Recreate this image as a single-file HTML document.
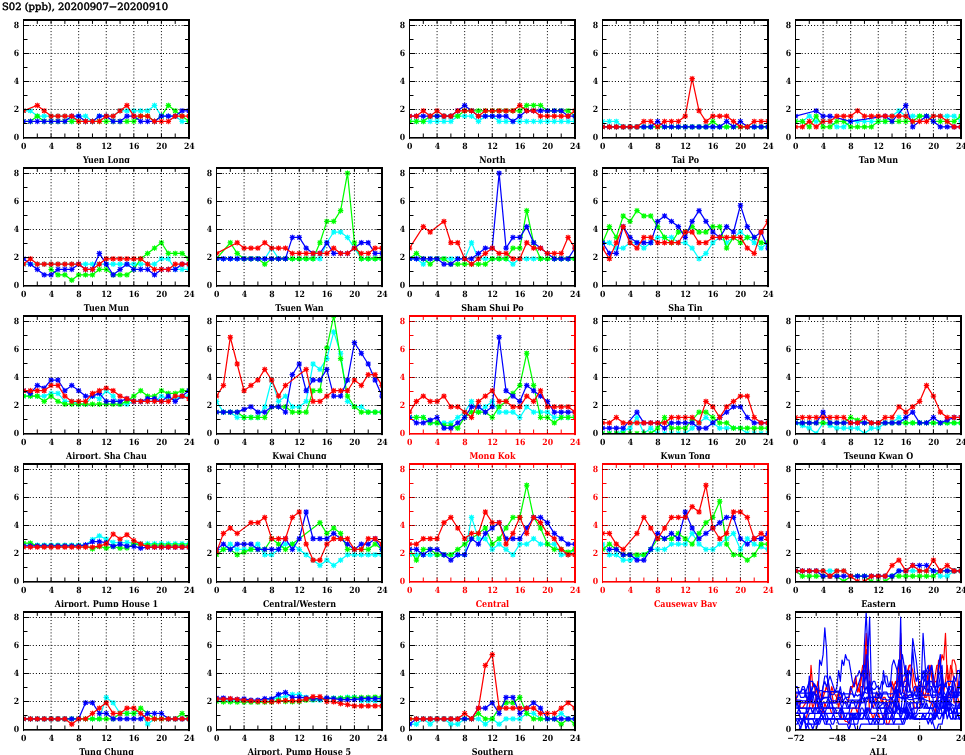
<!DOCTYPE html><html><head><meta charset="utf-8"><title>SO2 (ppb) 20200907-20200910</title><style>html,body{margin:0;padding:0;background:#fff;}svg{display:block;will-change:transform;}text{font-family:"DejaVu Serif Condensed","DejaVu Serif","Liberation Serif",serif;font-weight:bold;font-stretch:condensed;text-rendering:geometricPrecision;}</style></head><body>
<svg width="965" height="755" viewBox="0 0 965 755">
<defs>
<clipPath id="lc0"><rect x="0" y="140" width="965" height="23"/></clipPath>
<clipPath id="lc1"><rect x="0" y="288" width="965" height="23"/></clipPath>
<clipPath id="lc2"><rect x="0" y="436" width="965" height="23"/></clipPath>
<clipPath id="lc3"><rect x="0" y="584" width="965" height="23"/></clipPath>
<clipPath id="lc4"><rect x="0" y="732" width="965" height="23"/></clipPath>
</defs>
<text x="2" y="10.3" font-size="10" style="font-weight:normal" stroke="#000" stroke-width="0.45" textLength="166" lengthAdjust="spacingAndGlyphs">S02 (ppb), 20200907&#8722;20200910</text>
<g><clipPath id="pc00"><rect x="23.5" y="19.9" width="165.5" height="117.6"/></clipPath><g clip-path="url(#pc00)"><polyline points="23.5,110.76 30.4,110.76 37.29,116.11 44.19,116.11 51.08,116.11 57.98,116.11 64.88,116.11 71.77,121.46 78.67,116.11 85.56,116.11 92.46,121.46 99.35,116.11 106.25,116.11 113.15,116.11 120.04,110.76 126.94,110.76 133.83,110.76 140.73,110.76 147.62,110.76 154.52,105.41 161.42,116.11 168.31,116.11 175.21,116.11 182.1,121.46 189,121.46" fill="none" stroke="#00ffff" stroke-width="1.25" stroke-linejoin="round"/><path d="M21.2 110.76h4.6M23.5 108.46v4.6M21.75 109.01l3.5 3.5M21.75 112.51l3.5-3.5M28.1 110.76h4.6M30.4 108.46v4.6M28.65 109.01l3.5 3.5M28.65 112.51l3.5-3.5M34.99 116.11h4.6M37.29 113.81v4.6M35.54 114.36l3.5 3.5M35.54 117.86l3.5-3.5M41.89 116.11h4.6M44.19 113.81v4.6M42.44 114.36l3.5 3.5M42.44 117.86l3.5-3.5M48.78 116.11h4.6M51.08 113.81v4.6M49.33 114.36l3.5 3.5M49.33 117.86l3.5-3.5M55.68 116.11h4.6M57.98 113.81v4.6M56.23 114.36l3.5 3.5M56.23 117.86l3.5-3.5M62.58 116.11h4.6M64.88 113.81v4.6M63.12 114.36l3.5 3.5M63.12 117.86l3.5-3.5M69.47 121.46h4.6M71.77 119.16v4.6M70.02 119.71l3.5 3.5M70.02 123.21l3.5-3.5M76.37 116.11h4.6M78.67 113.81v4.6M76.92 114.36l3.5 3.5M76.92 117.86l3.5-3.5M83.26 116.11h4.6M85.56 113.81v4.6M83.81 114.36l3.5 3.5M83.81 117.86l3.5-3.5M90.16 121.46h4.6M92.46 119.16v4.6M90.71 119.71l3.5 3.5M90.71 123.21l3.5-3.5M97.05 116.11h4.6M99.35 113.81v4.6M97.6 114.36l3.5 3.5M97.6 117.86l3.5-3.5M103.95 116.11h4.6M106.25 113.81v4.6M104.5 114.36l3.5 3.5M104.5 117.86l3.5-3.5M110.85 116.11h4.6M113.15 113.81v4.6M111.4 114.36l3.5 3.5M111.4 117.86l3.5-3.5M117.74 110.76h4.6M120.04 108.46v4.6M118.29 109.01l3.5 3.5M118.29 112.51l3.5-3.5M124.64 110.76h4.6M126.94 108.46v4.6M125.19 109.01l3.5 3.5M125.19 112.51l3.5-3.5M131.53 110.76h4.6M133.83 108.46v4.6M132.08 109.01l3.5 3.5M132.08 112.51l3.5-3.5M138.43 110.76h4.6M140.73 108.46v4.6M138.98 109.01l3.5 3.5M138.98 112.51l3.5-3.5M145.32 110.76h4.6M147.62 108.46v4.6M145.88 109.01l3.5 3.5M145.88 112.51l3.5-3.5M152.22 105.41h4.6M154.52 103.11v4.6M152.77 103.66l3.5 3.5M152.77 107.16l3.5-3.5M159.12 116.11h4.6M161.42 113.81v4.6M159.67 114.36l3.5 3.5M159.67 117.86l3.5-3.5M166.01 116.11h4.6M168.31 113.81v4.6M166.56 114.36l3.5 3.5M166.56 117.86l3.5-3.5M172.91 116.11h4.6M175.21 113.81v4.6M173.46 114.36l3.5 3.5M173.46 117.86l3.5-3.5M179.8 121.46h4.6M182.1 119.16v4.6M180.35 119.71l3.5 3.5M180.35 123.21l3.5-3.5M186.7 121.46h4.6M189 119.16v4.6M187.25 119.71l3.5 3.5M187.25 123.21l3.5-3.5" stroke="#00ffff" stroke-width="1.15" stroke-linecap="round" fill="none"/><polyline points="23.5,121.46 30.4,121.46 37.29,116.11 44.19,121.46 51.08,121.46 57.98,121.46 64.88,121.46 71.77,121.46 78.67,121.46 85.56,121.46 92.46,121.46 99.35,121.46 106.25,121.46 113.15,121.46 120.04,121.46 126.94,121.46 133.83,121.46 140.73,116.11 147.62,116.11 154.52,121.46 161.42,116.11 168.31,105.41 175.21,110.76 182.1,116.11 189,121.46" fill="none" stroke="#00ff00" stroke-width="1.25" stroke-linejoin="round"/><path d="M21.2 121.46h4.6M23.5 119.16v4.6M21.75 119.71l3.5 3.5M21.75 123.21l3.5-3.5M28.1 121.46h4.6M30.4 119.16v4.6M28.65 119.71l3.5 3.5M28.65 123.21l3.5-3.5M34.99 116.11h4.6M37.29 113.81v4.6M35.54 114.36l3.5 3.5M35.54 117.86l3.5-3.5M41.89 121.46h4.6M44.19 119.16v4.6M42.44 119.71l3.5 3.5M42.44 123.21l3.5-3.5M48.78 121.46h4.6M51.08 119.16v4.6M49.33 119.71l3.5 3.5M49.33 123.21l3.5-3.5M55.68 121.46h4.6M57.98 119.16v4.6M56.23 119.71l3.5 3.5M56.23 123.21l3.5-3.5M62.58 121.46h4.6M64.88 119.16v4.6M63.12 119.71l3.5 3.5M63.12 123.21l3.5-3.5M69.47 121.46h4.6M71.77 119.16v4.6M70.02 119.71l3.5 3.5M70.02 123.21l3.5-3.5M76.37 121.46h4.6M78.67 119.16v4.6M76.92 119.71l3.5 3.5M76.92 123.21l3.5-3.5M83.26 121.46h4.6M85.56 119.16v4.6M83.81 119.71l3.5 3.5M83.81 123.21l3.5-3.5M90.16 121.46h4.6M92.46 119.16v4.6M90.71 119.71l3.5 3.5M90.71 123.21l3.5-3.5M97.05 121.46h4.6M99.35 119.16v4.6M97.6 119.71l3.5 3.5M97.6 123.21l3.5-3.5M103.95 121.46h4.6M106.25 119.16v4.6M104.5 119.71l3.5 3.5M104.5 123.21l3.5-3.5M110.85 121.46h4.6M113.15 119.16v4.6M111.4 119.71l3.5 3.5M111.4 123.21l3.5-3.5M117.74 121.46h4.6M120.04 119.16v4.6M118.29 119.71l3.5 3.5M118.29 123.21l3.5-3.5M124.64 121.46h4.6M126.94 119.16v4.6M125.19 119.71l3.5 3.5M125.19 123.21l3.5-3.5M131.53 121.46h4.6M133.83 119.16v4.6M132.08 119.71l3.5 3.5M132.08 123.21l3.5-3.5M138.43 116.11h4.6M140.73 113.81v4.6M138.98 114.36l3.5 3.5M138.98 117.86l3.5-3.5M145.32 116.11h4.6M147.62 113.81v4.6M145.88 114.36l3.5 3.5M145.88 117.86l3.5-3.5M152.22 121.46h4.6M154.52 119.16v4.6M152.77 119.71l3.5 3.5M152.77 123.21l3.5-3.5M159.12 116.11h4.6M161.42 113.81v4.6M159.67 114.36l3.5 3.5M159.67 117.86l3.5-3.5M166.01 105.41h4.6M168.31 103.11v4.6M166.56 103.66l3.5 3.5M166.56 107.16l3.5-3.5M172.91 110.76h4.6M175.21 108.46v4.6M173.46 109.01l3.5 3.5M173.46 112.51l3.5-3.5M179.8 116.11h4.6M182.1 113.81v4.6M180.35 114.36l3.5 3.5M180.35 117.86l3.5-3.5M186.7 121.46h4.6M189 119.16v4.6M187.25 119.71l3.5 3.5M187.25 123.21l3.5-3.5" stroke="#00ff00" stroke-width="1.15" stroke-linecap="round" fill="none"/><polyline points="23.5,121.46 30.4,121.46 37.29,121.46 44.19,121.46 51.08,121.46 57.98,121.46 64.88,121.46 71.77,116.11 78.67,116.11 85.56,121.46 92.46,121.46 99.35,116.11 106.25,116.11 113.15,121.46 120.04,121.46 126.94,116.11 133.83,116.11 140.73,121.46 147.62,121.46 154.52,121.46 161.42,116.11 168.31,116.11 175.21,116.11 182.1,110.76 189,110.76" fill="none" stroke="#0000ff" stroke-width="1.25" stroke-linejoin="round"/><path d="M21.2 121.46h4.6M23.5 119.16v4.6M21.75 119.71l3.5 3.5M21.75 123.21l3.5-3.5M28.1 121.46h4.6M30.4 119.16v4.6M28.65 119.71l3.5 3.5M28.65 123.21l3.5-3.5M34.99 121.46h4.6M37.29 119.16v4.6M35.54 119.71l3.5 3.5M35.54 123.21l3.5-3.5M41.89 121.46h4.6M44.19 119.16v4.6M42.44 119.71l3.5 3.5M42.44 123.21l3.5-3.5M48.78 121.46h4.6M51.08 119.16v4.6M49.33 119.71l3.5 3.5M49.33 123.21l3.5-3.5M55.68 121.46h4.6M57.98 119.16v4.6M56.23 119.71l3.5 3.5M56.23 123.21l3.5-3.5M62.58 121.46h4.6M64.88 119.16v4.6M63.12 119.71l3.5 3.5M63.12 123.21l3.5-3.5M69.47 116.11h4.6M71.77 113.81v4.6M70.02 114.36l3.5 3.5M70.02 117.86l3.5-3.5M76.37 116.11h4.6M78.67 113.81v4.6M76.92 114.36l3.5 3.5M76.92 117.86l3.5-3.5M83.26 121.46h4.6M85.56 119.16v4.6M83.81 119.71l3.5 3.5M83.81 123.21l3.5-3.5M90.16 121.46h4.6M92.46 119.16v4.6M90.71 119.71l3.5 3.5M90.71 123.21l3.5-3.5M97.05 116.11h4.6M99.35 113.81v4.6M97.6 114.36l3.5 3.5M97.6 117.86l3.5-3.5M103.95 116.11h4.6M106.25 113.81v4.6M104.5 114.36l3.5 3.5M104.5 117.86l3.5-3.5M110.85 121.46h4.6M113.15 119.16v4.6M111.4 119.71l3.5 3.5M111.4 123.21l3.5-3.5M117.74 121.46h4.6M120.04 119.16v4.6M118.29 119.71l3.5 3.5M118.29 123.21l3.5-3.5M124.64 116.11h4.6M126.94 113.81v4.6M125.19 114.36l3.5 3.5M125.19 117.86l3.5-3.5M131.53 116.11h4.6M133.83 113.81v4.6M132.08 114.36l3.5 3.5M132.08 117.86l3.5-3.5M138.43 121.46h4.6M140.73 119.16v4.6M138.98 119.71l3.5 3.5M138.98 123.21l3.5-3.5M145.32 121.46h4.6M147.62 119.16v4.6M145.88 119.71l3.5 3.5M145.88 123.21l3.5-3.5M152.22 121.46h4.6M154.52 119.16v4.6M152.77 119.71l3.5 3.5M152.77 123.21l3.5-3.5M159.12 116.11h4.6M161.42 113.81v4.6M159.67 114.36l3.5 3.5M159.67 117.86l3.5-3.5M166.01 116.11h4.6M168.31 113.81v4.6M166.56 114.36l3.5 3.5M166.56 117.86l3.5-3.5M172.91 116.11h4.6M175.21 113.81v4.6M173.46 114.36l3.5 3.5M173.46 117.86l3.5-3.5M179.8 110.76h4.6M182.1 108.46v4.6M180.35 109.01l3.5 3.5M180.35 112.51l3.5-3.5M186.7 110.76h4.6M189 108.46v4.6M187.25 109.01l3.5 3.5M187.25 112.51l3.5-3.5" stroke="#0000ff" stroke-width="1.15" stroke-linecap="round" fill="none"/><polyline points="23.5,110.76 37.29,105.41 44.19,110.76 51.08,116.11 57.98,116.11 64.88,116.11 71.77,116.11 78.67,121.46 85.56,121.46 92.46,121.46 99.35,121.46 106.25,116.11 113.15,116.11 120.04,110.76 126.94,105.41 133.83,116.11 140.73,116.11 147.62,116.11 154.52,121.46 161.42,121.46 168.31,121.46 175.21,116.11 182.1,116.11 189,116.11" fill="none" stroke="#ff0000" stroke-width="1.25" stroke-linejoin="round"/><path d="M21.2 110.76h4.6M23.5 108.46v4.6M21.75 109.01l3.5 3.5M21.75 112.51l3.5-3.5M34.99 105.41h4.6M37.29 103.11v4.6M35.54 103.66l3.5 3.5M35.54 107.16l3.5-3.5M41.89 110.76h4.6M44.19 108.46v4.6M42.44 109.01l3.5 3.5M42.44 112.51l3.5-3.5M48.78 116.11h4.6M51.08 113.81v4.6M49.33 114.36l3.5 3.5M49.33 117.86l3.5-3.5M55.68 116.11h4.6M57.98 113.81v4.6M56.23 114.36l3.5 3.5M56.23 117.86l3.5-3.5M62.58 116.11h4.6M64.88 113.81v4.6M63.12 114.36l3.5 3.5M63.12 117.86l3.5-3.5M69.47 116.11h4.6M71.77 113.81v4.6M70.02 114.36l3.5 3.5M70.02 117.86l3.5-3.5M76.37 121.46h4.6M78.67 119.16v4.6M76.92 119.71l3.5 3.5M76.92 123.21l3.5-3.5M83.26 121.46h4.6M85.56 119.16v4.6M83.81 119.71l3.5 3.5M83.81 123.21l3.5-3.5M90.16 121.46h4.6M92.46 119.16v4.6M90.71 119.71l3.5 3.5M90.71 123.21l3.5-3.5M97.05 121.46h4.6M99.35 119.16v4.6M97.6 119.71l3.5 3.5M97.6 123.21l3.5-3.5M103.95 116.11h4.6M106.25 113.81v4.6M104.5 114.36l3.5 3.5M104.5 117.86l3.5-3.5M110.85 116.11h4.6M113.15 113.81v4.6M111.4 114.36l3.5 3.5M111.4 117.86l3.5-3.5M117.74 110.76h4.6M120.04 108.46v4.6M118.29 109.01l3.5 3.5M118.29 112.51l3.5-3.5M124.64 105.41h4.6M126.94 103.11v4.6M125.19 103.66l3.5 3.5M125.19 107.16l3.5-3.5M131.53 116.11h4.6M133.83 113.81v4.6M132.08 114.36l3.5 3.5M132.08 117.86l3.5-3.5M138.43 116.11h4.6M140.73 113.81v4.6M138.98 114.36l3.5 3.5M138.98 117.86l3.5-3.5M145.32 116.11h4.6M147.62 113.81v4.6M145.88 114.36l3.5 3.5M145.88 117.86l3.5-3.5M152.22 121.46h4.6M154.52 119.16v4.6M152.77 119.71l3.5 3.5M152.77 123.21l3.5-3.5M159.12 121.46h4.6M161.42 119.16v4.6M159.67 119.71l3.5 3.5M159.67 123.21l3.5-3.5M166.01 121.46h4.6M168.31 119.16v4.6M166.56 119.71l3.5 3.5M166.56 123.21l3.5-3.5M172.91 116.11h4.6M175.21 113.81v4.6M173.46 114.36l3.5 3.5M173.46 117.86l3.5-3.5M179.8 116.11h4.6M182.1 113.81v4.6M180.35 114.36l3.5 3.5M180.35 117.86l3.5-3.5M186.7 116.11h4.6M189 113.81v4.6M187.25 114.36l3.5 3.5M187.25 117.86l3.5-3.5" stroke="#ff0000" stroke-width="1.15" stroke-linecap="round" fill="none"/></g><path d="M23.5 137.5v-4M23.5 19.9v4M37.29 137.5v-4M37.29 19.9v4M51.08 137.5v-4M51.08 19.9v4M64.88 137.5v-4M64.88 19.9v4M78.67 137.5v-4M78.67 19.9v4M92.46 137.5v-4M92.46 19.9v4M106.25 137.5v-4M106.25 19.9v4M120.04 137.5v-4M120.04 19.9v4M133.83 137.5v-4M133.83 19.9v4M147.62 137.5v-4M147.62 19.9v4M161.42 137.5v-4M161.42 19.9v4M175.21 137.5v-4M175.21 19.9v4M189 137.5v-4M189 19.9v4M23.5 137.5h5.5M189 137.5h-5.5M23.5 123.5h4M189 123.5h-4M23.5 109.5h5.5M189 109.5h-5.5M23.5 95.5h4M189 95.5h-4M23.5 81.5h5.5M189 81.5h-5.5M23.5 67.5h4M189 67.5h-4M23.5 53.5h5.5M189 53.5h-5.5M23.5 39.5h4M189 39.5h-4M23.5 25.5h5.5M189 25.5h-5.5" stroke="#000" stroke-width="1" fill="none"/><rect x="23" y="19" width="1" height="120.1" fill="#000"/><rect x="188" y="19" width="2" height="120.1" fill="#000"/><rect x="23" y="19" width="167" height="2" fill="#000"/><rect x="23" y="137" width="167" height="1.6" fill="#000"/><line x1="23.5" y1="109.5" x2="189" y2="109.5" stroke="#000" stroke-width="1" stroke-dasharray="1 2.1"/><line x1="23.5" y1="81.5" x2="189" y2="81.5" stroke="#000" stroke-width="1" stroke-dasharray="1 2.1"/><line x1="23.5" y1="53.5" x2="189" y2="53.5" stroke="#000" stroke-width="1" stroke-dasharray="1 2.1"/><line x1="23.5" y1="25.5" x2="189" y2="25.5" stroke="#000" stroke-width="1" stroke-dasharray="1 2.1"/><line x1="51.08" y1="137.5" x2="51.08" y2="19.9" stroke="#000" stroke-width="1" stroke-dasharray="1 2.1"/><line x1="78.67" y1="137.5" x2="78.67" y2="19.9" stroke="#000" stroke-width="1" stroke-dasharray="1 2.1"/><line x1="106.25" y1="137.5" x2="106.25" y2="19.9" stroke="#000" stroke-width="1" stroke-dasharray="1 2.1"/><line x1="133.83" y1="137.5" x2="133.83" y2="19.9" stroke="#000" stroke-width="1" stroke-dasharray="1 2.1"/><line x1="161.42" y1="137.5" x2="161.42" y2="19.9" stroke="#000" stroke-width="1" stroke-dasharray="1 2.1"/><text x="19.2" y="139.9" font-size="8.6" text-anchor="end" fill="#000">0</text><text x="19.2" y="111.9" font-size="8.6" text-anchor="end" fill="#000">2</text><text x="19.2" y="83.9" font-size="8.6" text-anchor="end" fill="#000">4</text><text x="19.2" y="55.9" font-size="8.6" text-anchor="end" fill="#000">6</text><text x="19.2" y="27.9" font-size="8.6" text-anchor="end" fill="#000">8</text><text x="23.8" y="149" font-size="8.6" text-anchor="middle" fill="#000">0</text><text x="51.38" y="149" font-size="8.6" text-anchor="middle" fill="#000">4</text><text x="78.97" y="149" font-size="8.6" text-anchor="middle" fill="#000">8</text><text x="106.55" y="149" font-size="8.6" text-anchor="middle" fill="#000">12</text><text x="134.13" y="149" font-size="8.6" text-anchor="middle" fill="#000">16</text><text x="161.72" y="149" font-size="8.6" text-anchor="middle" fill="#000">20</text><text x="189.3" y="149" font-size="8.6" text-anchor="middle" fill="#000">24</text><text x="106.45" y="162.6" font-size="9.2" text-anchor="middle" textLength="46.86" lengthAdjust="spacingAndGlyphs" fill="#000" clip-path="url(#lc0)">Yuen Long</text></g>
<g><clipPath id="pc02"><rect x="409.5" y="19.9" width="165.5" height="117.6"/></clipPath><g clip-path="url(#pc02)"><polyline points="409.5,121.46 416.4,121.46 423.29,121.46 430.19,121.46 437.08,121.46 443.98,121.46 450.88,121.46 457.77,116.11 464.67,116.11 471.56,116.11 478.46,121.46 485.35,116.11 492.25,116.11 499.15,121.46 506.04,121.46 512.94,121.46 519.83,121.46 526.73,121.46 533.62,121.46 540.52,121.46 547.42,121.46 554.31,121.46 561.21,121.46 568.1,121.46 575,121.46" fill="none" stroke="#00ffff" stroke-width="1.25" stroke-linejoin="round"/><path d="M407.2 121.46h4.6M409.5 119.16v4.6M407.75 119.71l3.5 3.5M407.75 123.21l3.5-3.5M414.1 121.46h4.6M416.4 119.16v4.6M414.65 119.71l3.5 3.5M414.65 123.21l3.5-3.5M420.99 121.46h4.6M423.29 119.16v4.6M421.54 119.71l3.5 3.5M421.54 123.21l3.5-3.5M427.89 121.46h4.6M430.19 119.16v4.6M428.44 119.71l3.5 3.5M428.44 123.21l3.5-3.5M434.78 121.46h4.6M437.08 119.16v4.6M435.33 119.71l3.5 3.5M435.33 123.21l3.5-3.5M441.68 121.46h4.6M443.98 119.16v4.6M442.23 119.71l3.5 3.5M442.23 123.21l3.5-3.5M448.57 121.46h4.6M450.88 119.16v4.6M449.12 119.71l3.5 3.5M449.12 123.21l3.5-3.5M455.47 116.11h4.6M457.77 113.81v4.6M456.02 114.36l3.5 3.5M456.02 117.86l3.5-3.5M462.37 116.11h4.6M464.67 113.81v4.6M462.92 114.36l3.5 3.5M462.92 117.86l3.5-3.5M469.26 116.11h4.6M471.56 113.81v4.6M469.81 114.36l3.5 3.5M469.81 117.86l3.5-3.5M476.16 121.46h4.6M478.46 119.16v4.6M476.71 119.71l3.5 3.5M476.71 123.21l3.5-3.5M483.05 116.11h4.6M485.35 113.81v4.6M483.6 114.36l3.5 3.5M483.6 117.86l3.5-3.5M489.95 116.11h4.6M492.25 113.81v4.6M490.5 114.36l3.5 3.5M490.5 117.86l3.5-3.5M496.85 121.46h4.6M499.15 119.16v4.6M497.4 119.71l3.5 3.5M497.4 123.21l3.5-3.5M503.74 121.46h4.6M506.04 119.16v4.6M504.29 119.71l3.5 3.5M504.29 123.21l3.5-3.5M510.64 121.46h4.6M512.94 119.16v4.6M511.19 119.71l3.5 3.5M511.19 123.21l3.5-3.5M517.53 121.46h4.6M519.83 119.16v4.6M518.08 119.71l3.5 3.5M518.08 123.21l3.5-3.5M524.43 121.46h4.6M526.73 119.16v4.6M524.98 119.71l3.5 3.5M524.98 123.21l3.5-3.5M531.33 121.46h4.6M533.62 119.16v4.6M531.88 119.71l3.5 3.5M531.88 123.21l3.5-3.5M538.22 121.46h4.6M540.52 119.16v4.6M538.77 119.71l3.5 3.5M538.77 123.21l3.5-3.5M545.12 121.46h4.6M547.42 119.16v4.6M545.67 119.71l3.5 3.5M545.67 123.21l3.5-3.5M552.01 121.46h4.6M554.31 119.16v4.6M552.56 119.71l3.5 3.5M552.56 123.21l3.5-3.5M558.91 121.46h4.6M561.21 119.16v4.6M559.46 119.71l3.5 3.5M559.46 123.21l3.5-3.5M565.8 121.46h4.6M568.1 119.16v4.6M566.35 119.71l3.5 3.5M566.35 123.21l3.5-3.5M572.7 121.46h4.6M575 119.16v4.6M573.25 119.71l3.5 3.5M573.25 123.21l3.5-3.5" stroke="#00ffff" stroke-width="1.15" stroke-linecap="round" fill="none"/><polyline points="409.5,121.46 416.4,121.46 423.29,121.46 430.19,116.11 437.08,116.11 443.98,116.11 450.88,116.11 457.77,116.11 464.67,110.76 471.56,110.76 478.46,110.76 485.35,110.76 492.25,110.76 499.15,110.76 506.04,110.76 512.94,110.76 519.83,110.76 526.73,105.41 533.62,105.41 540.52,105.41 547.42,110.76 554.31,110.76 561.21,110.76 568.1,110.76 575,116.11" fill="none" stroke="#00ff00" stroke-width="1.25" stroke-linejoin="round"/><path d="M407.2 121.46h4.6M409.5 119.16v4.6M407.75 119.71l3.5 3.5M407.75 123.21l3.5-3.5M414.1 121.46h4.6M416.4 119.16v4.6M414.65 119.71l3.5 3.5M414.65 123.21l3.5-3.5M420.99 121.46h4.6M423.29 119.16v4.6M421.54 119.71l3.5 3.5M421.54 123.21l3.5-3.5M427.89 116.11h4.6M430.19 113.81v4.6M428.44 114.36l3.5 3.5M428.44 117.86l3.5-3.5M434.78 116.11h4.6M437.08 113.81v4.6M435.33 114.36l3.5 3.5M435.33 117.86l3.5-3.5M441.68 116.11h4.6M443.98 113.81v4.6M442.23 114.36l3.5 3.5M442.23 117.86l3.5-3.5M448.57 116.11h4.6M450.88 113.81v4.6M449.12 114.36l3.5 3.5M449.12 117.86l3.5-3.5M455.47 116.11h4.6M457.77 113.81v4.6M456.02 114.36l3.5 3.5M456.02 117.86l3.5-3.5M462.37 110.76h4.6M464.67 108.46v4.6M462.92 109.01l3.5 3.5M462.92 112.51l3.5-3.5M469.26 110.76h4.6M471.56 108.46v4.6M469.81 109.01l3.5 3.5M469.81 112.51l3.5-3.5M476.16 110.76h4.6M478.46 108.46v4.6M476.71 109.01l3.5 3.5M476.71 112.51l3.5-3.5M483.05 110.76h4.6M485.35 108.46v4.6M483.6 109.01l3.5 3.5M483.6 112.51l3.5-3.5M489.95 110.76h4.6M492.25 108.46v4.6M490.5 109.01l3.5 3.5M490.5 112.51l3.5-3.5M496.85 110.76h4.6M499.15 108.46v4.6M497.4 109.01l3.5 3.5M497.4 112.51l3.5-3.5M503.74 110.76h4.6M506.04 108.46v4.6M504.29 109.01l3.5 3.5M504.29 112.51l3.5-3.5M510.64 110.76h4.6M512.94 108.46v4.6M511.19 109.01l3.5 3.5M511.19 112.51l3.5-3.5M517.53 110.76h4.6M519.83 108.46v4.6M518.08 109.01l3.5 3.5M518.08 112.51l3.5-3.5M524.43 105.41h4.6M526.73 103.11v4.6M524.98 103.66l3.5 3.5M524.98 107.16l3.5-3.5M531.33 105.41h4.6M533.62 103.11v4.6M531.88 103.66l3.5 3.5M531.88 107.16l3.5-3.5M538.22 105.41h4.6M540.52 103.11v4.6M538.77 103.66l3.5 3.5M538.77 107.16l3.5-3.5M545.12 110.76h4.6M547.42 108.46v4.6M545.67 109.01l3.5 3.5M545.67 112.51l3.5-3.5M552.01 110.76h4.6M554.31 108.46v4.6M552.56 109.01l3.5 3.5M552.56 112.51l3.5-3.5M558.91 110.76h4.6M561.21 108.46v4.6M559.46 109.01l3.5 3.5M559.46 112.51l3.5-3.5M565.8 110.76h4.6M568.1 108.46v4.6M566.35 109.01l3.5 3.5M566.35 112.51l3.5-3.5M572.7 116.11h4.6M575 113.81v4.6M573.25 114.36l3.5 3.5M573.25 117.86l3.5-3.5" stroke="#00ff00" stroke-width="1.15" stroke-linecap="round" fill="none"/><polyline points="409.5,116.11 416.4,116.11 423.29,116.11 430.19,116.11 437.08,116.11 443.98,116.11 450.88,116.11 457.77,110.76 464.67,105.41 471.56,110.76 478.46,116.11 485.35,116.11 492.25,116.11 499.15,116.11 506.04,116.11 512.94,121.46 519.83,116.11 526.73,110.76 533.62,110.76 540.52,110.76 547.42,110.76 554.31,110.76 561.21,110.76 568.1,116.11 575,116.11" fill="none" stroke="#0000ff" stroke-width="1.25" stroke-linejoin="round"/><path d="M407.2 116.11h4.6M409.5 113.81v4.6M407.75 114.36l3.5 3.5M407.75 117.86l3.5-3.5M414.1 116.11h4.6M416.4 113.81v4.6M414.65 114.36l3.5 3.5M414.65 117.86l3.5-3.5M420.99 116.11h4.6M423.29 113.81v4.6M421.54 114.36l3.5 3.5M421.54 117.86l3.5-3.5M427.89 116.11h4.6M430.19 113.81v4.6M428.44 114.36l3.5 3.5M428.44 117.86l3.5-3.5M434.78 116.11h4.6M437.08 113.81v4.6M435.33 114.36l3.5 3.5M435.33 117.86l3.5-3.5M441.68 116.11h4.6M443.98 113.81v4.6M442.23 114.36l3.5 3.5M442.23 117.86l3.5-3.5M448.57 116.11h4.6M450.88 113.81v4.6M449.12 114.36l3.5 3.5M449.12 117.86l3.5-3.5M455.47 110.76h4.6M457.77 108.46v4.6M456.02 109.01l3.5 3.5M456.02 112.51l3.5-3.5M462.37 105.41h4.6M464.67 103.11v4.6M462.92 103.66l3.5 3.5M462.92 107.16l3.5-3.5M469.26 110.76h4.6M471.56 108.46v4.6M469.81 109.01l3.5 3.5M469.81 112.51l3.5-3.5M476.16 116.11h4.6M478.46 113.81v4.6M476.71 114.36l3.5 3.5M476.71 117.86l3.5-3.5M483.05 116.11h4.6M485.35 113.81v4.6M483.6 114.36l3.5 3.5M483.6 117.86l3.5-3.5M489.95 116.11h4.6M492.25 113.81v4.6M490.5 114.36l3.5 3.5M490.5 117.86l3.5-3.5M496.85 116.11h4.6M499.15 113.81v4.6M497.4 114.36l3.5 3.5M497.4 117.86l3.5-3.5M503.74 116.11h4.6M506.04 113.81v4.6M504.29 114.36l3.5 3.5M504.29 117.86l3.5-3.5M510.64 121.46h4.6M512.94 119.16v4.6M511.19 119.71l3.5 3.5M511.19 123.21l3.5-3.5M517.53 116.11h4.6M519.83 113.81v4.6M518.08 114.36l3.5 3.5M518.08 117.86l3.5-3.5M524.43 110.76h4.6M526.73 108.46v4.6M524.98 109.01l3.5 3.5M524.98 112.51l3.5-3.5M531.33 110.76h4.6M533.62 108.46v4.6M531.88 109.01l3.5 3.5M531.88 112.51l3.5-3.5M538.22 110.76h4.6M540.52 108.46v4.6M538.77 109.01l3.5 3.5M538.77 112.51l3.5-3.5M545.12 110.76h4.6M547.42 108.46v4.6M545.67 109.01l3.5 3.5M545.67 112.51l3.5-3.5M552.01 110.76h4.6M554.31 108.46v4.6M552.56 109.01l3.5 3.5M552.56 112.51l3.5-3.5M558.91 110.76h4.6M561.21 108.46v4.6M559.46 109.01l3.5 3.5M559.46 112.51l3.5-3.5M565.8 116.11h4.6M568.1 113.81v4.6M566.35 114.36l3.5 3.5M566.35 117.86l3.5-3.5M572.7 116.11h4.6M575 113.81v4.6M573.25 114.36l3.5 3.5M573.25 117.86l3.5-3.5" stroke="#0000ff" stroke-width="1.15" stroke-linecap="round" fill="none"/><polyline points="409.5,116.11 416.4,116.11 423.29,110.76 430.19,116.11 437.08,110.76 443.98,116.11 450.88,116.11 457.77,110.76 464.67,110.76 471.56,110.76 478.46,116.11 485.35,110.76 492.25,110.76 499.15,110.76 506.04,110.76 512.94,110.76 519.83,105.41 526.73,110.76 533.62,110.76 540.52,116.11 547.42,116.11 554.31,116.11 561.21,116.11 568.1,116.11 575,110.76" fill="none" stroke="#ff0000" stroke-width="1.25" stroke-linejoin="round"/><path d="M407.2 116.11h4.6M409.5 113.81v4.6M407.75 114.36l3.5 3.5M407.75 117.86l3.5-3.5M414.1 116.11h4.6M416.4 113.81v4.6M414.65 114.36l3.5 3.5M414.65 117.86l3.5-3.5M420.99 110.76h4.6M423.29 108.46v4.6M421.54 109.01l3.5 3.5M421.54 112.51l3.5-3.5M427.89 116.11h4.6M430.19 113.81v4.6M428.44 114.36l3.5 3.5M428.44 117.86l3.5-3.5M434.78 110.76h4.6M437.08 108.46v4.6M435.33 109.01l3.5 3.5M435.33 112.51l3.5-3.5M441.68 116.11h4.6M443.98 113.81v4.6M442.23 114.36l3.5 3.5M442.23 117.86l3.5-3.5M448.57 116.11h4.6M450.88 113.81v4.6M449.12 114.36l3.5 3.5M449.12 117.86l3.5-3.5M455.47 110.76h4.6M457.77 108.46v4.6M456.02 109.01l3.5 3.5M456.02 112.51l3.5-3.5M462.37 110.76h4.6M464.67 108.46v4.6M462.92 109.01l3.5 3.5M462.92 112.51l3.5-3.5M469.26 110.76h4.6M471.56 108.46v4.6M469.81 109.01l3.5 3.5M469.81 112.51l3.5-3.5M476.16 116.11h4.6M478.46 113.81v4.6M476.71 114.36l3.5 3.5M476.71 117.86l3.5-3.5M483.05 110.76h4.6M485.35 108.46v4.6M483.6 109.01l3.5 3.5M483.6 112.51l3.5-3.5M489.95 110.76h4.6M492.25 108.46v4.6M490.5 109.01l3.5 3.5M490.5 112.51l3.5-3.5M496.85 110.76h4.6M499.15 108.46v4.6M497.4 109.01l3.5 3.5M497.4 112.51l3.5-3.5M503.74 110.76h4.6M506.04 108.46v4.6M504.29 109.01l3.5 3.5M504.29 112.51l3.5-3.5M510.64 110.76h4.6M512.94 108.46v4.6M511.19 109.01l3.5 3.5M511.19 112.51l3.5-3.5M517.53 105.41h4.6M519.83 103.11v4.6M518.08 103.66l3.5 3.5M518.08 107.16l3.5-3.5M524.43 110.76h4.6M526.73 108.46v4.6M524.98 109.01l3.5 3.5M524.98 112.51l3.5-3.5M531.33 110.76h4.6M533.62 108.46v4.6M531.88 109.01l3.5 3.5M531.88 112.51l3.5-3.5M538.22 116.11h4.6M540.52 113.81v4.6M538.77 114.36l3.5 3.5M538.77 117.86l3.5-3.5M545.12 116.11h4.6M547.42 113.81v4.6M545.67 114.36l3.5 3.5M545.67 117.86l3.5-3.5M552.01 116.11h4.6M554.31 113.81v4.6M552.56 114.36l3.5 3.5M552.56 117.86l3.5-3.5M558.91 116.11h4.6M561.21 113.81v4.6M559.46 114.36l3.5 3.5M559.46 117.86l3.5-3.5M565.8 116.11h4.6M568.1 113.81v4.6M566.35 114.36l3.5 3.5M566.35 117.86l3.5-3.5M572.7 110.76h4.6M575 108.46v4.6M573.25 109.01l3.5 3.5M573.25 112.51l3.5-3.5" stroke="#ff0000" stroke-width="1.15" stroke-linecap="round" fill="none"/></g><path d="M409.5 137.5v-4M409.5 19.9v4M423.29 137.5v-4M423.29 19.9v4M437.08 137.5v-4M437.08 19.9v4M450.88 137.5v-4M450.88 19.9v4M464.67 137.5v-4M464.67 19.9v4M478.46 137.5v-4M478.46 19.9v4M492.25 137.5v-4M492.25 19.9v4M506.04 137.5v-4M506.04 19.9v4M519.83 137.5v-4M519.83 19.9v4M533.62 137.5v-4M533.62 19.9v4M547.42 137.5v-4M547.42 19.9v4M561.21 137.5v-4M561.21 19.9v4M575 137.5v-4M575 19.9v4M409.5 137.5h5.5M575 137.5h-5.5M409.5 123.5h4M575 123.5h-4M409.5 109.5h5.5M575 109.5h-5.5M409.5 95.5h4M575 95.5h-4M409.5 81.5h5.5M575 81.5h-5.5M409.5 67.5h4M575 67.5h-4M409.5 53.5h5.5M575 53.5h-5.5M409.5 39.5h4M575 39.5h-4M409.5 25.5h5.5M575 25.5h-5.5" stroke="#000" stroke-width="1" fill="none"/><rect x="409" y="19" width="1" height="120.1" fill="#000"/><rect x="574" y="19" width="2" height="120.1" fill="#000"/><rect x="409" y="19" width="167" height="2" fill="#000"/><rect x="409" y="137" width="167" height="1.6" fill="#000"/><line x1="409.5" y1="109.5" x2="575" y2="109.5" stroke="#000" stroke-width="1" stroke-dasharray="1 2.1"/><line x1="409.5" y1="81.5" x2="575" y2="81.5" stroke="#000" stroke-width="1" stroke-dasharray="1 2.1"/><line x1="409.5" y1="53.5" x2="575" y2="53.5" stroke="#000" stroke-width="1" stroke-dasharray="1 2.1"/><line x1="409.5" y1="25.5" x2="575" y2="25.5" stroke="#000" stroke-width="1" stroke-dasharray="1 2.1"/><line x1="437.08" y1="137.5" x2="437.08" y2="19.9" stroke="#000" stroke-width="1" stroke-dasharray="1 2.1"/><line x1="464.67" y1="137.5" x2="464.67" y2="19.9" stroke="#000" stroke-width="1" stroke-dasharray="1 2.1"/><line x1="492.25" y1="137.5" x2="492.25" y2="19.9" stroke="#000" stroke-width="1" stroke-dasharray="1 2.1"/><line x1="519.83" y1="137.5" x2="519.83" y2="19.9" stroke="#000" stroke-width="1" stroke-dasharray="1 2.1"/><line x1="547.42" y1="137.5" x2="547.42" y2="19.9" stroke="#000" stroke-width="1" stroke-dasharray="1 2.1"/><text x="405.2" y="139.9" font-size="8.6" text-anchor="end" fill="#000">0</text><text x="405.2" y="111.9" font-size="8.6" text-anchor="end" fill="#000">2</text><text x="405.2" y="83.9" font-size="8.6" text-anchor="end" fill="#000">4</text><text x="405.2" y="55.9" font-size="8.6" text-anchor="end" fill="#000">6</text><text x="405.2" y="27.9" font-size="8.6" text-anchor="end" fill="#000">8</text><text x="409.8" y="149" font-size="8.6" text-anchor="middle" fill="#000">0</text><text x="437.38" y="149" font-size="8.6" text-anchor="middle" fill="#000">4</text><text x="464.97" y="149" font-size="8.6" text-anchor="middle" fill="#000">8</text><text x="492.55" y="149" font-size="8.6" text-anchor="middle" fill="#000">12</text><text x="520.13" y="149" font-size="8.6" text-anchor="middle" fill="#000">16</text><text x="547.72" y="149" font-size="8.6" text-anchor="middle" fill="#000">20</text><text x="575.3" y="149" font-size="8.6" text-anchor="middle" fill="#000">24</text><text x="492.45" y="162.6" font-size="9.2" text-anchor="middle" textLength="26.4" lengthAdjust="spacingAndGlyphs" fill="#000" clip-path="url(#lc0)">North</text></g>
<g><clipPath id="pc03"><rect x="602.5" y="19.9" width="165.5" height="117.6"/></clipPath><g clip-path="url(#pc03)"><polyline points="602.5,121.46 609.4,121.46 616.29,121.46 623.19,126.8 630.08,126.8 636.98,126.8 643.88,126.8 650.77,126.8 657.67,126.8 664.56,126.8 671.46,126.8 678.35,126.8 685.25,126.8 692.15,126.8 699.04,126.8 705.94,126.8 712.83,126.8 719.73,126.8 726.62,126.8 733.52,126.8 740.42,126.8 747.31,126.8 754.21,126.8 761.1,126.8 768,126.8" fill="none" stroke="#00ffff" stroke-width="1.25" stroke-linejoin="round"/><path d="M600.2 121.46h4.6M602.5 119.16v4.6M600.75 119.71l3.5 3.5M600.75 123.21l3.5-3.5M607.1 121.46h4.6M609.4 119.16v4.6M607.65 119.71l3.5 3.5M607.65 123.21l3.5-3.5M613.99 121.46h4.6M616.29 119.16v4.6M614.54 119.71l3.5 3.5M614.54 123.21l3.5-3.5M620.89 126.8h4.6M623.19 124.5v4.6M621.44 125.05l3.5 3.5M621.44 128.55l3.5-3.5M627.78 126.8h4.6M630.08 124.5v4.6M628.33 125.05l3.5 3.5M628.33 128.55l3.5-3.5M634.68 126.8h4.6M636.98 124.5v4.6M635.23 125.05l3.5 3.5M635.23 128.55l3.5-3.5M641.58 126.8h4.6M643.88 124.5v4.6M642.12 125.05l3.5 3.5M642.12 128.55l3.5-3.5M648.47 126.8h4.6M650.77 124.5v4.6M649.02 125.05l3.5 3.5M649.02 128.55l3.5-3.5M655.37 126.8h4.6M657.67 124.5v4.6M655.92 125.05l3.5 3.5M655.92 128.55l3.5-3.5M662.26 126.8h4.6M664.56 124.5v4.6M662.81 125.05l3.5 3.5M662.81 128.55l3.5-3.5M669.16 126.8h4.6M671.46 124.5v4.6M669.71 125.05l3.5 3.5M669.71 128.55l3.5-3.5M676.05 126.8h4.6M678.35 124.5v4.6M676.6 125.05l3.5 3.5M676.6 128.55l3.5-3.5M682.95 126.8h4.6M685.25 124.5v4.6M683.5 125.05l3.5 3.5M683.5 128.55l3.5-3.5M689.85 126.8h4.6M692.15 124.5v4.6M690.4 125.05l3.5 3.5M690.4 128.55l3.5-3.5M696.74 126.8h4.6M699.04 124.5v4.6M697.29 125.05l3.5 3.5M697.29 128.55l3.5-3.5M703.64 126.8h4.6M705.94 124.5v4.6M704.19 125.05l3.5 3.5M704.19 128.55l3.5-3.5M710.53 126.8h4.6M712.83 124.5v4.6M711.08 125.05l3.5 3.5M711.08 128.55l3.5-3.5M717.43 126.8h4.6M719.73 124.5v4.6M717.98 125.05l3.5 3.5M717.98 128.55l3.5-3.5M724.33 126.8h4.6M726.62 124.5v4.6M724.88 125.05l3.5 3.5M724.88 128.55l3.5-3.5M731.22 126.8h4.6M733.52 124.5v4.6M731.77 125.05l3.5 3.5M731.77 128.55l3.5-3.5M738.12 126.8h4.6M740.42 124.5v4.6M738.67 125.05l3.5 3.5M738.67 128.55l3.5-3.5M745.01 126.8h4.6M747.31 124.5v4.6M745.56 125.05l3.5 3.5M745.56 128.55l3.5-3.5M751.91 126.8h4.6M754.21 124.5v4.6M752.46 125.05l3.5 3.5M752.46 128.55l3.5-3.5M758.8 126.8h4.6M761.1 124.5v4.6M759.35 125.05l3.5 3.5M759.35 128.55l3.5-3.5M765.7 126.8h4.6M768 124.5v4.6M766.25 125.05l3.5 3.5M766.25 128.55l3.5-3.5" stroke="#00ffff" stroke-width="1.15" stroke-linecap="round" fill="none"/><polyline points="602.5,126.8 609.4,126.8 616.29,126.8 623.19,126.8 630.08,126.8 636.98,126.8 643.88,126.8 650.77,126.8 657.67,126.8 664.56,126.8 671.46,126.8 678.35,126.8 685.25,126.8 692.15,126.8 699.04,126.8 705.94,126.8 712.83,121.46 719.73,126.8 726.62,126.8 733.52,126.8 740.42,126.8 747.31,126.8 754.21,126.8 761.1,126.8 768,126.8" fill="none" stroke="#00ff00" stroke-width="1.25" stroke-linejoin="round"/><path d="M600.2 126.8h4.6M602.5 124.5v4.6M600.75 125.05l3.5 3.5M600.75 128.55l3.5-3.5M607.1 126.8h4.6M609.4 124.5v4.6M607.65 125.05l3.5 3.5M607.65 128.55l3.5-3.5M613.99 126.8h4.6M616.29 124.5v4.6M614.54 125.05l3.5 3.5M614.54 128.55l3.5-3.5M620.89 126.8h4.6M623.19 124.5v4.6M621.44 125.05l3.5 3.5M621.44 128.55l3.5-3.5M627.78 126.8h4.6M630.08 124.5v4.6M628.33 125.05l3.5 3.5M628.33 128.55l3.5-3.5M634.68 126.8h4.6M636.98 124.5v4.6M635.23 125.05l3.5 3.5M635.23 128.55l3.5-3.5M641.58 126.8h4.6M643.88 124.5v4.6M642.12 125.05l3.5 3.5M642.12 128.55l3.5-3.5M648.47 126.8h4.6M650.77 124.5v4.6M649.02 125.05l3.5 3.5M649.02 128.55l3.5-3.5M655.37 126.8h4.6M657.67 124.5v4.6M655.92 125.05l3.5 3.5M655.92 128.55l3.5-3.5M662.26 126.8h4.6M664.56 124.5v4.6M662.81 125.05l3.5 3.5M662.81 128.55l3.5-3.5M669.16 126.8h4.6M671.46 124.5v4.6M669.71 125.05l3.5 3.5M669.71 128.55l3.5-3.5M676.05 126.8h4.6M678.35 124.5v4.6M676.6 125.05l3.5 3.5M676.6 128.55l3.5-3.5M682.95 126.8h4.6M685.25 124.5v4.6M683.5 125.05l3.5 3.5M683.5 128.55l3.5-3.5M689.85 126.8h4.6M692.15 124.5v4.6M690.4 125.05l3.5 3.5M690.4 128.55l3.5-3.5M696.74 126.8h4.6M699.04 124.5v4.6M697.29 125.05l3.5 3.5M697.29 128.55l3.5-3.5M703.64 126.8h4.6M705.94 124.5v4.6M704.19 125.05l3.5 3.5M704.19 128.55l3.5-3.5M710.53 121.46h4.6M712.83 119.16v4.6M711.08 119.71l3.5 3.5M711.08 123.21l3.5-3.5M717.43 126.8h4.6M719.73 124.5v4.6M717.98 125.05l3.5 3.5M717.98 128.55l3.5-3.5M724.33 126.8h4.6M726.62 124.5v4.6M724.88 125.05l3.5 3.5M724.88 128.55l3.5-3.5M731.22 126.8h4.6M733.52 124.5v4.6M731.77 125.05l3.5 3.5M731.77 128.55l3.5-3.5M738.12 126.8h4.6M740.42 124.5v4.6M738.67 125.05l3.5 3.5M738.67 128.55l3.5-3.5M745.01 126.8h4.6M747.31 124.5v4.6M745.56 125.05l3.5 3.5M745.56 128.55l3.5-3.5M751.91 126.8h4.6M754.21 124.5v4.6M752.46 125.05l3.5 3.5M752.46 128.55l3.5-3.5M758.8 126.8h4.6M761.1 124.5v4.6M759.35 125.05l3.5 3.5M759.35 128.55l3.5-3.5M765.7 126.8h4.6M768 124.5v4.6M766.25 125.05l3.5 3.5M766.25 128.55l3.5-3.5" stroke="#00ff00" stroke-width="1.15" stroke-linecap="round" fill="none"/><polyline points="602.5,126.8 609.4,126.8 616.29,126.8 623.19,126.8 630.08,126.8 636.98,126.8 643.88,126.8 650.77,126.8 657.67,121.46 664.56,126.8 671.46,126.8 678.35,126.8 685.25,126.8 692.15,126.8 699.04,126.8 705.94,126.8 712.83,126.8 719.73,126.8 726.62,121.46 733.52,126.8 740.42,121.46 747.31,126.8 754.21,126.8 761.1,126.8 768,126.8" fill="none" stroke="#0000ff" stroke-width="1.25" stroke-linejoin="round"/><path d="M600.2 126.8h4.6M602.5 124.5v4.6M600.75 125.05l3.5 3.5M600.75 128.55l3.5-3.5M607.1 126.8h4.6M609.4 124.5v4.6M607.65 125.05l3.5 3.5M607.65 128.55l3.5-3.5M613.99 126.8h4.6M616.29 124.5v4.6M614.54 125.05l3.5 3.5M614.54 128.55l3.5-3.5M620.89 126.8h4.6M623.19 124.5v4.6M621.44 125.05l3.5 3.5M621.44 128.55l3.5-3.5M627.78 126.8h4.6M630.08 124.5v4.6M628.33 125.05l3.5 3.5M628.33 128.55l3.5-3.5M634.68 126.8h4.6M636.98 124.5v4.6M635.23 125.05l3.5 3.5M635.23 128.55l3.5-3.5M641.58 126.8h4.6M643.88 124.5v4.6M642.12 125.05l3.5 3.5M642.12 128.55l3.5-3.5M648.47 126.8h4.6M650.77 124.5v4.6M649.02 125.05l3.5 3.5M649.02 128.55l3.5-3.5M655.37 121.46h4.6M657.67 119.16v4.6M655.92 119.71l3.5 3.5M655.92 123.21l3.5-3.5M662.26 126.8h4.6M664.56 124.5v4.6M662.81 125.05l3.5 3.5M662.81 128.55l3.5-3.5M669.16 126.8h4.6M671.46 124.5v4.6M669.71 125.05l3.5 3.5M669.71 128.55l3.5-3.5M676.05 126.8h4.6M678.35 124.5v4.6M676.6 125.05l3.5 3.5M676.6 128.55l3.5-3.5M682.95 126.8h4.6M685.25 124.5v4.6M683.5 125.05l3.5 3.5M683.5 128.55l3.5-3.5M689.85 126.8h4.6M692.15 124.5v4.6M690.4 125.05l3.5 3.5M690.4 128.55l3.5-3.5M696.74 126.8h4.6M699.04 124.5v4.6M697.29 125.05l3.5 3.5M697.29 128.55l3.5-3.5M703.64 126.8h4.6M705.94 124.5v4.6M704.19 125.05l3.5 3.5M704.19 128.55l3.5-3.5M710.53 126.8h4.6M712.83 124.5v4.6M711.08 125.05l3.5 3.5M711.08 128.55l3.5-3.5M717.43 126.8h4.6M719.73 124.5v4.6M717.98 125.05l3.5 3.5M717.98 128.55l3.5-3.5M724.33 121.46h4.6M726.62 119.16v4.6M724.88 119.71l3.5 3.5M724.88 123.21l3.5-3.5M731.22 126.8h4.6M733.52 124.5v4.6M731.77 125.05l3.5 3.5M731.77 128.55l3.5-3.5M738.12 121.46h4.6M740.42 119.16v4.6M738.67 119.71l3.5 3.5M738.67 123.21l3.5-3.5M745.01 126.8h4.6M747.31 124.5v4.6M745.56 125.05l3.5 3.5M745.56 128.55l3.5-3.5M751.91 126.8h4.6M754.21 124.5v4.6M752.46 125.05l3.5 3.5M752.46 128.55l3.5-3.5M758.8 126.8h4.6M761.1 124.5v4.6M759.35 125.05l3.5 3.5M759.35 128.55l3.5-3.5M765.7 126.8h4.6M768 124.5v4.6M766.25 125.05l3.5 3.5M766.25 128.55l3.5-3.5" stroke="#0000ff" stroke-width="1.15" stroke-linecap="round" fill="none"/><polyline points="602.5,126.8 609.4,126.8 616.29,126.8 623.19,126.8 630.08,126.8 636.98,126.8 643.88,121.46 650.77,121.46 657.67,126.8 664.56,121.46 671.46,121.46 678.35,121.46 685.25,116.11 692.15,78.67 699.04,110.76 705.94,121.46 712.83,116.11 719.73,116.11 726.62,116.11 733.52,121.46 740.42,126.8 747.31,126.8 754.21,121.46 761.1,121.46 768,121.46" fill="none" stroke="#ff0000" stroke-width="1.25" stroke-linejoin="round"/><path d="M600.2 126.8h4.6M602.5 124.5v4.6M600.75 125.05l3.5 3.5M600.75 128.55l3.5-3.5M607.1 126.8h4.6M609.4 124.5v4.6M607.65 125.05l3.5 3.5M607.65 128.55l3.5-3.5M613.99 126.8h4.6M616.29 124.5v4.6M614.54 125.05l3.5 3.5M614.54 128.55l3.5-3.5M620.89 126.8h4.6M623.19 124.5v4.6M621.44 125.05l3.5 3.5M621.44 128.55l3.5-3.5M627.78 126.8h4.6M630.08 124.5v4.6M628.33 125.05l3.5 3.5M628.33 128.55l3.5-3.5M634.68 126.8h4.6M636.98 124.5v4.6M635.23 125.05l3.5 3.5M635.23 128.55l3.5-3.5M641.58 121.46h4.6M643.88 119.16v4.6M642.12 119.71l3.5 3.5M642.12 123.21l3.5-3.5M648.47 121.46h4.6M650.77 119.16v4.6M649.02 119.71l3.5 3.5M649.02 123.21l3.5-3.5M655.37 126.8h4.6M657.67 124.5v4.6M655.92 125.05l3.5 3.5M655.92 128.55l3.5-3.5M662.26 121.46h4.6M664.56 119.16v4.6M662.81 119.71l3.5 3.5M662.81 123.21l3.5-3.5M669.16 121.46h4.6M671.46 119.16v4.6M669.71 119.71l3.5 3.5M669.71 123.21l3.5-3.5M676.05 121.46h4.6M678.35 119.16v4.6M676.6 119.71l3.5 3.5M676.6 123.21l3.5-3.5M682.95 116.11h4.6M685.25 113.81v4.6M683.5 114.36l3.5 3.5M683.5 117.86l3.5-3.5M689.85 78.67h4.6M692.15 76.37v4.6M690.4 76.92l3.5 3.5M690.4 80.42l3.5-3.5M696.74 110.76h4.6M699.04 108.46v4.6M697.29 109.01l3.5 3.5M697.29 112.51l3.5-3.5M703.64 121.46h4.6M705.94 119.16v4.6M704.19 119.71l3.5 3.5M704.19 123.21l3.5-3.5M710.53 116.11h4.6M712.83 113.81v4.6M711.08 114.36l3.5 3.5M711.08 117.86l3.5-3.5M717.43 116.11h4.6M719.73 113.81v4.6M717.98 114.36l3.5 3.5M717.98 117.86l3.5-3.5M724.33 116.11h4.6M726.62 113.81v4.6M724.88 114.36l3.5 3.5M724.88 117.86l3.5-3.5M731.22 121.46h4.6M733.52 119.16v4.6M731.77 119.71l3.5 3.5M731.77 123.21l3.5-3.5M738.12 126.8h4.6M740.42 124.5v4.6M738.67 125.05l3.5 3.5M738.67 128.55l3.5-3.5M745.01 126.8h4.6M747.31 124.5v4.6M745.56 125.05l3.5 3.5M745.56 128.55l3.5-3.5M751.91 121.46h4.6M754.21 119.16v4.6M752.46 119.71l3.5 3.5M752.46 123.21l3.5-3.5M758.8 121.46h4.6M761.1 119.16v4.6M759.35 119.71l3.5 3.5M759.35 123.21l3.5-3.5M765.7 121.46h4.6M768 119.16v4.6M766.25 119.71l3.5 3.5M766.25 123.21l3.5-3.5" stroke="#ff0000" stroke-width="1.15" stroke-linecap="round" fill="none"/></g><path d="M602.5 137.5v-4M602.5 19.9v4M616.29 137.5v-4M616.29 19.9v4M630.08 137.5v-4M630.08 19.9v4M643.88 137.5v-4M643.88 19.9v4M657.67 137.5v-4M657.67 19.9v4M671.46 137.5v-4M671.46 19.9v4M685.25 137.5v-4M685.25 19.9v4M699.04 137.5v-4M699.04 19.9v4M712.83 137.5v-4M712.83 19.9v4M726.62 137.5v-4M726.62 19.9v4M740.42 137.5v-4M740.42 19.9v4M754.21 137.5v-4M754.21 19.9v4M768 137.5v-4M768 19.9v4M602.5 137.5h5.5M768 137.5h-5.5M602.5 123.5h4M768 123.5h-4M602.5 109.5h5.5M768 109.5h-5.5M602.5 95.5h4M768 95.5h-4M602.5 81.5h5.5M768 81.5h-5.5M602.5 67.5h4M768 67.5h-4M602.5 53.5h5.5M768 53.5h-5.5M602.5 39.5h4M768 39.5h-4M602.5 25.5h5.5M768 25.5h-5.5" stroke="#000" stroke-width="1" fill="none"/><rect x="602" y="19" width="1" height="120.1" fill="#000"/><rect x="767" y="19" width="2" height="120.1" fill="#000"/><rect x="602" y="19" width="167" height="2" fill="#000"/><rect x="602" y="137" width="167" height="1.6" fill="#000"/><line x1="602.5" y1="109.5" x2="768" y2="109.5" stroke="#000" stroke-width="1" stroke-dasharray="1 2.1"/><line x1="602.5" y1="81.5" x2="768" y2="81.5" stroke="#000" stroke-width="1" stroke-dasharray="1 2.1"/><line x1="602.5" y1="53.5" x2="768" y2="53.5" stroke="#000" stroke-width="1" stroke-dasharray="1 2.1"/><line x1="602.5" y1="25.5" x2="768" y2="25.5" stroke="#000" stroke-width="1" stroke-dasharray="1 2.1"/><line x1="630.08" y1="137.5" x2="630.08" y2="19.9" stroke="#000" stroke-width="1" stroke-dasharray="1 2.1"/><line x1="657.67" y1="137.5" x2="657.67" y2="19.9" stroke="#000" stroke-width="1" stroke-dasharray="1 2.1"/><line x1="685.25" y1="137.5" x2="685.25" y2="19.9" stroke="#000" stroke-width="1" stroke-dasharray="1 2.1"/><line x1="712.83" y1="137.5" x2="712.83" y2="19.9" stroke="#000" stroke-width="1" stroke-dasharray="1 2.1"/><line x1="740.42" y1="137.5" x2="740.42" y2="19.9" stroke="#000" stroke-width="1" stroke-dasharray="1 2.1"/><text x="598.2" y="139.9" font-size="8.6" text-anchor="end" fill="#000">0</text><text x="598.2" y="111.9" font-size="8.6" text-anchor="end" fill="#000">2</text><text x="598.2" y="83.9" font-size="8.6" text-anchor="end" fill="#000">4</text><text x="598.2" y="55.9" font-size="8.6" text-anchor="end" fill="#000">6</text><text x="598.2" y="27.9" font-size="8.6" text-anchor="end" fill="#000">8</text><text x="602.8" y="149" font-size="8.6" text-anchor="middle" fill="#000">0</text><text x="630.38" y="149" font-size="8.6" text-anchor="middle" fill="#000">4</text><text x="657.97" y="149" font-size="8.6" text-anchor="middle" fill="#000">8</text><text x="685.55" y="149" font-size="8.6" text-anchor="middle" fill="#000">12</text><text x="713.13" y="149" font-size="8.6" text-anchor="middle" fill="#000">16</text><text x="740.72" y="149" font-size="8.6" text-anchor="middle" fill="#000">20</text><text x="768.3" y="149" font-size="8.6" text-anchor="middle" fill="#000">24</text><text x="685.45" y="162.6" font-size="9.2" text-anchor="middle" textLength="27.25" lengthAdjust="spacingAndGlyphs" fill="#000" clip-path="url(#lc0)">Tai Po</text></g>
<g><clipPath id="pc04"><rect x="795.5" y="19.9" width="165.5" height="117.6"/></clipPath><g clip-path="url(#pc04)"><polyline points="795.5,121.46 802.4,121.46 809.29,116.11 816.19,121.46 823.08,121.46 829.98,121.46 836.88,126.8 843.77,126.8 850.67,121.46 857.56,121.46 864.46,121.46 871.35,121.46 878.25,121.46 885.15,121.46 892.04,116.11 898.94,110.76 905.83,116.11 912.73,116.11 919.62,116.11 926.52,116.11 933.42,116.11 940.31,116.11 947.21,116.11 954.1,116.11 961,121.46" fill="none" stroke="#00ffff" stroke-width="1.25" stroke-linejoin="round"/><path d="M793.2 121.46h4.6M795.5 119.16v4.6M793.75 119.71l3.5 3.5M793.75 123.21l3.5-3.5M800.1 121.46h4.6M802.4 119.16v4.6M800.65 119.71l3.5 3.5M800.65 123.21l3.5-3.5M806.99 116.11h4.6M809.29 113.81v4.6M807.54 114.36l3.5 3.5M807.54 117.86l3.5-3.5M813.89 121.46h4.6M816.19 119.16v4.6M814.44 119.71l3.5 3.5M814.44 123.21l3.5-3.5M820.78 121.46h4.6M823.08 119.16v4.6M821.33 119.71l3.5 3.5M821.33 123.21l3.5-3.5M827.68 121.46h4.6M829.98 119.16v4.6M828.23 119.71l3.5 3.5M828.23 123.21l3.5-3.5M834.58 126.8h4.6M836.88 124.5v4.6M835.12 125.05l3.5 3.5M835.12 128.55l3.5-3.5M841.47 126.8h4.6M843.77 124.5v4.6M842.02 125.05l3.5 3.5M842.02 128.55l3.5-3.5M848.37 121.46h4.6M850.67 119.16v4.6M848.92 119.71l3.5 3.5M848.92 123.21l3.5-3.5M855.26 121.46h4.6M857.56 119.16v4.6M855.81 119.71l3.5 3.5M855.81 123.21l3.5-3.5M862.16 121.46h4.6M864.46 119.16v4.6M862.71 119.71l3.5 3.5M862.71 123.21l3.5-3.5M869.05 121.46h4.6M871.35 119.16v4.6M869.6 119.71l3.5 3.5M869.6 123.21l3.5-3.5M875.95 121.46h4.6M878.25 119.16v4.6M876.5 119.71l3.5 3.5M876.5 123.21l3.5-3.5M882.85 121.46h4.6M885.15 119.16v4.6M883.4 119.71l3.5 3.5M883.4 123.21l3.5-3.5M889.74 116.11h4.6M892.04 113.81v4.6M890.29 114.36l3.5 3.5M890.29 117.86l3.5-3.5M896.64 110.76h4.6M898.94 108.46v4.6M897.19 109.01l3.5 3.5M897.19 112.51l3.5-3.5M903.53 116.11h4.6M905.83 113.81v4.6M904.08 114.36l3.5 3.5M904.08 117.86l3.5-3.5M910.43 116.11h4.6M912.73 113.81v4.6M910.98 114.36l3.5 3.5M910.98 117.86l3.5-3.5M917.33 116.11h4.6M919.62 113.81v4.6M917.88 114.36l3.5 3.5M917.88 117.86l3.5-3.5M924.22 116.11h4.6M926.52 113.81v4.6M924.77 114.36l3.5 3.5M924.77 117.86l3.5-3.5M931.12 116.11h4.6M933.42 113.81v4.6M931.67 114.36l3.5 3.5M931.67 117.86l3.5-3.5M938.01 116.11h4.6M940.31 113.81v4.6M938.56 114.36l3.5 3.5M938.56 117.86l3.5-3.5M944.91 116.11h4.6M947.21 113.81v4.6M945.46 114.36l3.5 3.5M945.46 117.86l3.5-3.5M951.8 116.11h4.6M954.1 113.81v4.6M952.35 114.36l3.5 3.5M952.35 117.86l3.5-3.5M958.7 121.46h4.6M961 119.16v4.6M959.25 119.71l3.5 3.5M959.25 123.21l3.5-3.5" stroke="#00ffff" stroke-width="1.15" stroke-linecap="round" fill="none"/><polyline points="795.5,121.46 802.4,121.46 809.29,126.8 816.19,116.11 823.08,126.8 829.98,126.8 836.88,121.46 843.77,121.46 850.67,126.8 857.56,126.8 864.46,126.8 871.35,126.8 878.25,121.46 885.15,121.46 892.04,121.46 898.94,121.46 905.83,121.46 912.73,121.46 919.62,116.11 926.52,116.11 933.42,121.46 940.31,121.46 947.21,121.46 954.1,121.46 961,116.11" fill="none" stroke="#00ff00" stroke-width="1.25" stroke-linejoin="round"/><path d="M793.2 121.46h4.6M795.5 119.16v4.6M793.75 119.71l3.5 3.5M793.75 123.21l3.5-3.5M800.1 121.46h4.6M802.4 119.16v4.6M800.65 119.71l3.5 3.5M800.65 123.21l3.5-3.5M806.99 126.8h4.6M809.29 124.5v4.6M807.54 125.05l3.5 3.5M807.54 128.55l3.5-3.5M813.89 116.11h4.6M816.19 113.81v4.6M814.44 114.36l3.5 3.5M814.44 117.86l3.5-3.5M820.78 126.8h4.6M823.08 124.5v4.6M821.33 125.05l3.5 3.5M821.33 128.55l3.5-3.5M827.68 126.8h4.6M829.98 124.5v4.6M828.23 125.05l3.5 3.5M828.23 128.55l3.5-3.5M834.58 121.46h4.6M836.88 119.16v4.6M835.12 119.71l3.5 3.5M835.12 123.21l3.5-3.5M841.47 121.46h4.6M843.77 119.16v4.6M842.02 119.71l3.5 3.5M842.02 123.21l3.5-3.5M848.37 126.8h4.6M850.67 124.5v4.6M848.92 125.05l3.5 3.5M848.92 128.55l3.5-3.5M855.26 126.8h4.6M857.56 124.5v4.6M855.81 125.05l3.5 3.5M855.81 128.55l3.5-3.5M862.16 126.8h4.6M864.46 124.5v4.6M862.71 125.05l3.5 3.5M862.71 128.55l3.5-3.5M869.05 126.8h4.6M871.35 124.5v4.6M869.6 125.05l3.5 3.5M869.6 128.55l3.5-3.5M875.95 121.46h4.6M878.25 119.16v4.6M876.5 119.71l3.5 3.5M876.5 123.21l3.5-3.5M882.85 121.46h4.6M885.15 119.16v4.6M883.4 119.71l3.5 3.5M883.4 123.21l3.5-3.5M889.74 121.46h4.6M892.04 119.16v4.6M890.29 119.71l3.5 3.5M890.29 123.21l3.5-3.5M896.64 121.46h4.6M898.94 119.16v4.6M897.19 119.71l3.5 3.5M897.19 123.21l3.5-3.5M903.53 121.46h4.6M905.83 119.16v4.6M904.08 119.71l3.5 3.5M904.08 123.21l3.5-3.5M910.43 121.46h4.6M912.73 119.16v4.6M910.98 119.71l3.5 3.5M910.98 123.21l3.5-3.5M917.33 116.11h4.6M919.62 113.81v4.6M917.88 114.36l3.5 3.5M917.88 117.86l3.5-3.5M924.22 116.11h4.6M926.52 113.81v4.6M924.77 114.36l3.5 3.5M924.77 117.86l3.5-3.5M931.12 121.46h4.6M933.42 119.16v4.6M931.67 119.71l3.5 3.5M931.67 123.21l3.5-3.5M938.01 121.46h4.6M940.31 119.16v4.6M938.56 119.71l3.5 3.5M938.56 123.21l3.5-3.5M944.91 121.46h4.6M947.21 119.16v4.6M945.46 119.71l3.5 3.5M945.46 123.21l3.5-3.5M951.8 121.46h4.6M954.1 119.16v4.6M952.35 119.71l3.5 3.5M952.35 123.21l3.5-3.5M958.7 116.11h4.6M961 113.81v4.6M959.25 114.36l3.5 3.5M959.25 117.86l3.5-3.5" stroke="#00ff00" stroke-width="1.15" stroke-linecap="round" fill="none"/><polyline points="795.5,116.11 816.19,110.76 823.08,116.11 829.98,116.11 850.67,121.46 885.15,116.11 892.04,121.46 905.83,105.41 912.73,126.8 926.52,116.11 933.42,121.46 940.31,126.8 947.21,126.8 954.1,126.8 961,126.8" fill="none" stroke="#0000ff" stroke-width="1.25" stroke-linejoin="round"/><path d="M793.2 116.11h4.6M795.5 113.81v4.6M793.75 114.36l3.5 3.5M793.75 117.86l3.5-3.5M813.89 110.76h4.6M816.19 108.46v4.6M814.44 109.01l3.5 3.5M814.44 112.51l3.5-3.5M820.78 116.11h4.6M823.08 113.81v4.6M821.33 114.36l3.5 3.5M821.33 117.86l3.5-3.5M827.68 116.11h4.6M829.98 113.81v4.6M828.23 114.36l3.5 3.5M828.23 117.86l3.5-3.5M848.37 121.46h4.6M850.67 119.16v4.6M848.92 119.71l3.5 3.5M848.92 123.21l3.5-3.5M882.85 116.11h4.6M885.15 113.81v4.6M883.4 114.36l3.5 3.5M883.4 117.86l3.5-3.5M889.74 121.46h4.6M892.04 119.16v4.6M890.29 119.71l3.5 3.5M890.29 123.21l3.5-3.5M903.53 105.41h4.6M905.83 103.11v4.6M904.08 103.66l3.5 3.5M904.08 107.16l3.5-3.5M910.43 126.8h4.6M912.73 124.5v4.6M910.98 125.05l3.5 3.5M910.98 128.55l3.5-3.5M924.22 116.11h4.6M926.52 113.81v4.6M924.77 114.36l3.5 3.5M924.77 117.86l3.5-3.5M931.12 121.46h4.6M933.42 119.16v4.6M931.67 119.71l3.5 3.5M931.67 123.21l3.5-3.5M938.01 126.8h4.6M940.31 124.5v4.6M938.56 125.05l3.5 3.5M938.56 128.55l3.5-3.5M944.91 126.8h4.6M947.21 124.5v4.6M945.46 125.05l3.5 3.5M945.46 128.55l3.5-3.5M951.8 126.8h4.6M954.1 124.5v4.6M952.35 125.05l3.5 3.5M952.35 128.55l3.5-3.5M958.7 126.8h4.6M961 124.5v4.6M959.25 125.05l3.5 3.5M959.25 128.55l3.5-3.5" stroke="#0000ff" stroke-width="1.15" stroke-linecap="round" fill="none"/><polyline points="795.5,126.8 802.4,126.8 809.29,121.46 816.19,126.8 823.08,121.46 829.98,121.46 836.88,116.11 843.77,116.11 850.67,116.11 857.56,110.76 864.46,116.11 871.35,116.11 878.25,116.11 885.15,116.11 892.04,116.11 898.94,116.11 905.83,116.11 912.73,121.46 919.62,121.46 926.52,121.46 933.42,116.11 940.31,116.11 947.21,121.46 954.1,126.8 961,126.8" fill="none" stroke="#ff0000" stroke-width="1.25" stroke-linejoin="round"/><path d="M793.2 126.8h4.6M795.5 124.5v4.6M793.75 125.05l3.5 3.5M793.75 128.55l3.5-3.5M800.1 126.8h4.6M802.4 124.5v4.6M800.65 125.05l3.5 3.5M800.65 128.55l3.5-3.5M806.99 121.46h4.6M809.29 119.16v4.6M807.54 119.71l3.5 3.5M807.54 123.21l3.5-3.5M813.89 126.8h4.6M816.19 124.5v4.6M814.44 125.05l3.5 3.5M814.44 128.55l3.5-3.5M820.78 121.46h4.6M823.08 119.16v4.6M821.33 119.71l3.5 3.5M821.33 123.21l3.5-3.5M827.68 121.46h4.6M829.98 119.16v4.6M828.23 119.71l3.5 3.5M828.23 123.21l3.5-3.5M834.58 116.11h4.6M836.88 113.81v4.6M835.12 114.36l3.5 3.5M835.12 117.86l3.5-3.5M841.47 116.11h4.6M843.77 113.81v4.6M842.02 114.36l3.5 3.5M842.02 117.86l3.5-3.5M848.37 116.11h4.6M850.67 113.81v4.6M848.92 114.36l3.5 3.5M848.92 117.86l3.5-3.5M855.26 110.76h4.6M857.56 108.46v4.6M855.81 109.01l3.5 3.5M855.81 112.51l3.5-3.5M862.16 116.11h4.6M864.46 113.81v4.6M862.71 114.36l3.5 3.5M862.71 117.86l3.5-3.5M869.05 116.11h4.6M871.35 113.81v4.6M869.6 114.36l3.5 3.5M869.6 117.86l3.5-3.5M875.95 116.11h4.6M878.25 113.81v4.6M876.5 114.36l3.5 3.5M876.5 117.86l3.5-3.5M882.85 116.11h4.6M885.15 113.81v4.6M883.4 114.36l3.5 3.5M883.4 117.86l3.5-3.5M889.74 116.11h4.6M892.04 113.81v4.6M890.29 114.36l3.5 3.5M890.29 117.86l3.5-3.5M896.64 116.11h4.6M898.94 113.81v4.6M897.19 114.36l3.5 3.5M897.19 117.86l3.5-3.5M903.53 116.11h4.6M905.83 113.81v4.6M904.08 114.36l3.5 3.5M904.08 117.86l3.5-3.5M910.43 121.46h4.6M912.73 119.16v4.6M910.98 119.71l3.5 3.5M910.98 123.21l3.5-3.5M917.33 121.46h4.6M919.62 119.16v4.6M917.88 119.71l3.5 3.5M917.88 123.21l3.5-3.5M924.22 121.46h4.6M926.52 119.16v4.6M924.77 119.71l3.5 3.5M924.77 123.21l3.5-3.5M931.12 116.11h4.6M933.42 113.81v4.6M931.67 114.36l3.5 3.5M931.67 117.86l3.5-3.5M938.01 116.11h4.6M940.31 113.81v4.6M938.56 114.36l3.5 3.5M938.56 117.86l3.5-3.5M944.91 121.46h4.6M947.21 119.16v4.6M945.46 119.71l3.5 3.5M945.46 123.21l3.5-3.5M951.8 126.8h4.6M954.1 124.5v4.6M952.35 125.05l3.5 3.5M952.35 128.55l3.5-3.5M958.7 126.8h4.6M961 124.5v4.6M959.25 125.05l3.5 3.5M959.25 128.55l3.5-3.5" stroke="#ff0000" stroke-width="1.15" stroke-linecap="round" fill="none"/></g><path d="M795.5 137.5v-4M795.5 19.9v4M809.29 137.5v-4M809.29 19.9v4M823.08 137.5v-4M823.08 19.9v4M836.88 137.5v-4M836.88 19.9v4M850.67 137.5v-4M850.67 19.9v4M864.46 137.5v-4M864.46 19.9v4M878.25 137.5v-4M878.25 19.9v4M892.04 137.5v-4M892.04 19.9v4M905.83 137.5v-4M905.83 19.9v4M919.62 137.5v-4M919.62 19.9v4M933.42 137.5v-4M933.42 19.9v4M947.21 137.5v-4M947.21 19.9v4M961 137.5v-4M961 19.9v4M795.5 137.5h5.5M961 137.5h-5.5M795.5 123.5h4M961 123.5h-4M795.5 109.5h5.5M961 109.5h-5.5M795.5 95.5h4M961 95.5h-4M795.5 81.5h5.5M961 81.5h-5.5M795.5 67.5h4M961 67.5h-4M795.5 53.5h5.5M961 53.5h-5.5M795.5 39.5h4M961 39.5h-4M795.5 25.5h5.5M961 25.5h-5.5" stroke="#000" stroke-width="1" fill="none"/><rect x="795" y="19" width="1" height="120.1" fill="#000"/><rect x="960" y="19" width="2" height="120.1" fill="#000"/><rect x="795" y="19" width="167" height="2" fill="#000"/><rect x="795" y="137" width="167" height="1.6" fill="#000"/><line x1="795.5" y1="109.5" x2="961" y2="109.5" stroke="#000" stroke-width="1" stroke-dasharray="1 2.1"/><line x1="795.5" y1="81.5" x2="961" y2="81.5" stroke="#000" stroke-width="1" stroke-dasharray="1 2.1"/><line x1="795.5" y1="53.5" x2="961" y2="53.5" stroke="#000" stroke-width="1" stroke-dasharray="1 2.1"/><line x1="795.5" y1="25.5" x2="961" y2="25.5" stroke="#000" stroke-width="1" stroke-dasharray="1 2.1"/><line x1="823.08" y1="137.5" x2="823.08" y2="19.9" stroke="#000" stroke-width="1" stroke-dasharray="1 2.1"/><line x1="850.67" y1="137.5" x2="850.67" y2="19.9" stroke="#000" stroke-width="1" stroke-dasharray="1 2.1"/><line x1="878.25" y1="137.5" x2="878.25" y2="19.9" stroke="#000" stroke-width="1" stroke-dasharray="1 2.1"/><line x1="905.83" y1="137.5" x2="905.83" y2="19.9" stroke="#000" stroke-width="1" stroke-dasharray="1 2.1"/><line x1="933.42" y1="137.5" x2="933.42" y2="19.9" stroke="#000" stroke-width="1" stroke-dasharray="1 2.1"/><text x="791.2" y="139.9" font-size="8.6" text-anchor="end" fill="#000">0</text><text x="791.2" y="111.9" font-size="8.6" text-anchor="end" fill="#000">2</text><text x="791.2" y="83.9" font-size="8.6" text-anchor="end" fill="#000">4</text><text x="791.2" y="55.9" font-size="8.6" text-anchor="end" fill="#000">6</text><text x="791.2" y="27.9" font-size="8.6" text-anchor="end" fill="#000">8</text><text x="795.8" y="149" font-size="8.6" text-anchor="middle" fill="#000">0</text><text x="823.38" y="149" font-size="8.6" text-anchor="middle" fill="#000">4</text><text x="850.97" y="149" font-size="8.6" text-anchor="middle" fill="#000">8</text><text x="878.55" y="149" font-size="8.6" text-anchor="middle" fill="#000">12</text><text x="906.13" y="149" font-size="8.6" text-anchor="middle" fill="#000">16</text><text x="933.72" y="149" font-size="8.6" text-anchor="middle" fill="#000">20</text><text x="961.3" y="149" font-size="8.6" text-anchor="middle" fill="#000">24</text><text x="878.45" y="162.6" font-size="9.2" text-anchor="middle" textLength="39.19" lengthAdjust="spacingAndGlyphs" fill="#000" clip-path="url(#lc0)">Tap Mun</text></g>
<g><clipPath id="pc10"><rect x="23.5" y="167.9" width="165.5" height="117.6"/></clipPath><g clip-path="url(#pc10)"><polyline points="23.5,264.11 30.4,264.11 37.29,264.11 44.19,264.11 51.08,264.11 57.98,264.11 64.88,264.11 71.77,264.11 78.67,264.11 85.56,264.11 92.46,264.11 99.35,264.11 106.25,264.11 113.15,264.11 120.04,264.11 126.94,264.11 133.83,264.11 140.73,264.11 147.62,264.11 154.52,264.11 161.42,258.76 168.31,258.76 175.21,269.46 182.1,269.46 189,269.46" fill="none" stroke="#00ffff" stroke-width="1.25" stroke-linejoin="round"/><path d="M21.2 264.11h4.6M23.5 261.81v4.6M21.75 262.36l3.5 3.5M21.75 265.86l3.5-3.5M28.1 264.11h4.6M30.4 261.81v4.6M28.65 262.36l3.5 3.5M28.65 265.86l3.5-3.5M34.99 264.11h4.6M37.29 261.81v4.6M35.54 262.36l3.5 3.5M35.54 265.86l3.5-3.5M41.89 264.11h4.6M44.19 261.81v4.6M42.44 262.36l3.5 3.5M42.44 265.86l3.5-3.5M48.78 264.11h4.6M51.08 261.81v4.6M49.33 262.36l3.5 3.5M49.33 265.86l3.5-3.5M55.68 264.11h4.6M57.98 261.81v4.6M56.23 262.36l3.5 3.5M56.23 265.86l3.5-3.5M62.58 264.11h4.6M64.88 261.81v4.6M63.12 262.36l3.5 3.5M63.12 265.86l3.5-3.5M69.47 264.11h4.6M71.77 261.81v4.6M70.02 262.36l3.5 3.5M70.02 265.86l3.5-3.5M76.37 264.11h4.6M78.67 261.81v4.6M76.92 262.36l3.5 3.5M76.92 265.86l3.5-3.5M83.26 264.11h4.6M85.56 261.81v4.6M83.81 262.36l3.5 3.5M83.81 265.86l3.5-3.5M90.16 264.11h4.6M92.46 261.81v4.6M90.71 262.36l3.5 3.5M90.71 265.86l3.5-3.5M97.05 264.11h4.6M99.35 261.81v4.6M97.6 262.36l3.5 3.5M97.6 265.86l3.5-3.5M103.95 264.11h4.6M106.25 261.81v4.6M104.5 262.36l3.5 3.5M104.5 265.86l3.5-3.5M110.85 264.11h4.6M113.15 261.81v4.6M111.4 262.36l3.5 3.5M111.4 265.86l3.5-3.5M117.74 264.11h4.6M120.04 261.81v4.6M118.29 262.36l3.5 3.5M118.29 265.86l3.5-3.5M124.64 264.11h4.6M126.94 261.81v4.6M125.19 262.36l3.5 3.5M125.19 265.86l3.5-3.5M131.53 264.11h4.6M133.83 261.81v4.6M132.08 262.36l3.5 3.5M132.08 265.86l3.5-3.5M138.43 264.11h4.6M140.73 261.81v4.6M138.98 262.36l3.5 3.5M138.98 265.86l3.5-3.5M145.32 264.11h4.6M147.62 261.81v4.6M145.88 262.36l3.5 3.5M145.88 265.86l3.5-3.5M152.22 264.11h4.6M154.52 261.81v4.6M152.77 262.36l3.5 3.5M152.77 265.86l3.5-3.5M159.12 258.76h4.6M161.42 256.46v4.6M159.67 257.01l3.5 3.5M159.67 260.51l3.5-3.5M166.01 258.76h4.6M168.31 256.46v4.6M166.56 257.01l3.5 3.5M166.56 260.51l3.5-3.5M172.91 269.46h4.6M175.21 267.16v4.6M173.46 267.71l3.5 3.5M173.46 271.21l3.5-3.5M179.8 269.46h4.6M182.1 267.16v4.6M180.35 267.71l3.5 3.5M180.35 271.21l3.5-3.5M186.7 269.46h4.6M189 267.16v4.6M187.25 267.71l3.5 3.5M187.25 271.21l3.5-3.5" stroke="#00ffff" stroke-width="1.15" stroke-linecap="round" fill="none"/><polyline points="51.08,269.46 57.98,274.8 64.88,274.8 71.77,280.15 78.67,274.8 85.56,274.8 92.46,274.8 99.35,269.46 106.25,269.46 113.15,274.8 120.04,274.8 126.94,274.8 133.83,269.46 140.73,258.76 147.62,253.41 154.52,248.06 161.42,242.72 168.31,253.41 175.21,253.41 182.1,253.41 189,258.76" fill="none" stroke="#00ff00" stroke-width="1.25" stroke-linejoin="round"/><path d="M48.78 269.46h4.6M51.08 267.16v4.6M49.33 267.71l3.5 3.5M49.33 271.21l3.5-3.5M55.68 274.8h4.6M57.98 272.5v4.6M56.23 273.05l3.5 3.5M56.23 276.55l3.5-3.5M62.58 274.8h4.6M64.88 272.5v4.6M63.12 273.05l3.5 3.5M63.12 276.55l3.5-3.5M69.47 280.15h4.6M71.77 277.85v4.6M70.02 278.4l3.5 3.5M70.02 281.9l3.5-3.5M76.37 274.8h4.6M78.67 272.5v4.6M76.92 273.05l3.5 3.5M76.92 276.55l3.5-3.5M83.26 274.8h4.6M85.56 272.5v4.6M83.81 273.05l3.5 3.5M83.81 276.55l3.5-3.5M90.16 274.8h4.6M92.46 272.5v4.6M90.71 273.05l3.5 3.5M90.71 276.55l3.5-3.5M97.05 269.46h4.6M99.35 267.16v4.6M97.6 267.71l3.5 3.5M97.6 271.21l3.5-3.5M103.95 269.46h4.6M106.25 267.16v4.6M104.5 267.71l3.5 3.5M104.5 271.21l3.5-3.5M110.85 274.8h4.6M113.15 272.5v4.6M111.4 273.05l3.5 3.5M111.4 276.55l3.5-3.5M117.74 274.8h4.6M120.04 272.5v4.6M118.29 273.05l3.5 3.5M118.29 276.55l3.5-3.5M124.64 274.8h4.6M126.94 272.5v4.6M125.19 273.05l3.5 3.5M125.19 276.55l3.5-3.5M131.53 269.46h4.6M133.83 267.16v4.6M132.08 267.71l3.5 3.5M132.08 271.21l3.5-3.5M138.43 258.76h4.6M140.73 256.46v4.6M138.98 257.01l3.5 3.5M138.98 260.51l3.5-3.5M145.32 253.41h4.6M147.62 251.11v4.6M145.88 251.66l3.5 3.5M145.88 255.16l3.5-3.5M152.22 248.06h4.6M154.52 245.76v4.6M152.77 246.31l3.5 3.5M152.77 249.81l3.5-3.5M159.12 242.72h4.6M161.42 240.42v4.6M159.67 240.97l3.5 3.5M159.67 244.47l3.5-3.5M166.01 253.41h4.6M168.31 251.11v4.6M166.56 251.66l3.5 3.5M166.56 255.16l3.5-3.5M172.91 253.41h4.6M175.21 251.11v4.6M173.46 251.66l3.5 3.5M173.46 255.16l3.5-3.5M179.8 253.41h4.6M182.1 251.11v4.6M180.35 251.66l3.5 3.5M180.35 255.16l3.5-3.5M186.7 258.76h4.6M189 256.46v4.6M187.25 257.01l3.5 3.5M187.25 260.51l3.5-3.5" stroke="#00ff00" stroke-width="1.15" stroke-linecap="round" fill="none"/><polyline points="23.5,258.76 30.4,264.11 37.29,269.46 44.19,274.8 51.08,274.8 57.98,269.46 64.88,269.46 71.77,269.46 78.67,264.11 85.56,269.46 92.46,269.46 99.35,253.41 106.25,264.11 113.15,274.8 120.04,269.46 126.94,264.11 133.83,269.46 140.73,269.46 147.62,269.46 154.52,274.8 161.42,269.46 168.31,269.46 175.21,269.46 182.1,264.11 189,264.11" fill="none" stroke="#0000ff" stroke-width="1.25" stroke-linejoin="round"/><path d="M21.2 258.76h4.6M23.5 256.46v4.6M21.75 257.01l3.5 3.5M21.75 260.51l3.5-3.5M28.1 264.11h4.6M30.4 261.81v4.6M28.65 262.36l3.5 3.5M28.65 265.86l3.5-3.5M34.99 269.46h4.6M37.29 267.16v4.6M35.54 267.71l3.5 3.5M35.54 271.21l3.5-3.5M41.89 274.8h4.6M44.19 272.5v4.6M42.44 273.05l3.5 3.5M42.44 276.55l3.5-3.5M48.78 274.8h4.6M51.08 272.5v4.6M49.33 273.05l3.5 3.5M49.33 276.55l3.5-3.5M55.68 269.46h4.6M57.98 267.16v4.6M56.23 267.71l3.5 3.5M56.23 271.21l3.5-3.5M62.58 269.46h4.6M64.88 267.16v4.6M63.12 267.71l3.5 3.5M63.12 271.21l3.5-3.5M69.47 269.46h4.6M71.77 267.16v4.6M70.02 267.71l3.5 3.5M70.02 271.21l3.5-3.5M76.37 264.11h4.6M78.67 261.81v4.6M76.92 262.36l3.5 3.5M76.92 265.86l3.5-3.5M83.26 269.46h4.6M85.56 267.16v4.6M83.81 267.71l3.5 3.5M83.81 271.21l3.5-3.5M90.16 269.46h4.6M92.46 267.16v4.6M90.71 267.71l3.5 3.5M90.71 271.21l3.5-3.5M97.05 253.41h4.6M99.35 251.11v4.6M97.6 251.66l3.5 3.5M97.6 255.16l3.5-3.5M103.95 264.11h4.6M106.25 261.81v4.6M104.5 262.36l3.5 3.5M104.5 265.86l3.5-3.5M110.85 274.8h4.6M113.15 272.5v4.6M111.4 273.05l3.5 3.5M111.4 276.55l3.5-3.5M117.74 269.46h4.6M120.04 267.16v4.6M118.29 267.71l3.5 3.5M118.29 271.21l3.5-3.5M124.64 264.11h4.6M126.94 261.81v4.6M125.19 262.36l3.5 3.5M125.19 265.86l3.5-3.5M131.53 269.46h4.6M133.83 267.16v4.6M132.08 267.71l3.5 3.5M132.08 271.21l3.5-3.5M138.43 269.46h4.6M140.73 267.16v4.6M138.98 267.71l3.5 3.5M138.98 271.21l3.5-3.5M145.32 269.46h4.6M147.62 267.16v4.6M145.88 267.71l3.5 3.5M145.88 271.21l3.5-3.5M152.22 274.8h4.6M154.52 272.5v4.6M152.77 273.05l3.5 3.5M152.77 276.55l3.5-3.5M159.12 269.46h4.6M161.42 267.16v4.6M159.67 267.71l3.5 3.5M159.67 271.21l3.5-3.5M166.01 269.46h4.6M168.31 267.16v4.6M166.56 267.71l3.5 3.5M166.56 271.21l3.5-3.5M172.91 269.46h4.6M175.21 267.16v4.6M173.46 267.71l3.5 3.5M173.46 271.21l3.5-3.5M179.8 264.11h4.6M182.1 261.81v4.6M180.35 262.36l3.5 3.5M180.35 265.86l3.5-3.5M186.7 264.11h4.6M189 261.81v4.6M187.25 262.36l3.5 3.5M187.25 265.86l3.5-3.5" stroke="#0000ff" stroke-width="1.15" stroke-linecap="round" fill="none"/><polyline points="23.5,264.11 30.4,258.76 37.29,264.11 44.19,264.11 51.08,264.11 57.98,264.11 64.88,264.11 71.77,264.11 78.67,264.11 85.56,269.46 92.46,269.46 99.35,264.11 106.25,258.76 113.15,258.76 120.04,258.76 126.94,258.76 133.83,258.76 140.73,258.76 147.62,264.11 154.52,269.46 161.42,269.46 168.31,269.46 175.21,264.11 182.1,264.11 189,264.11" fill="none" stroke="#ff0000" stroke-width="1.25" stroke-linejoin="round"/><path d="M21.2 264.11h4.6M23.5 261.81v4.6M21.75 262.36l3.5 3.5M21.75 265.86l3.5-3.5M28.1 258.76h4.6M30.4 256.46v4.6M28.65 257.01l3.5 3.5M28.65 260.51l3.5-3.5M34.99 264.11h4.6M37.29 261.81v4.6M35.54 262.36l3.5 3.5M35.54 265.86l3.5-3.5M41.89 264.11h4.6M44.19 261.81v4.6M42.44 262.36l3.5 3.5M42.44 265.86l3.5-3.5M48.78 264.11h4.6M51.08 261.81v4.6M49.33 262.36l3.5 3.5M49.33 265.86l3.5-3.5M55.68 264.11h4.6M57.98 261.81v4.6M56.23 262.36l3.5 3.5M56.23 265.86l3.5-3.5M62.58 264.11h4.6M64.88 261.81v4.6M63.12 262.36l3.5 3.5M63.12 265.86l3.5-3.5M69.47 264.11h4.6M71.77 261.81v4.6M70.02 262.36l3.5 3.5M70.02 265.86l3.5-3.5M76.37 264.11h4.6M78.67 261.81v4.6M76.92 262.36l3.5 3.5M76.92 265.86l3.5-3.5M83.26 269.46h4.6M85.56 267.16v4.6M83.81 267.71l3.5 3.5M83.81 271.21l3.5-3.5M90.16 269.46h4.6M92.46 267.16v4.6M90.71 267.71l3.5 3.5M90.71 271.21l3.5-3.5M97.05 264.11h4.6M99.35 261.81v4.6M97.6 262.36l3.5 3.5M97.6 265.86l3.5-3.5M103.95 258.76h4.6M106.25 256.46v4.6M104.5 257.01l3.5 3.5M104.5 260.51l3.5-3.5M110.85 258.76h4.6M113.15 256.46v4.6M111.4 257.01l3.5 3.5M111.4 260.51l3.5-3.5M117.74 258.76h4.6M120.04 256.46v4.6M118.29 257.01l3.5 3.5M118.29 260.51l3.5-3.5M124.64 258.76h4.6M126.94 256.46v4.6M125.19 257.01l3.5 3.5M125.19 260.51l3.5-3.5M131.53 258.76h4.6M133.83 256.46v4.6M132.08 257.01l3.5 3.5M132.08 260.51l3.5-3.5M138.43 258.76h4.6M140.73 256.46v4.6M138.98 257.01l3.5 3.5M138.98 260.51l3.5-3.5M145.32 264.11h4.6M147.62 261.81v4.6M145.88 262.36l3.5 3.5M145.88 265.86l3.5-3.5M152.22 269.46h4.6M154.52 267.16v4.6M152.77 267.71l3.5 3.5M152.77 271.21l3.5-3.5M159.12 269.46h4.6M161.42 267.16v4.6M159.67 267.71l3.5 3.5M159.67 271.21l3.5-3.5M166.01 269.46h4.6M168.31 267.16v4.6M166.56 267.71l3.5 3.5M166.56 271.21l3.5-3.5M172.91 264.11h4.6M175.21 261.81v4.6M173.46 262.36l3.5 3.5M173.46 265.86l3.5-3.5M179.8 264.11h4.6M182.1 261.81v4.6M180.35 262.36l3.5 3.5M180.35 265.86l3.5-3.5M186.7 264.11h4.6M189 261.81v4.6M187.25 262.36l3.5 3.5M187.25 265.86l3.5-3.5" stroke="#ff0000" stroke-width="1.15" stroke-linecap="round" fill="none"/></g><path d="M23.5 285.5v-4M23.5 167.9v4M37.29 285.5v-4M37.29 167.9v4M51.08 285.5v-4M51.08 167.9v4M64.88 285.5v-4M64.88 167.9v4M78.67 285.5v-4M78.67 167.9v4M92.46 285.5v-4M92.46 167.9v4M106.25 285.5v-4M106.25 167.9v4M120.04 285.5v-4M120.04 167.9v4M133.83 285.5v-4M133.83 167.9v4M147.62 285.5v-4M147.62 167.9v4M161.42 285.5v-4M161.42 167.9v4M175.21 285.5v-4M175.21 167.9v4M189 285.5v-4M189 167.9v4M23.5 285.5h5.5M189 285.5h-5.5M23.5 271.5h4M189 271.5h-4M23.5 257.5h5.5M189 257.5h-5.5M23.5 243.5h4M189 243.5h-4M23.5 229.5h5.5M189 229.5h-5.5M23.5 215.5h4M189 215.5h-4M23.5 201.5h5.5M189 201.5h-5.5M23.5 187.5h4M189 187.5h-4M23.5 173.5h5.5M189 173.5h-5.5" stroke="#000" stroke-width="1" fill="none"/><rect x="23" y="167" width="1" height="120.1" fill="#000"/><rect x="188" y="167" width="2" height="120.1" fill="#000"/><rect x="23" y="167" width="167" height="2" fill="#000"/><rect x="23" y="285" width="167" height="1.6" fill="#000"/><line x1="23.5" y1="257.5" x2="189" y2="257.5" stroke="#000" stroke-width="1" stroke-dasharray="1 2.1"/><line x1="23.5" y1="229.5" x2="189" y2="229.5" stroke="#000" stroke-width="1" stroke-dasharray="1 2.1"/><line x1="23.5" y1="201.5" x2="189" y2="201.5" stroke="#000" stroke-width="1" stroke-dasharray="1 2.1"/><line x1="23.5" y1="173.5" x2="189" y2="173.5" stroke="#000" stroke-width="1" stroke-dasharray="1 2.1"/><line x1="51.08" y1="285.5" x2="51.08" y2="167.9" stroke="#000" stroke-width="1" stroke-dasharray="1 2.1"/><line x1="78.67" y1="285.5" x2="78.67" y2="167.9" stroke="#000" stroke-width="1" stroke-dasharray="1 2.1"/><line x1="106.25" y1="285.5" x2="106.25" y2="167.9" stroke="#000" stroke-width="1" stroke-dasharray="1 2.1"/><line x1="133.83" y1="285.5" x2="133.83" y2="167.9" stroke="#000" stroke-width="1" stroke-dasharray="1 2.1"/><line x1="161.42" y1="285.5" x2="161.42" y2="167.9" stroke="#000" stroke-width="1" stroke-dasharray="1 2.1"/><text x="19.2" y="287.9" font-size="8.6" text-anchor="end" fill="#000">0</text><text x="19.2" y="259.9" font-size="8.6" text-anchor="end" fill="#000">2</text><text x="19.2" y="231.9" font-size="8.6" text-anchor="end" fill="#000">4</text><text x="19.2" y="203.9" font-size="8.6" text-anchor="end" fill="#000">6</text><text x="19.2" y="175.9" font-size="8.6" text-anchor="end" fill="#000">8</text><text x="23.8" y="297" font-size="8.6" text-anchor="middle" fill="#000">0</text><text x="51.38" y="297" font-size="8.6" text-anchor="middle" fill="#000">4</text><text x="78.97" y="297" font-size="8.6" text-anchor="middle" fill="#000">8</text><text x="106.55" y="297" font-size="8.6" text-anchor="middle" fill="#000">12</text><text x="134.13" y="297" font-size="8.6" text-anchor="middle" fill="#000">16</text><text x="161.72" y="297" font-size="8.6" text-anchor="middle" fill="#000">20</text><text x="189.3" y="297" font-size="8.6" text-anchor="middle" fill="#000">24</text><text x="106.45" y="310.6" font-size="9.2" text-anchor="middle" textLength="45.18" lengthAdjust="spacingAndGlyphs" fill="#000" clip-path="url(#lc1)">Tuen Mun</text></g>
<g><clipPath id="pc11"><rect x="216.5" y="167.9" width="165.5" height="117.6"/></clipPath><g clip-path="url(#pc11)"><polyline points="216.5,258.76 223.4,258.76 230.29,258.76 237.19,258.76 244.08,258.76 250.98,258.76 257.88,258.76 264.77,258.76 271.67,248.06 278.56,258.76 285.46,258.76 292.35,258.76 299.25,258.76 306.15,258.76 313.04,258.76 319.94,258.76 326.83,242.72 333.73,232.02 340.62,232.02 347.52,237.37 354.42,248.06 361.31,258.76 368.21,258.76 375.1,258.76 382,258.76" fill="none" stroke="#00ffff" stroke-width="1.25" stroke-linejoin="round"/><path d="M214.2 258.76h4.6M216.5 256.46v4.6M214.75 257.01l3.5 3.5M214.75 260.51l3.5-3.5M221.1 258.76h4.6M223.4 256.46v4.6M221.65 257.01l3.5 3.5M221.65 260.51l3.5-3.5M227.99 258.76h4.6M230.29 256.46v4.6M228.54 257.01l3.5 3.5M228.54 260.51l3.5-3.5M234.89 258.76h4.6M237.19 256.46v4.6M235.44 257.01l3.5 3.5M235.44 260.51l3.5-3.5M241.78 258.76h4.6M244.08 256.46v4.6M242.33 257.01l3.5 3.5M242.33 260.51l3.5-3.5M248.68 258.76h4.6M250.98 256.46v4.6M249.23 257.01l3.5 3.5M249.23 260.51l3.5-3.5M255.57 258.76h4.6M257.88 256.46v4.6M256.12 257.01l3.5 3.5M256.12 260.51l3.5-3.5M262.47 258.76h4.6M264.77 256.46v4.6M263.02 257.01l3.5 3.5M263.02 260.51l3.5-3.5M269.37 248.06h4.6M271.67 245.76v4.6M269.92 246.31l3.5 3.5M269.92 249.81l3.5-3.5M276.26 258.76h4.6M278.56 256.46v4.6M276.81 257.01l3.5 3.5M276.81 260.51l3.5-3.5M283.16 258.76h4.6M285.46 256.46v4.6M283.71 257.01l3.5 3.5M283.71 260.51l3.5-3.5M290.05 258.76h4.6M292.35 256.46v4.6M290.6 257.01l3.5 3.5M290.6 260.51l3.5-3.5M296.95 258.76h4.6M299.25 256.46v4.6M297.5 257.01l3.5 3.5M297.5 260.51l3.5-3.5M303.85 258.76h4.6M306.15 256.46v4.6M304.4 257.01l3.5 3.5M304.4 260.51l3.5-3.5M310.74 258.76h4.6M313.04 256.46v4.6M311.29 257.01l3.5 3.5M311.29 260.51l3.5-3.5M317.64 258.76h4.6M319.94 256.46v4.6M318.19 257.01l3.5 3.5M318.19 260.51l3.5-3.5M324.53 242.72h4.6M326.83 240.42v4.6M325.08 240.97l3.5 3.5M325.08 244.47l3.5-3.5M331.43 232.02h4.6M333.73 229.72v4.6M331.98 230.27l3.5 3.5M331.98 233.77l3.5-3.5M338.32 232.02h4.6M340.62 229.72v4.6M338.88 230.27l3.5 3.5M338.88 233.77l3.5-3.5M345.22 237.37h4.6M347.52 235.07v4.6M345.77 235.62l3.5 3.5M345.77 239.12l3.5-3.5M352.12 248.06h4.6M354.42 245.76v4.6M352.67 246.31l3.5 3.5M352.67 249.81l3.5-3.5M359.01 258.76h4.6M361.31 256.46v4.6M359.56 257.01l3.5 3.5M359.56 260.51l3.5-3.5M365.91 258.76h4.6M368.21 256.46v4.6M366.46 257.01l3.5 3.5M366.46 260.51l3.5-3.5M372.8 258.76h4.6M375.1 256.46v4.6M373.35 257.01l3.5 3.5M373.35 260.51l3.5-3.5M379.7 258.76h4.6M382 256.46v4.6M380.25 257.01l3.5 3.5M380.25 260.51l3.5-3.5" stroke="#00ffff" stroke-width="1.15" stroke-linecap="round" fill="none"/><polyline points="216.5,258.76 230.29,242.72 237.19,253.41 244.08,258.76 250.98,258.76 257.88,258.76 264.77,264.11 271.67,258.76 278.56,258.76 285.46,258.76 292.35,258.76 299.25,258.76 306.15,258.76 313.04,258.76 319.94,242.72 326.83,221.32 333.73,221.32 340.62,210.63 347.52,173.19 354.42,242.72 361.31,258.76 368.21,258.76 375.1,258.76 382,258.76" fill="none" stroke="#00ff00" stroke-width="1.25" stroke-linejoin="round"/><path d="M214.2 258.76h4.6M216.5 256.46v4.6M214.75 257.01l3.5 3.5M214.75 260.51l3.5-3.5M227.99 242.72h4.6M230.29 240.42v4.6M228.54 240.97l3.5 3.5M228.54 244.47l3.5-3.5M234.89 253.41h4.6M237.19 251.11v4.6M235.44 251.66l3.5 3.5M235.44 255.16l3.5-3.5M241.78 258.76h4.6M244.08 256.46v4.6M242.33 257.01l3.5 3.5M242.33 260.51l3.5-3.5M248.68 258.76h4.6M250.98 256.46v4.6M249.23 257.01l3.5 3.5M249.23 260.51l3.5-3.5M255.57 258.76h4.6M257.88 256.46v4.6M256.12 257.01l3.5 3.5M256.12 260.51l3.5-3.5M262.47 264.11h4.6M264.77 261.81v4.6M263.02 262.36l3.5 3.5M263.02 265.86l3.5-3.5M269.37 258.76h4.6M271.67 256.46v4.6M269.92 257.01l3.5 3.5M269.92 260.51l3.5-3.5M276.26 258.76h4.6M278.56 256.46v4.6M276.81 257.01l3.5 3.5M276.81 260.51l3.5-3.5M283.16 258.76h4.6M285.46 256.46v4.6M283.71 257.01l3.5 3.5M283.71 260.51l3.5-3.5M290.05 258.76h4.6M292.35 256.46v4.6M290.6 257.01l3.5 3.5M290.6 260.51l3.5-3.5M296.95 258.76h4.6M299.25 256.46v4.6M297.5 257.01l3.5 3.5M297.5 260.51l3.5-3.5M303.85 258.76h4.6M306.15 256.46v4.6M304.4 257.01l3.5 3.5M304.4 260.51l3.5-3.5M310.74 258.76h4.6M313.04 256.46v4.6M311.29 257.01l3.5 3.5M311.29 260.51l3.5-3.5M317.64 242.72h4.6M319.94 240.42v4.6M318.19 240.97l3.5 3.5M318.19 244.47l3.5-3.5M324.53 221.32h4.6M326.83 219.02v4.6M325.08 219.57l3.5 3.5M325.08 223.07l3.5-3.5M331.43 221.32h4.6M333.73 219.02v4.6M331.98 219.57l3.5 3.5M331.98 223.07l3.5-3.5M338.32 210.63h4.6M340.62 208.33v4.6M338.88 208.88l3.5 3.5M338.88 212.38l3.5-3.5M345.22 173.19h4.6M347.52 170.89v4.6M345.77 171.44l3.5 3.5M345.77 174.94l3.5-3.5M352.12 242.72h4.6M354.42 240.42v4.6M352.67 240.97l3.5 3.5M352.67 244.47l3.5-3.5M359.01 258.76h4.6M361.31 256.46v4.6M359.56 257.01l3.5 3.5M359.56 260.51l3.5-3.5M365.91 258.76h4.6M368.21 256.46v4.6M366.46 257.01l3.5 3.5M366.46 260.51l3.5-3.5M372.8 258.76h4.6M375.1 256.46v4.6M373.35 257.01l3.5 3.5M373.35 260.51l3.5-3.5M379.7 258.76h4.6M382 256.46v4.6M380.25 257.01l3.5 3.5M380.25 260.51l3.5-3.5" stroke="#00ff00" stroke-width="1.15" stroke-linecap="round" fill="none"/><polyline points="216.5,258.76 223.4,258.76 230.29,258.76 237.19,258.76 244.08,258.76 250.98,258.76 257.88,258.76 264.77,258.76 271.67,258.76 278.56,258.76 285.46,258.76 292.35,237.37 299.25,237.37 306.15,248.06 313.04,253.41 319.94,253.41 326.83,242.72 333.73,253.41 340.62,253.41 347.52,253.41 354.42,248.06 361.31,242.72 368.21,242.72 375.1,253.41 382,253.41" fill="none" stroke="#0000ff" stroke-width="1.25" stroke-linejoin="round"/><path d="M214.2 258.76h4.6M216.5 256.46v4.6M214.75 257.01l3.5 3.5M214.75 260.51l3.5-3.5M221.1 258.76h4.6M223.4 256.46v4.6M221.65 257.01l3.5 3.5M221.65 260.51l3.5-3.5M227.99 258.76h4.6M230.29 256.46v4.6M228.54 257.01l3.5 3.5M228.54 260.51l3.5-3.5M234.89 258.76h4.6M237.19 256.46v4.6M235.44 257.01l3.5 3.5M235.44 260.51l3.5-3.5M241.78 258.76h4.6M244.08 256.46v4.6M242.33 257.01l3.5 3.5M242.33 260.51l3.5-3.5M248.68 258.76h4.6M250.98 256.46v4.6M249.23 257.01l3.5 3.5M249.23 260.51l3.5-3.5M255.57 258.76h4.6M257.88 256.46v4.6M256.12 257.01l3.5 3.5M256.12 260.51l3.5-3.5M262.47 258.76h4.6M264.77 256.46v4.6M263.02 257.01l3.5 3.5M263.02 260.51l3.5-3.5M269.37 258.76h4.6M271.67 256.46v4.6M269.92 257.01l3.5 3.5M269.92 260.51l3.5-3.5M276.26 258.76h4.6M278.56 256.46v4.6M276.81 257.01l3.5 3.5M276.81 260.51l3.5-3.5M283.16 258.76h4.6M285.46 256.46v4.6M283.71 257.01l3.5 3.5M283.71 260.51l3.5-3.5M290.05 237.37h4.6M292.35 235.07v4.6M290.6 235.62l3.5 3.5M290.6 239.12l3.5-3.5M296.95 237.37h4.6M299.25 235.07v4.6M297.5 235.62l3.5 3.5M297.5 239.12l3.5-3.5M303.85 248.06h4.6M306.15 245.76v4.6M304.4 246.31l3.5 3.5M304.4 249.81l3.5-3.5M310.74 253.41h4.6M313.04 251.11v4.6M311.29 251.66l3.5 3.5M311.29 255.16l3.5-3.5M317.64 253.41h4.6M319.94 251.11v4.6M318.19 251.66l3.5 3.5M318.19 255.16l3.5-3.5M324.53 242.72h4.6M326.83 240.42v4.6M325.08 240.97l3.5 3.5M325.08 244.47l3.5-3.5M331.43 253.41h4.6M333.73 251.11v4.6M331.98 251.66l3.5 3.5M331.98 255.16l3.5-3.5M338.32 253.41h4.6M340.62 251.11v4.6M338.88 251.66l3.5 3.5M338.88 255.16l3.5-3.5M345.22 253.41h4.6M347.52 251.11v4.6M345.77 251.66l3.5 3.5M345.77 255.16l3.5-3.5M352.12 248.06h4.6M354.42 245.76v4.6M352.67 246.31l3.5 3.5M352.67 249.81l3.5-3.5M359.01 242.72h4.6M361.31 240.42v4.6M359.56 240.97l3.5 3.5M359.56 244.47l3.5-3.5M365.91 242.72h4.6M368.21 240.42v4.6M366.46 240.97l3.5 3.5M366.46 244.47l3.5-3.5M372.8 253.41h4.6M375.1 251.11v4.6M373.35 251.66l3.5 3.5M373.35 255.16l3.5-3.5M379.7 253.41h4.6M382 251.11v4.6M380.25 251.66l3.5 3.5M380.25 255.16l3.5-3.5" stroke="#0000ff" stroke-width="1.15" stroke-linecap="round" fill="none"/><polyline points="216.5,253.41 237.19,242.72 244.08,248.06 250.98,248.06 257.88,248.06 264.77,242.72 271.67,248.06 278.56,248.06 285.46,248.06 292.35,253.41 299.25,253.41 306.15,253.41 313.04,253.41 319.94,253.41 326.83,253.41 333.73,248.06 340.62,253.41 347.52,253.41 354.42,248.06 361.31,253.41 368.21,253.41 375.1,248.06 382,248.06" fill="none" stroke="#ff0000" stroke-width="1.25" stroke-linejoin="round"/><path d="M214.2 253.41h4.6M216.5 251.11v4.6M214.75 251.66l3.5 3.5M214.75 255.16l3.5-3.5M234.89 242.72h4.6M237.19 240.42v4.6M235.44 240.97l3.5 3.5M235.44 244.47l3.5-3.5M241.78 248.06h4.6M244.08 245.76v4.6M242.33 246.31l3.5 3.5M242.33 249.81l3.5-3.5M248.68 248.06h4.6M250.98 245.76v4.6M249.23 246.31l3.5 3.5M249.23 249.81l3.5-3.5M255.57 248.06h4.6M257.88 245.76v4.6M256.12 246.31l3.5 3.5M256.12 249.81l3.5-3.5M262.47 242.72h4.6M264.77 240.42v4.6M263.02 240.97l3.5 3.5M263.02 244.47l3.5-3.5M269.37 248.06h4.6M271.67 245.76v4.6M269.92 246.31l3.5 3.5M269.92 249.81l3.5-3.5M276.26 248.06h4.6M278.56 245.76v4.6M276.81 246.31l3.5 3.5M276.81 249.81l3.5-3.5M283.16 248.06h4.6M285.46 245.76v4.6M283.71 246.31l3.5 3.5M283.71 249.81l3.5-3.5M290.05 253.41h4.6M292.35 251.11v4.6M290.6 251.66l3.5 3.5M290.6 255.16l3.5-3.5M296.95 253.41h4.6M299.25 251.11v4.6M297.5 251.66l3.5 3.5M297.5 255.16l3.5-3.5M303.85 253.41h4.6M306.15 251.11v4.6M304.4 251.66l3.5 3.5M304.4 255.16l3.5-3.5M310.74 253.41h4.6M313.04 251.11v4.6M311.29 251.66l3.5 3.5M311.29 255.16l3.5-3.5M317.64 253.41h4.6M319.94 251.11v4.6M318.19 251.66l3.5 3.5M318.19 255.16l3.5-3.5M324.53 253.41h4.6M326.83 251.11v4.6M325.08 251.66l3.5 3.5M325.08 255.16l3.5-3.5M331.43 248.06h4.6M333.73 245.76v4.6M331.98 246.31l3.5 3.5M331.98 249.81l3.5-3.5M338.32 253.41h4.6M340.62 251.11v4.6M338.88 251.66l3.5 3.5M338.88 255.16l3.5-3.5M345.22 253.41h4.6M347.52 251.11v4.6M345.77 251.66l3.5 3.5M345.77 255.16l3.5-3.5M352.12 248.06h4.6M354.42 245.76v4.6M352.67 246.31l3.5 3.5M352.67 249.81l3.5-3.5M359.01 253.41h4.6M361.31 251.11v4.6M359.56 251.66l3.5 3.5M359.56 255.16l3.5-3.5M365.91 253.41h4.6M368.21 251.11v4.6M366.46 251.66l3.5 3.5M366.46 255.16l3.5-3.5M372.8 248.06h4.6M375.1 245.76v4.6M373.35 246.31l3.5 3.5M373.35 249.81l3.5-3.5M379.7 248.06h4.6M382 245.76v4.6M380.25 246.31l3.5 3.5M380.25 249.81l3.5-3.5" stroke="#ff0000" stroke-width="1.15" stroke-linecap="round" fill="none"/></g><path d="M216.5 285.5v-4M216.5 167.9v4M230.29 285.5v-4M230.29 167.9v4M244.08 285.5v-4M244.08 167.9v4M257.88 285.5v-4M257.88 167.9v4M271.67 285.5v-4M271.67 167.9v4M285.46 285.5v-4M285.46 167.9v4M299.25 285.5v-4M299.25 167.9v4M313.04 285.5v-4M313.04 167.9v4M326.83 285.5v-4M326.83 167.9v4M340.62 285.5v-4M340.62 167.9v4M354.42 285.5v-4M354.42 167.9v4M368.21 285.5v-4M368.21 167.9v4M382 285.5v-4M382 167.9v4M216.5 285.5h5.5M382 285.5h-5.5M216.5 271.5h4M382 271.5h-4M216.5 257.5h5.5M382 257.5h-5.5M216.5 243.5h4M382 243.5h-4M216.5 229.5h5.5M382 229.5h-5.5M216.5 215.5h4M382 215.5h-4M216.5 201.5h5.5M382 201.5h-5.5M216.5 187.5h4M382 187.5h-4M216.5 173.5h5.5M382 173.5h-5.5" stroke="#000" stroke-width="1" fill="none"/><rect x="216" y="167" width="1" height="120.1" fill="#000"/><rect x="381" y="167" width="2" height="120.1" fill="#000"/><rect x="216" y="167" width="167" height="2" fill="#000"/><rect x="216" y="285" width="167" height="1.6" fill="#000"/><line x1="216.5" y1="257.5" x2="382" y2="257.5" stroke="#000" stroke-width="1" stroke-dasharray="1 2.1"/><line x1="216.5" y1="229.5" x2="382" y2="229.5" stroke="#000" stroke-width="1" stroke-dasharray="1 2.1"/><line x1="216.5" y1="201.5" x2="382" y2="201.5" stroke="#000" stroke-width="1" stroke-dasharray="1 2.1"/><line x1="216.5" y1="173.5" x2="382" y2="173.5" stroke="#000" stroke-width="1" stroke-dasharray="1 2.1"/><line x1="244.08" y1="285.5" x2="244.08" y2="167.9" stroke="#000" stroke-width="1" stroke-dasharray="1 2.1"/><line x1="271.67" y1="285.5" x2="271.67" y2="167.9" stroke="#000" stroke-width="1" stroke-dasharray="1 2.1"/><line x1="299.25" y1="285.5" x2="299.25" y2="167.9" stroke="#000" stroke-width="1" stroke-dasharray="1 2.1"/><line x1="326.83" y1="285.5" x2="326.83" y2="167.9" stroke="#000" stroke-width="1" stroke-dasharray="1 2.1"/><line x1="354.42" y1="285.5" x2="354.42" y2="167.9" stroke="#000" stroke-width="1" stroke-dasharray="1 2.1"/><text x="212.2" y="287.9" font-size="8.6" text-anchor="end" fill="#000">0</text><text x="212.2" y="259.9" font-size="8.6" text-anchor="end" fill="#000">2</text><text x="212.2" y="231.9" font-size="8.6" text-anchor="end" fill="#000">4</text><text x="212.2" y="203.9" font-size="8.6" text-anchor="end" fill="#000">6</text><text x="212.2" y="175.9" font-size="8.6" text-anchor="end" fill="#000">8</text><text x="216.8" y="297" font-size="8.6" text-anchor="middle" fill="#000">0</text><text x="244.38" y="297" font-size="8.6" text-anchor="middle" fill="#000">4</text><text x="271.97" y="297" font-size="8.6" text-anchor="middle" fill="#000">8</text><text x="299.55" y="297" font-size="8.6" text-anchor="middle" fill="#000">12</text><text x="327.13" y="297" font-size="8.6" text-anchor="middle" fill="#000">16</text><text x="354.72" y="297" font-size="8.6" text-anchor="middle" fill="#000">20</text><text x="382.3" y="297" font-size="8.6" text-anchor="middle" fill="#000">24</text><text x="299.45" y="310.6" font-size="9.2" text-anchor="middle" textLength="48.41" lengthAdjust="spacingAndGlyphs" fill="#000" clip-path="url(#lc1)">Tsuen Wan</text></g>
<g><clipPath id="pc12"><rect x="409.5" y="167.9" width="165.5" height="117.6"/></clipPath><g clip-path="url(#pc12)"><polyline points="409.5,258.76 416.4,258.76 423.29,264.11 430.19,258.76 437.08,258.76 443.98,258.76 450.88,258.76 457.77,258.76 464.67,258.76 471.56,242.72 478.46,258.76 485.35,258.76 492.25,258.76 499.15,258.76 506.04,258.76 512.94,264.11 519.83,258.76 526.73,258.76 533.62,258.76 540.52,258.76 547.42,258.76 554.31,258.76 561.21,258.76 568.1,258.76 575,258.76" fill="none" stroke="#00ffff" stroke-width="1.25" stroke-linejoin="round"/><path d="M407.2 258.76h4.6M409.5 256.46v4.6M407.75 257.01l3.5 3.5M407.75 260.51l3.5-3.5M414.1 258.76h4.6M416.4 256.46v4.6M414.65 257.01l3.5 3.5M414.65 260.51l3.5-3.5M420.99 264.11h4.6M423.29 261.81v4.6M421.54 262.36l3.5 3.5M421.54 265.86l3.5-3.5M427.89 258.76h4.6M430.19 256.46v4.6M428.44 257.01l3.5 3.5M428.44 260.51l3.5-3.5M434.78 258.76h4.6M437.08 256.46v4.6M435.33 257.01l3.5 3.5M435.33 260.51l3.5-3.5M441.68 258.76h4.6M443.98 256.46v4.6M442.23 257.01l3.5 3.5M442.23 260.51l3.5-3.5M448.57 258.76h4.6M450.88 256.46v4.6M449.12 257.01l3.5 3.5M449.12 260.51l3.5-3.5M455.47 258.76h4.6M457.77 256.46v4.6M456.02 257.01l3.5 3.5M456.02 260.51l3.5-3.5M462.37 258.76h4.6M464.67 256.46v4.6M462.92 257.01l3.5 3.5M462.92 260.51l3.5-3.5M469.26 242.72h4.6M471.56 240.42v4.6M469.81 240.97l3.5 3.5M469.81 244.47l3.5-3.5M476.16 258.76h4.6M478.46 256.46v4.6M476.71 257.01l3.5 3.5M476.71 260.51l3.5-3.5M483.05 258.76h4.6M485.35 256.46v4.6M483.6 257.01l3.5 3.5M483.6 260.51l3.5-3.5M489.95 258.76h4.6M492.25 256.46v4.6M490.5 257.01l3.5 3.5M490.5 260.51l3.5-3.5M496.85 258.76h4.6M499.15 256.46v4.6M497.4 257.01l3.5 3.5M497.4 260.51l3.5-3.5M503.74 258.76h4.6M506.04 256.46v4.6M504.29 257.01l3.5 3.5M504.29 260.51l3.5-3.5M510.64 264.11h4.6M512.94 261.81v4.6M511.19 262.36l3.5 3.5M511.19 265.86l3.5-3.5M517.53 258.76h4.6M519.83 256.46v4.6M518.08 257.01l3.5 3.5M518.08 260.51l3.5-3.5M524.43 258.76h4.6M526.73 256.46v4.6M524.98 257.01l3.5 3.5M524.98 260.51l3.5-3.5M531.33 258.76h4.6M533.62 256.46v4.6M531.88 257.01l3.5 3.5M531.88 260.51l3.5-3.5M538.22 258.76h4.6M540.52 256.46v4.6M538.77 257.01l3.5 3.5M538.77 260.51l3.5-3.5M545.12 258.76h4.6M547.42 256.46v4.6M545.67 257.01l3.5 3.5M545.67 260.51l3.5-3.5M552.01 258.76h4.6M554.31 256.46v4.6M552.56 257.01l3.5 3.5M552.56 260.51l3.5-3.5M558.91 258.76h4.6M561.21 256.46v4.6M559.46 257.01l3.5 3.5M559.46 260.51l3.5-3.5M565.8 258.76h4.6M568.1 256.46v4.6M566.35 257.01l3.5 3.5M566.35 260.51l3.5-3.5M572.7 258.76h4.6M575 256.46v4.6M573.25 257.01l3.5 3.5M573.25 260.51l3.5-3.5" stroke="#00ffff" stroke-width="1.15" stroke-linecap="round" fill="none"/><polyline points="409.5,258.76 416.4,253.41 423.29,258.76 430.19,264.11 437.08,258.76 443.98,258.76 450.88,264.11 457.77,264.11 464.67,264.11 471.56,264.11 478.46,264.11 485.35,264.11 492.25,258.76 499.15,258.76 506.04,258.76 512.94,248.06 519.83,248.06 526.73,210.63 533.62,242.72 540.52,258.76 547.42,258.76 554.31,258.76 561.21,258.76 568.1,258.76 575,258.76" fill="none" stroke="#00ff00" stroke-width="1.25" stroke-linejoin="round"/><path d="M407.2 258.76h4.6M409.5 256.46v4.6M407.75 257.01l3.5 3.5M407.75 260.51l3.5-3.5M414.1 253.41h4.6M416.4 251.11v4.6M414.65 251.66l3.5 3.5M414.65 255.16l3.5-3.5M420.99 258.76h4.6M423.29 256.46v4.6M421.54 257.01l3.5 3.5M421.54 260.51l3.5-3.5M427.89 264.11h4.6M430.19 261.81v4.6M428.44 262.36l3.5 3.5M428.44 265.86l3.5-3.5M434.78 258.76h4.6M437.08 256.46v4.6M435.33 257.01l3.5 3.5M435.33 260.51l3.5-3.5M441.68 258.76h4.6M443.98 256.46v4.6M442.23 257.01l3.5 3.5M442.23 260.51l3.5-3.5M448.57 264.11h4.6M450.88 261.81v4.6M449.12 262.36l3.5 3.5M449.12 265.86l3.5-3.5M455.47 264.11h4.6M457.77 261.81v4.6M456.02 262.36l3.5 3.5M456.02 265.86l3.5-3.5M462.37 264.11h4.6M464.67 261.81v4.6M462.92 262.36l3.5 3.5M462.92 265.86l3.5-3.5M469.26 264.11h4.6M471.56 261.81v4.6M469.81 262.36l3.5 3.5M469.81 265.86l3.5-3.5M476.16 264.11h4.6M478.46 261.81v4.6M476.71 262.36l3.5 3.5M476.71 265.86l3.5-3.5M483.05 264.11h4.6M485.35 261.81v4.6M483.6 262.36l3.5 3.5M483.6 265.86l3.5-3.5M489.95 258.76h4.6M492.25 256.46v4.6M490.5 257.01l3.5 3.5M490.5 260.51l3.5-3.5M496.85 258.76h4.6M499.15 256.46v4.6M497.4 257.01l3.5 3.5M497.4 260.51l3.5-3.5M503.74 258.76h4.6M506.04 256.46v4.6M504.29 257.01l3.5 3.5M504.29 260.51l3.5-3.5M510.64 248.06h4.6M512.94 245.76v4.6M511.19 246.31l3.5 3.5M511.19 249.81l3.5-3.5M517.53 248.06h4.6M519.83 245.76v4.6M518.08 246.31l3.5 3.5M518.08 249.81l3.5-3.5M524.43 210.63h4.6M526.73 208.33v4.6M524.98 208.88l3.5 3.5M524.98 212.38l3.5-3.5M531.33 242.72h4.6M533.62 240.42v4.6M531.88 240.97l3.5 3.5M531.88 244.47l3.5-3.5M538.22 258.76h4.6M540.52 256.46v4.6M538.77 257.01l3.5 3.5M538.77 260.51l3.5-3.5M545.12 258.76h4.6M547.42 256.46v4.6M545.67 257.01l3.5 3.5M545.67 260.51l3.5-3.5M552.01 258.76h4.6M554.31 256.46v4.6M552.56 257.01l3.5 3.5M552.56 260.51l3.5-3.5M558.91 258.76h4.6M561.21 256.46v4.6M559.46 257.01l3.5 3.5M559.46 260.51l3.5-3.5M565.8 258.76h4.6M568.1 256.46v4.6M566.35 257.01l3.5 3.5M566.35 260.51l3.5-3.5M572.7 258.76h4.6M575 256.46v4.6M573.25 257.01l3.5 3.5M573.25 260.51l3.5-3.5" stroke="#00ff00" stroke-width="1.15" stroke-linecap="round" fill="none"/><polyline points="409.5,258.76 416.4,258.76 423.29,258.76 430.19,258.76 437.08,258.76 443.98,264.11 450.88,264.11 457.77,258.76 464.67,258.76 471.56,258.76 478.46,253.41 485.35,248.06 492.25,248.06 499.15,173.19 506.04,248.06 512.94,237.37 519.83,237.37 526.73,226.67 533.62,242.72 540.52,248.06 547.42,253.41 554.31,258.76 561.21,258.76 568.1,258.76 575,248.06" fill="none" stroke="#0000ff" stroke-width="1.25" stroke-linejoin="round"/><path d="M407.2 258.76h4.6M409.5 256.46v4.6M407.75 257.01l3.5 3.5M407.75 260.51l3.5-3.5M414.1 258.76h4.6M416.4 256.46v4.6M414.65 257.01l3.5 3.5M414.65 260.51l3.5-3.5M420.99 258.76h4.6M423.29 256.46v4.6M421.54 257.01l3.5 3.5M421.54 260.51l3.5-3.5M427.89 258.76h4.6M430.19 256.46v4.6M428.44 257.01l3.5 3.5M428.44 260.51l3.5-3.5M434.78 258.76h4.6M437.08 256.46v4.6M435.33 257.01l3.5 3.5M435.33 260.51l3.5-3.5M441.68 264.11h4.6M443.98 261.81v4.6M442.23 262.36l3.5 3.5M442.23 265.86l3.5-3.5M448.57 264.11h4.6M450.88 261.81v4.6M449.12 262.36l3.5 3.5M449.12 265.86l3.5-3.5M455.47 258.76h4.6M457.77 256.46v4.6M456.02 257.01l3.5 3.5M456.02 260.51l3.5-3.5M462.37 258.76h4.6M464.67 256.46v4.6M462.92 257.01l3.5 3.5M462.92 260.51l3.5-3.5M469.26 258.76h4.6M471.56 256.46v4.6M469.81 257.01l3.5 3.5M469.81 260.51l3.5-3.5M476.16 253.41h4.6M478.46 251.11v4.6M476.71 251.66l3.5 3.5M476.71 255.16l3.5-3.5M483.05 248.06h4.6M485.35 245.76v4.6M483.6 246.31l3.5 3.5M483.6 249.81l3.5-3.5M489.95 248.06h4.6M492.25 245.76v4.6M490.5 246.31l3.5 3.5M490.5 249.81l3.5-3.5M496.85 173.19h4.6M499.15 170.89v4.6M497.4 171.44l3.5 3.5M497.4 174.94l3.5-3.5M503.74 248.06h4.6M506.04 245.76v4.6M504.29 246.31l3.5 3.5M504.29 249.81l3.5-3.5M510.64 237.37h4.6M512.94 235.07v4.6M511.19 235.62l3.5 3.5M511.19 239.12l3.5-3.5M517.53 237.37h4.6M519.83 235.07v4.6M518.08 235.62l3.5 3.5M518.08 239.12l3.5-3.5M524.43 226.67h4.6M526.73 224.37v4.6M524.98 224.92l3.5 3.5M524.98 228.42l3.5-3.5M531.33 242.72h4.6M533.62 240.42v4.6M531.88 240.97l3.5 3.5M531.88 244.47l3.5-3.5M538.22 248.06h4.6M540.52 245.76v4.6M538.77 246.31l3.5 3.5M538.77 249.81l3.5-3.5M545.12 253.41h4.6M547.42 251.11v4.6M545.67 251.66l3.5 3.5M545.67 255.16l3.5-3.5M552.01 258.76h4.6M554.31 256.46v4.6M552.56 257.01l3.5 3.5M552.56 260.51l3.5-3.5M558.91 258.76h4.6M561.21 256.46v4.6M559.46 257.01l3.5 3.5M559.46 260.51l3.5-3.5M565.8 258.76h4.6M568.1 256.46v4.6M566.35 257.01l3.5 3.5M566.35 260.51l3.5-3.5M572.7 248.06h4.6M575 245.76v4.6M573.25 246.31l3.5 3.5M573.25 249.81l3.5-3.5" stroke="#0000ff" stroke-width="1.15" stroke-linecap="round" fill="none"/><polyline points="409.5,248.06 423.29,226.67 430.19,232.02 443.98,221.32 450.88,242.72 457.77,242.72 464.67,258.76 471.56,264.11 478.46,258.76 485.35,253.41 492.25,248.06 499.15,253.41 506.04,253.41 512.94,258.76 519.83,258.76 526.73,242.72 533.62,248.06 540.52,248.06 547.42,253.41 554.31,253.41 561.21,253.41 568.1,237.37 575,248.06" fill="none" stroke="#ff0000" stroke-width="1.25" stroke-linejoin="round"/><path d="M407.2 248.06h4.6M409.5 245.76v4.6M407.75 246.31l3.5 3.5M407.75 249.81l3.5-3.5M420.99 226.67h4.6M423.29 224.37v4.6M421.54 224.92l3.5 3.5M421.54 228.42l3.5-3.5M427.89 232.02h4.6M430.19 229.72v4.6M428.44 230.27l3.5 3.5M428.44 233.77l3.5-3.5M441.68 221.32h4.6M443.98 219.02v4.6M442.23 219.57l3.5 3.5M442.23 223.07l3.5-3.5M448.57 242.72h4.6M450.88 240.42v4.6M449.12 240.97l3.5 3.5M449.12 244.47l3.5-3.5M455.47 242.72h4.6M457.77 240.42v4.6M456.02 240.97l3.5 3.5M456.02 244.47l3.5-3.5M462.37 258.76h4.6M464.67 256.46v4.6M462.92 257.01l3.5 3.5M462.92 260.51l3.5-3.5M469.26 264.11h4.6M471.56 261.81v4.6M469.81 262.36l3.5 3.5M469.81 265.86l3.5-3.5M476.16 258.76h4.6M478.46 256.46v4.6M476.71 257.01l3.5 3.5M476.71 260.51l3.5-3.5M483.05 253.41h4.6M485.35 251.11v4.6M483.6 251.66l3.5 3.5M483.6 255.16l3.5-3.5M489.95 248.06h4.6M492.25 245.76v4.6M490.5 246.31l3.5 3.5M490.5 249.81l3.5-3.5M496.85 253.41h4.6M499.15 251.11v4.6M497.4 251.66l3.5 3.5M497.4 255.16l3.5-3.5M503.74 253.41h4.6M506.04 251.11v4.6M504.29 251.66l3.5 3.5M504.29 255.16l3.5-3.5M510.64 258.76h4.6M512.94 256.46v4.6M511.19 257.01l3.5 3.5M511.19 260.51l3.5-3.5M517.53 258.76h4.6M519.83 256.46v4.6M518.08 257.01l3.5 3.5M518.08 260.51l3.5-3.5M524.43 242.72h4.6M526.73 240.42v4.6M524.98 240.97l3.5 3.5M524.98 244.47l3.5-3.5M531.33 248.06h4.6M533.62 245.76v4.6M531.88 246.31l3.5 3.5M531.88 249.81l3.5-3.5M538.22 248.06h4.6M540.52 245.76v4.6M538.77 246.31l3.5 3.5M538.77 249.81l3.5-3.5M545.12 253.41h4.6M547.42 251.11v4.6M545.67 251.66l3.5 3.5M545.67 255.16l3.5-3.5M552.01 253.41h4.6M554.31 251.11v4.6M552.56 251.66l3.5 3.5M552.56 255.16l3.5-3.5M558.91 253.41h4.6M561.21 251.11v4.6M559.46 251.66l3.5 3.5M559.46 255.16l3.5-3.5M565.8 237.37h4.6M568.1 235.07v4.6M566.35 235.62l3.5 3.5M566.35 239.12l3.5-3.5M572.7 248.06h4.6M575 245.76v4.6M573.25 246.31l3.5 3.5M573.25 249.81l3.5-3.5" stroke="#ff0000" stroke-width="1.15" stroke-linecap="round" fill="none"/></g><path d="M409.5 285.5v-4M409.5 167.9v4M423.29 285.5v-4M423.29 167.9v4M437.08 285.5v-4M437.08 167.9v4M450.88 285.5v-4M450.88 167.9v4M464.67 285.5v-4M464.67 167.9v4M478.46 285.5v-4M478.46 167.9v4M492.25 285.5v-4M492.25 167.9v4M506.04 285.5v-4M506.04 167.9v4M519.83 285.5v-4M519.83 167.9v4M533.62 285.5v-4M533.62 167.9v4M547.42 285.5v-4M547.42 167.9v4M561.21 285.5v-4M561.21 167.9v4M575 285.5v-4M575 167.9v4M409.5 285.5h5.5M575 285.5h-5.5M409.5 271.5h4M575 271.5h-4M409.5 257.5h5.5M575 257.5h-5.5M409.5 243.5h4M575 243.5h-4M409.5 229.5h5.5M575 229.5h-5.5M409.5 215.5h4M575 215.5h-4M409.5 201.5h5.5M575 201.5h-5.5M409.5 187.5h4M575 187.5h-4M409.5 173.5h5.5M575 173.5h-5.5" stroke="#000" stroke-width="1" fill="none"/><rect x="409" y="167" width="1" height="120.1" fill="#000"/><rect x="574" y="167" width="2" height="120.1" fill="#000"/><rect x="409" y="167" width="167" height="2" fill="#000"/><rect x="409" y="285" width="167" height="1.6" fill="#000"/><line x1="409.5" y1="257.5" x2="575" y2="257.5" stroke="#000" stroke-width="1" stroke-dasharray="1 2.1"/><line x1="409.5" y1="229.5" x2="575" y2="229.5" stroke="#000" stroke-width="1" stroke-dasharray="1 2.1"/><line x1="409.5" y1="201.5" x2="575" y2="201.5" stroke="#000" stroke-width="1" stroke-dasharray="1 2.1"/><line x1="409.5" y1="173.5" x2="575" y2="173.5" stroke="#000" stroke-width="1" stroke-dasharray="1 2.1"/><line x1="437.08" y1="285.5" x2="437.08" y2="167.9" stroke="#000" stroke-width="1" stroke-dasharray="1 2.1"/><line x1="464.67" y1="285.5" x2="464.67" y2="167.9" stroke="#000" stroke-width="1" stroke-dasharray="1 2.1"/><line x1="492.25" y1="285.5" x2="492.25" y2="167.9" stroke="#000" stroke-width="1" stroke-dasharray="1 2.1"/><line x1="519.83" y1="285.5" x2="519.83" y2="167.9" stroke="#000" stroke-width="1" stroke-dasharray="1 2.1"/><line x1="547.42" y1="285.5" x2="547.42" y2="167.9" stroke="#000" stroke-width="1" stroke-dasharray="1 2.1"/><text x="405.2" y="287.9" font-size="8.6" text-anchor="end" fill="#000">0</text><text x="405.2" y="259.9" font-size="8.6" text-anchor="end" fill="#000">2</text><text x="405.2" y="231.9" font-size="8.6" text-anchor="end" fill="#000">4</text><text x="405.2" y="203.9" font-size="8.6" text-anchor="end" fill="#000">6</text><text x="405.2" y="175.9" font-size="8.6" text-anchor="end" fill="#000">8</text><text x="409.8" y="297" font-size="8.6" text-anchor="middle" fill="#000">0</text><text x="437.38" y="297" font-size="8.6" text-anchor="middle" fill="#000">4</text><text x="464.97" y="297" font-size="8.6" text-anchor="middle" fill="#000">8</text><text x="492.55" y="297" font-size="8.6" text-anchor="middle" fill="#000">12</text><text x="520.13" y="297" font-size="8.6" text-anchor="middle" fill="#000">16</text><text x="547.72" y="297" font-size="8.6" text-anchor="middle" fill="#000">20</text><text x="575.3" y="297" font-size="8.6" text-anchor="middle" fill="#000">24</text><text x="492.45" y="310.6" font-size="9.2" text-anchor="middle" textLength="62.44" lengthAdjust="spacingAndGlyphs" fill="#000" clip-path="url(#lc1)">Sham Shui Po</text></g>
<g><clipPath id="pc13"><rect x="602.5" y="167.9" width="165.5" height="117.6"/></clipPath><g clip-path="url(#pc13)"><polyline points="602.5,242.72 609.4,242.72 616.29,248.06 623.19,248.06 630.08,242.72 636.98,242.72 643.88,248.06 650.77,242.72 657.67,237.37 664.56,237.37 671.46,237.37 678.35,242.72 685.25,242.72 692.15,248.06 699.04,258.76 705.94,253.41 712.83,242.72 719.73,237.37 726.62,242.72 733.52,237.37 740.42,232.02 747.31,237.37 754.21,242.72 761.1,248.06 768,242.72" fill="none" stroke="#00ffff" stroke-width="1.25" stroke-linejoin="round"/><path d="M600.2 242.72h4.6M602.5 240.42v4.6M600.75 240.97l3.5 3.5M600.75 244.47l3.5-3.5M607.1 242.72h4.6M609.4 240.42v4.6M607.65 240.97l3.5 3.5M607.65 244.47l3.5-3.5M613.99 248.06h4.6M616.29 245.76v4.6M614.54 246.31l3.5 3.5M614.54 249.81l3.5-3.5M620.89 248.06h4.6M623.19 245.76v4.6M621.44 246.31l3.5 3.5M621.44 249.81l3.5-3.5M627.78 242.72h4.6M630.08 240.42v4.6M628.33 240.97l3.5 3.5M628.33 244.47l3.5-3.5M634.68 242.72h4.6M636.98 240.42v4.6M635.23 240.97l3.5 3.5M635.23 244.47l3.5-3.5M641.58 248.06h4.6M643.88 245.76v4.6M642.12 246.31l3.5 3.5M642.12 249.81l3.5-3.5M648.47 242.72h4.6M650.77 240.42v4.6M649.02 240.97l3.5 3.5M649.02 244.47l3.5-3.5M655.37 237.37h4.6M657.67 235.07v4.6M655.92 235.62l3.5 3.5M655.92 239.12l3.5-3.5M662.26 237.37h4.6M664.56 235.07v4.6M662.81 235.62l3.5 3.5M662.81 239.12l3.5-3.5M669.16 237.37h4.6M671.46 235.07v4.6M669.71 235.62l3.5 3.5M669.71 239.12l3.5-3.5M676.05 242.72h4.6M678.35 240.42v4.6M676.6 240.97l3.5 3.5M676.6 244.47l3.5-3.5M682.95 242.72h4.6M685.25 240.42v4.6M683.5 240.97l3.5 3.5M683.5 244.47l3.5-3.5M689.85 248.06h4.6M692.15 245.76v4.6M690.4 246.31l3.5 3.5M690.4 249.81l3.5-3.5M696.74 258.76h4.6M699.04 256.46v4.6M697.29 257.01l3.5 3.5M697.29 260.51l3.5-3.5M703.64 253.41h4.6M705.94 251.11v4.6M704.19 251.66l3.5 3.5M704.19 255.16l3.5-3.5M710.53 242.72h4.6M712.83 240.42v4.6M711.08 240.97l3.5 3.5M711.08 244.47l3.5-3.5M717.43 237.37h4.6M719.73 235.07v4.6M717.98 235.62l3.5 3.5M717.98 239.12l3.5-3.5M724.33 242.72h4.6M726.62 240.42v4.6M724.88 240.97l3.5 3.5M724.88 244.47l3.5-3.5M731.22 237.37h4.6M733.52 235.07v4.6M731.77 235.62l3.5 3.5M731.77 239.12l3.5-3.5M738.12 232.02h4.6M740.42 229.72v4.6M738.67 230.27l3.5 3.5M738.67 233.77l3.5-3.5M745.01 237.37h4.6M747.31 235.07v4.6M745.56 235.62l3.5 3.5M745.56 239.12l3.5-3.5M751.91 242.72h4.6M754.21 240.42v4.6M752.46 240.97l3.5 3.5M752.46 244.47l3.5-3.5M758.8 248.06h4.6M761.1 245.76v4.6M759.35 246.31l3.5 3.5M759.35 249.81l3.5-3.5M765.7 242.72h4.6M768 240.42v4.6M766.25 240.97l3.5 3.5M766.25 244.47l3.5-3.5" stroke="#00ffff" stroke-width="1.15" stroke-linecap="round" fill="none"/><polyline points="602.5,242.72 609.4,226.67 616.29,237.37 623.19,215.98 630.08,221.32 636.98,210.63 643.88,215.98 650.77,215.98 657.67,226.67 664.56,237.37 671.46,242.72 678.35,232.02 685.25,232.02 692.15,226.67 699.04,232.02 705.94,232.02 712.83,226.67 719.73,226.67 726.62,248.06 733.52,237.37 740.42,242.72 747.31,237.37 754.21,237.37 761.1,242.72 768,242.72" fill="none" stroke="#00ff00" stroke-width="1.25" stroke-linejoin="round"/><path d="M600.2 242.72h4.6M602.5 240.42v4.6M600.75 240.97l3.5 3.5M600.75 244.47l3.5-3.5M607.1 226.67h4.6M609.4 224.37v4.6M607.65 224.92l3.5 3.5M607.65 228.42l3.5-3.5M613.99 237.37h4.6M616.29 235.07v4.6M614.54 235.62l3.5 3.5M614.54 239.12l3.5-3.5M620.89 215.98h4.6M623.19 213.68v4.6M621.44 214.23l3.5 3.5M621.44 217.73l3.5-3.5M627.78 221.32h4.6M630.08 219.02v4.6M628.33 219.57l3.5 3.5M628.33 223.07l3.5-3.5M634.68 210.63h4.6M636.98 208.33v4.6M635.23 208.88l3.5 3.5M635.23 212.38l3.5-3.5M641.58 215.98h4.6M643.88 213.68v4.6M642.12 214.23l3.5 3.5M642.12 217.73l3.5-3.5M648.47 215.98h4.6M650.77 213.68v4.6M649.02 214.23l3.5 3.5M649.02 217.73l3.5-3.5M655.37 226.67h4.6M657.67 224.37v4.6M655.92 224.92l3.5 3.5M655.92 228.42l3.5-3.5M662.26 237.37h4.6M664.56 235.07v4.6M662.81 235.62l3.5 3.5M662.81 239.12l3.5-3.5M669.16 242.72h4.6M671.46 240.42v4.6M669.71 240.97l3.5 3.5M669.71 244.47l3.5-3.5M676.05 232.02h4.6M678.35 229.72v4.6M676.6 230.27l3.5 3.5M676.6 233.77l3.5-3.5M682.95 232.02h4.6M685.25 229.72v4.6M683.5 230.27l3.5 3.5M683.5 233.77l3.5-3.5M689.85 226.67h4.6M692.15 224.37v4.6M690.4 224.92l3.5 3.5M690.4 228.42l3.5-3.5M696.74 232.02h4.6M699.04 229.72v4.6M697.29 230.27l3.5 3.5M697.29 233.77l3.5-3.5M703.64 232.02h4.6M705.94 229.72v4.6M704.19 230.27l3.5 3.5M704.19 233.77l3.5-3.5M710.53 226.67h4.6M712.83 224.37v4.6M711.08 224.92l3.5 3.5M711.08 228.42l3.5-3.5M717.43 226.67h4.6M719.73 224.37v4.6M717.98 224.92l3.5 3.5M717.98 228.42l3.5-3.5M724.33 248.06h4.6M726.62 245.76v4.6M724.88 246.31l3.5 3.5M724.88 249.81l3.5-3.5M731.22 237.37h4.6M733.52 235.07v4.6M731.77 235.62l3.5 3.5M731.77 239.12l3.5-3.5M738.12 242.72h4.6M740.42 240.42v4.6M738.67 240.97l3.5 3.5M738.67 244.47l3.5-3.5M745.01 237.37h4.6M747.31 235.07v4.6M745.56 235.62l3.5 3.5M745.56 239.12l3.5-3.5M751.91 237.37h4.6M754.21 235.07v4.6M752.46 235.62l3.5 3.5M752.46 239.12l3.5-3.5M758.8 242.72h4.6M761.1 240.42v4.6M759.35 240.97l3.5 3.5M759.35 244.47l3.5-3.5M765.7 242.72h4.6M768 240.42v4.6M766.25 240.97l3.5 3.5M766.25 244.47l3.5-3.5" stroke="#00ff00" stroke-width="1.15" stroke-linecap="round" fill="none"/><polyline points="602.5,242.72 609.4,253.41 616.29,253.41 623.19,226.67 630.08,237.37 636.98,242.72 643.88,242.72 650.77,242.72 657.67,221.32 664.56,215.98 671.46,221.32 678.35,226.67 685.25,237.37 692.15,221.32 699.04,210.63 705.94,221.32 712.83,232.02 719.73,237.37 726.62,226.67 733.52,232.02 740.42,205.28 747.31,226.67 754.21,237.37 761.1,232.02 768,248.06" fill="none" stroke="#0000ff" stroke-width="1.25" stroke-linejoin="round"/><path d="M600.2 242.72h4.6M602.5 240.42v4.6M600.75 240.97l3.5 3.5M600.75 244.47l3.5-3.5M607.1 253.41h4.6M609.4 251.11v4.6M607.65 251.66l3.5 3.5M607.65 255.16l3.5-3.5M613.99 253.41h4.6M616.29 251.11v4.6M614.54 251.66l3.5 3.5M614.54 255.16l3.5-3.5M620.89 226.67h4.6M623.19 224.37v4.6M621.44 224.92l3.5 3.5M621.44 228.42l3.5-3.5M627.78 237.37h4.6M630.08 235.07v4.6M628.33 235.62l3.5 3.5M628.33 239.12l3.5-3.5M634.68 242.72h4.6M636.98 240.42v4.6M635.23 240.97l3.5 3.5M635.23 244.47l3.5-3.5M641.58 242.72h4.6M643.88 240.42v4.6M642.12 240.97l3.5 3.5M642.12 244.47l3.5-3.5M648.47 242.72h4.6M650.77 240.42v4.6M649.02 240.97l3.5 3.5M649.02 244.47l3.5-3.5M655.37 221.32h4.6M657.67 219.02v4.6M655.92 219.57l3.5 3.5M655.92 223.07l3.5-3.5M662.26 215.98h4.6M664.56 213.68v4.6M662.81 214.23l3.5 3.5M662.81 217.73l3.5-3.5M669.16 221.32h4.6M671.46 219.02v4.6M669.71 219.57l3.5 3.5M669.71 223.07l3.5-3.5M676.05 226.67h4.6M678.35 224.37v4.6M676.6 224.92l3.5 3.5M676.6 228.42l3.5-3.5M682.95 237.37h4.6M685.25 235.07v4.6M683.5 235.62l3.5 3.5M683.5 239.12l3.5-3.5M689.85 221.32h4.6M692.15 219.02v4.6M690.4 219.57l3.5 3.5M690.4 223.07l3.5-3.5M696.74 210.63h4.6M699.04 208.33v4.6M697.29 208.88l3.5 3.5M697.29 212.38l3.5-3.5M703.64 221.32h4.6M705.94 219.02v4.6M704.19 219.57l3.5 3.5M704.19 223.07l3.5-3.5M710.53 232.02h4.6M712.83 229.72v4.6M711.08 230.27l3.5 3.5M711.08 233.77l3.5-3.5M717.43 237.37h4.6M719.73 235.07v4.6M717.98 235.62l3.5 3.5M717.98 239.12l3.5-3.5M724.33 226.67h4.6M726.62 224.37v4.6M724.88 224.92l3.5 3.5M724.88 228.42l3.5-3.5M731.22 232.02h4.6M733.52 229.72v4.6M731.77 230.27l3.5 3.5M731.77 233.77l3.5-3.5M738.12 205.28h4.6M740.42 202.98v4.6M738.67 203.53l3.5 3.5M738.67 207.03l3.5-3.5M745.01 226.67h4.6M747.31 224.37v4.6M745.56 224.92l3.5 3.5M745.56 228.42l3.5-3.5M751.91 237.37h4.6M754.21 235.07v4.6M752.46 235.62l3.5 3.5M752.46 239.12l3.5-3.5M758.8 232.02h4.6M761.1 229.72v4.6M759.35 230.27l3.5 3.5M759.35 233.77l3.5-3.5M765.7 248.06h4.6M768 245.76v4.6M766.25 246.31l3.5 3.5M766.25 249.81l3.5-3.5" stroke="#0000ff" stroke-width="1.15" stroke-linecap="round" fill="none"/><polyline points="602.5,248.06 609.4,258.76 616.29,242.72 623.19,226.67 630.08,242.72 636.98,248.06 643.88,237.37 650.77,237.37 657.67,242.72 664.56,242.72 671.46,242.72 678.35,242.72 685.25,232.02 692.15,232.02 699.04,242.72 705.94,242.72 712.83,237.37 719.73,237.37 726.62,237.37 733.52,237.37 740.42,237.37 747.31,248.06 754.21,253.41 761.1,232.02 768,221.32" fill="none" stroke="#ff0000" stroke-width="1.25" stroke-linejoin="round"/><path d="M600.2 248.06h4.6M602.5 245.76v4.6M600.75 246.31l3.5 3.5M600.75 249.81l3.5-3.5M607.1 258.76h4.6M609.4 256.46v4.6M607.65 257.01l3.5 3.5M607.65 260.51l3.5-3.5M613.99 242.72h4.6M616.29 240.42v4.6M614.54 240.97l3.5 3.5M614.54 244.47l3.5-3.5M620.89 226.67h4.6M623.19 224.37v4.6M621.44 224.92l3.5 3.5M621.44 228.42l3.5-3.5M627.78 242.72h4.6M630.08 240.42v4.6M628.33 240.97l3.5 3.5M628.33 244.47l3.5-3.5M634.68 248.06h4.6M636.98 245.76v4.6M635.23 246.31l3.5 3.5M635.23 249.81l3.5-3.5M641.58 237.37h4.6M643.88 235.07v4.6M642.12 235.62l3.5 3.5M642.12 239.12l3.5-3.5M648.47 237.37h4.6M650.77 235.07v4.6M649.02 235.62l3.5 3.5M649.02 239.12l3.5-3.5M655.37 242.72h4.6M657.67 240.42v4.6M655.92 240.97l3.5 3.5M655.92 244.47l3.5-3.5M662.26 242.72h4.6M664.56 240.42v4.6M662.81 240.97l3.5 3.5M662.81 244.47l3.5-3.5M669.16 242.72h4.6M671.46 240.42v4.6M669.71 240.97l3.5 3.5M669.71 244.47l3.5-3.5M676.05 242.72h4.6M678.35 240.42v4.6M676.6 240.97l3.5 3.5M676.6 244.47l3.5-3.5M682.95 232.02h4.6M685.25 229.72v4.6M683.5 230.27l3.5 3.5M683.5 233.77l3.5-3.5M689.85 232.02h4.6M692.15 229.72v4.6M690.4 230.27l3.5 3.5M690.4 233.77l3.5-3.5M696.74 242.72h4.6M699.04 240.42v4.6M697.29 240.97l3.5 3.5M697.29 244.47l3.5-3.5M703.64 242.72h4.6M705.94 240.42v4.6M704.19 240.97l3.5 3.5M704.19 244.47l3.5-3.5M710.53 237.37h4.6M712.83 235.07v4.6M711.08 235.62l3.5 3.5M711.08 239.12l3.5-3.5M717.43 237.37h4.6M719.73 235.07v4.6M717.98 235.62l3.5 3.5M717.98 239.12l3.5-3.5M724.33 237.37h4.6M726.62 235.07v4.6M724.88 235.62l3.5 3.5M724.88 239.12l3.5-3.5M731.22 237.37h4.6M733.52 235.07v4.6M731.77 235.62l3.5 3.5M731.77 239.12l3.5-3.5M738.12 237.37h4.6M740.42 235.07v4.6M738.67 235.62l3.5 3.5M738.67 239.12l3.5-3.5M745.01 248.06h4.6M747.31 245.76v4.6M745.56 246.31l3.5 3.5M745.56 249.81l3.5-3.5M751.91 253.41h4.6M754.21 251.11v4.6M752.46 251.66l3.5 3.5M752.46 255.16l3.5-3.5M758.8 232.02h4.6M761.1 229.72v4.6M759.35 230.27l3.5 3.5M759.35 233.77l3.5-3.5M765.7 221.32h4.6M768 219.02v4.6M766.25 219.57l3.5 3.5M766.25 223.07l3.5-3.5" stroke="#ff0000" stroke-width="1.15" stroke-linecap="round" fill="none"/></g><path d="M602.5 285.5v-4M602.5 167.9v4M616.29 285.5v-4M616.29 167.9v4M630.08 285.5v-4M630.08 167.9v4M643.88 285.5v-4M643.88 167.9v4M657.67 285.5v-4M657.67 167.9v4M671.46 285.5v-4M671.46 167.9v4M685.25 285.5v-4M685.25 167.9v4M699.04 285.5v-4M699.04 167.9v4M712.83 285.5v-4M712.83 167.9v4M726.62 285.5v-4M726.62 167.9v4M740.42 285.5v-4M740.42 167.9v4M754.21 285.5v-4M754.21 167.9v4M768 285.5v-4M768 167.9v4M602.5 285.5h5.5M768 285.5h-5.5M602.5 271.5h4M768 271.5h-4M602.5 257.5h5.5M768 257.5h-5.5M602.5 243.5h4M768 243.5h-4M602.5 229.5h5.5M768 229.5h-5.5M602.5 215.5h4M768 215.5h-4M602.5 201.5h5.5M768 201.5h-5.5M602.5 187.5h4M768 187.5h-4M602.5 173.5h5.5M768 173.5h-5.5" stroke="#000" stroke-width="1" fill="none"/><rect x="602" y="167" width="1" height="120.1" fill="#000"/><rect x="767" y="167" width="2" height="120.1" fill="#000"/><rect x="602" y="167" width="167" height="2" fill="#000"/><rect x="602" y="285" width="167" height="1.6" fill="#000"/><line x1="602.5" y1="257.5" x2="768" y2="257.5" stroke="#000" stroke-width="1" stroke-dasharray="1 2.1"/><line x1="602.5" y1="229.5" x2="768" y2="229.5" stroke="#000" stroke-width="1" stroke-dasharray="1 2.1"/><line x1="602.5" y1="201.5" x2="768" y2="201.5" stroke="#000" stroke-width="1" stroke-dasharray="1 2.1"/><line x1="602.5" y1="173.5" x2="768" y2="173.5" stroke="#000" stroke-width="1" stroke-dasharray="1 2.1"/><line x1="630.08" y1="285.5" x2="630.08" y2="167.9" stroke="#000" stroke-width="1" stroke-dasharray="1 2.1"/><line x1="657.67" y1="285.5" x2="657.67" y2="167.9" stroke="#000" stroke-width="1" stroke-dasharray="1 2.1"/><line x1="685.25" y1="285.5" x2="685.25" y2="167.9" stroke="#000" stroke-width="1" stroke-dasharray="1 2.1"/><line x1="712.83" y1="285.5" x2="712.83" y2="167.9" stroke="#000" stroke-width="1" stroke-dasharray="1 2.1"/><line x1="740.42" y1="285.5" x2="740.42" y2="167.9" stroke="#000" stroke-width="1" stroke-dasharray="1 2.1"/><text x="598.2" y="287.9" font-size="8.6" text-anchor="end" fill="#000">0</text><text x="598.2" y="259.9" font-size="8.6" text-anchor="end" fill="#000">2</text><text x="598.2" y="231.9" font-size="8.6" text-anchor="end" fill="#000">4</text><text x="598.2" y="203.9" font-size="8.6" text-anchor="end" fill="#000">6</text><text x="598.2" y="175.9" font-size="8.6" text-anchor="end" fill="#000">8</text><text x="602.8" y="297" font-size="8.6" text-anchor="middle" fill="#000">0</text><text x="630.38" y="297" font-size="8.6" text-anchor="middle" fill="#000">4</text><text x="657.97" y="297" font-size="8.6" text-anchor="middle" fill="#000">8</text><text x="685.55" y="297" font-size="8.6" text-anchor="middle" fill="#000">12</text><text x="713.13" y="297" font-size="8.6" text-anchor="middle" fill="#000">16</text><text x="740.72" y="297" font-size="8.6" text-anchor="middle" fill="#000">20</text><text x="768.3" y="297" font-size="8.6" text-anchor="middle" fill="#000">24</text><text x="685.45" y="310.6" font-size="9.2" text-anchor="middle" textLength="34.4" lengthAdjust="spacingAndGlyphs" fill="#000" clip-path="url(#lc1)">Sha Tin</text></g>
<g><clipPath id="pc20"><rect x="23.5" y="315.9" width="165.5" height="117.6"/></clipPath><g clip-path="url(#pc20)"><polyline points="23.5,396.06 30.4,396.06 37.29,396.06 44.19,396.06 51.08,393.39 57.98,393.39 64.88,401.41 71.77,401.41 78.67,404.09 85.56,404.09 92.46,396.06 99.35,398.74 106.25,390.72 113.15,396.06 120.04,404.09 126.94,404.09 133.83,401.41 140.73,401.41 147.62,401.41 154.52,401.41 161.42,396.06 168.31,398.74 175.21,398.74 182.1,396.06 189,396.06" fill="none" stroke="#00ffff" stroke-width="1.25" stroke-linejoin="round"/><path d="M21.2 396.06h4.6M23.5 393.76v4.6M21.75 394.31l3.5 3.5M21.75 397.81l3.5-3.5M28.1 396.06h4.6M30.4 393.76v4.6M28.65 394.31l3.5 3.5M28.65 397.81l3.5-3.5M34.99 396.06h4.6M37.29 393.76v4.6M35.54 394.31l3.5 3.5M35.54 397.81l3.5-3.5M41.89 396.06h4.6M44.19 393.76v4.6M42.44 394.31l3.5 3.5M42.44 397.81l3.5-3.5M48.78 393.39h4.6M51.08 391.09v4.6M49.33 391.64l3.5 3.5M49.33 395.14l3.5-3.5M55.68 393.39h4.6M57.98 391.09v4.6M56.23 391.64l3.5 3.5M56.23 395.14l3.5-3.5M62.58 401.41h4.6M64.88 399.11v4.6M63.12 399.66l3.5 3.5M63.12 403.16l3.5-3.5M69.47 401.41h4.6M71.77 399.11v4.6M70.02 399.66l3.5 3.5M70.02 403.16l3.5-3.5M76.37 404.09h4.6M78.67 401.79v4.6M76.92 402.34l3.5 3.5M76.92 405.84l3.5-3.5M83.26 404.09h4.6M85.56 401.79v4.6M83.81 402.34l3.5 3.5M83.81 405.84l3.5-3.5M90.16 396.06h4.6M92.46 393.76v4.6M90.71 394.31l3.5 3.5M90.71 397.81l3.5-3.5M97.05 398.74h4.6M99.35 396.44v4.6M97.6 396.99l3.5 3.5M97.6 400.49l3.5-3.5M103.95 390.72h4.6M106.25 388.42v4.6M104.5 388.97l3.5 3.5M104.5 392.47l3.5-3.5M110.85 396.06h4.6M113.15 393.76v4.6M111.4 394.31l3.5 3.5M111.4 397.81l3.5-3.5M117.74 404.09h4.6M120.04 401.79v4.6M118.29 402.34l3.5 3.5M118.29 405.84l3.5-3.5M124.64 404.09h4.6M126.94 401.79v4.6M125.19 402.34l3.5 3.5M125.19 405.84l3.5-3.5M131.53 401.41h4.6M133.83 399.11v4.6M132.08 399.66l3.5 3.5M132.08 403.16l3.5-3.5M138.43 401.41h4.6M140.73 399.11v4.6M138.98 399.66l3.5 3.5M138.98 403.16l3.5-3.5M145.32 401.41h4.6M147.62 399.11v4.6M145.88 399.66l3.5 3.5M145.88 403.16l3.5-3.5M152.22 401.41h4.6M154.52 399.11v4.6M152.77 399.66l3.5 3.5M152.77 403.16l3.5-3.5M159.12 396.06h4.6M161.42 393.76v4.6M159.67 394.31l3.5 3.5M159.67 397.81l3.5-3.5M166.01 398.74h4.6M168.31 396.44v4.6M166.56 396.99l3.5 3.5M166.56 400.49l3.5-3.5M172.91 398.74h4.6M175.21 396.44v4.6M173.46 396.99l3.5 3.5M173.46 400.49l3.5-3.5M179.8 396.06h4.6M182.1 393.76v4.6M180.35 394.31l3.5 3.5M180.35 397.81l3.5-3.5M186.7 396.06h4.6M189 393.76v4.6M187.25 394.31l3.5 3.5M187.25 397.81l3.5-3.5" stroke="#00ffff" stroke-width="1.15" stroke-linecap="round" fill="none"/><polyline points="23.5,396.06 30.4,396.06 37.29,396.06 44.19,401.41 51.08,396.06 57.98,401.41 64.88,404.09 71.77,404.09 78.67,404.09 85.56,404.09 92.46,404.09 99.35,404.09 106.25,404.09 113.15,404.09 120.04,404.09 126.94,401.41 133.83,396.06 140.73,390.72 147.62,396.06 154.52,396.06 161.42,390.72 168.31,393.39 175.21,393.39 182.1,390.72 189,390.72" fill="none" stroke="#00ff00" stroke-width="1.25" stroke-linejoin="round"/><path d="M21.2 396.06h4.6M23.5 393.76v4.6M21.75 394.31l3.5 3.5M21.75 397.81l3.5-3.5M28.1 396.06h4.6M30.4 393.76v4.6M28.65 394.31l3.5 3.5M28.65 397.81l3.5-3.5M34.99 396.06h4.6M37.29 393.76v4.6M35.54 394.31l3.5 3.5M35.54 397.81l3.5-3.5M41.89 401.41h4.6M44.19 399.11v4.6M42.44 399.66l3.5 3.5M42.44 403.16l3.5-3.5M48.78 396.06h4.6M51.08 393.76v4.6M49.33 394.31l3.5 3.5M49.33 397.81l3.5-3.5M55.68 401.41h4.6M57.98 399.11v4.6M56.23 399.66l3.5 3.5M56.23 403.16l3.5-3.5M62.58 404.09h4.6M64.88 401.79v4.6M63.12 402.34l3.5 3.5M63.12 405.84l3.5-3.5M69.47 404.09h4.6M71.77 401.79v4.6M70.02 402.34l3.5 3.5M70.02 405.84l3.5-3.5M76.37 404.09h4.6M78.67 401.79v4.6M76.92 402.34l3.5 3.5M76.92 405.84l3.5-3.5M83.26 404.09h4.6M85.56 401.79v4.6M83.81 402.34l3.5 3.5M83.81 405.84l3.5-3.5M90.16 404.09h4.6M92.46 401.79v4.6M90.71 402.34l3.5 3.5M90.71 405.84l3.5-3.5M97.05 404.09h4.6M99.35 401.79v4.6M97.6 402.34l3.5 3.5M97.6 405.84l3.5-3.5M103.95 404.09h4.6M106.25 401.79v4.6M104.5 402.34l3.5 3.5M104.5 405.84l3.5-3.5M110.85 404.09h4.6M113.15 401.79v4.6M111.4 402.34l3.5 3.5M111.4 405.84l3.5-3.5M117.74 404.09h4.6M120.04 401.79v4.6M118.29 402.34l3.5 3.5M118.29 405.84l3.5-3.5M124.64 401.41h4.6M126.94 399.11v4.6M125.19 399.66l3.5 3.5M125.19 403.16l3.5-3.5M131.53 396.06h4.6M133.83 393.76v4.6M132.08 394.31l3.5 3.5M132.08 397.81l3.5-3.5M138.43 390.72h4.6M140.73 388.42v4.6M138.98 388.97l3.5 3.5M138.98 392.47l3.5-3.5M145.32 396.06h4.6M147.62 393.76v4.6M145.88 394.31l3.5 3.5M145.88 397.81l3.5-3.5M152.22 396.06h4.6M154.52 393.76v4.6M152.77 394.31l3.5 3.5M152.77 397.81l3.5-3.5M159.12 390.72h4.6M161.42 388.42v4.6M159.67 388.97l3.5 3.5M159.67 392.47l3.5-3.5M166.01 393.39h4.6M168.31 391.09v4.6M166.56 391.64l3.5 3.5M166.56 395.14l3.5-3.5M172.91 393.39h4.6M175.21 391.09v4.6M173.46 391.64l3.5 3.5M173.46 395.14l3.5-3.5M179.8 390.72h4.6M182.1 388.42v4.6M180.35 388.97l3.5 3.5M180.35 392.47l3.5-3.5M186.7 390.72h4.6M189 388.42v4.6M187.25 388.97l3.5 3.5M187.25 392.47l3.5-3.5" stroke="#00ff00" stroke-width="1.15" stroke-linecap="round" fill="none"/><polyline points="23.5,390.72 30.4,393.39 37.29,385.37 44.19,388.04 51.08,380.02 57.98,380.02 64.88,390.72 71.77,385.37 78.67,390.72 85.56,396.06 92.46,396.06 99.35,393.39 106.25,401.41 113.15,401.41 120.04,401.41 126.94,398.74 133.83,401.41 140.73,401.41 147.62,398.74 154.52,398.74 161.42,401.41 168.31,396.06 175.21,401.41 182.1,396.06 189,390.72" fill="none" stroke="#0000ff" stroke-width="1.25" stroke-linejoin="round"/><path d="M21.2 390.72h4.6M23.5 388.42v4.6M21.75 388.97l3.5 3.5M21.75 392.47l3.5-3.5M28.1 393.39h4.6M30.4 391.09v4.6M28.65 391.64l3.5 3.5M28.65 395.14l3.5-3.5M34.99 385.37h4.6M37.29 383.07v4.6M35.54 383.62l3.5 3.5M35.54 387.12l3.5-3.5M41.89 388.04h4.6M44.19 385.74v4.6M42.44 386.29l3.5 3.5M42.44 389.79l3.5-3.5M48.78 380.02h4.6M51.08 377.72v4.6M49.33 378.27l3.5 3.5M49.33 381.77l3.5-3.5M55.68 380.02h4.6M57.98 377.72v4.6M56.23 378.27l3.5 3.5M56.23 381.77l3.5-3.5M62.58 390.72h4.6M64.88 388.42v4.6M63.12 388.97l3.5 3.5M63.12 392.47l3.5-3.5M69.47 385.37h4.6M71.77 383.07v4.6M70.02 383.62l3.5 3.5M70.02 387.12l3.5-3.5M76.37 390.72h4.6M78.67 388.42v4.6M76.92 388.97l3.5 3.5M76.92 392.47l3.5-3.5M83.26 396.06h4.6M85.56 393.76v4.6M83.81 394.31l3.5 3.5M83.81 397.81l3.5-3.5M90.16 396.06h4.6M92.46 393.76v4.6M90.71 394.31l3.5 3.5M90.71 397.81l3.5-3.5M97.05 393.39h4.6M99.35 391.09v4.6M97.6 391.64l3.5 3.5M97.6 395.14l3.5-3.5M103.95 401.41h4.6M106.25 399.11v4.6M104.5 399.66l3.5 3.5M104.5 403.16l3.5-3.5M110.85 401.41h4.6M113.15 399.11v4.6M111.4 399.66l3.5 3.5M111.4 403.16l3.5-3.5M117.74 401.41h4.6M120.04 399.11v4.6M118.29 399.66l3.5 3.5M118.29 403.16l3.5-3.5M124.64 398.74h4.6M126.94 396.44v4.6M125.19 396.99l3.5 3.5M125.19 400.49l3.5-3.5M131.53 401.41h4.6M133.83 399.11v4.6M132.08 399.66l3.5 3.5M132.08 403.16l3.5-3.5M138.43 401.41h4.6M140.73 399.11v4.6M138.98 399.66l3.5 3.5M138.98 403.16l3.5-3.5M145.32 398.74h4.6M147.62 396.44v4.6M145.88 396.99l3.5 3.5M145.88 400.49l3.5-3.5M152.22 398.74h4.6M154.52 396.44v4.6M152.77 396.99l3.5 3.5M152.77 400.49l3.5-3.5M159.12 401.41h4.6M161.42 399.11v4.6M159.67 399.66l3.5 3.5M159.67 403.16l3.5-3.5M166.01 396.06h4.6M168.31 393.76v4.6M166.56 394.31l3.5 3.5M166.56 397.81l3.5-3.5M172.91 401.41h4.6M175.21 399.11v4.6M173.46 399.66l3.5 3.5M173.46 403.16l3.5-3.5M179.8 396.06h4.6M182.1 393.76v4.6M180.35 394.31l3.5 3.5M180.35 397.81l3.5-3.5M186.7 390.72h4.6M189 388.42v4.6M187.25 388.97l3.5 3.5M187.25 392.47l3.5-3.5" stroke="#0000ff" stroke-width="1.15" stroke-linecap="round" fill="none"/><polyline points="23.5,390.72 30.4,390.72 37.29,390.72 44.19,390.72 51.08,385.37 57.98,385.37 64.88,396.06 71.77,401.41 78.67,401.41 85.56,401.41 92.46,393.39 99.35,390.72 106.25,388.04 113.15,390.72 120.04,396.06 126.94,398.74 133.83,401.41 140.73,401.41 147.62,401.41 154.52,401.41 161.42,401.41 168.31,401.41 175.21,396.06 182.1,396.06 189,398.74" fill="none" stroke="#ff0000" stroke-width="1.25" stroke-linejoin="round"/><path d="M21.2 390.72h4.6M23.5 388.42v4.6M21.75 388.97l3.5 3.5M21.75 392.47l3.5-3.5M28.1 390.72h4.6M30.4 388.42v4.6M28.65 388.97l3.5 3.5M28.65 392.47l3.5-3.5M34.99 390.72h4.6M37.29 388.42v4.6M35.54 388.97l3.5 3.5M35.54 392.47l3.5-3.5M41.89 390.72h4.6M44.19 388.42v4.6M42.44 388.97l3.5 3.5M42.44 392.47l3.5-3.5M48.78 385.37h4.6M51.08 383.07v4.6M49.33 383.62l3.5 3.5M49.33 387.12l3.5-3.5M55.68 385.37h4.6M57.98 383.07v4.6M56.23 383.62l3.5 3.5M56.23 387.12l3.5-3.5M62.58 396.06h4.6M64.88 393.76v4.6M63.12 394.31l3.5 3.5M63.12 397.81l3.5-3.5M69.47 401.41h4.6M71.77 399.11v4.6M70.02 399.66l3.5 3.5M70.02 403.16l3.5-3.5M76.37 401.41h4.6M78.67 399.11v4.6M76.92 399.66l3.5 3.5M76.92 403.16l3.5-3.5M83.26 401.41h4.6M85.56 399.11v4.6M83.81 399.66l3.5 3.5M83.81 403.16l3.5-3.5M90.16 393.39h4.6M92.46 391.09v4.6M90.71 391.64l3.5 3.5M90.71 395.14l3.5-3.5M97.05 390.72h4.6M99.35 388.42v4.6M97.6 388.97l3.5 3.5M97.6 392.47l3.5-3.5M103.95 388.04h4.6M106.25 385.74v4.6M104.5 386.29l3.5 3.5M104.5 389.79l3.5-3.5M110.85 390.72h4.6M113.15 388.42v4.6M111.4 388.97l3.5 3.5M111.4 392.47l3.5-3.5M117.74 396.06h4.6M120.04 393.76v4.6M118.29 394.31l3.5 3.5M118.29 397.81l3.5-3.5M124.64 398.74h4.6M126.94 396.44v4.6M125.19 396.99l3.5 3.5M125.19 400.49l3.5-3.5M131.53 401.41h4.6M133.83 399.11v4.6M132.08 399.66l3.5 3.5M132.08 403.16l3.5-3.5M138.43 401.41h4.6M140.73 399.11v4.6M138.98 399.66l3.5 3.5M138.98 403.16l3.5-3.5M145.32 401.41h4.6M147.62 399.11v4.6M145.88 399.66l3.5 3.5M145.88 403.16l3.5-3.5M152.22 401.41h4.6M154.52 399.11v4.6M152.77 399.66l3.5 3.5M152.77 403.16l3.5-3.5M159.12 401.41h4.6M161.42 399.11v4.6M159.67 399.66l3.5 3.5M159.67 403.16l3.5-3.5M166.01 401.41h4.6M168.31 399.11v4.6M166.56 399.66l3.5 3.5M166.56 403.16l3.5-3.5M172.91 396.06h4.6M175.21 393.76v4.6M173.46 394.31l3.5 3.5M173.46 397.81l3.5-3.5M179.8 396.06h4.6M182.1 393.76v4.6M180.35 394.31l3.5 3.5M180.35 397.81l3.5-3.5M186.7 398.74h4.6M189 396.44v4.6M187.25 396.99l3.5 3.5M187.25 400.49l3.5-3.5" stroke="#ff0000" stroke-width="1.15" stroke-linecap="round" fill="none"/></g><path d="M23.5 433.5v-4M23.5 315.9v4M37.29 433.5v-4M37.29 315.9v4M51.08 433.5v-4M51.08 315.9v4M64.88 433.5v-4M64.88 315.9v4M78.67 433.5v-4M78.67 315.9v4M92.46 433.5v-4M92.46 315.9v4M106.25 433.5v-4M106.25 315.9v4M120.04 433.5v-4M120.04 315.9v4M133.83 433.5v-4M133.83 315.9v4M147.62 433.5v-4M147.62 315.9v4M161.42 433.5v-4M161.42 315.9v4M175.21 433.5v-4M175.21 315.9v4M189 433.5v-4M189 315.9v4M23.5 433.5h5.5M189 433.5h-5.5M23.5 419.5h4M189 419.5h-4M23.5 405.5h5.5M189 405.5h-5.5M23.5 391.5h4M189 391.5h-4M23.5 377.5h5.5M189 377.5h-5.5M23.5 363.5h4M189 363.5h-4M23.5 349.5h5.5M189 349.5h-5.5M23.5 335.5h4M189 335.5h-4M23.5 321.5h5.5M189 321.5h-5.5" stroke="#000" stroke-width="1" fill="none"/><rect x="23" y="315" width="1" height="120.1" fill="#000"/><rect x="188" y="315" width="2" height="120.1" fill="#000"/><rect x="23" y="315" width="167" height="2" fill="#000"/><rect x="23" y="433" width="167" height="1.6" fill="#000"/><line x1="23.5" y1="405.5" x2="189" y2="405.5" stroke="#000" stroke-width="1" stroke-dasharray="1 2.1"/><line x1="23.5" y1="377.5" x2="189" y2="377.5" stroke="#000" stroke-width="1" stroke-dasharray="1 2.1"/><line x1="23.5" y1="349.5" x2="189" y2="349.5" stroke="#000" stroke-width="1" stroke-dasharray="1 2.1"/><line x1="23.5" y1="321.5" x2="189" y2="321.5" stroke="#000" stroke-width="1" stroke-dasharray="1 2.1"/><line x1="51.08" y1="433.5" x2="51.08" y2="315.9" stroke="#000" stroke-width="1" stroke-dasharray="1 2.1"/><line x1="78.67" y1="433.5" x2="78.67" y2="315.9" stroke="#000" stroke-width="1" stroke-dasharray="1 2.1"/><line x1="106.25" y1="433.5" x2="106.25" y2="315.9" stroke="#000" stroke-width="1" stroke-dasharray="1 2.1"/><line x1="133.83" y1="433.5" x2="133.83" y2="315.9" stroke="#000" stroke-width="1" stroke-dasharray="1 2.1"/><line x1="161.42" y1="433.5" x2="161.42" y2="315.9" stroke="#000" stroke-width="1" stroke-dasharray="1 2.1"/><text x="19.2" y="435.9" font-size="8.6" text-anchor="end" fill="#000">0</text><text x="19.2" y="407.9" font-size="8.6" text-anchor="end" fill="#000">2</text><text x="19.2" y="379.9" font-size="8.6" text-anchor="end" fill="#000">4</text><text x="19.2" y="351.9" font-size="8.6" text-anchor="end" fill="#000">6</text><text x="19.2" y="323.9" font-size="8.6" text-anchor="end" fill="#000">8</text><text x="23.8" y="445" font-size="8.6" text-anchor="middle" fill="#000">0</text><text x="51.38" y="445" font-size="8.6" text-anchor="middle" fill="#000">4</text><text x="78.97" y="445" font-size="8.6" text-anchor="middle" fill="#000">8</text><text x="106.55" y="445" font-size="8.6" text-anchor="middle" fill="#000">12</text><text x="134.13" y="445" font-size="8.6" text-anchor="middle" fill="#000">16</text><text x="161.72" y="445" font-size="8.6" text-anchor="middle" fill="#000">20</text><text x="189.3" y="445" font-size="8.6" text-anchor="middle" fill="#000">24</text><text x="106.45" y="458.6" font-size="9.2" text-anchor="middle" textLength="80.7" lengthAdjust="spacingAndGlyphs" fill="#000" clip-path="url(#lc2)">Airport, Sha Chau</text></g>
<g><clipPath id="pc21"><rect x="216.5" y="315.9" width="165.5" height="117.6"/></clipPath><g clip-path="url(#pc21)"><polyline points="216.5,401.41 223.4,412.11 230.29,412.11 237.19,417.46 244.08,417.46 250.98,417.46 257.88,417.46 264.77,406.76 271.67,380.02 278.56,401.41 285.46,396.06 292.35,406.76 299.25,406.76 306.15,401.41 313.04,363.98 319.94,369.32 326.83,358.63 333.73,331.89 340.62,353.28 347.52,401.41 354.42,406.76 361.31,406.76 368.21,412.11 375.1,412.11 382,412.11" fill="none" stroke="#00ffff" stroke-width="1.25" stroke-linejoin="round"/><path d="M214.2 401.41h4.6M216.5 399.11v4.6M214.75 399.66l3.5 3.5M214.75 403.16l3.5-3.5M221.1 412.11h4.6M223.4 409.81v4.6M221.65 410.36l3.5 3.5M221.65 413.86l3.5-3.5M227.99 412.11h4.6M230.29 409.81v4.6M228.54 410.36l3.5 3.5M228.54 413.86l3.5-3.5M234.89 417.46h4.6M237.19 415.16v4.6M235.44 415.71l3.5 3.5M235.44 419.21l3.5-3.5M241.78 417.46h4.6M244.08 415.16v4.6M242.33 415.71l3.5 3.5M242.33 419.21l3.5-3.5M248.68 417.46h4.6M250.98 415.16v4.6M249.23 415.71l3.5 3.5M249.23 419.21l3.5-3.5M255.57 417.46h4.6M257.88 415.16v4.6M256.12 415.71l3.5 3.5M256.12 419.21l3.5-3.5M262.47 406.76h4.6M264.77 404.46v4.6M263.02 405.01l3.5 3.5M263.02 408.51l3.5-3.5M269.37 380.02h4.6M271.67 377.72v4.6M269.92 378.27l3.5 3.5M269.92 381.77l3.5-3.5M276.26 401.41h4.6M278.56 399.11v4.6M276.81 399.66l3.5 3.5M276.81 403.16l3.5-3.5M283.16 396.06h4.6M285.46 393.76v4.6M283.71 394.31l3.5 3.5M283.71 397.81l3.5-3.5M290.05 406.76h4.6M292.35 404.46v4.6M290.6 405.01l3.5 3.5M290.6 408.51l3.5-3.5M296.95 406.76h4.6M299.25 404.46v4.6M297.5 405.01l3.5 3.5M297.5 408.51l3.5-3.5M303.85 401.41h4.6M306.15 399.11v4.6M304.4 399.66l3.5 3.5M304.4 403.16l3.5-3.5M310.74 363.98h4.6M313.04 361.68v4.6M311.29 362.23l3.5 3.5M311.29 365.73l3.5-3.5M317.64 369.32h4.6M319.94 367.02v4.6M318.19 367.57l3.5 3.5M318.19 371.07l3.5-3.5M324.53 358.63h4.6M326.83 356.33v4.6M325.08 356.88l3.5 3.5M325.08 360.38l3.5-3.5M331.43 331.89h4.6M333.73 329.59v4.6M331.98 330.14l3.5 3.5M331.98 333.64l3.5-3.5M338.32 353.28h4.6M340.62 350.98v4.6M338.88 351.53l3.5 3.5M338.88 355.03l3.5-3.5M345.22 401.41h4.6M347.52 399.11v4.6M345.77 399.66l3.5 3.5M345.77 403.16l3.5-3.5M352.12 406.76h4.6M354.42 404.46v4.6M352.67 405.01l3.5 3.5M352.67 408.51l3.5-3.5M359.01 406.76h4.6M361.31 404.46v4.6M359.56 405.01l3.5 3.5M359.56 408.51l3.5-3.5M365.91 412.11h4.6M368.21 409.81v4.6M366.46 410.36l3.5 3.5M366.46 413.86l3.5-3.5M372.8 412.11h4.6M375.1 409.81v4.6M373.35 410.36l3.5 3.5M373.35 413.86l3.5-3.5M379.7 412.11h4.6M382 409.81v4.6M380.25 410.36l3.5 3.5M380.25 413.86l3.5-3.5" stroke="#00ffff" stroke-width="1.15" stroke-linecap="round" fill="none"/><polyline points="216.5,412.11 223.4,412.11 230.29,412.11 237.19,412.11 244.08,417.46 250.98,417.46 257.88,417.46 264.77,417.46 271.67,406.76 278.56,406.76 285.46,406.76 292.35,412.11 299.25,412.11 306.15,412.11 313.04,390.72 319.94,390.72 326.83,347.93 333.73,315.84 340.62,358.63 347.52,396.06 354.42,406.76 361.31,412.11 368.21,412.11 375.1,412.11 382,412.11" fill="none" stroke="#00ff00" stroke-width="1.25" stroke-linejoin="round"/><path d="M214.2 412.11h4.6M216.5 409.81v4.6M214.75 410.36l3.5 3.5M214.75 413.86l3.5-3.5M221.1 412.11h4.6M223.4 409.81v4.6M221.65 410.36l3.5 3.5M221.65 413.86l3.5-3.5M227.99 412.11h4.6M230.29 409.81v4.6M228.54 410.36l3.5 3.5M228.54 413.86l3.5-3.5M234.89 412.11h4.6M237.19 409.81v4.6M235.44 410.36l3.5 3.5M235.44 413.86l3.5-3.5M241.78 417.46h4.6M244.08 415.16v4.6M242.33 415.71l3.5 3.5M242.33 419.21l3.5-3.5M248.68 417.46h4.6M250.98 415.16v4.6M249.23 415.71l3.5 3.5M249.23 419.21l3.5-3.5M255.57 417.46h4.6M257.88 415.16v4.6M256.12 415.71l3.5 3.5M256.12 419.21l3.5-3.5M262.47 417.46h4.6M264.77 415.16v4.6M263.02 415.71l3.5 3.5M263.02 419.21l3.5-3.5M269.37 406.76h4.6M271.67 404.46v4.6M269.92 405.01l3.5 3.5M269.92 408.51l3.5-3.5M276.26 406.76h4.6M278.56 404.46v4.6M276.81 405.01l3.5 3.5M276.81 408.51l3.5-3.5M283.16 406.76h4.6M285.46 404.46v4.6M283.71 405.01l3.5 3.5M283.71 408.51l3.5-3.5M290.05 412.11h4.6M292.35 409.81v4.6M290.6 410.36l3.5 3.5M290.6 413.86l3.5-3.5M296.95 412.11h4.6M299.25 409.81v4.6M297.5 410.36l3.5 3.5M297.5 413.86l3.5-3.5M303.85 412.11h4.6M306.15 409.81v4.6M304.4 410.36l3.5 3.5M304.4 413.86l3.5-3.5M310.74 390.72h4.6M313.04 388.42v4.6M311.29 388.97l3.5 3.5M311.29 392.47l3.5-3.5M317.64 390.72h4.6M319.94 388.42v4.6M318.19 388.97l3.5 3.5M318.19 392.47l3.5-3.5M324.53 347.93h4.6M326.83 345.63v4.6M325.08 346.18l3.5 3.5M325.08 349.68l3.5-3.5M331.43 315.84h4.6M333.73 313.54v4.6M331.98 314.09l3.5 3.5M331.98 317.59l3.5-3.5M338.32 358.63h4.6M340.62 356.33v4.6M338.88 356.88l3.5 3.5M338.88 360.38l3.5-3.5M345.22 396.06h4.6M347.52 393.76v4.6M345.77 394.31l3.5 3.5M345.77 397.81l3.5-3.5M352.12 406.76h4.6M354.42 404.46v4.6M352.67 405.01l3.5 3.5M352.67 408.51l3.5-3.5M359.01 412.11h4.6M361.31 409.81v4.6M359.56 410.36l3.5 3.5M359.56 413.86l3.5-3.5M365.91 412.11h4.6M368.21 409.81v4.6M366.46 410.36l3.5 3.5M366.46 413.86l3.5-3.5M372.8 412.11h4.6M375.1 409.81v4.6M373.35 410.36l3.5 3.5M373.35 413.86l3.5-3.5M379.7 412.11h4.6M382 409.81v4.6M380.25 410.36l3.5 3.5M380.25 413.86l3.5-3.5" stroke="#00ff00" stroke-width="1.15" stroke-linecap="round" fill="none"/><polyline points="216.5,412.11 223.4,412.11 230.29,412.11 237.19,412.11 244.08,409.43 250.98,406.76 257.88,412.11 264.77,412.11 271.67,406.76 278.56,406.76 285.46,412.11 292.35,374.67 299.25,363.98 306.15,390.72 313.04,380.02 319.94,380.02 326.83,369.32 333.73,396.06 340.62,396.06 347.52,380.02 354.42,342.58 361.31,353.28 368.21,363.98 375.1,380.02 382,396.06" fill="none" stroke="#0000ff" stroke-width="1.25" stroke-linejoin="round"/><path d="M214.2 412.11h4.6M216.5 409.81v4.6M214.75 410.36l3.5 3.5M214.75 413.86l3.5-3.5M221.1 412.11h4.6M223.4 409.81v4.6M221.65 410.36l3.5 3.5M221.65 413.86l3.5-3.5M227.99 412.11h4.6M230.29 409.81v4.6M228.54 410.36l3.5 3.5M228.54 413.86l3.5-3.5M234.89 412.11h4.6M237.19 409.81v4.6M235.44 410.36l3.5 3.5M235.44 413.86l3.5-3.5M241.78 409.43h4.6M244.08 407.13v4.6M242.33 407.68l3.5 3.5M242.33 411.18l3.5-3.5M248.68 406.76h4.6M250.98 404.46v4.6M249.23 405.01l3.5 3.5M249.23 408.51l3.5-3.5M255.57 412.11h4.6M257.88 409.81v4.6M256.12 410.36l3.5 3.5M256.12 413.86l3.5-3.5M262.47 412.11h4.6M264.77 409.81v4.6M263.02 410.36l3.5 3.5M263.02 413.86l3.5-3.5M269.37 406.76h4.6M271.67 404.46v4.6M269.92 405.01l3.5 3.5M269.92 408.51l3.5-3.5M276.26 406.76h4.6M278.56 404.46v4.6M276.81 405.01l3.5 3.5M276.81 408.51l3.5-3.5M283.16 412.11h4.6M285.46 409.81v4.6M283.71 410.36l3.5 3.5M283.71 413.86l3.5-3.5M290.05 374.67h4.6M292.35 372.37v4.6M290.6 372.92l3.5 3.5M290.6 376.42l3.5-3.5M296.95 363.98h4.6M299.25 361.68v4.6M297.5 362.23l3.5 3.5M297.5 365.73l3.5-3.5M303.85 390.72h4.6M306.15 388.42v4.6M304.4 388.97l3.5 3.5M304.4 392.47l3.5-3.5M310.74 380.02h4.6M313.04 377.72v4.6M311.29 378.27l3.5 3.5M311.29 381.77l3.5-3.5M317.64 380.02h4.6M319.94 377.72v4.6M318.19 378.27l3.5 3.5M318.19 381.77l3.5-3.5M324.53 369.32h4.6M326.83 367.02v4.6M325.08 367.57l3.5 3.5M325.08 371.07l3.5-3.5M331.43 396.06h4.6M333.73 393.76v4.6M331.98 394.31l3.5 3.5M331.98 397.81l3.5-3.5M338.32 396.06h4.6M340.62 393.76v4.6M338.88 394.31l3.5 3.5M338.88 397.81l3.5-3.5M345.22 380.02h4.6M347.52 377.72v4.6M345.77 378.27l3.5 3.5M345.77 381.77l3.5-3.5M352.12 342.58h4.6M354.42 340.28v4.6M352.67 340.83l3.5 3.5M352.67 344.33l3.5-3.5M359.01 353.28h4.6M361.31 350.98v4.6M359.56 351.53l3.5 3.5M359.56 355.03l3.5-3.5M365.91 363.98h4.6M368.21 361.68v4.6M366.46 362.23l3.5 3.5M366.46 365.73l3.5-3.5M372.8 380.02h4.6M375.1 377.72v4.6M373.35 378.27l3.5 3.5M373.35 381.77l3.5-3.5M379.7 396.06h4.6M382 393.76v4.6M380.25 394.31l3.5 3.5M380.25 397.81l3.5-3.5" stroke="#0000ff" stroke-width="1.15" stroke-linecap="round" fill="none"/><polyline points="216.5,396.06 223.4,385.37 230.29,337.24 237.19,363.98 244.08,390.72 250.98,385.37 257.88,380.02 264.77,369.32 271.67,380.02 278.56,396.06 285.46,385.37 306.15,369.32 313.04,401.41 319.94,401.41 326.83,396.06 333.73,390.72 340.62,390.72 347.52,390.72 354.42,380.02 361.31,385.37 368.21,374.67 375.1,374.67 382,385.37" fill="none" stroke="#ff0000" stroke-width="1.25" stroke-linejoin="round"/><path d="M214.2 396.06h4.6M216.5 393.76v4.6M214.75 394.31l3.5 3.5M214.75 397.81l3.5-3.5M221.1 385.37h4.6M223.4 383.07v4.6M221.65 383.62l3.5 3.5M221.65 387.12l3.5-3.5M227.99 337.24h4.6M230.29 334.94v4.6M228.54 335.49l3.5 3.5M228.54 338.99l3.5-3.5M234.89 363.98h4.6M237.19 361.68v4.6M235.44 362.23l3.5 3.5M235.44 365.73l3.5-3.5M241.78 390.72h4.6M244.08 388.42v4.6M242.33 388.97l3.5 3.5M242.33 392.47l3.5-3.5M248.68 385.37h4.6M250.98 383.07v4.6M249.23 383.62l3.5 3.5M249.23 387.12l3.5-3.5M255.57 380.02h4.6M257.88 377.72v4.6M256.12 378.27l3.5 3.5M256.12 381.77l3.5-3.5M262.47 369.32h4.6M264.77 367.02v4.6M263.02 367.57l3.5 3.5M263.02 371.07l3.5-3.5M269.37 380.02h4.6M271.67 377.72v4.6M269.92 378.27l3.5 3.5M269.92 381.77l3.5-3.5M276.26 396.06h4.6M278.56 393.76v4.6M276.81 394.31l3.5 3.5M276.81 397.81l3.5-3.5M283.16 385.37h4.6M285.46 383.07v4.6M283.71 383.62l3.5 3.5M283.71 387.12l3.5-3.5M303.85 369.32h4.6M306.15 367.02v4.6M304.4 367.57l3.5 3.5M304.4 371.07l3.5-3.5M310.74 401.41h4.6M313.04 399.11v4.6M311.29 399.66l3.5 3.5M311.29 403.16l3.5-3.5M317.64 401.41h4.6M319.94 399.11v4.6M318.19 399.66l3.5 3.5M318.19 403.16l3.5-3.5M324.53 396.06h4.6M326.83 393.76v4.6M325.08 394.31l3.5 3.5M325.08 397.81l3.5-3.5M331.43 390.72h4.6M333.73 388.42v4.6M331.98 388.97l3.5 3.5M331.98 392.47l3.5-3.5M338.32 390.72h4.6M340.62 388.42v4.6M338.88 388.97l3.5 3.5M338.88 392.47l3.5-3.5M345.22 390.72h4.6M347.52 388.42v4.6M345.77 388.97l3.5 3.5M345.77 392.47l3.5-3.5M352.12 380.02h4.6M354.42 377.72v4.6M352.67 378.27l3.5 3.5M352.67 381.77l3.5-3.5M359.01 385.37h4.6M361.31 383.07v4.6M359.56 383.62l3.5 3.5M359.56 387.12l3.5-3.5M365.91 374.67h4.6M368.21 372.37v4.6M366.46 372.92l3.5 3.5M366.46 376.42l3.5-3.5M372.8 374.67h4.6M375.1 372.37v4.6M373.35 372.92l3.5 3.5M373.35 376.42l3.5-3.5M379.7 385.37h4.6M382 383.07v4.6M380.25 383.62l3.5 3.5M380.25 387.12l3.5-3.5" stroke="#ff0000" stroke-width="1.15" stroke-linecap="round" fill="none"/></g><path d="M216.5 433.5v-4M216.5 315.9v4M230.29 433.5v-4M230.29 315.9v4M244.08 433.5v-4M244.08 315.9v4M257.88 433.5v-4M257.88 315.9v4M271.67 433.5v-4M271.67 315.9v4M285.46 433.5v-4M285.46 315.9v4M299.25 433.5v-4M299.25 315.9v4M313.04 433.5v-4M313.04 315.9v4M326.83 433.5v-4M326.83 315.9v4M340.62 433.5v-4M340.62 315.9v4M354.42 433.5v-4M354.42 315.9v4M368.21 433.5v-4M368.21 315.9v4M382 433.5v-4M382 315.9v4M216.5 433.5h5.5M382 433.5h-5.5M216.5 419.5h4M382 419.5h-4M216.5 405.5h5.5M382 405.5h-5.5M216.5 391.5h4M382 391.5h-4M216.5 377.5h5.5M382 377.5h-5.5M216.5 363.5h4M382 363.5h-4M216.5 349.5h5.5M382 349.5h-5.5M216.5 335.5h4M382 335.5h-4M216.5 321.5h5.5M382 321.5h-5.5" stroke="#000" stroke-width="1" fill="none"/><rect x="216" y="315" width="1" height="120.1" fill="#000"/><rect x="381" y="315" width="2" height="120.1" fill="#000"/><rect x="216" y="315" width="167" height="2" fill="#000"/><rect x="216" y="433" width="167" height="1.6" fill="#000"/><line x1="216.5" y1="405.5" x2="382" y2="405.5" stroke="#000" stroke-width="1" stroke-dasharray="1 2.1"/><line x1="216.5" y1="377.5" x2="382" y2="377.5" stroke="#000" stroke-width="1" stroke-dasharray="1 2.1"/><line x1="216.5" y1="349.5" x2="382" y2="349.5" stroke="#000" stroke-width="1" stroke-dasharray="1 2.1"/><line x1="216.5" y1="321.5" x2="382" y2="321.5" stroke="#000" stroke-width="1" stroke-dasharray="1 2.1"/><line x1="244.08" y1="433.5" x2="244.08" y2="315.9" stroke="#000" stroke-width="1" stroke-dasharray="1 2.1"/><line x1="271.67" y1="433.5" x2="271.67" y2="315.9" stroke="#000" stroke-width="1" stroke-dasharray="1 2.1"/><line x1="299.25" y1="433.5" x2="299.25" y2="315.9" stroke="#000" stroke-width="1" stroke-dasharray="1 2.1"/><line x1="326.83" y1="433.5" x2="326.83" y2="315.9" stroke="#000" stroke-width="1" stroke-dasharray="1 2.1"/><line x1="354.42" y1="433.5" x2="354.42" y2="315.9" stroke="#000" stroke-width="1" stroke-dasharray="1 2.1"/><text x="212.2" y="435.9" font-size="8.6" text-anchor="end" fill="#000">0</text><text x="212.2" y="407.9" font-size="8.6" text-anchor="end" fill="#000">2</text><text x="212.2" y="379.9" font-size="8.6" text-anchor="end" fill="#000">4</text><text x="212.2" y="351.9" font-size="8.6" text-anchor="end" fill="#000">6</text><text x="212.2" y="323.9" font-size="8.6" text-anchor="end" fill="#000">8</text><text x="216.8" y="445" font-size="8.6" text-anchor="middle" fill="#000">0</text><text x="244.38" y="445" font-size="8.6" text-anchor="middle" fill="#000">4</text><text x="271.97" y="445" font-size="8.6" text-anchor="middle" fill="#000">8</text><text x="299.55" y="445" font-size="8.6" text-anchor="middle" fill="#000">12</text><text x="327.13" y="445" font-size="8.6" text-anchor="middle" fill="#000">16</text><text x="354.72" y="445" font-size="8.6" text-anchor="middle" fill="#000">20</text><text x="382.3" y="445" font-size="8.6" text-anchor="middle" fill="#000">24</text><text x="299.45" y="458.6" font-size="9.2" text-anchor="middle" textLength="54.31" lengthAdjust="spacingAndGlyphs" fill="#000" clip-path="url(#lc2)">Kwai Chung</text></g>
<g><clipPath id="pc22"><rect x="409.5" y="315.9" width="165.5" height="117.6"/></clipPath><g clip-path="url(#pc22)"><polyline points="409.5,417.46 416.4,417.46 423.29,417.46 430.19,422.8 437.08,422.8 443.98,422.8 450.88,422.8 457.77,417.46 464.67,412.11 471.56,401.41 478.46,412.11 485.35,406.76 492.25,401.41 499.15,412.11 506.04,412.11 512.94,412.11 519.83,417.46 526.73,406.76 533.62,412.11 540.52,412.11 547.42,412.11 554.31,417.46 561.21,417.46 568.1,417.46 575,417.46" fill="none" stroke="#00ffff" stroke-width="1.25" stroke-linejoin="round"/><path d="M407.2 417.46h4.6M409.5 415.16v4.6M407.75 415.71l3.5 3.5M407.75 419.21l3.5-3.5M414.1 417.46h4.6M416.4 415.16v4.6M414.65 415.71l3.5 3.5M414.65 419.21l3.5-3.5M420.99 417.46h4.6M423.29 415.16v4.6M421.54 415.71l3.5 3.5M421.54 419.21l3.5-3.5M427.89 422.8h4.6M430.19 420.5v4.6M428.44 421.05l3.5 3.5M428.44 424.55l3.5-3.5M434.78 422.8h4.6M437.08 420.5v4.6M435.33 421.05l3.5 3.5M435.33 424.55l3.5-3.5M441.68 422.8h4.6M443.98 420.5v4.6M442.23 421.05l3.5 3.5M442.23 424.55l3.5-3.5M448.57 422.8h4.6M450.88 420.5v4.6M449.12 421.05l3.5 3.5M449.12 424.55l3.5-3.5M455.47 417.46h4.6M457.77 415.16v4.6M456.02 415.71l3.5 3.5M456.02 419.21l3.5-3.5M462.37 412.11h4.6M464.67 409.81v4.6M462.92 410.36l3.5 3.5M462.92 413.86l3.5-3.5M469.26 401.41h4.6M471.56 399.11v4.6M469.81 399.66l3.5 3.5M469.81 403.16l3.5-3.5M476.16 412.11h4.6M478.46 409.81v4.6M476.71 410.36l3.5 3.5M476.71 413.86l3.5-3.5M483.05 406.76h4.6M485.35 404.46v4.6M483.6 405.01l3.5 3.5M483.6 408.51l3.5-3.5M489.95 401.41h4.6M492.25 399.11v4.6M490.5 399.66l3.5 3.5M490.5 403.16l3.5-3.5M496.85 412.11h4.6M499.15 409.81v4.6M497.4 410.36l3.5 3.5M497.4 413.86l3.5-3.5M503.74 412.11h4.6M506.04 409.81v4.6M504.29 410.36l3.5 3.5M504.29 413.86l3.5-3.5M510.64 412.11h4.6M512.94 409.81v4.6M511.19 410.36l3.5 3.5M511.19 413.86l3.5-3.5M517.53 417.46h4.6M519.83 415.16v4.6M518.08 415.71l3.5 3.5M518.08 419.21l3.5-3.5M524.43 406.76h4.6M526.73 404.46v4.6M524.98 405.01l3.5 3.5M524.98 408.51l3.5-3.5M531.33 412.11h4.6M533.62 409.81v4.6M531.88 410.36l3.5 3.5M531.88 413.86l3.5-3.5M538.22 412.11h4.6M540.52 409.81v4.6M538.77 410.36l3.5 3.5M538.77 413.86l3.5-3.5M545.12 412.11h4.6M547.42 409.81v4.6M545.67 410.36l3.5 3.5M545.67 413.86l3.5-3.5M552.01 417.46h4.6M554.31 415.16v4.6M552.56 415.71l3.5 3.5M552.56 419.21l3.5-3.5M558.91 417.46h4.6M561.21 415.16v4.6M559.46 415.71l3.5 3.5M559.46 419.21l3.5-3.5M565.8 417.46h4.6M568.1 415.16v4.6M566.35 415.71l3.5 3.5M566.35 419.21l3.5-3.5M572.7 417.46h4.6M575 415.16v4.6M573.25 415.71l3.5 3.5M573.25 419.21l3.5-3.5" stroke="#00ffff" stroke-width="1.15" stroke-linecap="round" fill="none"/><polyline points="409.5,417.46 416.4,417.46 423.29,417.46 430.19,422.8 437.08,422.8 443.98,425.48 450.88,425.48 457.77,428.15 464.67,417.46 471.56,412.11 478.46,412.11 485.35,412.11 492.25,417.46 499.15,406.76 506.04,401.41 512.94,393.39 519.83,385.37 526.73,353.28 533.62,385.37 540.52,417.46 547.42,417.46 554.31,422.8 561.21,417.46 568.1,417.46 575,417.46" fill="none" stroke="#00ff00" stroke-width="1.25" stroke-linejoin="round"/><path d="M407.2 417.46h4.6M409.5 415.16v4.6M407.75 415.71l3.5 3.5M407.75 419.21l3.5-3.5M414.1 417.46h4.6M416.4 415.16v4.6M414.65 415.71l3.5 3.5M414.65 419.21l3.5-3.5M420.99 417.46h4.6M423.29 415.16v4.6M421.54 415.71l3.5 3.5M421.54 419.21l3.5-3.5M427.89 422.8h4.6M430.19 420.5v4.6M428.44 421.05l3.5 3.5M428.44 424.55l3.5-3.5M434.78 422.8h4.6M437.08 420.5v4.6M435.33 421.05l3.5 3.5M435.33 424.55l3.5-3.5M441.68 425.48h4.6M443.98 423.18v4.6M442.23 423.73l3.5 3.5M442.23 427.23l3.5-3.5M448.57 425.48h4.6M450.88 423.18v4.6M449.12 423.73l3.5 3.5M449.12 427.23l3.5-3.5M455.47 428.15h4.6M457.77 425.85v4.6M456.02 426.4l3.5 3.5M456.02 429.9l3.5-3.5M462.37 417.46h4.6M464.67 415.16v4.6M462.92 415.71l3.5 3.5M462.92 419.21l3.5-3.5M469.26 412.11h4.6M471.56 409.81v4.6M469.81 410.36l3.5 3.5M469.81 413.86l3.5-3.5M476.16 412.11h4.6M478.46 409.81v4.6M476.71 410.36l3.5 3.5M476.71 413.86l3.5-3.5M483.05 412.11h4.6M485.35 409.81v4.6M483.6 410.36l3.5 3.5M483.6 413.86l3.5-3.5M489.95 417.46h4.6M492.25 415.16v4.6M490.5 415.71l3.5 3.5M490.5 419.21l3.5-3.5M496.85 406.76h4.6M499.15 404.46v4.6M497.4 405.01l3.5 3.5M497.4 408.51l3.5-3.5M503.74 401.41h4.6M506.04 399.11v4.6M504.29 399.66l3.5 3.5M504.29 403.16l3.5-3.5M510.64 393.39h4.6M512.94 391.09v4.6M511.19 391.64l3.5 3.5M511.19 395.14l3.5-3.5M517.53 385.37h4.6M519.83 383.07v4.6M518.08 383.62l3.5 3.5M518.08 387.12l3.5-3.5M524.43 353.28h4.6M526.73 350.98v4.6M524.98 351.53l3.5 3.5M524.98 355.03l3.5-3.5M531.33 385.37h4.6M533.62 383.07v4.6M531.88 383.62l3.5 3.5M531.88 387.12l3.5-3.5M538.22 417.46h4.6M540.52 415.16v4.6M538.77 415.71l3.5 3.5M538.77 419.21l3.5-3.5M545.12 417.46h4.6M547.42 415.16v4.6M545.67 415.71l3.5 3.5M545.67 419.21l3.5-3.5M552.01 422.8h4.6M554.31 420.5v4.6M552.56 421.05l3.5 3.5M552.56 424.55l3.5-3.5M558.91 417.46h4.6M561.21 415.16v4.6M559.46 415.71l3.5 3.5M559.46 419.21l3.5-3.5M565.8 417.46h4.6M568.1 415.16v4.6M566.35 415.71l3.5 3.5M566.35 419.21l3.5-3.5M572.7 417.46h4.6M575 415.16v4.6M573.25 415.71l3.5 3.5M573.25 419.21l3.5-3.5" stroke="#00ff00" stroke-width="1.15" stroke-linecap="round" fill="none"/><polyline points="409.5,417.46 416.4,422.8 423.29,422.8 430.19,420.13 437.08,417.46 443.98,428.15 450.88,428.15 457.77,422.8 464.67,417.46 471.56,406.76 478.46,406.76 485.35,412.11 492.25,406.76 499.15,337.24 506.04,390.72 512.94,396.06 519.83,401.41 526.73,385.37 533.62,390.72 540.52,396.06 547.42,401.41 554.31,412.11 561.21,412.11 568.1,412.11 575,412.11" fill="none" stroke="#0000ff" stroke-width="1.25" stroke-linejoin="round"/><path d="M407.2 417.46h4.6M409.5 415.16v4.6M407.75 415.71l3.5 3.5M407.75 419.21l3.5-3.5M414.1 422.8h4.6M416.4 420.5v4.6M414.65 421.05l3.5 3.5M414.65 424.55l3.5-3.5M420.99 422.8h4.6M423.29 420.5v4.6M421.54 421.05l3.5 3.5M421.54 424.55l3.5-3.5M427.89 420.13h4.6M430.19 417.83v4.6M428.44 418.38l3.5 3.5M428.44 421.88l3.5-3.5M434.78 417.46h4.6M437.08 415.16v4.6M435.33 415.71l3.5 3.5M435.33 419.21l3.5-3.5M441.68 428.15h4.6M443.98 425.85v4.6M442.23 426.4l3.5 3.5M442.23 429.9l3.5-3.5M448.57 428.15h4.6M450.88 425.85v4.6M449.12 426.4l3.5 3.5M449.12 429.9l3.5-3.5M455.47 422.8h4.6M457.77 420.5v4.6M456.02 421.05l3.5 3.5M456.02 424.55l3.5-3.5M462.37 417.46h4.6M464.67 415.16v4.6M462.92 415.71l3.5 3.5M462.92 419.21l3.5-3.5M469.26 406.76h4.6M471.56 404.46v4.6M469.81 405.01l3.5 3.5M469.81 408.51l3.5-3.5M476.16 406.76h4.6M478.46 404.46v4.6M476.71 405.01l3.5 3.5M476.71 408.51l3.5-3.5M483.05 412.11h4.6M485.35 409.81v4.6M483.6 410.36l3.5 3.5M483.6 413.86l3.5-3.5M489.95 406.76h4.6M492.25 404.46v4.6M490.5 405.01l3.5 3.5M490.5 408.51l3.5-3.5M496.85 337.24h4.6M499.15 334.94v4.6M497.4 335.49l3.5 3.5M497.4 338.99l3.5-3.5M503.74 390.72h4.6M506.04 388.42v4.6M504.29 388.97l3.5 3.5M504.29 392.47l3.5-3.5M510.64 396.06h4.6M512.94 393.76v4.6M511.19 394.31l3.5 3.5M511.19 397.81l3.5-3.5M517.53 401.41h4.6M519.83 399.11v4.6M518.08 399.66l3.5 3.5M518.08 403.16l3.5-3.5M524.43 385.37h4.6M526.73 383.07v4.6M524.98 383.62l3.5 3.5M524.98 387.12l3.5-3.5M531.33 390.72h4.6M533.62 388.42v4.6M531.88 388.97l3.5 3.5M531.88 392.47l3.5-3.5M538.22 396.06h4.6M540.52 393.76v4.6M538.77 394.31l3.5 3.5M538.77 397.81l3.5-3.5M545.12 401.41h4.6M547.42 399.11v4.6M545.67 399.66l3.5 3.5M545.67 403.16l3.5-3.5M552.01 412.11h4.6M554.31 409.81v4.6M552.56 410.36l3.5 3.5M552.56 413.86l3.5-3.5M558.91 412.11h4.6M561.21 409.81v4.6M559.46 410.36l3.5 3.5M559.46 413.86l3.5-3.5M565.8 412.11h4.6M568.1 409.81v4.6M566.35 410.36l3.5 3.5M566.35 413.86l3.5-3.5M572.7 412.11h4.6M575 409.81v4.6M573.25 410.36l3.5 3.5M573.25 413.86l3.5-3.5" stroke="#0000ff" stroke-width="1.15" stroke-linecap="round" fill="none"/><polyline points="409.5,412.11 416.4,401.41 423.29,396.06 430.19,401.41 437.08,401.41 443.98,396.06 450.88,406.76 457.77,406.76 464.67,412.11 471.56,417.46 478.46,401.41 485.35,396.06 492.25,390.72 499.15,401.41 506.04,401.41 512.94,406.76 519.83,406.76 526.73,396.06 533.62,401.41 540.52,390.72 547.42,406.76 554.31,406.76 561.21,406.76 568.1,406.76 575,412.11" fill="none" stroke="#ff0000" stroke-width="1.25" stroke-linejoin="round"/><path d="M407.2 412.11h4.6M409.5 409.81v4.6M407.75 410.36l3.5 3.5M407.75 413.86l3.5-3.5M414.1 401.41h4.6M416.4 399.11v4.6M414.65 399.66l3.5 3.5M414.65 403.16l3.5-3.5M420.99 396.06h4.6M423.29 393.76v4.6M421.54 394.31l3.5 3.5M421.54 397.81l3.5-3.5M427.89 401.41h4.6M430.19 399.11v4.6M428.44 399.66l3.5 3.5M428.44 403.16l3.5-3.5M434.78 401.41h4.6M437.08 399.11v4.6M435.33 399.66l3.5 3.5M435.33 403.16l3.5-3.5M441.68 396.06h4.6M443.98 393.76v4.6M442.23 394.31l3.5 3.5M442.23 397.81l3.5-3.5M448.57 406.76h4.6M450.88 404.46v4.6M449.12 405.01l3.5 3.5M449.12 408.51l3.5-3.5M455.47 406.76h4.6M457.77 404.46v4.6M456.02 405.01l3.5 3.5M456.02 408.51l3.5-3.5M462.37 412.11h4.6M464.67 409.81v4.6M462.92 410.36l3.5 3.5M462.92 413.86l3.5-3.5M469.26 417.46h4.6M471.56 415.16v4.6M469.81 415.71l3.5 3.5M469.81 419.21l3.5-3.5M476.16 401.41h4.6M478.46 399.11v4.6M476.71 399.66l3.5 3.5M476.71 403.16l3.5-3.5M483.05 396.06h4.6M485.35 393.76v4.6M483.6 394.31l3.5 3.5M483.6 397.81l3.5-3.5M489.95 390.72h4.6M492.25 388.42v4.6M490.5 388.97l3.5 3.5M490.5 392.47l3.5-3.5M496.85 401.41h4.6M499.15 399.11v4.6M497.4 399.66l3.5 3.5M497.4 403.16l3.5-3.5M503.74 401.41h4.6M506.04 399.11v4.6M504.29 399.66l3.5 3.5M504.29 403.16l3.5-3.5M510.64 406.76h4.6M512.94 404.46v4.6M511.19 405.01l3.5 3.5M511.19 408.51l3.5-3.5M517.53 406.76h4.6M519.83 404.46v4.6M518.08 405.01l3.5 3.5M518.08 408.51l3.5-3.5M524.43 396.06h4.6M526.73 393.76v4.6M524.98 394.31l3.5 3.5M524.98 397.81l3.5-3.5M531.33 401.41h4.6M533.62 399.11v4.6M531.88 399.66l3.5 3.5M531.88 403.16l3.5-3.5M538.22 390.72h4.6M540.52 388.42v4.6M538.77 388.97l3.5 3.5M538.77 392.47l3.5-3.5M545.12 406.76h4.6M547.42 404.46v4.6M545.67 405.01l3.5 3.5M545.67 408.51l3.5-3.5M552.01 406.76h4.6M554.31 404.46v4.6M552.56 405.01l3.5 3.5M552.56 408.51l3.5-3.5M558.91 406.76h4.6M561.21 404.46v4.6M559.46 405.01l3.5 3.5M559.46 408.51l3.5-3.5M565.8 406.76h4.6M568.1 404.46v4.6M566.35 405.01l3.5 3.5M566.35 408.51l3.5-3.5M572.7 412.11h4.6M575 409.81v4.6M573.25 410.36l3.5 3.5M573.25 413.86l3.5-3.5" stroke="#ff0000" stroke-width="1.15" stroke-linecap="round" fill="none"/></g><path d="M409.5 433.5v-4M409.5 315.9v4M423.29 433.5v-4M423.29 315.9v4M437.08 433.5v-4M437.08 315.9v4M450.88 433.5v-4M450.88 315.9v4M464.67 433.5v-4M464.67 315.9v4M478.46 433.5v-4M478.46 315.9v4M492.25 433.5v-4M492.25 315.9v4M506.04 433.5v-4M506.04 315.9v4M519.83 433.5v-4M519.83 315.9v4M533.62 433.5v-4M533.62 315.9v4M547.42 433.5v-4M547.42 315.9v4M561.21 433.5v-4M561.21 315.9v4M575 433.5v-4M575 315.9v4M409.5 433.5h5.5M575 433.5h-5.5M409.5 419.5h4M575 419.5h-4M409.5 405.5h5.5M575 405.5h-5.5M409.5 391.5h4M575 391.5h-4M409.5 377.5h5.5M575 377.5h-5.5M409.5 363.5h4M575 363.5h-4M409.5 349.5h5.5M575 349.5h-5.5M409.5 335.5h4M575 335.5h-4M409.5 321.5h5.5M575 321.5h-5.5" stroke="#ff0000" stroke-width="1" fill="none"/><rect x="409" y="315" width="1" height="120.1" fill="#ff0000"/><rect x="574" y="315" width="2" height="120.1" fill="#ff0000"/><rect x="409" y="315" width="167" height="2" fill="#ff0000"/><rect x="409" y="433" width="167" height="1.6" fill="#ff0000"/><line x1="409.5" y1="405.5" x2="575" y2="405.5" stroke="#000" stroke-width="1" stroke-dasharray="1 2.1"/><line x1="409.5" y1="377.5" x2="575" y2="377.5" stroke="#000" stroke-width="1" stroke-dasharray="1 2.1"/><line x1="409.5" y1="349.5" x2="575" y2="349.5" stroke="#000" stroke-width="1" stroke-dasharray="1 2.1"/><line x1="409.5" y1="321.5" x2="575" y2="321.5" stroke="#000" stroke-width="1" stroke-dasharray="1 2.1"/><line x1="437.08" y1="433.5" x2="437.08" y2="315.9" stroke="#000" stroke-width="1" stroke-dasharray="1 2.1"/><line x1="464.67" y1="433.5" x2="464.67" y2="315.9" stroke="#000" stroke-width="1" stroke-dasharray="1 2.1"/><line x1="492.25" y1="433.5" x2="492.25" y2="315.9" stroke="#000" stroke-width="1" stroke-dasharray="1 2.1"/><line x1="519.83" y1="433.5" x2="519.83" y2="315.9" stroke="#000" stroke-width="1" stroke-dasharray="1 2.1"/><line x1="547.42" y1="433.5" x2="547.42" y2="315.9" stroke="#000" stroke-width="1" stroke-dasharray="1 2.1"/><text x="405.2" y="435.9" font-size="8.6" text-anchor="end" fill="#ff0000">0</text><text x="405.2" y="407.9" font-size="8.6" text-anchor="end" fill="#ff0000">2</text><text x="405.2" y="379.9" font-size="8.6" text-anchor="end" fill="#ff0000">4</text><text x="405.2" y="351.9" font-size="8.6" text-anchor="end" fill="#ff0000">6</text><text x="405.2" y="323.9" font-size="8.6" text-anchor="end" fill="#ff0000">8</text><text x="409.8" y="445" font-size="8.6" text-anchor="middle" fill="#ff0000">0</text><text x="437.38" y="445" font-size="8.6" text-anchor="middle" fill="#ff0000">4</text><text x="464.97" y="445" font-size="8.6" text-anchor="middle" fill="#ff0000">8</text><text x="492.55" y="445" font-size="8.6" text-anchor="middle" fill="#ff0000">12</text><text x="520.13" y="445" font-size="8.6" text-anchor="middle" fill="#ff0000">16</text><text x="547.72" y="445" font-size="8.6" text-anchor="middle" fill="#ff0000">20</text><text x="575.3" y="445" font-size="8.6" text-anchor="middle" fill="#ff0000">24</text><text x="492.45" y="458.6" font-size="9.2" text-anchor="middle" textLength="46.07" lengthAdjust="spacingAndGlyphs" fill="#ff0000" clip-path="url(#lc2)">Mong Kok</text></g>
<g><clipPath id="pc23"><rect x="602.5" y="315.9" width="165.5" height="117.6"/></clipPath><g clip-path="url(#pc23)"><polyline points="602.5,433.5 609.4,433.5 616.29,433.5 623.19,430.83 630.08,428.15 636.98,417.46 643.88,433.5 650.77,428.15 657.67,433.5 664.56,433.5 671.46,433.5 678.35,433.5 685.25,433.5 692.15,428.15 699.04,422.8 705.94,417.46 712.83,422.8 719.73,428.15 726.62,428.15 733.52,428.15 740.42,428.15 747.31,433.5 754.21,433.5 761.1,433.5 768,433.5" fill="none" stroke="#00ffff" stroke-width="1.25" stroke-linejoin="round"/><path d="M600.2 433.5h4.6M602.5 431.2v4.6M600.75 431.75l3.5 3.5M600.75 435.25l3.5-3.5M607.1 433.5h4.6M609.4 431.2v4.6M607.65 431.75l3.5 3.5M607.65 435.25l3.5-3.5M613.99 433.5h4.6M616.29 431.2v4.6M614.54 431.75l3.5 3.5M614.54 435.25l3.5-3.5M620.89 430.83h4.6M623.19 428.53v4.6M621.44 429.08l3.5 3.5M621.44 432.58l3.5-3.5M627.78 428.15h4.6M630.08 425.85v4.6M628.33 426.4l3.5 3.5M628.33 429.9l3.5-3.5M634.68 417.46h4.6M636.98 415.16v4.6M635.23 415.71l3.5 3.5M635.23 419.21l3.5-3.5M641.58 433.5h4.6M643.88 431.2v4.6M642.12 431.75l3.5 3.5M642.12 435.25l3.5-3.5M648.47 428.15h4.6M650.77 425.85v4.6M649.02 426.4l3.5 3.5M649.02 429.9l3.5-3.5M655.37 433.5h4.6M657.67 431.2v4.6M655.92 431.75l3.5 3.5M655.92 435.25l3.5-3.5M662.26 433.5h4.6M664.56 431.2v4.6M662.81 431.75l3.5 3.5M662.81 435.25l3.5-3.5M669.16 433.5h4.6M671.46 431.2v4.6M669.71 431.75l3.5 3.5M669.71 435.25l3.5-3.5M676.05 433.5h4.6M678.35 431.2v4.6M676.6 431.75l3.5 3.5M676.6 435.25l3.5-3.5M682.95 433.5h4.6M685.25 431.2v4.6M683.5 431.75l3.5 3.5M683.5 435.25l3.5-3.5M689.85 428.15h4.6M692.15 425.85v4.6M690.4 426.4l3.5 3.5M690.4 429.9l3.5-3.5M696.74 422.8h4.6M699.04 420.5v4.6M697.29 421.05l3.5 3.5M697.29 424.55l3.5-3.5M703.64 417.46h4.6M705.94 415.16v4.6M704.19 415.71l3.5 3.5M704.19 419.21l3.5-3.5M710.53 422.8h4.6M712.83 420.5v4.6M711.08 421.05l3.5 3.5M711.08 424.55l3.5-3.5M717.43 428.15h4.6M719.73 425.85v4.6M717.98 426.4l3.5 3.5M717.98 429.9l3.5-3.5M724.33 428.15h4.6M726.62 425.85v4.6M724.88 426.4l3.5 3.5M724.88 429.9l3.5-3.5M731.22 428.15h4.6M733.52 425.85v4.6M731.77 426.4l3.5 3.5M731.77 429.9l3.5-3.5M738.12 428.15h4.6M740.42 425.85v4.6M738.67 426.4l3.5 3.5M738.67 429.9l3.5-3.5M745.01 433.5h4.6M747.31 431.2v4.6M745.56 431.75l3.5 3.5M745.56 435.25l3.5-3.5M751.91 433.5h4.6M754.21 431.2v4.6M752.46 431.75l3.5 3.5M752.46 435.25l3.5-3.5M758.8 433.5h4.6M761.1 431.2v4.6M759.35 431.75l3.5 3.5M759.35 435.25l3.5-3.5M765.7 433.5h4.6M768 431.2v4.6M766.25 431.75l3.5 3.5M766.25 435.25l3.5-3.5" stroke="#00ffff" stroke-width="1.15" stroke-linecap="round" fill="none"/><polyline points="602.5,433.5 609.4,433.5 616.29,433.5 623.19,433.5 630.08,433.5 636.98,433.5 643.88,433.5 650.77,433.5 657.67,428.15 664.56,417.46 671.46,428.15 678.35,428.15 685.25,428.15 692.15,420.13 699.04,412.11 705.94,412.11 712.83,417.46 719.73,422.8 726.62,422.8 733.52,428.15 740.42,428.15 747.31,428.15 754.21,428.15 761.1,428.15 768,428.15" fill="none" stroke="#00ff00" stroke-width="1.25" stroke-linejoin="round"/><path d="M600.2 433.5h4.6M602.5 431.2v4.6M600.75 431.75l3.5 3.5M600.75 435.25l3.5-3.5M607.1 433.5h4.6M609.4 431.2v4.6M607.65 431.75l3.5 3.5M607.65 435.25l3.5-3.5M613.99 433.5h4.6M616.29 431.2v4.6M614.54 431.75l3.5 3.5M614.54 435.25l3.5-3.5M620.89 433.5h4.6M623.19 431.2v4.6M621.44 431.75l3.5 3.5M621.44 435.25l3.5-3.5M627.78 433.5h4.6M630.08 431.2v4.6M628.33 431.75l3.5 3.5M628.33 435.25l3.5-3.5M634.68 433.5h4.6M636.98 431.2v4.6M635.23 431.75l3.5 3.5M635.23 435.25l3.5-3.5M641.58 433.5h4.6M643.88 431.2v4.6M642.12 431.75l3.5 3.5M642.12 435.25l3.5-3.5M648.47 433.5h4.6M650.77 431.2v4.6M649.02 431.75l3.5 3.5M649.02 435.25l3.5-3.5M655.37 428.15h4.6M657.67 425.85v4.6M655.92 426.4l3.5 3.5M655.92 429.9l3.5-3.5M662.26 417.46h4.6M664.56 415.16v4.6M662.81 415.71l3.5 3.5M662.81 419.21l3.5-3.5M669.16 428.15h4.6M671.46 425.85v4.6M669.71 426.4l3.5 3.5M669.71 429.9l3.5-3.5M676.05 428.15h4.6M678.35 425.85v4.6M676.6 426.4l3.5 3.5M676.6 429.9l3.5-3.5M682.95 428.15h4.6M685.25 425.85v4.6M683.5 426.4l3.5 3.5M683.5 429.9l3.5-3.5M689.85 420.13h4.6M692.15 417.83v4.6M690.4 418.38l3.5 3.5M690.4 421.88l3.5-3.5M696.74 412.11h4.6M699.04 409.81v4.6M697.29 410.36l3.5 3.5M697.29 413.86l3.5-3.5M703.64 412.11h4.6M705.94 409.81v4.6M704.19 410.36l3.5 3.5M704.19 413.86l3.5-3.5M710.53 417.46h4.6M712.83 415.16v4.6M711.08 415.71l3.5 3.5M711.08 419.21l3.5-3.5M717.43 422.8h4.6M719.73 420.5v4.6M717.98 421.05l3.5 3.5M717.98 424.55l3.5-3.5M724.33 422.8h4.6M726.62 420.5v4.6M724.88 421.05l3.5 3.5M724.88 424.55l3.5-3.5M731.22 428.15h4.6M733.52 425.85v4.6M731.77 426.4l3.5 3.5M731.77 429.9l3.5-3.5M738.12 428.15h4.6M740.42 425.85v4.6M738.67 426.4l3.5 3.5M738.67 429.9l3.5-3.5M745.01 428.15h4.6M747.31 425.85v4.6M745.56 426.4l3.5 3.5M745.56 429.9l3.5-3.5M751.91 428.15h4.6M754.21 425.85v4.6M752.46 426.4l3.5 3.5M752.46 429.9l3.5-3.5M758.8 428.15h4.6M761.1 425.85v4.6M759.35 426.4l3.5 3.5M759.35 429.9l3.5-3.5M765.7 428.15h4.6M768 425.85v4.6M766.25 426.4l3.5 3.5M766.25 429.9l3.5-3.5" stroke="#00ff00" stroke-width="1.15" stroke-linecap="round" fill="none"/><polyline points="602.5,428.15 609.4,428.15 616.29,428.15 623.19,428.15 636.98,412.11 643.88,422.8 650.77,422.8 657.67,422.8 664.56,428.15 671.46,422.8 678.35,422.8 685.25,422.8 692.15,422.8 699.04,428.15 705.94,428.15 712.83,422.8 719.73,417.46 726.62,412.11 733.52,406.76 740.42,406.76 747.31,417.46 754.21,422.8 761.1,422.8 768,422.8" fill="none" stroke="#0000ff" stroke-width="1.25" stroke-linejoin="round"/><path d="M600.2 428.15h4.6M602.5 425.85v4.6M600.75 426.4l3.5 3.5M600.75 429.9l3.5-3.5M607.1 428.15h4.6M609.4 425.85v4.6M607.65 426.4l3.5 3.5M607.65 429.9l3.5-3.5M613.99 428.15h4.6M616.29 425.85v4.6M614.54 426.4l3.5 3.5M614.54 429.9l3.5-3.5M620.89 428.15h4.6M623.19 425.85v4.6M621.44 426.4l3.5 3.5M621.44 429.9l3.5-3.5M634.68 412.11h4.6M636.98 409.81v4.6M635.23 410.36l3.5 3.5M635.23 413.86l3.5-3.5M641.58 422.8h4.6M643.88 420.5v4.6M642.12 421.05l3.5 3.5M642.12 424.55l3.5-3.5M648.47 422.8h4.6M650.77 420.5v4.6M649.02 421.05l3.5 3.5M649.02 424.55l3.5-3.5M655.37 422.8h4.6M657.67 420.5v4.6M655.92 421.05l3.5 3.5M655.92 424.55l3.5-3.5M662.26 428.15h4.6M664.56 425.85v4.6M662.81 426.4l3.5 3.5M662.81 429.9l3.5-3.5M669.16 422.8h4.6M671.46 420.5v4.6M669.71 421.05l3.5 3.5M669.71 424.55l3.5-3.5M676.05 422.8h4.6M678.35 420.5v4.6M676.6 421.05l3.5 3.5M676.6 424.55l3.5-3.5M682.95 422.8h4.6M685.25 420.5v4.6M683.5 421.05l3.5 3.5M683.5 424.55l3.5-3.5M689.85 422.8h4.6M692.15 420.5v4.6M690.4 421.05l3.5 3.5M690.4 424.55l3.5-3.5M696.74 428.15h4.6M699.04 425.85v4.6M697.29 426.4l3.5 3.5M697.29 429.9l3.5-3.5M703.64 428.15h4.6M705.94 425.85v4.6M704.19 426.4l3.5 3.5M704.19 429.9l3.5-3.5M710.53 422.8h4.6M712.83 420.5v4.6M711.08 421.05l3.5 3.5M711.08 424.55l3.5-3.5M717.43 417.46h4.6M719.73 415.16v4.6M717.98 415.71l3.5 3.5M717.98 419.21l3.5-3.5M724.33 412.11h4.6M726.62 409.81v4.6M724.88 410.36l3.5 3.5M724.88 413.86l3.5-3.5M731.22 406.76h4.6M733.52 404.46v4.6M731.77 405.01l3.5 3.5M731.77 408.51l3.5-3.5M738.12 406.76h4.6M740.42 404.46v4.6M738.67 405.01l3.5 3.5M738.67 408.51l3.5-3.5M745.01 417.46h4.6M747.31 415.16v4.6M745.56 415.71l3.5 3.5M745.56 419.21l3.5-3.5M751.91 422.8h4.6M754.21 420.5v4.6M752.46 421.05l3.5 3.5M752.46 424.55l3.5-3.5M758.8 422.8h4.6M761.1 420.5v4.6M759.35 421.05l3.5 3.5M759.35 424.55l3.5-3.5M765.7 422.8h4.6M768 420.5v4.6M766.25 421.05l3.5 3.5M766.25 424.55l3.5-3.5" stroke="#0000ff" stroke-width="1.15" stroke-linecap="round" fill="none"/><polyline points="602.5,422.8 609.4,422.8 616.29,417.46 623.19,422.8 630.08,422.8 636.98,422.8 643.88,422.8 650.77,422.8 657.67,422.8 664.56,422.8 671.46,417.46 678.35,417.46 685.25,417.46 692.15,417.46 699.04,422.8 705.94,401.41 712.83,406.76 719.73,417.46 726.62,406.76 733.52,401.41 740.42,396.06 747.31,396.06 754.21,417.46 761.1,422.8 768,422.8" fill="none" stroke="#ff0000" stroke-width="1.25" stroke-linejoin="round"/><path d="M600.2 422.8h4.6M602.5 420.5v4.6M600.75 421.05l3.5 3.5M600.75 424.55l3.5-3.5M607.1 422.8h4.6M609.4 420.5v4.6M607.65 421.05l3.5 3.5M607.65 424.55l3.5-3.5M613.99 417.46h4.6M616.29 415.16v4.6M614.54 415.71l3.5 3.5M614.54 419.21l3.5-3.5M620.89 422.8h4.6M623.19 420.5v4.6M621.44 421.05l3.5 3.5M621.44 424.55l3.5-3.5M627.78 422.8h4.6M630.08 420.5v4.6M628.33 421.05l3.5 3.5M628.33 424.55l3.5-3.5M634.68 422.8h4.6M636.98 420.5v4.6M635.23 421.05l3.5 3.5M635.23 424.55l3.5-3.5M641.58 422.8h4.6M643.88 420.5v4.6M642.12 421.05l3.5 3.5M642.12 424.55l3.5-3.5M648.47 422.8h4.6M650.77 420.5v4.6M649.02 421.05l3.5 3.5M649.02 424.55l3.5-3.5M655.37 422.8h4.6M657.67 420.5v4.6M655.92 421.05l3.5 3.5M655.92 424.55l3.5-3.5M662.26 422.8h4.6M664.56 420.5v4.6M662.81 421.05l3.5 3.5M662.81 424.55l3.5-3.5M669.16 417.46h4.6M671.46 415.16v4.6M669.71 415.71l3.5 3.5M669.71 419.21l3.5-3.5M676.05 417.46h4.6M678.35 415.16v4.6M676.6 415.71l3.5 3.5M676.6 419.21l3.5-3.5M682.95 417.46h4.6M685.25 415.16v4.6M683.5 415.71l3.5 3.5M683.5 419.21l3.5-3.5M689.85 417.46h4.6M692.15 415.16v4.6M690.4 415.71l3.5 3.5M690.4 419.21l3.5-3.5M696.74 422.8h4.6M699.04 420.5v4.6M697.29 421.05l3.5 3.5M697.29 424.55l3.5-3.5M703.64 401.41h4.6M705.94 399.11v4.6M704.19 399.66l3.5 3.5M704.19 403.16l3.5-3.5M710.53 406.76h4.6M712.83 404.46v4.6M711.08 405.01l3.5 3.5M711.08 408.51l3.5-3.5M717.43 417.46h4.6M719.73 415.16v4.6M717.98 415.71l3.5 3.5M717.98 419.21l3.5-3.5M724.33 406.76h4.6M726.62 404.46v4.6M724.88 405.01l3.5 3.5M724.88 408.51l3.5-3.5M731.22 401.41h4.6M733.52 399.11v4.6M731.77 399.66l3.5 3.5M731.77 403.16l3.5-3.5M738.12 396.06h4.6M740.42 393.76v4.6M738.67 394.31l3.5 3.5M738.67 397.81l3.5-3.5M745.01 396.06h4.6M747.31 393.76v4.6M745.56 394.31l3.5 3.5M745.56 397.81l3.5-3.5M751.91 417.46h4.6M754.21 415.16v4.6M752.46 415.71l3.5 3.5M752.46 419.21l3.5-3.5M758.8 422.8h4.6M761.1 420.5v4.6M759.35 421.05l3.5 3.5M759.35 424.55l3.5-3.5M765.7 422.8h4.6M768 420.5v4.6M766.25 421.05l3.5 3.5M766.25 424.55l3.5-3.5" stroke="#ff0000" stroke-width="1.15" stroke-linecap="round" fill="none"/></g><path d="M602.5 433.5v-4M602.5 315.9v4M616.29 433.5v-4M616.29 315.9v4M630.08 433.5v-4M630.08 315.9v4M643.88 433.5v-4M643.88 315.9v4M657.67 433.5v-4M657.67 315.9v4M671.46 433.5v-4M671.46 315.9v4M685.25 433.5v-4M685.25 315.9v4M699.04 433.5v-4M699.04 315.9v4M712.83 433.5v-4M712.83 315.9v4M726.62 433.5v-4M726.62 315.9v4M740.42 433.5v-4M740.42 315.9v4M754.21 433.5v-4M754.21 315.9v4M768 433.5v-4M768 315.9v4M602.5 433.5h5.5M768 433.5h-5.5M602.5 419.5h4M768 419.5h-4M602.5 405.5h5.5M768 405.5h-5.5M602.5 391.5h4M768 391.5h-4M602.5 377.5h5.5M768 377.5h-5.5M602.5 363.5h4M768 363.5h-4M602.5 349.5h5.5M768 349.5h-5.5M602.5 335.5h4M768 335.5h-4M602.5 321.5h5.5M768 321.5h-5.5" stroke="#000" stroke-width="1" fill="none"/><rect x="602" y="315" width="1" height="120.1" fill="#000"/><rect x="767" y="315" width="2" height="120.1" fill="#000"/><rect x="602" y="315" width="167" height="2" fill="#000"/><rect x="602" y="433" width="167" height="1.6" fill="#000"/><line x1="602.5" y1="405.5" x2="768" y2="405.5" stroke="#000" stroke-width="1" stroke-dasharray="1 2.1"/><line x1="602.5" y1="377.5" x2="768" y2="377.5" stroke="#000" stroke-width="1" stroke-dasharray="1 2.1"/><line x1="602.5" y1="349.5" x2="768" y2="349.5" stroke="#000" stroke-width="1" stroke-dasharray="1 2.1"/><line x1="602.5" y1="321.5" x2="768" y2="321.5" stroke="#000" stroke-width="1" stroke-dasharray="1 2.1"/><line x1="630.08" y1="433.5" x2="630.08" y2="315.9" stroke="#000" stroke-width="1" stroke-dasharray="1 2.1"/><line x1="657.67" y1="433.5" x2="657.67" y2="315.9" stroke="#000" stroke-width="1" stroke-dasharray="1 2.1"/><line x1="685.25" y1="433.5" x2="685.25" y2="315.9" stroke="#000" stroke-width="1" stroke-dasharray="1 2.1"/><line x1="712.83" y1="433.5" x2="712.83" y2="315.9" stroke="#000" stroke-width="1" stroke-dasharray="1 2.1"/><line x1="740.42" y1="433.5" x2="740.42" y2="315.9" stroke="#000" stroke-width="1" stroke-dasharray="1 2.1"/><text x="598.2" y="435.9" font-size="8.6" text-anchor="end" fill="#000">0</text><text x="598.2" y="407.9" font-size="8.6" text-anchor="end" fill="#000">2</text><text x="598.2" y="379.9" font-size="8.6" text-anchor="end" fill="#000">4</text><text x="598.2" y="351.9" font-size="8.6" text-anchor="end" fill="#000">6</text><text x="598.2" y="323.9" font-size="8.6" text-anchor="end" fill="#000">8</text><text x="602.8" y="445" font-size="8.6" text-anchor="middle" fill="#000">0</text><text x="630.38" y="445" font-size="8.6" text-anchor="middle" fill="#000">4</text><text x="657.97" y="445" font-size="8.6" text-anchor="middle" fill="#000">8</text><text x="685.55" y="445" font-size="8.6" text-anchor="middle" fill="#000">12</text><text x="713.13" y="445" font-size="8.6" text-anchor="middle" fill="#000">16</text><text x="740.72" y="445" font-size="8.6" text-anchor="middle" fill="#000">20</text><text x="768.3" y="445" font-size="8.6" text-anchor="middle" fill="#000">24</text><text x="685.45" y="458.6" font-size="9.2" text-anchor="middle" textLength="49.98" lengthAdjust="spacingAndGlyphs" fill="#000" clip-path="url(#lc2)">Kwun Tong</text></g>
<g><clipPath id="pc24"><rect x="795.5" y="315.9" width="165.5" height="117.6"/></clipPath><g clip-path="url(#pc24)"><polyline points="795.5,422.8 802.4,425.48 809.29,428.15 816.19,433.5 823.08,422.8 829.98,425.48 836.88,428.15 843.77,428.15 850.67,428.15 857.56,428.15 864.46,433.5 871.35,428.15 878.25,428.15 885.15,422.8 892.04,422.8 898.94,417.46 905.83,422.8 912.73,422.8 919.62,422.8 926.52,422.8 933.42,422.8 940.31,422.8 947.21,422.8 954.1,422.8 961,422.8" fill="none" stroke="#00ffff" stroke-width="1.25" stroke-linejoin="round"/><path d="M793.2 422.8h4.6M795.5 420.5v4.6M793.75 421.05l3.5 3.5M793.75 424.55l3.5-3.5M800.1 425.48h4.6M802.4 423.18v4.6M800.65 423.73l3.5 3.5M800.65 427.23l3.5-3.5M806.99 428.15h4.6M809.29 425.85v4.6M807.54 426.4l3.5 3.5M807.54 429.9l3.5-3.5M813.89 433.5h4.6M816.19 431.2v4.6M814.44 431.75l3.5 3.5M814.44 435.25l3.5-3.5M820.78 422.8h4.6M823.08 420.5v4.6M821.33 421.05l3.5 3.5M821.33 424.55l3.5-3.5M827.68 425.48h4.6M829.98 423.18v4.6M828.23 423.73l3.5 3.5M828.23 427.23l3.5-3.5M834.58 428.15h4.6M836.88 425.85v4.6M835.12 426.4l3.5 3.5M835.12 429.9l3.5-3.5M841.47 428.15h4.6M843.77 425.85v4.6M842.02 426.4l3.5 3.5M842.02 429.9l3.5-3.5M848.37 428.15h4.6M850.67 425.85v4.6M848.92 426.4l3.5 3.5M848.92 429.9l3.5-3.5M855.26 428.15h4.6M857.56 425.85v4.6M855.81 426.4l3.5 3.5M855.81 429.9l3.5-3.5M862.16 433.5h4.6M864.46 431.2v4.6M862.71 431.75l3.5 3.5M862.71 435.25l3.5-3.5M869.05 428.15h4.6M871.35 425.85v4.6M869.6 426.4l3.5 3.5M869.6 429.9l3.5-3.5M875.95 428.15h4.6M878.25 425.85v4.6M876.5 426.4l3.5 3.5M876.5 429.9l3.5-3.5M882.85 422.8h4.6M885.15 420.5v4.6M883.4 421.05l3.5 3.5M883.4 424.55l3.5-3.5M889.74 422.8h4.6M892.04 420.5v4.6M890.29 421.05l3.5 3.5M890.29 424.55l3.5-3.5M896.64 417.46h4.6M898.94 415.16v4.6M897.19 415.71l3.5 3.5M897.19 419.21l3.5-3.5M903.53 422.8h4.6M905.83 420.5v4.6M904.08 421.05l3.5 3.5M904.08 424.55l3.5-3.5M910.43 422.8h4.6M912.73 420.5v4.6M910.98 421.05l3.5 3.5M910.98 424.55l3.5-3.5M917.33 422.8h4.6M919.62 420.5v4.6M917.88 421.05l3.5 3.5M917.88 424.55l3.5-3.5M924.22 422.8h4.6M926.52 420.5v4.6M924.77 421.05l3.5 3.5M924.77 424.55l3.5-3.5M931.12 422.8h4.6M933.42 420.5v4.6M931.67 421.05l3.5 3.5M931.67 424.55l3.5-3.5M938.01 422.8h4.6M940.31 420.5v4.6M938.56 421.05l3.5 3.5M938.56 424.55l3.5-3.5M944.91 422.8h4.6M947.21 420.5v4.6M945.46 421.05l3.5 3.5M945.46 424.55l3.5-3.5M951.8 422.8h4.6M954.1 420.5v4.6M952.35 421.05l3.5 3.5M952.35 424.55l3.5-3.5M958.7 422.8h4.6M961 420.5v4.6M959.25 421.05l3.5 3.5M959.25 424.55l3.5-3.5" stroke="#00ffff" stroke-width="1.15" stroke-linecap="round" fill="none"/><polyline points="795.5,422.8 802.4,422.8 809.29,422.8 816.19,422.8 823.08,422.8 829.98,422.8 836.88,422.8 843.77,422.8 850.67,417.46 857.56,420.13 864.46,422.8 871.35,422.8 878.25,422.8 885.15,422.8 892.04,422.8 898.94,422.8 905.83,422.8 912.73,422.8 919.62,422.8 926.52,422.8 933.42,422.8 940.31,422.8 947.21,422.8 954.1,422.8 961,422.8" fill="none" stroke="#00ff00" stroke-width="1.25" stroke-linejoin="round"/><path d="M793.2 422.8h4.6M795.5 420.5v4.6M793.75 421.05l3.5 3.5M793.75 424.55l3.5-3.5M800.1 422.8h4.6M802.4 420.5v4.6M800.65 421.05l3.5 3.5M800.65 424.55l3.5-3.5M806.99 422.8h4.6M809.29 420.5v4.6M807.54 421.05l3.5 3.5M807.54 424.55l3.5-3.5M813.89 422.8h4.6M816.19 420.5v4.6M814.44 421.05l3.5 3.5M814.44 424.55l3.5-3.5M820.78 422.8h4.6M823.08 420.5v4.6M821.33 421.05l3.5 3.5M821.33 424.55l3.5-3.5M827.68 422.8h4.6M829.98 420.5v4.6M828.23 421.05l3.5 3.5M828.23 424.55l3.5-3.5M834.58 422.8h4.6M836.88 420.5v4.6M835.12 421.05l3.5 3.5M835.12 424.55l3.5-3.5M841.47 422.8h4.6M843.77 420.5v4.6M842.02 421.05l3.5 3.5M842.02 424.55l3.5-3.5M848.37 417.46h4.6M850.67 415.16v4.6M848.92 415.71l3.5 3.5M848.92 419.21l3.5-3.5M855.26 420.13h4.6M857.56 417.83v4.6M855.81 418.38l3.5 3.5M855.81 421.88l3.5-3.5M862.16 422.8h4.6M864.46 420.5v4.6M862.71 421.05l3.5 3.5M862.71 424.55l3.5-3.5M869.05 422.8h4.6M871.35 420.5v4.6M869.6 421.05l3.5 3.5M869.6 424.55l3.5-3.5M875.95 422.8h4.6M878.25 420.5v4.6M876.5 421.05l3.5 3.5M876.5 424.55l3.5-3.5M882.85 422.8h4.6M885.15 420.5v4.6M883.4 421.05l3.5 3.5M883.4 424.55l3.5-3.5M889.74 422.8h4.6M892.04 420.5v4.6M890.29 421.05l3.5 3.5M890.29 424.55l3.5-3.5M896.64 422.8h4.6M898.94 420.5v4.6M897.19 421.05l3.5 3.5M897.19 424.55l3.5-3.5M903.53 422.8h4.6M905.83 420.5v4.6M904.08 421.05l3.5 3.5M904.08 424.55l3.5-3.5M910.43 422.8h4.6M912.73 420.5v4.6M910.98 421.05l3.5 3.5M910.98 424.55l3.5-3.5M917.33 422.8h4.6M919.62 420.5v4.6M917.88 421.05l3.5 3.5M917.88 424.55l3.5-3.5M924.22 422.8h4.6M926.52 420.5v4.6M924.77 421.05l3.5 3.5M924.77 424.55l3.5-3.5M931.12 422.8h4.6M933.42 420.5v4.6M931.67 421.05l3.5 3.5M931.67 424.55l3.5-3.5M938.01 422.8h4.6M940.31 420.5v4.6M938.56 421.05l3.5 3.5M938.56 424.55l3.5-3.5M944.91 422.8h4.6M947.21 420.5v4.6M945.46 421.05l3.5 3.5M945.46 424.55l3.5-3.5M951.8 422.8h4.6M954.1 420.5v4.6M952.35 421.05l3.5 3.5M952.35 424.55l3.5-3.5M958.7 422.8h4.6M961 420.5v4.6M959.25 421.05l3.5 3.5M959.25 424.55l3.5-3.5" stroke="#00ff00" stroke-width="1.15" stroke-linecap="round" fill="none"/><polyline points="795.5,422.8 802.4,422.8 809.29,422.8 816.19,422.8 823.08,412.11 829.98,422.8 836.88,422.8 843.77,422.8 850.67,422.8 857.56,422.8 864.46,422.8 871.35,422.8 878.25,422.8 885.15,422.8 892.04,422.8 898.94,422.8 905.83,417.46 912.73,412.11 919.62,422.8 926.52,422.8 933.42,417.46 940.31,422.8 947.21,420.13 954.1,417.46 961,417.46" fill="none" stroke="#0000ff" stroke-width="1.25" stroke-linejoin="round"/><path d="M793.2 422.8h4.6M795.5 420.5v4.6M793.75 421.05l3.5 3.5M793.75 424.55l3.5-3.5M800.1 422.8h4.6M802.4 420.5v4.6M800.65 421.05l3.5 3.5M800.65 424.55l3.5-3.5M806.99 422.8h4.6M809.29 420.5v4.6M807.54 421.05l3.5 3.5M807.54 424.55l3.5-3.5M813.89 422.8h4.6M816.19 420.5v4.6M814.44 421.05l3.5 3.5M814.44 424.55l3.5-3.5M820.78 412.11h4.6M823.08 409.81v4.6M821.33 410.36l3.5 3.5M821.33 413.86l3.5-3.5M827.68 422.8h4.6M829.98 420.5v4.6M828.23 421.05l3.5 3.5M828.23 424.55l3.5-3.5M834.58 422.8h4.6M836.88 420.5v4.6M835.12 421.05l3.5 3.5M835.12 424.55l3.5-3.5M841.47 422.8h4.6M843.77 420.5v4.6M842.02 421.05l3.5 3.5M842.02 424.55l3.5-3.5M848.37 422.8h4.6M850.67 420.5v4.6M848.92 421.05l3.5 3.5M848.92 424.55l3.5-3.5M855.26 422.8h4.6M857.56 420.5v4.6M855.81 421.05l3.5 3.5M855.81 424.55l3.5-3.5M862.16 422.8h4.6M864.46 420.5v4.6M862.71 421.05l3.5 3.5M862.71 424.55l3.5-3.5M869.05 422.8h4.6M871.35 420.5v4.6M869.6 421.05l3.5 3.5M869.6 424.55l3.5-3.5M875.95 422.8h4.6M878.25 420.5v4.6M876.5 421.05l3.5 3.5M876.5 424.55l3.5-3.5M882.85 422.8h4.6M885.15 420.5v4.6M883.4 421.05l3.5 3.5M883.4 424.55l3.5-3.5M889.74 422.8h4.6M892.04 420.5v4.6M890.29 421.05l3.5 3.5M890.29 424.55l3.5-3.5M896.64 422.8h4.6M898.94 420.5v4.6M897.19 421.05l3.5 3.5M897.19 424.55l3.5-3.5M903.53 417.46h4.6M905.83 415.16v4.6M904.08 415.71l3.5 3.5M904.08 419.21l3.5-3.5M910.43 412.11h4.6M912.73 409.81v4.6M910.98 410.36l3.5 3.5M910.98 413.86l3.5-3.5M917.33 422.8h4.6M919.62 420.5v4.6M917.88 421.05l3.5 3.5M917.88 424.55l3.5-3.5M924.22 422.8h4.6M926.52 420.5v4.6M924.77 421.05l3.5 3.5M924.77 424.55l3.5-3.5M931.12 417.46h4.6M933.42 415.16v4.6M931.67 415.71l3.5 3.5M931.67 419.21l3.5-3.5M938.01 422.8h4.6M940.31 420.5v4.6M938.56 421.05l3.5 3.5M938.56 424.55l3.5-3.5M944.91 420.13h4.6M947.21 417.83v4.6M945.46 418.38l3.5 3.5M945.46 421.88l3.5-3.5M951.8 417.46h4.6M954.1 415.16v4.6M952.35 415.71l3.5 3.5M952.35 419.21l3.5-3.5M958.7 417.46h4.6M961 415.16v4.6M959.25 415.71l3.5 3.5M959.25 419.21l3.5-3.5" stroke="#0000ff" stroke-width="1.15" stroke-linecap="round" fill="none"/><polyline points="795.5,417.46 802.4,417.46 809.29,417.46 816.19,417.46 823.08,417.46 829.98,417.46 836.88,417.46 843.77,417.46 850.67,422.8 857.56,422.8 864.46,417.46 871.35,422.8 878.25,422.8 885.15,417.46 892.04,417.46 898.94,406.76 905.83,412.11 912.73,406.76 919.62,401.41 926.52,385.37 933.42,396.06 940.31,412.11 947.21,417.46 954.1,417.46 961,417.46" fill="none" stroke="#ff0000" stroke-width="1.25" stroke-linejoin="round"/><path d="M793.2 417.46h4.6M795.5 415.16v4.6M793.75 415.71l3.5 3.5M793.75 419.21l3.5-3.5M800.1 417.46h4.6M802.4 415.16v4.6M800.65 415.71l3.5 3.5M800.65 419.21l3.5-3.5M806.99 417.46h4.6M809.29 415.16v4.6M807.54 415.71l3.5 3.5M807.54 419.21l3.5-3.5M813.89 417.46h4.6M816.19 415.16v4.6M814.44 415.71l3.5 3.5M814.44 419.21l3.5-3.5M820.78 417.46h4.6M823.08 415.16v4.6M821.33 415.71l3.5 3.5M821.33 419.21l3.5-3.5M827.68 417.46h4.6M829.98 415.16v4.6M828.23 415.71l3.5 3.5M828.23 419.21l3.5-3.5M834.58 417.46h4.6M836.88 415.16v4.6M835.12 415.71l3.5 3.5M835.12 419.21l3.5-3.5M841.47 417.46h4.6M843.77 415.16v4.6M842.02 415.71l3.5 3.5M842.02 419.21l3.5-3.5M848.37 422.8h4.6M850.67 420.5v4.6M848.92 421.05l3.5 3.5M848.92 424.55l3.5-3.5M855.26 422.8h4.6M857.56 420.5v4.6M855.81 421.05l3.5 3.5M855.81 424.55l3.5-3.5M862.16 417.46h4.6M864.46 415.16v4.6M862.71 415.71l3.5 3.5M862.71 419.21l3.5-3.5M869.05 422.8h4.6M871.35 420.5v4.6M869.6 421.05l3.5 3.5M869.6 424.55l3.5-3.5M875.95 422.8h4.6M878.25 420.5v4.6M876.5 421.05l3.5 3.5M876.5 424.55l3.5-3.5M882.85 417.46h4.6M885.15 415.16v4.6M883.4 415.71l3.5 3.5M883.4 419.21l3.5-3.5M889.74 417.46h4.6M892.04 415.16v4.6M890.29 415.71l3.5 3.5M890.29 419.21l3.5-3.5M896.64 406.76h4.6M898.94 404.46v4.6M897.19 405.01l3.5 3.5M897.19 408.51l3.5-3.5M903.53 412.11h4.6M905.83 409.81v4.6M904.08 410.36l3.5 3.5M904.08 413.86l3.5-3.5M910.43 406.76h4.6M912.73 404.46v4.6M910.98 405.01l3.5 3.5M910.98 408.51l3.5-3.5M917.33 401.41h4.6M919.62 399.11v4.6M917.88 399.66l3.5 3.5M917.88 403.16l3.5-3.5M924.22 385.37h4.6M926.52 383.07v4.6M924.77 383.62l3.5 3.5M924.77 387.12l3.5-3.5M931.12 396.06h4.6M933.42 393.76v4.6M931.67 394.31l3.5 3.5M931.67 397.81l3.5-3.5M938.01 412.11h4.6M940.31 409.81v4.6M938.56 410.36l3.5 3.5M938.56 413.86l3.5-3.5M944.91 417.46h4.6M947.21 415.16v4.6M945.46 415.71l3.5 3.5M945.46 419.21l3.5-3.5M951.8 417.46h4.6M954.1 415.16v4.6M952.35 415.71l3.5 3.5M952.35 419.21l3.5-3.5M958.7 417.46h4.6M961 415.16v4.6M959.25 415.71l3.5 3.5M959.25 419.21l3.5-3.5" stroke="#ff0000" stroke-width="1.15" stroke-linecap="round" fill="none"/></g><path d="M795.5 433.5v-4M795.5 315.9v4M809.29 433.5v-4M809.29 315.9v4M823.08 433.5v-4M823.08 315.9v4M836.88 433.5v-4M836.88 315.9v4M850.67 433.5v-4M850.67 315.9v4M864.46 433.5v-4M864.46 315.9v4M878.25 433.5v-4M878.25 315.9v4M892.04 433.5v-4M892.04 315.9v4M905.83 433.5v-4M905.83 315.9v4M919.62 433.5v-4M919.62 315.9v4M933.42 433.5v-4M933.42 315.9v4M947.21 433.5v-4M947.21 315.9v4M961 433.5v-4M961 315.9v4M795.5 433.5h5.5M961 433.5h-5.5M795.5 419.5h4M961 419.5h-4M795.5 405.5h5.5M961 405.5h-5.5M795.5 391.5h4M961 391.5h-4M795.5 377.5h5.5M961 377.5h-5.5M795.5 363.5h4M961 363.5h-4M795.5 349.5h5.5M961 349.5h-5.5M795.5 335.5h4M961 335.5h-4M795.5 321.5h5.5M961 321.5h-5.5" stroke="#000" stroke-width="1" fill="none"/><rect x="795" y="315" width="1" height="120.1" fill="#000"/><rect x="960" y="315" width="2" height="120.1" fill="#000"/><rect x="795" y="315" width="167" height="2" fill="#000"/><rect x="795" y="433" width="167" height="1.6" fill="#000"/><line x1="795.5" y1="405.5" x2="961" y2="405.5" stroke="#000" stroke-width="1" stroke-dasharray="1 2.1"/><line x1="795.5" y1="377.5" x2="961" y2="377.5" stroke="#000" stroke-width="1" stroke-dasharray="1 2.1"/><line x1="795.5" y1="349.5" x2="961" y2="349.5" stroke="#000" stroke-width="1" stroke-dasharray="1 2.1"/><line x1="795.5" y1="321.5" x2="961" y2="321.5" stroke="#000" stroke-width="1" stroke-dasharray="1 2.1"/><line x1="823.08" y1="433.5" x2="823.08" y2="315.9" stroke="#000" stroke-width="1" stroke-dasharray="1 2.1"/><line x1="850.67" y1="433.5" x2="850.67" y2="315.9" stroke="#000" stroke-width="1" stroke-dasharray="1 2.1"/><line x1="878.25" y1="433.5" x2="878.25" y2="315.9" stroke="#000" stroke-width="1" stroke-dasharray="1 2.1"/><line x1="905.83" y1="433.5" x2="905.83" y2="315.9" stroke="#000" stroke-width="1" stroke-dasharray="1 2.1"/><line x1="933.42" y1="433.5" x2="933.42" y2="315.9" stroke="#000" stroke-width="1" stroke-dasharray="1 2.1"/><text x="791.2" y="435.9" font-size="8.6" text-anchor="end" fill="#000">0</text><text x="791.2" y="407.9" font-size="8.6" text-anchor="end" fill="#000">2</text><text x="791.2" y="379.9" font-size="8.6" text-anchor="end" fill="#000">4</text><text x="791.2" y="351.9" font-size="8.6" text-anchor="end" fill="#000">6</text><text x="791.2" y="323.9" font-size="8.6" text-anchor="end" fill="#000">8</text><text x="795.8" y="445" font-size="8.6" text-anchor="middle" fill="#000">0</text><text x="823.38" y="445" font-size="8.6" text-anchor="middle" fill="#000">4</text><text x="850.97" y="445" font-size="8.6" text-anchor="middle" fill="#000">8</text><text x="878.55" y="445" font-size="8.6" text-anchor="middle" fill="#000">12</text><text x="906.13" y="445" font-size="8.6" text-anchor="middle" fill="#000">16</text><text x="933.72" y="445" font-size="8.6" text-anchor="middle" fill="#000">20</text><text x="961.3" y="445" font-size="8.6" text-anchor="middle" fill="#000">24</text><text x="878.45" y="458.6" font-size="9.2" text-anchor="middle" textLength="69.4" lengthAdjust="spacingAndGlyphs" fill="#000" clip-path="url(#lc2)">Tseung Kwan O</text></g>
<g><clipPath id="pc30"><rect x="23.5" y="463.9" width="165.5" height="117.6"/></clipPath><g clip-path="url(#pc30)"><polyline points="23.5,545.1 30.4,545.1 37.29,545.1 44.19,545.1 51.08,545.1 57.98,545.1 64.88,545.1 71.77,545.1 78.67,545.1 85.56,545.1 92.46,539.5 99.35,535.86 106.25,539.08 113.15,542.44 120.04,543 126.94,542.44 133.83,543.42 140.73,543.7 147.62,543.7 154.52,543.7 161.42,543.7 168.31,543.7 175.21,543.7 182.1,543.7 189,543.7" fill="none" stroke="#00ffff" stroke-width="1.25" stroke-linejoin="round"/><path d="M21.2 545.1h4.6M23.5 542.8v4.6M21.75 543.35l3.5 3.5M21.75 546.85l3.5-3.5M28.1 545.1h4.6M30.4 542.8v4.6M28.65 543.35l3.5 3.5M28.65 546.85l3.5-3.5M34.99 545.1h4.6M37.29 542.8v4.6M35.54 543.35l3.5 3.5M35.54 546.85l3.5-3.5M41.89 545.1h4.6M44.19 542.8v4.6M42.44 543.35l3.5 3.5M42.44 546.85l3.5-3.5M48.78 545.1h4.6M51.08 542.8v4.6M49.33 543.35l3.5 3.5M49.33 546.85l3.5-3.5M55.68 545.1h4.6M57.98 542.8v4.6M56.23 543.35l3.5 3.5M56.23 546.85l3.5-3.5M62.58 545.1h4.6M64.88 542.8v4.6M63.12 543.35l3.5 3.5M63.12 546.85l3.5-3.5M69.47 545.1h4.6M71.77 542.8v4.6M70.02 543.35l3.5 3.5M70.02 546.85l3.5-3.5M76.37 545.1h4.6M78.67 542.8v4.6M76.92 543.35l3.5 3.5M76.92 546.85l3.5-3.5M83.26 545.1h4.6M85.56 542.8v4.6M83.81 543.35l3.5 3.5M83.81 546.85l3.5-3.5M90.16 539.5h4.6M92.46 537.2v4.6M90.71 537.75l3.5 3.5M90.71 541.25l3.5-3.5M97.05 535.86h4.6M99.35 533.56v4.6M97.6 534.11l3.5 3.5M97.6 537.61l3.5-3.5M103.95 539.08h4.6M106.25 536.78v4.6M104.5 537.33l3.5 3.5M104.5 540.83l3.5-3.5M110.85 542.44h4.6M113.15 540.14v4.6M111.4 540.69l3.5 3.5M111.4 544.19l3.5-3.5M117.74 543h4.6M120.04 540.7v4.6M118.29 541.25l3.5 3.5M118.29 544.75l3.5-3.5M124.64 542.44h4.6M126.94 540.14v4.6M125.19 540.69l3.5 3.5M125.19 544.19l3.5-3.5M131.53 543.42h4.6M133.83 541.12v4.6M132.08 541.67l3.5 3.5M132.08 545.17l3.5-3.5M138.43 543.7h4.6M140.73 541.4v4.6M138.98 541.95l3.5 3.5M138.98 545.45l3.5-3.5M145.32 543.7h4.6M147.62 541.4v4.6M145.88 541.95l3.5 3.5M145.88 545.45l3.5-3.5M152.22 543.7h4.6M154.52 541.4v4.6M152.77 541.95l3.5 3.5M152.77 545.45l3.5-3.5M159.12 543.7h4.6M161.42 541.4v4.6M159.67 541.95l3.5 3.5M159.67 545.45l3.5-3.5M166.01 543.7h4.6M168.31 541.4v4.6M166.56 541.95l3.5 3.5M166.56 545.45l3.5-3.5M172.91 543.7h4.6M175.21 541.4v4.6M173.46 541.95l3.5 3.5M173.46 545.45l3.5-3.5M179.8 543.7h4.6M182.1 541.4v4.6M180.35 541.95l3.5 3.5M180.35 545.45l3.5-3.5M186.7 543.7h4.6M189 541.4v4.6M187.25 541.95l3.5 3.5M187.25 545.45l3.5-3.5" stroke="#00ffff" stroke-width="1.15" stroke-linecap="round" fill="none"/><polyline points="23.5,543.14 30.4,543.14 37.29,545.8 44.19,545.8 51.08,545.8 57.98,545.8 64.88,545.8 71.77,545.8 78.67,545.8 85.56,545.8 92.46,548.88 99.35,546.5 106.25,548.18 113.15,546.5 120.04,548.18 126.94,547.9 133.83,543.84 140.73,545.1 147.62,545.1 154.52,545.1 161.42,545.1 168.31,545.1 175.21,545.1 182.1,545.1 189,545.1" fill="none" stroke="#00ff00" stroke-width="1.25" stroke-linejoin="round"/><path d="M21.2 543.14h4.6M23.5 540.84v4.6M21.75 541.39l3.5 3.5M21.75 544.89l3.5-3.5M28.1 543.14h4.6M30.4 540.84v4.6M28.65 541.39l3.5 3.5M28.65 544.89l3.5-3.5M34.99 545.8h4.6M37.29 543.5v4.6M35.54 544.05l3.5 3.5M35.54 547.55l3.5-3.5M41.89 545.8h4.6M44.19 543.5v4.6M42.44 544.05l3.5 3.5M42.44 547.55l3.5-3.5M48.78 545.8h4.6M51.08 543.5v4.6M49.33 544.05l3.5 3.5M49.33 547.55l3.5-3.5M55.68 545.8h4.6M57.98 543.5v4.6M56.23 544.05l3.5 3.5M56.23 547.55l3.5-3.5M62.58 545.8h4.6M64.88 543.5v4.6M63.12 544.05l3.5 3.5M63.12 547.55l3.5-3.5M69.47 545.8h4.6M71.77 543.5v4.6M70.02 544.05l3.5 3.5M70.02 547.55l3.5-3.5M76.37 545.8h4.6M78.67 543.5v4.6M76.92 544.05l3.5 3.5M76.92 547.55l3.5-3.5M83.26 545.8h4.6M85.56 543.5v4.6M83.81 544.05l3.5 3.5M83.81 547.55l3.5-3.5M90.16 548.88h4.6M92.46 546.58v4.6M90.71 547.13l3.5 3.5M90.71 550.63l3.5-3.5M97.05 546.5h4.6M99.35 544.2v4.6M97.6 544.75l3.5 3.5M97.6 548.25l3.5-3.5M103.95 548.18h4.6M106.25 545.88v4.6M104.5 546.43l3.5 3.5M104.5 549.93l3.5-3.5M110.85 546.5h4.6M113.15 544.2v4.6M111.4 544.75l3.5 3.5M111.4 548.25l3.5-3.5M117.74 548.18h4.6M120.04 545.88v4.6M118.29 546.43l3.5 3.5M118.29 549.93l3.5-3.5M124.64 547.9h4.6M126.94 545.6v4.6M125.19 546.15l3.5 3.5M125.19 549.65l3.5-3.5M131.53 543.84h4.6M133.83 541.54v4.6M132.08 542.09l3.5 3.5M132.08 545.59l3.5-3.5M138.43 545.1h4.6M140.73 542.8v4.6M138.98 543.35l3.5 3.5M138.98 546.85l3.5-3.5M145.32 545.1h4.6M147.62 542.8v4.6M145.88 543.35l3.5 3.5M145.88 546.85l3.5-3.5M152.22 545.1h4.6M154.52 542.8v4.6M152.77 543.35l3.5 3.5M152.77 546.85l3.5-3.5M159.12 545.1h4.6M161.42 542.8v4.6M159.67 543.35l3.5 3.5M159.67 546.85l3.5-3.5M166.01 545.1h4.6M168.31 542.8v4.6M166.56 543.35l3.5 3.5M166.56 546.85l3.5-3.5M172.91 545.1h4.6M175.21 542.8v4.6M173.46 543.35l3.5 3.5M173.46 546.85l3.5-3.5M179.8 545.1h4.6M182.1 542.8v4.6M180.35 543.35l3.5 3.5M180.35 546.85l3.5-3.5M186.7 545.1h4.6M189 542.8v4.6M187.25 543.35l3.5 3.5M187.25 546.85l3.5-3.5" stroke="#00ff00" stroke-width="1.15" stroke-linecap="round" fill="none"/><polyline points="23.5,545.8 30.4,545.8 37.29,545.8 44.19,545.8 51.08,545.8 57.98,545.8 64.88,545.8 71.77,545.8 78.67,545.8 85.56,544.96 92.46,541.74 99.35,541.74 106.25,542.72 113.15,546.36 120.04,544.26 126.94,546.08 133.83,546.36 140.73,548.18 147.62,547.2 154.52,547.2 161.42,547.2 168.31,547.2 175.21,547.2 182.1,547.2 189,547.2" fill="none" stroke="#0000ff" stroke-width="1.25" stroke-linejoin="round"/><path d="M21.2 545.8h4.6M23.5 543.5v4.6M21.75 544.05l3.5 3.5M21.75 547.55l3.5-3.5M28.1 545.8h4.6M30.4 543.5v4.6M28.65 544.05l3.5 3.5M28.65 547.55l3.5-3.5M34.99 545.8h4.6M37.29 543.5v4.6M35.54 544.05l3.5 3.5M35.54 547.55l3.5-3.5M41.89 545.8h4.6M44.19 543.5v4.6M42.44 544.05l3.5 3.5M42.44 547.55l3.5-3.5M48.78 545.8h4.6M51.08 543.5v4.6M49.33 544.05l3.5 3.5M49.33 547.55l3.5-3.5M55.68 545.8h4.6M57.98 543.5v4.6M56.23 544.05l3.5 3.5M56.23 547.55l3.5-3.5M62.58 545.8h4.6M64.88 543.5v4.6M63.12 544.05l3.5 3.5M63.12 547.55l3.5-3.5M69.47 545.8h4.6M71.77 543.5v4.6M70.02 544.05l3.5 3.5M70.02 547.55l3.5-3.5M76.37 545.8h4.6M78.67 543.5v4.6M76.92 544.05l3.5 3.5M76.92 547.55l3.5-3.5M83.26 544.96h4.6M85.56 542.66v4.6M83.81 543.21l3.5 3.5M83.81 546.71l3.5-3.5M90.16 541.74h4.6M92.46 539.44v4.6M90.71 539.99l3.5 3.5M90.71 543.49l3.5-3.5M97.05 541.74h4.6M99.35 539.44v4.6M97.6 539.99l3.5 3.5M97.6 543.49l3.5-3.5M103.95 542.72h4.6M106.25 540.42v4.6M104.5 540.97l3.5 3.5M104.5 544.47l3.5-3.5M110.85 546.36h4.6M113.15 544.06v4.6M111.4 544.61l3.5 3.5M111.4 548.11l3.5-3.5M117.74 544.26h4.6M120.04 541.96v4.6M118.29 542.51l3.5 3.5M118.29 546.01l3.5-3.5M124.64 546.08h4.6M126.94 543.78v4.6M125.19 544.33l3.5 3.5M125.19 547.83l3.5-3.5M131.53 546.36h4.6M133.83 544.06v4.6M132.08 544.61l3.5 3.5M132.08 548.11l3.5-3.5M138.43 548.18h4.6M140.73 545.88v4.6M138.98 546.43l3.5 3.5M138.98 549.93l3.5-3.5M145.32 547.2h4.6M147.62 544.9v4.6M145.88 545.45l3.5 3.5M145.88 548.95l3.5-3.5M152.22 547.2h4.6M154.52 544.9v4.6M152.77 545.45l3.5 3.5M152.77 548.95l3.5-3.5M159.12 547.2h4.6M161.42 544.9v4.6M159.67 545.45l3.5 3.5M159.67 548.95l3.5-3.5M166.01 547.2h4.6M168.31 544.9v4.6M166.56 545.45l3.5 3.5M166.56 548.95l3.5-3.5M172.91 547.2h4.6M175.21 544.9v4.6M173.46 545.45l3.5 3.5M173.46 548.95l3.5-3.5M179.8 547.2h4.6M182.1 544.9v4.6M180.35 545.45l3.5 3.5M180.35 548.95l3.5-3.5M186.7 547.2h4.6M189 544.9v4.6M187.25 545.45l3.5 3.5M187.25 548.95l3.5-3.5" stroke="#0000ff" stroke-width="1.15" stroke-linecap="round" fill="none"/><polyline points="23.5,547.06 30.4,547.06 37.29,547.06 44.19,547.06 51.08,547.06 57.98,547.06 64.88,547.06 71.77,547.06 78.67,547.06 85.56,547.06 92.46,547.06 99.35,546.08 106.25,543.84 113.15,534.04 120.04,539.08 126.94,534.74 133.83,540.62 140.73,543.84 147.62,547.06 154.52,547.06 161.42,547.06 168.31,547.06 175.21,547.06 182.1,547.06 189,547.06" fill="none" stroke="#ff0000" stroke-width="1.25" stroke-linejoin="round"/><path d="M21.2 547.06h4.6M23.5 544.76v4.6M21.75 545.31l3.5 3.5M21.75 548.81l3.5-3.5M28.1 547.06h4.6M30.4 544.76v4.6M28.65 545.31l3.5 3.5M28.65 548.81l3.5-3.5M34.99 547.06h4.6M37.29 544.76v4.6M35.54 545.31l3.5 3.5M35.54 548.81l3.5-3.5M41.89 547.06h4.6M44.19 544.76v4.6M42.44 545.31l3.5 3.5M42.44 548.81l3.5-3.5M48.78 547.06h4.6M51.08 544.76v4.6M49.33 545.31l3.5 3.5M49.33 548.81l3.5-3.5M55.68 547.06h4.6M57.98 544.76v4.6M56.23 545.31l3.5 3.5M56.23 548.81l3.5-3.5M62.58 547.06h4.6M64.88 544.76v4.6M63.12 545.31l3.5 3.5M63.12 548.81l3.5-3.5M69.47 547.06h4.6M71.77 544.76v4.6M70.02 545.31l3.5 3.5M70.02 548.81l3.5-3.5M76.37 547.06h4.6M78.67 544.76v4.6M76.92 545.31l3.5 3.5M76.92 548.81l3.5-3.5M83.26 547.06h4.6M85.56 544.76v4.6M83.81 545.31l3.5 3.5M83.81 548.81l3.5-3.5M90.16 547.06h4.6M92.46 544.76v4.6M90.71 545.31l3.5 3.5M90.71 548.81l3.5-3.5M97.05 546.08h4.6M99.35 543.78v4.6M97.6 544.33l3.5 3.5M97.6 547.83l3.5-3.5M103.95 543.84h4.6M106.25 541.54v4.6M104.5 542.09l3.5 3.5M104.5 545.59l3.5-3.5M110.85 534.04h4.6M113.15 531.74v4.6M111.4 532.29l3.5 3.5M111.4 535.79l3.5-3.5M117.74 539.08h4.6M120.04 536.78v4.6M118.29 537.33l3.5 3.5M118.29 540.83l3.5-3.5M124.64 534.74h4.6M126.94 532.44v4.6M125.19 532.99l3.5 3.5M125.19 536.49l3.5-3.5M131.53 540.62h4.6M133.83 538.32v4.6M132.08 538.87l3.5 3.5M132.08 542.37l3.5-3.5M138.43 543.84h4.6M140.73 541.54v4.6M138.98 542.09l3.5 3.5M138.98 545.59l3.5-3.5M145.32 547.06h4.6M147.62 544.76v4.6M145.88 545.31l3.5 3.5M145.88 548.81l3.5-3.5M152.22 547.06h4.6M154.52 544.76v4.6M152.77 545.31l3.5 3.5M152.77 548.81l3.5-3.5M159.12 547.06h4.6M161.42 544.76v4.6M159.67 545.31l3.5 3.5M159.67 548.81l3.5-3.5M166.01 547.06h4.6M168.31 544.76v4.6M166.56 545.31l3.5 3.5M166.56 548.81l3.5-3.5M172.91 547.06h4.6M175.21 544.76v4.6M173.46 545.31l3.5 3.5M173.46 548.81l3.5-3.5M179.8 547.06h4.6M182.1 544.76v4.6M180.35 545.31l3.5 3.5M180.35 548.81l3.5-3.5M186.7 547.06h4.6M189 544.76v4.6M187.25 545.31l3.5 3.5M187.25 548.81l3.5-3.5" stroke="#ff0000" stroke-width="1.15" stroke-linecap="round" fill="none"/></g><path d="M23.5 581.5v-4M23.5 463.9v4M37.29 581.5v-4M37.29 463.9v4M51.08 581.5v-4M51.08 463.9v4M64.88 581.5v-4M64.88 463.9v4M78.67 581.5v-4M78.67 463.9v4M92.46 581.5v-4M92.46 463.9v4M106.25 581.5v-4M106.25 463.9v4M120.04 581.5v-4M120.04 463.9v4M133.83 581.5v-4M133.83 463.9v4M147.62 581.5v-4M147.62 463.9v4M161.42 581.5v-4M161.42 463.9v4M175.21 581.5v-4M175.21 463.9v4M189 581.5v-4M189 463.9v4M23.5 581.5h5.5M189 581.5h-5.5M23.5 567.5h4M189 567.5h-4M23.5 553.5h5.5M189 553.5h-5.5M23.5 539.5h4M189 539.5h-4M23.5 525.5h5.5M189 525.5h-5.5M23.5 511.5h4M189 511.5h-4M23.5 497.5h5.5M189 497.5h-5.5M23.5 483.5h4M189 483.5h-4M23.5 469.5h5.5M189 469.5h-5.5" stroke="#000" stroke-width="1" fill="none"/><rect x="23" y="463" width="1" height="120.1" fill="#000"/><rect x="188" y="463" width="2" height="120.1" fill="#000"/><rect x="23" y="463" width="167" height="2" fill="#000"/><rect x="23" y="581" width="167" height="1.6" fill="#000"/><line x1="23.5" y1="553.5" x2="189" y2="553.5" stroke="#000" stroke-width="1" stroke-dasharray="1 2.1"/><line x1="23.5" y1="525.5" x2="189" y2="525.5" stroke="#000" stroke-width="1" stroke-dasharray="1 2.1"/><line x1="23.5" y1="497.5" x2="189" y2="497.5" stroke="#000" stroke-width="1" stroke-dasharray="1 2.1"/><line x1="23.5" y1="469.5" x2="189" y2="469.5" stroke="#000" stroke-width="1" stroke-dasharray="1 2.1"/><line x1="51.08" y1="581.5" x2="51.08" y2="463.9" stroke="#000" stroke-width="1" stroke-dasharray="1 2.1"/><line x1="78.67" y1="581.5" x2="78.67" y2="463.9" stroke="#000" stroke-width="1" stroke-dasharray="1 2.1"/><line x1="106.25" y1="581.5" x2="106.25" y2="463.9" stroke="#000" stroke-width="1" stroke-dasharray="1 2.1"/><line x1="133.83" y1="581.5" x2="133.83" y2="463.9" stroke="#000" stroke-width="1" stroke-dasharray="1 2.1"/><line x1="161.42" y1="581.5" x2="161.42" y2="463.9" stroke="#000" stroke-width="1" stroke-dasharray="1 2.1"/><text x="19.2" y="583.9" font-size="8.6" text-anchor="end" fill="#000">0</text><text x="19.2" y="555.9" font-size="8.6" text-anchor="end" fill="#000">2</text><text x="19.2" y="527.9" font-size="8.6" text-anchor="end" fill="#000">4</text><text x="19.2" y="499.9" font-size="8.6" text-anchor="end" fill="#000">6</text><text x="19.2" y="471.9" font-size="8.6" text-anchor="end" fill="#000">8</text><text x="23.8" y="593" font-size="8.6" text-anchor="middle" fill="#000">0</text><text x="51.38" y="593" font-size="8.6" text-anchor="middle" fill="#000">4</text><text x="78.97" y="593" font-size="8.6" text-anchor="middle" fill="#000">8</text><text x="106.55" y="593" font-size="8.6" text-anchor="middle" fill="#000">12</text><text x="134.13" y="593" font-size="8.6" text-anchor="middle" fill="#000">16</text><text x="161.72" y="593" font-size="8.6" text-anchor="middle" fill="#000">20</text><text x="189.3" y="593" font-size="8.6" text-anchor="middle" fill="#000">24</text><text x="106.45" y="606.6" font-size="9.2" text-anchor="middle" textLength="103.29" lengthAdjust="spacingAndGlyphs" fill="#000" clip-path="url(#lc3)">Airport, Pump House 1</text></g>
<g><clipPath id="pc31"><rect x="216.5" y="463.9" width="165.5" height="117.6"/></clipPath><g clip-path="url(#pc31)"><polyline points="216.5,549.41 223.4,549.41 230.29,544.06 237.19,549.41 244.08,549.41 250.98,549.41 257.88,544.06 264.77,554.76 271.67,554.76 278.56,549.41 285.46,544.06 292.35,544.06 299.25,549.41 306.15,554.76 313.04,560.11 319.94,565.46 326.83,560.11 333.73,565.46 340.62,560.11 347.52,554.76 354.42,554.76 361.31,554.76 368.21,554.76 375.1,554.76 382,554.76" fill="none" stroke="#00ffff" stroke-width="1.25" stroke-linejoin="round"/><path d="M214.2 549.41h4.6M216.5 547.11v4.6M214.75 547.66l3.5 3.5M214.75 551.16l3.5-3.5M221.1 549.41h4.6M223.4 547.11v4.6M221.65 547.66l3.5 3.5M221.65 551.16l3.5-3.5M227.99 544.06h4.6M230.29 541.76v4.6M228.54 542.31l3.5 3.5M228.54 545.81l3.5-3.5M234.89 549.41h4.6M237.19 547.11v4.6M235.44 547.66l3.5 3.5M235.44 551.16l3.5-3.5M241.78 549.41h4.6M244.08 547.11v4.6M242.33 547.66l3.5 3.5M242.33 551.16l3.5-3.5M248.68 549.41h4.6M250.98 547.11v4.6M249.23 547.66l3.5 3.5M249.23 551.16l3.5-3.5M255.57 544.06h4.6M257.88 541.76v4.6M256.12 542.31l3.5 3.5M256.12 545.81l3.5-3.5M262.47 554.76h4.6M264.77 552.46v4.6M263.02 553.01l3.5 3.5M263.02 556.51l3.5-3.5M269.37 554.76h4.6M271.67 552.46v4.6M269.92 553.01l3.5 3.5M269.92 556.51l3.5-3.5M276.26 549.41h4.6M278.56 547.11v4.6M276.81 547.66l3.5 3.5M276.81 551.16l3.5-3.5M283.16 544.06h4.6M285.46 541.76v4.6M283.71 542.31l3.5 3.5M283.71 545.81l3.5-3.5M290.05 544.06h4.6M292.35 541.76v4.6M290.6 542.31l3.5 3.5M290.6 545.81l3.5-3.5M296.95 549.41h4.6M299.25 547.11v4.6M297.5 547.66l3.5 3.5M297.5 551.16l3.5-3.5M303.85 554.76h4.6M306.15 552.46v4.6M304.4 553.01l3.5 3.5M304.4 556.51l3.5-3.5M310.74 560.11h4.6M313.04 557.81v4.6M311.29 558.36l3.5 3.5M311.29 561.86l3.5-3.5M317.64 565.46h4.6M319.94 563.16v4.6M318.19 563.71l3.5 3.5M318.19 567.21l3.5-3.5M324.53 560.11h4.6M326.83 557.81v4.6M325.08 558.36l3.5 3.5M325.08 561.86l3.5-3.5M331.43 565.46h4.6M333.73 563.16v4.6M331.98 563.71l3.5 3.5M331.98 567.21l3.5-3.5M338.32 560.11h4.6M340.62 557.81v4.6M338.88 558.36l3.5 3.5M338.88 561.86l3.5-3.5M345.22 554.76h4.6M347.52 552.46v4.6M345.77 553.01l3.5 3.5M345.77 556.51l3.5-3.5M352.12 554.76h4.6M354.42 552.46v4.6M352.67 553.01l3.5 3.5M352.67 556.51l3.5-3.5M359.01 554.76h4.6M361.31 552.46v4.6M359.56 553.01l3.5 3.5M359.56 556.51l3.5-3.5M365.91 554.76h4.6M368.21 552.46v4.6M366.46 553.01l3.5 3.5M366.46 556.51l3.5-3.5M372.8 554.76h4.6M375.1 552.46v4.6M373.35 553.01l3.5 3.5M373.35 556.51l3.5-3.5M379.7 554.76h4.6M382 552.46v4.6M380.25 553.01l3.5 3.5M380.25 556.51l3.5-3.5" stroke="#00ffff" stroke-width="1.15" stroke-linecap="round" fill="none"/><polyline points="216.5,554.76 223.4,549.41 230.29,549.41 237.19,554.76 244.08,552.09 250.98,549.41 257.88,549.41 264.77,549.41 271.67,538.72 278.56,544.06 285.46,549.41 292.35,544.06 319.94,522.67 326.83,533.37 333.73,528.02 340.62,533.37 347.52,549.41 354.42,549.41 361.31,549.41 368.21,549.41 375.1,544.06 382,549.41" fill="none" stroke="#00ff00" stroke-width="1.25" stroke-linejoin="round"/><path d="M214.2 554.76h4.6M216.5 552.46v4.6M214.75 553.01l3.5 3.5M214.75 556.51l3.5-3.5M221.1 549.41h4.6M223.4 547.11v4.6M221.65 547.66l3.5 3.5M221.65 551.16l3.5-3.5M227.99 549.41h4.6M230.29 547.11v4.6M228.54 547.66l3.5 3.5M228.54 551.16l3.5-3.5M234.89 554.76h4.6M237.19 552.46v4.6M235.44 553.01l3.5 3.5M235.44 556.51l3.5-3.5M241.78 552.09h4.6M244.08 549.79v4.6M242.33 550.34l3.5 3.5M242.33 553.84l3.5-3.5M248.68 549.41h4.6M250.98 547.11v4.6M249.23 547.66l3.5 3.5M249.23 551.16l3.5-3.5M255.57 549.41h4.6M257.88 547.11v4.6M256.12 547.66l3.5 3.5M256.12 551.16l3.5-3.5M262.47 549.41h4.6M264.77 547.11v4.6M263.02 547.66l3.5 3.5M263.02 551.16l3.5-3.5M269.37 538.72h4.6M271.67 536.42v4.6M269.92 536.97l3.5 3.5M269.92 540.47l3.5-3.5M276.26 544.06h4.6M278.56 541.76v4.6M276.81 542.31l3.5 3.5M276.81 545.81l3.5-3.5M283.16 549.41h4.6M285.46 547.11v4.6M283.71 547.66l3.5 3.5M283.71 551.16l3.5-3.5M290.05 544.06h4.6M292.35 541.76v4.6M290.6 542.31l3.5 3.5M290.6 545.81l3.5-3.5M317.64 522.67h4.6M319.94 520.37v4.6M318.19 520.92l3.5 3.5M318.19 524.42l3.5-3.5M324.53 533.37h4.6M326.83 531.07v4.6M325.08 531.62l3.5 3.5M325.08 535.12l3.5-3.5M331.43 528.02h4.6M333.73 525.72v4.6M331.98 526.27l3.5 3.5M331.98 529.77l3.5-3.5M338.32 533.37h4.6M340.62 531.07v4.6M338.88 531.62l3.5 3.5M338.88 535.12l3.5-3.5M345.22 549.41h4.6M347.52 547.11v4.6M345.77 547.66l3.5 3.5M345.77 551.16l3.5-3.5M352.12 549.41h4.6M354.42 547.11v4.6M352.67 547.66l3.5 3.5M352.67 551.16l3.5-3.5M359.01 549.41h4.6M361.31 547.11v4.6M359.56 547.66l3.5 3.5M359.56 551.16l3.5-3.5M365.91 549.41h4.6M368.21 547.11v4.6M366.46 547.66l3.5 3.5M366.46 551.16l3.5-3.5M372.8 544.06h4.6M375.1 541.76v4.6M373.35 542.31l3.5 3.5M373.35 545.81l3.5-3.5M379.7 549.41h4.6M382 547.11v4.6M380.25 547.66l3.5 3.5M380.25 551.16l3.5-3.5" stroke="#00ff00" stroke-width="1.15" stroke-linecap="round" fill="none"/><polyline points="216.5,549.41 223.4,544.06 230.29,549.41 237.19,544.06 244.08,544.06 250.98,544.06 257.88,549.41 264.77,549.41 271.67,549.41 278.56,549.41 285.46,538.72 292.35,549.41 299.25,538.72 306.15,511.98 313.04,538.72 319.94,538.72 326.83,538.72 333.73,533.37 340.62,538.72 347.52,544.06 354.42,549.41 361.31,544.06 368.21,544.06 375.1,538.72 382,549.41" fill="none" stroke="#0000ff" stroke-width="1.25" stroke-linejoin="round"/><path d="M214.2 549.41h4.6M216.5 547.11v4.6M214.75 547.66l3.5 3.5M214.75 551.16l3.5-3.5M221.1 544.06h4.6M223.4 541.76v4.6M221.65 542.31l3.5 3.5M221.65 545.81l3.5-3.5M227.99 549.41h4.6M230.29 547.11v4.6M228.54 547.66l3.5 3.5M228.54 551.16l3.5-3.5M234.89 544.06h4.6M237.19 541.76v4.6M235.44 542.31l3.5 3.5M235.44 545.81l3.5-3.5M241.78 544.06h4.6M244.08 541.76v4.6M242.33 542.31l3.5 3.5M242.33 545.81l3.5-3.5M248.68 544.06h4.6M250.98 541.76v4.6M249.23 542.31l3.5 3.5M249.23 545.81l3.5-3.5M255.57 549.41h4.6M257.88 547.11v4.6M256.12 547.66l3.5 3.5M256.12 551.16l3.5-3.5M262.47 549.41h4.6M264.77 547.11v4.6M263.02 547.66l3.5 3.5M263.02 551.16l3.5-3.5M269.37 549.41h4.6M271.67 547.11v4.6M269.92 547.66l3.5 3.5M269.92 551.16l3.5-3.5M276.26 549.41h4.6M278.56 547.11v4.6M276.81 547.66l3.5 3.5M276.81 551.16l3.5-3.5M283.16 538.72h4.6M285.46 536.42v4.6M283.71 536.97l3.5 3.5M283.71 540.47l3.5-3.5M290.05 549.41h4.6M292.35 547.11v4.6M290.6 547.66l3.5 3.5M290.6 551.16l3.5-3.5M296.95 538.72h4.6M299.25 536.42v4.6M297.5 536.97l3.5 3.5M297.5 540.47l3.5-3.5M303.85 511.98h4.6M306.15 509.68v4.6M304.4 510.23l3.5 3.5M304.4 513.73l3.5-3.5M310.74 538.72h4.6M313.04 536.42v4.6M311.29 536.97l3.5 3.5M311.29 540.47l3.5-3.5M317.64 538.72h4.6M319.94 536.42v4.6M318.19 536.97l3.5 3.5M318.19 540.47l3.5-3.5M324.53 538.72h4.6M326.83 536.42v4.6M325.08 536.97l3.5 3.5M325.08 540.47l3.5-3.5M331.43 533.37h4.6M333.73 531.07v4.6M331.98 531.62l3.5 3.5M331.98 535.12l3.5-3.5M338.32 538.72h4.6M340.62 536.42v4.6M338.88 536.97l3.5 3.5M338.88 540.47l3.5-3.5M345.22 544.06h4.6M347.52 541.76v4.6M345.77 542.31l3.5 3.5M345.77 545.81l3.5-3.5M352.12 549.41h4.6M354.42 547.11v4.6M352.67 547.66l3.5 3.5M352.67 551.16l3.5-3.5M359.01 544.06h4.6M361.31 541.76v4.6M359.56 542.31l3.5 3.5M359.56 545.81l3.5-3.5M365.91 544.06h4.6M368.21 541.76v4.6M366.46 542.31l3.5 3.5M366.46 545.81l3.5-3.5M372.8 538.72h4.6M375.1 536.42v4.6M373.35 536.97l3.5 3.5M373.35 540.47l3.5-3.5M379.7 549.41h4.6M382 547.11v4.6M380.25 547.66l3.5 3.5M380.25 551.16l3.5-3.5" stroke="#0000ff" stroke-width="1.15" stroke-linecap="round" fill="none"/><polyline points="216.5,552.09 223.4,533.37 230.29,528.02 237.19,533.37 250.98,522.67 257.88,522.67 264.77,517.32 271.67,538.72 278.56,538.72 285.46,538.72 292.35,517.32 299.25,511.98 306.15,544.06 313.04,560.11 319.94,560.11 326.83,544.06 333.73,538.72 340.62,538.72 347.52,538.72 354.42,549.41 361.31,549.41 368.21,538.72 375.1,538.72 382,544.06" fill="none" stroke="#ff0000" stroke-width="1.25" stroke-linejoin="round"/><path d="M214.2 552.09h4.6M216.5 549.79v4.6M214.75 550.34l3.5 3.5M214.75 553.84l3.5-3.5M221.1 533.37h4.6M223.4 531.07v4.6M221.65 531.62l3.5 3.5M221.65 535.12l3.5-3.5M227.99 528.02h4.6M230.29 525.72v4.6M228.54 526.27l3.5 3.5M228.54 529.77l3.5-3.5M234.89 533.37h4.6M237.19 531.07v4.6M235.44 531.62l3.5 3.5M235.44 535.12l3.5-3.5M248.68 522.67h4.6M250.98 520.37v4.6M249.23 520.92l3.5 3.5M249.23 524.42l3.5-3.5M255.57 522.67h4.6M257.88 520.37v4.6M256.12 520.92l3.5 3.5M256.12 524.42l3.5-3.5M262.47 517.32h4.6M264.77 515.02v4.6M263.02 515.57l3.5 3.5M263.02 519.07l3.5-3.5M269.37 538.72h4.6M271.67 536.42v4.6M269.92 536.97l3.5 3.5M269.92 540.47l3.5-3.5M276.26 538.72h4.6M278.56 536.42v4.6M276.81 536.97l3.5 3.5M276.81 540.47l3.5-3.5M283.16 538.72h4.6M285.46 536.42v4.6M283.71 536.97l3.5 3.5M283.71 540.47l3.5-3.5M290.05 517.32h4.6M292.35 515.02v4.6M290.6 515.57l3.5 3.5M290.6 519.07l3.5-3.5M296.95 511.98h4.6M299.25 509.68v4.6M297.5 510.23l3.5 3.5M297.5 513.73l3.5-3.5M303.85 544.06h4.6M306.15 541.76v4.6M304.4 542.31l3.5 3.5M304.4 545.81l3.5-3.5M310.74 560.11h4.6M313.04 557.81v4.6M311.29 558.36l3.5 3.5M311.29 561.86l3.5-3.5M317.64 560.11h4.6M319.94 557.81v4.6M318.19 558.36l3.5 3.5M318.19 561.86l3.5-3.5M324.53 544.06h4.6M326.83 541.76v4.6M325.08 542.31l3.5 3.5M325.08 545.81l3.5-3.5M331.43 538.72h4.6M333.73 536.42v4.6M331.98 536.97l3.5 3.5M331.98 540.47l3.5-3.5M338.32 538.72h4.6M340.62 536.42v4.6M338.88 536.97l3.5 3.5M338.88 540.47l3.5-3.5M345.22 538.72h4.6M347.52 536.42v4.6M345.77 536.97l3.5 3.5M345.77 540.47l3.5-3.5M352.12 549.41h4.6M354.42 547.11v4.6M352.67 547.66l3.5 3.5M352.67 551.16l3.5-3.5M359.01 549.41h4.6M361.31 547.11v4.6M359.56 547.66l3.5 3.5M359.56 551.16l3.5-3.5M365.91 538.72h4.6M368.21 536.42v4.6M366.46 536.97l3.5 3.5M366.46 540.47l3.5-3.5M372.8 538.72h4.6M375.1 536.42v4.6M373.35 536.97l3.5 3.5M373.35 540.47l3.5-3.5M379.7 544.06h4.6M382 541.76v4.6M380.25 542.31l3.5 3.5M380.25 545.81l3.5-3.5" stroke="#ff0000" stroke-width="1.15" stroke-linecap="round" fill="none"/></g><path d="M216.5 581.5v-4M216.5 463.9v4M230.29 581.5v-4M230.29 463.9v4M244.08 581.5v-4M244.08 463.9v4M257.88 581.5v-4M257.88 463.9v4M271.67 581.5v-4M271.67 463.9v4M285.46 581.5v-4M285.46 463.9v4M299.25 581.5v-4M299.25 463.9v4M313.04 581.5v-4M313.04 463.9v4M326.83 581.5v-4M326.83 463.9v4M340.62 581.5v-4M340.62 463.9v4M354.42 581.5v-4M354.42 463.9v4M368.21 581.5v-4M368.21 463.9v4M382 581.5v-4M382 463.9v4M216.5 581.5h5.5M382 581.5h-5.5M216.5 567.5h4M382 567.5h-4M216.5 553.5h5.5M382 553.5h-5.5M216.5 539.5h4M382 539.5h-4M216.5 525.5h5.5M382 525.5h-5.5M216.5 511.5h4M382 511.5h-4M216.5 497.5h5.5M382 497.5h-5.5M216.5 483.5h4M382 483.5h-4M216.5 469.5h5.5M382 469.5h-5.5" stroke="#000" stroke-width="1" fill="none"/><rect x="216" y="463" width="1" height="120.1" fill="#000"/><rect x="381" y="463" width="2" height="120.1" fill="#000"/><rect x="216" y="463" width="167" height="2" fill="#000"/><rect x="216" y="581" width="167" height="1.6" fill="#000"/><line x1="216.5" y1="553.5" x2="382" y2="553.5" stroke="#000" stroke-width="1" stroke-dasharray="1 2.1"/><line x1="216.5" y1="525.5" x2="382" y2="525.5" stroke="#000" stroke-width="1" stroke-dasharray="1 2.1"/><line x1="216.5" y1="497.5" x2="382" y2="497.5" stroke="#000" stroke-width="1" stroke-dasharray="1 2.1"/><line x1="216.5" y1="469.5" x2="382" y2="469.5" stroke="#000" stroke-width="1" stroke-dasharray="1 2.1"/><line x1="244.08" y1="581.5" x2="244.08" y2="463.9" stroke="#000" stroke-width="1" stroke-dasharray="1 2.1"/><line x1="271.67" y1="581.5" x2="271.67" y2="463.9" stroke="#000" stroke-width="1" stroke-dasharray="1 2.1"/><line x1="299.25" y1="581.5" x2="299.25" y2="463.9" stroke="#000" stroke-width="1" stroke-dasharray="1 2.1"/><line x1="326.83" y1="581.5" x2="326.83" y2="463.9" stroke="#000" stroke-width="1" stroke-dasharray="1 2.1"/><line x1="354.42" y1="581.5" x2="354.42" y2="463.9" stroke="#000" stroke-width="1" stroke-dasharray="1 2.1"/><text x="212.2" y="583.9" font-size="8.6" text-anchor="end" fill="#000">0</text><text x="212.2" y="555.9" font-size="8.6" text-anchor="end" fill="#000">2</text><text x="212.2" y="527.9" font-size="8.6" text-anchor="end" fill="#000">4</text><text x="212.2" y="499.9" font-size="8.6" text-anchor="end" fill="#000">6</text><text x="212.2" y="471.9" font-size="8.6" text-anchor="end" fill="#000">8</text><text x="216.8" y="593" font-size="8.6" text-anchor="middle" fill="#000">0</text><text x="244.38" y="593" font-size="8.6" text-anchor="middle" fill="#000">4</text><text x="271.97" y="593" font-size="8.6" text-anchor="middle" fill="#000">8</text><text x="299.55" y="593" font-size="8.6" text-anchor="middle" fill="#000">12</text><text x="327.13" y="593" font-size="8.6" text-anchor="middle" fill="#000">16</text><text x="354.72" y="593" font-size="8.6" text-anchor="middle" fill="#000">20</text><text x="382.3" y="593" font-size="8.6" text-anchor="middle" fill="#000">24</text><text x="299.45" y="606.6" font-size="9.2" text-anchor="middle" textLength="73.07" lengthAdjust="spacingAndGlyphs" fill="#000" clip-path="url(#lc3)">Central/Western</text></g>
<g><clipPath id="pc32"><rect x="409.5" y="463.9" width="165.5" height="117.6"/></clipPath><g clip-path="url(#pc32)"><polyline points="409.5,554.76 416.4,554.76 423.29,554.76 430.19,554.76 437.08,554.76 443.98,554.76 450.88,554.76 457.77,554.76 464.67,554.76 471.56,517.32 478.46,538.72 485.35,538.72 492.25,549.41 499.15,544.06 506.04,549.41 512.94,554.76 519.83,544.06 526.73,544.06 533.62,538.72 540.52,544.06 547.42,544.06 554.31,544.06 561.21,554.76 568.1,554.76 575,549.41" fill="none" stroke="#00ffff" stroke-width="1.25" stroke-linejoin="round"/><path d="M407.2 554.76h4.6M409.5 552.46v4.6M407.75 553.01l3.5 3.5M407.75 556.51l3.5-3.5M414.1 554.76h4.6M416.4 552.46v4.6M414.65 553.01l3.5 3.5M414.65 556.51l3.5-3.5M420.99 554.76h4.6M423.29 552.46v4.6M421.54 553.01l3.5 3.5M421.54 556.51l3.5-3.5M427.89 554.76h4.6M430.19 552.46v4.6M428.44 553.01l3.5 3.5M428.44 556.51l3.5-3.5M434.78 554.76h4.6M437.08 552.46v4.6M435.33 553.01l3.5 3.5M435.33 556.51l3.5-3.5M441.68 554.76h4.6M443.98 552.46v4.6M442.23 553.01l3.5 3.5M442.23 556.51l3.5-3.5M448.57 554.76h4.6M450.88 552.46v4.6M449.12 553.01l3.5 3.5M449.12 556.51l3.5-3.5M455.47 554.76h4.6M457.77 552.46v4.6M456.02 553.01l3.5 3.5M456.02 556.51l3.5-3.5M462.37 554.76h4.6M464.67 552.46v4.6M462.92 553.01l3.5 3.5M462.92 556.51l3.5-3.5M469.26 517.32h4.6M471.56 515.02v4.6M469.81 515.57l3.5 3.5M469.81 519.07l3.5-3.5M476.16 538.72h4.6M478.46 536.42v4.6M476.71 536.97l3.5 3.5M476.71 540.47l3.5-3.5M483.05 538.72h4.6M485.35 536.42v4.6M483.6 536.97l3.5 3.5M483.6 540.47l3.5-3.5M489.95 549.41h4.6M492.25 547.11v4.6M490.5 547.66l3.5 3.5M490.5 551.16l3.5-3.5M496.85 544.06h4.6M499.15 541.76v4.6M497.4 542.31l3.5 3.5M497.4 545.81l3.5-3.5M503.74 549.41h4.6M506.04 547.11v4.6M504.29 547.66l3.5 3.5M504.29 551.16l3.5-3.5M510.64 554.76h4.6M512.94 552.46v4.6M511.19 553.01l3.5 3.5M511.19 556.51l3.5-3.5M517.53 544.06h4.6M519.83 541.76v4.6M518.08 542.31l3.5 3.5M518.08 545.81l3.5-3.5M524.43 544.06h4.6M526.73 541.76v4.6M524.98 542.31l3.5 3.5M524.98 545.81l3.5-3.5M531.33 538.72h4.6M533.62 536.42v4.6M531.88 536.97l3.5 3.5M531.88 540.47l3.5-3.5M538.22 544.06h4.6M540.52 541.76v4.6M538.77 542.31l3.5 3.5M538.77 545.81l3.5-3.5M545.12 544.06h4.6M547.42 541.76v4.6M545.67 542.31l3.5 3.5M545.67 545.81l3.5-3.5M552.01 544.06h4.6M554.31 541.76v4.6M552.56 542.31l3.5 3.5M552.56 545.81l3.5-3.5M558.91 554.76h4.6M561.21 552.46v4.6M559.46 553.01l3.5 3.5M559.46 556.51l3.5-3.5M565.8 554.76h4.6M568.1 552.46v4.6M566.35 553.01l3.5 3.5M566.35 556.51l3.5-3.5M572.7 549.41h4.6M575 547.11v4.6M573.25 547.66l3.5 3.5M573.25 551.16l3.5-3.5" stroke="#00ffff" stroke-width="1.15" stroke-linecap="round" fill="none"/><polyline points="409.5,549.41 416.4,560.11 423.29,549.41 430.19,549.41 437.08,554.76 443.98,554.76 450.88,554.76 457.77,549.41 464.67,544.06 471.56,538.72 478.46,533.37 485.35,528.02 492.25,544.06 499.15,538.72 506.04,528.02 512.94,517.32 519.83,517.32 526.73,485.24 533.62,517.32 540.52,528.02 547.42,544.06 554.31,549.41 561.21,549.41 568.1,552.09 575,549.41" fill="none" stroke="#00ff00" stroke-width="1.25" stroke-linejoin="round"/><path d="M407.2 549.41h4.6M409.5 547.11v4.6M407.75 547.66l3.5 3.5M407.75 551.16l3.5-3.5M414.1 560.11h4.6M416.4 557.81v4.6M414.65 558.36l3.5 3.5M414.65 561.86l3.5-3.5M420.99 549.41h4.6M423.29 547.11v4.6M421.54 547.66l3.5 3.5M421.54 551.16l3.5-3.5M427.89 549.41h4.6M430.19 547.11v4.6M428.44 547.66l3.5 3.5M428.44 551.16l3.5-3.5M434.78 554.76h4.6M437.08 552.46v4.6M435.33 553.01l3.5 3.5M435.33 556.51l3.5-3.5M441.68 554.76h4.6M443.98 552.46v4.6M442.23 553.01l3.5 3.5M442.23 556.51l3.5-3.5M448.57 554.76h4.6M450.88 552.46v4.6M449.12 553.01l3.5 3.5M449.12 556.51l3.5-3.5M455.47 549.41h4.6M457.77 547.11v4.6M456.02 547.66l3.5 3.5M456.02 551.16l3.5-3.5M462.37 544.06h4.6M464.67 541.76v4.6M462.92 542.31l3.5 3.5M462.92 545.81l3.5-3.5M469.26 538.72h4.6M471.56 536.42v4.6M469.81 536.97l3.5 3.5M469.81 540.47l3.5-3.5M476.16 533.37h4.6M478.46 531.07v4.6M476.71 531.62l3.5 3.5M476.71 535.12l3.5-3.5M483.05 528.02h4.6M485.35 525.72v4.6M483.6 526.27l3.5 3.5M483.6 529.77l3.5-3.5M489.95 544.06h4.6M492.25 541.76v4.6M490.5 542.31l3.5 3.5M490.5 545.81l3.5-3.5M496.85 538.72h4.6M499.15 536.42v4.6M497.4 536.97l3.5 3.5M497.4 540.47l3.5-3.5M503.74 528.02h4.6M506.04 525.72v4.6M504.29 526.27l3.5 3.5M504.29 529.77l3.5-3.5M510.64 517.32h4.6M512.94 515.02v4.6M511.19 515.57l3.5 3.5M511.19 519.07l3.5-3.5M517.53 517.32h4.6M519.83 515.02v4.6M518.08 515.57l3.5 3.5M518.08 519.07l3.5-3.5M524.43 485.24h4.6M526.73 482.94v4.6M524.98 483.49l3.5 3.5M524.98 486.99l3.5-3.5M531.33 517.32h4.6M533.62 515.02v4.6M531.88 515.57l3.5 3.5M531.88 519.07l3.5-3.5M538.22 528.02h4.6M540.52 525.72v4.6M538.77 526.27l3.5 3.5M538.77 529.77l3.5-3.5M545.12 544.06h4.6M547.42 541.76v4.6M545.67 542.31l3.5 3.5M545.67 545.81l3.5-3.5M552.01 549.41h4.6M554.31 547.11v4.6M552.56 547.66l3.5 3.5M552.56 551.16l3.5-3.5M558.91 549.41h4.6M561.21 547.11v4.6M559.46 547.66l3.5 3.5M559.46 551.16l3.5-3.5M565.8 552.09h4.6M568.1 549.79v4.6M566.35 550.34l3.5 3.5M566.35 553.84l3.5-3.5M572.7 549.41h4.6M575 547.11v4.6M573.25 547.66l3.5 3.5M573.25 551.16l3.5-3.5" stroke="#00ff00" stroke-width="1.15" stroke-linecap="round" fill="none"/><polyline points="409.5,549.41 416.4,549.41 423.29,554.76 430.19,549.41 437.08,549.41 443.98,554.76 450.88,560.11 457.77,554.76 464.67,554.76 471.56,538.72 478.46,544.06 485.35,533.37 492.25,528.02 499.15,522.67 506.04,538.72 512.94,538.72 519.83,538.72 526.73,528.02 533.62,517.32 540.52,517.32 547.42,522.67 554.31,533.37 561.21,538.72 568.1,544.06 575,544.06" fill="none" stroke="#0000ff" stroke-width="1.25" stroke-linejoin="round"/><path d="M407.2 549.41h4.6M409.5 547.11v4.6M407.75 547.66l3.5 3.5M407.75 551.16l3.5-3.5M414.1 549.41h4.6M416.4 547.11v4.6M414.65 547.66l3.5 3.5M414.65 551.16l3.5-3.5M420.99 554.76h4.6M423.29 552.46v4.6M421.54 553.01l3.5 3.5M421.54 556.51l3.5-3.5M427.89 549.41h4.6M430.19 547.11v4.6M428.44 547.66l3.5 3.5M428.44 551.16l3.5-3.5M434.78 549.41h4.6M437.08 547.11v4.6M435.33 547.66l3.5 3.5M435.33 551.16l3.5-3.5M441.68 554.76h4.6M443.98 552.46v4.6M442.23 553.01l3.5 3.5M442.23 556.51l3.5-3.5M448.57 560.11h4.6M450.88 557.81v4.6M449.12 558.36l3.5 3.5M449.12 561.86l3.5-3.5M455.47 554.76h4.6M457.77 552.46v4.6M456.02 553.01l3.5 3.5M456.02 556.51l3.5-3.5M462.37 554.76h4.6M464.67 552.46v4.6M462.92 553.01l3.5 3.5M462.92 556.51l3.5-3.5M469.26 538.72h4.6M471.56 536.42v4.6M469.81 536.97l3.5 3.5M469.81 540.47l3.5-3.5M476.16 544.06h4.6M478.46 541.76v4.6M476.71 542.31l3.5 3.5M476.71 545.81l3.5-3.5M483.05 533.37h4.6M485.35 531.07v4.6M483.6 531.62l3.5 3.5M483.6 535.12l3.5-3.5M489.95 528.02h4.6M492.25 525.72v4.6M490.5 526.27l3.5 3.5M490.5 529.77l3.5-3.5M496.85 522.67h4.6M499.15 520.37v4.6M497.4 520.92l3.5 3.5M497.4 524.42l3.5-3.5M503.74 538.72h4.6M506.04 536.42v4.6M504.29 536.97l3.5 3.5M504.29 540.47l3.5-3.5M510.64 538.72h4.6M512.94 536.42v4.6M511.19 536.97l3.5 3.5M511.19 540.47l3.5-3.5M517.53 538.72h4.6M519.83 536.42v4.6M518.08 536.97l3.5 3.5M518.08 540.47l3.5-3.5M524.43 528.02h4.6M526.73 525.72v4.6M524.98 526.27l3.5 3.5M524.98 529.77l3.5-3.5M531.33 517.32h4.6M533.62 515.02v4.6M531.88 515.57l3.5 3.5M531.88 519.07l3.5-3.5M538.22 517.32h4.6M540.52 515.02v4.6M538.77 515.57l3.5 3.5M538.77 519.07l3.5-3.5M545.12 522.67h4.6M547.42 520.37v4.6M545.67 520.92l3.5 3.5M545.67 524.42l3.5-3.5M552.01 533.37h4.6M554.31 531.07v4.6M552.56 531.62l3.5 3.5M552.56 535.12l3.5-3.5M558.91 538.72h4.6M561.21 536.42v4.6M559.46 536.97l3.5 3.5M559.46 540.47l3.5-3.5M565.8 544.06h4.6M568.1 541.76v4.6M566.35 542.31l3.5 3.5M566.35 545.81l3.5-3.5M572.7 544.06h4.6M575 541.76v4.6M573.25 542.31l3.5 3.5M573.25 545.81l3.5-3.5" stroke="#0000ff" stroke-width="1.15" stroke-linecap="round" fill="none"/><polyline points="409.5,544.06 416.4,544.06 423.29,538.72 430.19,538.72 437.08,538.72 443.98,522.67 450.88,517.32 457.77,528.02 464.67,538.72 471.56,533.37 478.46,533.37 485.35,511.98 492.25,522.67 499.15,522.67 506.04,544.06 512.94,533.37 519.83,517.32 526.73,533.37 533.62,517.32 540.52,522.67 547.42,533.37 554.31,538.72 561.21,549.41 568.1,554.76 575,554.76" fill="none" stroke="#ff0000" stroke-width="1.25" stroke-linejoin="round"/><path d="M407.2 544.06h4.6M409.5 541.76v4.6M407.75 542.31l3.5 3.5M407.75 545.81l3.5-3.5M414.1 544.06h4.6M416.4 541.76v4.6M414.65 542.31l3.5 3.5M414.65 545.81l3.5-3.5M420.99 538.72h4.6M423.29 536.42v4.6M421.54 536.97l3.5 3.5M421.54 540.47l3.5-3.5M427.89 538.72h4.6M430.19 536.42v4.6M428.44 536.97l3.5 3.5M428.44 540.47l3.5-3.5M434.78 538.72h4.6M437.08 536.42v4.6M435.33 536.97l3.5 3.5M435.33 540.47l3.5-3.5M441.68 522.67h4.6M443.98 520.37v4.6M442.23 520.92l3.5 3.5M442.23 524.42l3.5-3.5M448.57 517.32h4.6M450.88 515.02v4.6M449.12 515.57l3.5 3.5M449.12 519.07l3.5-3.5M455.47 528.02h4.6M457.77 525.72v4.6M456.02 526.27l3.5 3.5M456.02 529.77l3.5-3.5M462.37 538.72h4.6M464.67 536.42v4.6M462.92 536.97l3.5 3.5M462.92 540.47l3.5-3.5M469.26 533.37h4.6M471.56 531.07v4.6M469.81 531.62l3.5 3.5M469.81 535.12l3.5-3.5M476.16 533.37h4.6M478.46 531.07v4.6M476.71 531.62l3.5 3.5M476.71 535.12l3.5-3.5M483.05 511.98h4.6M485.35 509.68v4.6M483.6 510.23l3.5 3.5M483.6 513.73l3.5-3.5M489.95 522.67h4.6M492.25 520.37v4.6M490.5 520.92l3.5 3.5M490.5 524.42l3.5-3.5M496.85 522.67h4.6M499.15 520.37v4.6M497.4 520.92l3.5 3.5M497.4 524.42l3.5-3.5M503.74 544.06h4.6M506.04 541.76v4.6M504.29 542.31l3.5 3.5M504.29 545.81l3.5-3.5M510.64 533.37h4.6M512.94 531.07v4.6M511.19 531.62l3.5 3.5M511.19 535.12l3.5-3.5M517.53 517.32h4.6M519.83 515.02v4.6M518.08 515.57l3.5 3.5M518.08 519.07l3.5-3.5M524.43 533.37h4.6M526.73 531.07v4.6M524.98 531.62l3.5 3.5M524.98 535.12l3.5-3.5M531.33 517.32h4.6M533.62 515.02v4.6M531.88 515.57l3.5 3.5M531.88 519.07l3.5-3.5M538.22 522.67h4.6M540.52 520.37v4.6M538.77 520.92l3.5 3.5M538.77 524.42l3.5-3.5M545.12 533.37h4.6M547.42 531.07v4.6M545.67 531.62l3.5 3.5M545.67 535.12l3.5-3.5M552.01 538.72h4.6M554.31 536.42v4.6M552.56 536.97l3.5 3.5M552.56 540.47l3.5-3.5M558.91 549.41h4.6M561.21 547.11v4.6M559.46 547.66l3.5 3.5M559.46 551.16l3.5-3.5M565.8 554.76h4.6M568.1 552.46v4.6M566.35 553.01l3.5 3.5M566.35 556.51l3.5-3.5M572.7 554.76h4.6M575 552.46v4.6M573.25 553.01l3.5 3.5M573.25 556.51l3.5-3.5" stroke="#ff0000" stroke-width="1.15" stroke-linecap="round" fill="none"/></g><path d="M409.5 581.5v-4M409.5 463.9v4M423.29 581.5v-4M423.29 463.9v4M437.08 581.5v-4M437.08 463.9v4M450.88 581.5v-4M450.88 463.9v4M464.67 581.5v-4M464.67 463.9v4M478.46 581.5v-4M478.46 463.9v4M492.25 581.5v-4M492.25 463.9v4M506.04 581.5v-4M506.04 463.9v4M519.83 581.5v-4M519.83 463.9v4M533.62 581.5v-4M533.62 463.9v4M547.42 581.5v-4M547.42 463.9v4M561.21 581.5v-4M561.21 463.9v4M575 581.5v-4M575 463.9v4M409.5 581.5h5.5M575 581.5h-5.5M409.5 567.5h4M575 567.5h-4M409.5 553.5h5.5M575 553.5h-5.5M409.5 539.5h4M575 539.5h-4M409.5 525.5h5.5M575 525.5h-5.5M409.5 511.5h4M575 511.5h-4M409.5 497.5h5.5M575 497.5h-5.5M409.5 483.5h4M575 483.5h-4M409.5 469.5h5.5M575 469.5h-5.5" stroke="#ff0000" stroke-width="1" fill="none"/><rect x="409" y="463" width="1" height="120.1" fill="#ff0000"/><rect x="574" y="463" width="2" height="120.1" fill="#ff0000"/><rect x="409" y="463" width="167" height="2" fill="#ff0000"/><rect x="409" y="581" width="167" height="1.6" fill="#ff0000"/><line x1="409.5" y1="553.5" x2="575" y2="553.5" stroke="#000" stroke-width="1" stroke-dasharray="1 2.1"/><line x1="409.5" y1="525.5" x2="575" y2="525.5" stroke="#000" stroke-width="1" stroke-dasharray="1 2.1"/><line x1="409.5" y1="497.5" x2="575" y2="497.5" stroke="#000" stroke-width="1" stroke-dasharray="1 2.1"/><line x1="409.5" y1="469.5" x2="575" y2="469.5" stroke="#000" stroke-width="1" stroke-dasharray="1 2.1"/><line x1="437.08" y1="581.5" x2="437.08" y2="463.9" stroke="#000" stroke-width="1" stroke-dasharray="1 2.1"/><line x1="464.67" y1="581.5" x2="464.67" y2="463.9" stroke="#000" stroke-width="1" stroke-dasharray="1 2.1"/><line x1="492.25" y1="581.5" x2="492.25" y2="463.9" stroke="#000" stroke-width="1" stroke-dasharray="1 2.1"/><line x1="519.83" y1="581.5" x2="519.83" y2="463.9" stroke="#000" stroke-width="1" stroke-dasharray="1 2.1"/><line x1="547.42" y1="581.5" x2="547.42" y2="463.9" stroke="#000" stroke-width="1" stroke-dasharray="1 2.1"/><text x="405.2" y="583.9" font-size="8.6" text-anchor="end" fill="#ff0000">0</text><text x="405.2" y="555.9" font-size="8.6" text-anchor="end" fill="#ff0000">2</text><text x="405.2" y="527.9" font-size="8.6" text-anchor="end" fill="#ff0000">4</text><text x="405.2" y="499.9" font-size="8.6" text-anchor="end" fill="#ff0000">6</text><text x="405.2" y="471.9" font-size="8.6" text-anchor="end" fill="#ff0000">8</text><text x="409.8" y="593" font-size="8.6" text-anchor="middle" fill="#ff0000">0</text><text x="437.38" y="593" font-size="8.6" text-anchor="middle" fill="#ff0000">4</text><text x="464.97" y="593" font-size="8.6" text-anchor="middle" fill="#ff0000">8</text><text x="492.55" y="593" font-size="8.6" text-anchor="middle" fill="#ff0000">12</text><text x="520.13" y="593" font-size="8.6" text-anchor="middle" fill="#ff0000">16</text><text x="547.72" y="593" font-size="8.6" text-anchor="middle" fill="#ff0000">20</text><text x="575.3" y="593" font-size="8.6" text-anchor="middle" fill="#ff0000">24</text><text x="492.45" y="606.6" font-size="9.2" text-anchor="middle" textLength="33.44" lengthAdjust="spacingAndGlyphs" fill="#ff0000" clip-path="url(#lc3)">Central</text></g>
<g><clipPath id="pc33"><rect x="602.5" y="463.9" width="165.5" height="117.6"/></clipPath><g clip-path="url(#pc33)"><polyline points="602.5,544.06 609.4,554.76 616.29,554.76 623.19,560.11 630.08,560.11 636.98,557.43 643.88,554.76 650.77,549.41 657.67,549.41 664.56,549.41 671.46,544.06 678.35,544.06 685.25,544.06 692.15,533.37 699.04,544.06 705.94,549.41 712.83,549.41 719.73,544.06 726.62,538.72 733.52,533.37 740.42,549.41 747.31,538.72 754.21,544.06 761.1,546.74 768,549.41" fill="none" stroke="#00ffff" stroke-width="1.25" stroke-linejoin="round"/><path d="M600.2 544.06h4.6M602.5 541.76v4.6M600.75 542.31l3.5 3.5M600.75 545.81l3.5-3.5M607.1 554.76h4.6M609.4 552.46v4.6M607.65 553.01l3.5 3.5M607.65 556.51l3.5-3.5M613.99 554.76h4.6M616.29 552.46v4.6M614.54 553.01l3.5 3.5M614.54 556.51l3.5-3.5M620.89 560.11h4.6M623.19 557.81v4.6M621.44 558.36l3.5 3.5M621.44 561.86l3.5-3.5M627.78 560.11h4.6M630.08 557.81v4.6M628.33 558.36l3.5 3.5M628.33 561.86l3.5-3.5M634.68 557.43h4.6M636.98 555.13v4.6M635.23 555.68l3.5 3.5M635.23 559.18l3.5-3.5M641.58 554.76h4.6M643.88 552.46v4.6M642.12 553.01l3.5 3.5M642.12 556.51l3.5-3.5M648.47 549.41h4.6M650.77 547.11v4.6M649.02 547.66l3.5 3.5M649.02 551.16l3.5-3.5M655.37 549.41h4.6M657.67 547.11v4.6M655.92 547.66l3.5 3.5M655.92 551.16l3.5-3.5M662.26 549.41h4.6M664.56 547.11v4.6M662.81 547.66l3.5 3.5M662.81 551.16l3.5-3.5M669.16 544.06h4.6M671.46 541.76v4.6M669.71 542.31l3.5 3.5M669.71 545.81l3.5-3.5M676.05 544.06h4.6M678.35 541.76v4.6M676.6 542.31l3.5 3.5M676.6 545.81l3.5-3.5M682.95 544.06h4.6M685.25 541.76v4.6M683.5 542.31l3.5 3.5M683.5 545.81l3.5-3.5M689.85 533.37h4.6M692.15 531.07v4.6M690.4 531.62l3.5 3.5M690.4 535.12l3.5-3.5M696.74 544.06h4.6M699.04 541.76v4.6M697.29 542.31l3.5 3.5M697.29 545.81l3.5-3.5M703.64 549.41h4.6M705.94 547.11v4.6M704.19 547.66l3.5 3.5M704.19 551.16l3.5-3.5M710.53 549.41h4.6M712.83 547.11v4.6M711.08 547.66l3.5 3.5M711.08 551.16l3.5-3.5M717.43 544.06h4.6M719.73 541.76v4.6M717.98 542.31l3.5 3.5M717.98 545.81l3.5-3.5M724.33 538.72h4.6M726.62 536.42v4.6M724.88 536.97l3.5 3.5M724.88 540.47l3.5-3.5M731.22 533.37h4.6M733.52 531.07v4.6M731.77 531.62l3.5 3.5M731.77 535.12l3.5-3.5M738.12 549.41h4.6M740.42 547.11v4.6M738.67 547.66l3.5 3.5M738.67 551.16l3.5-3.5M745.01 538.72h4.6M747.31 536.42v4.6M745.56 536.97l3.5 3.5M745.56 540.47l3.5-3.5M751.91 544.06h4.6M754.21 541.76v4.6M752.46 542.31l3.5 3.5M752.46 545.81l3.5-3.5M758.8 546.74h4.6M761.1 544.44v4.6M759.35 544.99l3.5 3.5M759.35 548.49l3.5-3.5M765.7 549.41h4.6M768 547.11v4.6M766.25 547.66l3.5 3.5M766.25 551.16l3.5-3.5" stroke="#00ffff" stroke-width="1.15" stroke-linecap="round" fill="none"/><polyline points="602.5,549.41 609.4,544.06 616.29,549.41 623.19,554.76 630.08,554.76 636.98,554.76 643.88,554.76 650.77,549.41 657.67,538.72 664.56,538.72 671.46,538.72 678.35,533.37 685.25,538.72 692.15,544.06 699.04,533.37 705.94,522.67 712.83,517.32 719.73,501.28 726.62,544.06 733.52,554.76 740.42,554.76 747.31,560.11 754.21,554.76 761.1,544.06 768,544.06" fill="none" stroke="#00ff00" stroke-width="1.25" stroke-linejoin="round"/><path d="M600.2 549.41h4.6M602.5 547.11v4.6M600.75 547.66l3.5 3.5M600.75 551.16l3.5-3.5M607.1 544.06h4.6M609.4 541.76v4.6M607.65 542.31l3.5 3.5M607.65 545.81l3.5-3.5M613.99 549.41h4.6M616.29 547.11v4.6M614.54 547.66l3.5 3.5M614.54 551.16l3.5-3.5M620.89 554.76h4.6M623.19 552.46v4.6M621.44 553.01l3.5 3.5M621.44 556.51l3.5-3.5M627.78 554.76h4.6M630.08 552.46v4.6M628.33 553.01l3.5 3.5M628.33 556.51l3.5-3.5M634.68 554.76h4.6M636.98 552.46v4.6M635.23 553.01l3.5 3.5M635.23 556.51l3.5-3.5M641.58 554.76h4.6M643.88 552.46v4.6M642.12 553.01l3.5 3.5M642.12 556.51l3.5-3.5M648.47 549.41h4.6M650.77 547.11v4.6M649.02 547.66l3.5 3.5M649.02 551.16l3.5-3.5M655.37 538.72h4.6M657.67 536.42v4.6M655.92 536.97l3.5 3.5M655.92 540.47l3.5-3.5M662.26 538.72h4.6M664.56 536.42v4.6M662.81 536.97l3.5 3.5M662.81 540.47l3.5-3.5M669.16 538.72h4.6M671.46 536.42v4.6M669.71 536.97l3.5 3.5M669.71 540.47l3.5-3.5M676.05 533.37h4.6M678.35 531.07v4.6M676.6 531.62l3.5 3.5M676.6 535.12l3.5-3.5M682.95 538.72h4.6M685.25 536.42v4.6M683.5 536.97l3.5 3.5M683.5 540.47l3.5-3.5M689.85 544.06h4.6M692.15 541.76v4.6M690.4 542.31l3.5 3.5M690.4 545.81l3.5-3.5M696.74 533.37h4.6M699.04 531.07v4.6M697.29 531.62l3.5 3.5M697.29 535.12l3.5-3.5M703.64 522.67h4.6M705.94 520.37v4.6M704.19 520.92l3.5 3.5M704.19 524.42l3.5-3.5M710.53 517.32h4.6M712.83 515.02v4.6M711.08 515.57l3.5 3.5M711.08 519.07l3.5-3.5M717.43 501.28h4.6M719.73 498.98v4.6M717.98 499.53l3.5 3.5M717.98 503.03l3.5-3.5M724.33 544.06h4.6M726.62 541.76v4.6M724.88 542.31l3.5 3.5M724.88 545.81l3.5-3.5M731.22 554.76h4.6M733.52 552.46v4.6M731.77 553.01l3.5 3.5M731.77 556.51l3.5-3.5M738.12 554.76h4.6M740.42 552.46v4.6M738.67 553.01l3.5 3.5M738.67 556.51l3.5-3.5M745.01 560.11h4.6M747.31 557.81v4.6M745.56 558.36l3.5 3.5M745.56 561.86l3.5-3.5M751.91 554.76h4.6M754.21 552.46v4.6M752.46 553.01l3.5 3.5M752.46 556.51l3.5-3.5M758.8 544.06h4.6M761.1 541.76v4.6M759.35 542.31l3.5 3.5M759.35 545.81l3.5-3.5M765.7 544.06h4.6M768 541.76v4.6M766.25 542.31l3.5 3.5M766.25 545.81l3.5-3.5" stroke="#00ff00" stroke-width="1.15" stroke-linecap="round" fill="none"/><polyline points="609.4,549.41 616.29,549.41 623.19,554.76 630.08,554.76 636.98,560.11 643.88,560.11 650.77,549.41 657.67,533.37 664.56,538.72 671.46,533.37 678.35,538.72 685.25,511.98 692.15,528.02 699.04,538.72 705.94,533.37 712.83,528.02 719.73,522.67 726.62,517.32 733.52,517.32 740.42,538.72 747.31,544.06 754.21,538.72 761.1,538.72 768,533.37" fill="none" stroke="#0000ff" stroke-width="1.25" stroke-linejoin="round"/><path d="M607.1 549.41h4.6M609.4 547.11v4.6M607.65 547.66l3.5 3.5M607.65 551.16l3.5-3.5M613.99 549.41h4.6M616.29 547.11v4.6M614.54 547.66l3.5 3.5M614.54 551.16l3.5-3.5M620.89 554.76h4.6M623.19 552.46v4.6M621.44 553.01l3.5 3.5M621.44 556.51l3.5-3.5M627.78 554.76h4.6M630.08 552.46v4.6M628.33 553.01l3.5 3.5M628.33 556.51l3.5-3.5M634.68 560.11h4.6M636.98 557.81v4.6M635.23 558.36l3.5 3.5M635.23 561.86l3.5-3.5M641.58 560.11h4.6M643.88 557.81v4.6M642.12 558.36l3.5 3.5M642.12 561.86l3.5-3.5M648.47 549.41h4.6M650.77 547.11v4.6M649.02 547.66l3.5 3.5M649.02 551.16l3.5-3.5M655.37 533.37h4.6M657.67 531.07v4.6M655.92 531.62l3.5 3.5M655.92 535.12l3.5-3.5M662.26 538.72h4.6M664.56 536.42v4.6M662.81 536.97l3.5 3.5M662.81 540.47l3.5-3.5M669.16 533.37h4.6M671.46 531.07v4.6M669.71 531.62l3.5 3.5M669.71 535.12l3.5-3.5M676.05 538.72h4.6M678.35 536.42v4.6M676.6 536.97l3.5 3.5M676.6 540.47l3.5-3.5M682.95 511.98h4.6M685.25 509.68v4.6M683.5 510.23l3.5 3.5M683.5 513.73l3.5-3.5M689.85 528.02h4.6M692.15 525.72v4.6M690.4 526.27l3.5 3.5M690.4 529.77l3.5-3.5M696.74 538.72h4.6M699.04 536.42v4.6M697.29 536.97l3.5 3.5M697.29 540.47l3.5-3.5M703.64 533.37h4.6M705.94 531.07v4.6M704.19 531.62l3.5 3.5M704.19 535.12l3.5-3.5M710.53 528.02h4.6M712.83 525.72v4.6M711.08 526.27l3.5 3.5M711.08 529.77l3.5-3.5M717.43 522.67h4.6M719.73 520.37v4.6M717.98 520.92l3.5 3.5M717.98 524.42l3.5-3.5M724.33 517.32h4.6M726.62 515.02v4.6M724.88 515.57l3.5 3.5M724.88 519.07l3.5-3.5M731.22 517.32h4.6M733.52 515.02v4.6M731.77 515.57l3.5 3.5M731.77 519.07l3.5-3.5M738.12 538.72h4.6M740.42 536.42v4.6M738.67 536.97l3.5 3.5M738.67 540.47l3.5-3.5M745.01 544.06h4.6M747.31 541.76v4.6M745.56 542.31l3.5 3.5M745.56 545.81l3.5-3.5M751.91 538.72h4.6M754.21 536.42v4.6M752.46 536.97l3.5 3.5M752.46 540.47l3.5-3.5M758.8 538.72h4.6M761.1 536.42v4.6M759.35 536.97l3.5 3.5M759.35 540.47l3.5-3.5M765.7 533.37h4.6M768 531.07v4.6M766.25 531.62l3.5 3.5M766.25 535.12l3.5-3.5" stroke="#0000ff" stroke-width="1.15" stroke-linecap="round" fill="none"/><polyline points="602.5,533.37 609.4,533.37 616.29,544.06 623.19,549.41 636.98,533.37 643.88,517.32 650.77,528.02 657.67,538.72 664.56,528.02 671.46,517.32 678.35,517.32 685.25,517.32 692.15,506.63 699.04,511.98 705.94,485.24 712.83,528.02 719.73,538.72 726.62,533.37 733.52,511.98 740.42,511.98 747.31,517.32 754.21,538.72 761.1,533.37 768,538.72" fill="none" stroke="#ff0000" stroke-width="1.25" stroke-linejoin="round"/><path d="M600.2 533.37h4.6M602.5 531.07v4.6M600.75 531.62l3.5 3.5M600.75 535.12l3.5-3.5M607.1 533.37h4.6M609.4 531.07v4.6M607.65 531.62l3.5 3.5M607.65 535.12l3.5-3.5M613.99 544.06h4.6M616.29 541.76v4.6M614.54 542.31l3.5 3.5M614.54 545.81l3.5-3.5M620.89 549.41h4.6M623.19 547.11v4.6M621.44 547.66l3.5 3.5M621.44 551.16l3.5-3.5M634.68 533.37h4.6M636.98 531.07v4.6M635.23 531.62l3.5 3.5M635.23 535.12l3.5-3.5M641.58 517.32h4.6M643.88 515.02v4.6M642.12 515.57l3.5 3.5M642.12 519.07l3.5-3.5M648.47 528.02h4.6M650.77 525.72v4.6M649.02 526.27l3.5 3.5M649.02 529.77l3.5-3.5M655.37 538.72h4.6M657.67 536.42v4.6M655.92 536.97l3.5 3.5M655.92 540.47l3.5-3.5M662.26 528.02h4.6M664.56 525.72v4.6M662.81 526.27l3.5 3.5M662.81 529.77l3.5-3.5M669.16 517.32h4.6M671.46 515.02v4.6M669.71 515.57l3.5 3.5M669.71 519.07l3.5-3.5M676.05 517.32h4.6M678.35 515.02v4.6M676.6 515.57l3.5 3.5M676.6 519.07l3.5-3.5M682.95 517.32h4.6M685.25 515.02v4.6M683.5 515.57l3.5 3.5M683.5 519.07l3.5-3.5M689.85 506.63h4.6M692.15 504.33v4.6M690.4 504.88l3.5 3.5M690.4 508.38l3.5-3.5M696.74 511.98h4.6M699.04 509.68v4.6M697.29 510.23l3.5 3.5M697.29 513.73l3.5-3.5M703.64 485.24h4.6M705.94 482.94v4.6M704.19 483.49l3.5 3.5M704.19 486.99l3.5-3.5M710.53 528.02h4.6M712.83 525.72v4.6M711.08 526.27l3.5 3.5M711.08 529.77l3.5-3.5M717.43 538.72h4.6M719.73 536.42v4.6M717.98 536.97l3.5 3.5M717.98 540.47l3.5-3.5M724.33 533.37h4.6M726.62 531.07v4.6M724.88 531.62l3.5 3.5M724.88 535.12l3.5-3.5M731.22 511.98h4.6M733.52 509.68v4.6M731.77 510.23l3.5 3.5M731.77 513.73l3.5-3.5M738.12 511.98h4.6M740.42 509.68v4.6M738.67 510.23l3.5 3.5M738.67 513.73l3.5-3.5M745.01 517.32h4.6M747.31 515.02v4.6M745.56 515.57l3.5 3.5M745.56 519.07l3.5-3.5M751.91 538.72h4.6M754.21 536.42v4.6M752.46 536.97l3.5 3.5M752.46 540.47l3.5-3.5M758.8 533.37h4.6M761.1 531.07v4.6M759.35 531.62l3.5 3.5M759.35 535.12l3.5-3.5M765.7 538.72h4.6M768 536.42v4.6M766.25 536.97l3.5 3.5M766.25 540.47l3.5-3.5" stroke="#ff0000" stroke-width="1.15" stroke-linecap="round" fill="none"/></g><path d="M602.5 581.5v-4M602.5 463.9v4M616.29 581.5v-4M616.29 463.9v4M630.08 581.5v-4M630.08 463.9v4M643.88 581.5v-4M643.88 463.9v4M657.67 581.5v-4M657.67 463.9v4M671.46 581.5v-4M671.46 463.9v4M685.25 581.5v-4M685.25 463.9v4M699.04 581.5v-4M699.04 463.9v4M712.83 581.5v-4M712.83 463.9v4M726.62 581.5v-4M726.62 463.9v4M740.42 581.5v-4M740.42 463.9v4M754.21 581.5v-4M754.21 463.9v4M768 581.5v-4M768 463.9v4M602.5 581.5h5.5M768 581.5h-5.5M602.5 567.5h4M768 567.5h-4M602.5 553.5h5.5M768 553.5h-5.5M602.5 539.5h4M768 539.5h-4M602.5 525.5h5.5M768 525.5h-5.5M602.5 511.5h4M768 511.5h-4M602.5 497.5h5.5M768 497.5h-5.5M602.5 483.5h4M768 483.5h-4M602.5 469.5h5.5M768 469.5h-5.5" stroke="#ff0000" stroke-width="1" fill="none"/><rect x="602" y="463" width="1" height="120.1" fill="#ff0000"/><rect x="767" y="463" width="2" height="120.1" fill="#ff0000"/><rect x="602" y="463" width="167" height="2" fill="#ff0000"/><rect x="602" y="581" width="167" height="1.6" fill="#ff0000"/><line x1="602.5" y1="553.5" x2="768" y2="553.5" stroke="#000" stroke-width="1" stroke-dasharray="1 2.1"/><line x1="602.5" y1="525.5" x2="768" y2="525.5" stroke="#000" stroke-width="1" stroke-dasharray="1 2.1"/><line x1="602.5" y1="497.5" x2="768" y2="497.5" stroke="#000" stroke-width="1" stroke-dasharray="1 2.1"/><line x1="602.5" y1="469.5" x2="768" y2="469.5" stroke="#000" stroke-width="1" stroke-dasharray="1 2.1"/><line x1="630.08" y1="581.5" x2="630.08" y2="463.9" stroke="#000" stroke-width="1" stroke-dasharray="1 2.1"/><line x1="657.67" y1="581.5" x2="657.67" y2="463.9" stroke="#000" stroke-width="1" stroke-dasharray="1 2.1"/><line x1="685.25" y1="581.5" x2="685.25" y2="463.9" stroke="#000" stroke-width="1" stroke-dasharray="1 2.1"/><line x1="712.83" y1="581.5" x2="712.83" y2="463.9" stroke="#000" stroke-width="1" stroke-dasharray="1 2.1"/><line x1="740.42" y1="581.5" x2="740.42" y2="463.9" stroke="#000" stroke-width="1" stroke-dasharray="1 2.1"/><text x="598.2" y="583.9" font-size="8.6" text-anchor="end" fill="#ff0000">0</text><text x="598.2" y="555.9" font-size="8.6" text-anchor="end" fill="#ff0000">2</text><text x="598.2" y="527.9" font-size="8.6" text-anchor="end" fill="#ff0000">4</text><text x="598.2" y="499.9" font-size="8.6" text-anchor="end" fill="#ff0000">6</text><text x="598.2" y="471.9" font-size="8.6" text-anchor="end" fill="#ff0000">8</text><text x="602.8" y="593" font-size="8.6" text-anchor="middle" fill="#ff0000">0</text><text x="630.38" y="593" font-size="8.6" text-anchor="middle" fill="#ff0000">4</text><text x="657.97" y="593" font-size="8.6" text-anchor="middle" fill="#ff0000">8</text><text x="685.55" y="593" font-size="8.6" text-anchor="middle" fill="#ff0000">12</text><text x="713.13" y="593" font-size="8.6" text-anchor="middle" fill="#ff0000">16</text><text x="740.72" y="593" font-size="8.6" text-anchor="middle" fill="#ff0000">20</text><text x="768.3" y="593" font-size="8.6" text-anchor="middle" fill="#ff0000">24</text><text x="685.45" y="606.6" font-size="9.2" text-anchor="middle" textLength="63.12" lengthAdjust="spacingAndGlyphs" fill="#ff0000" clip-path="url(#lc3)">Causeway Bay</text></g>
<g><clipPath id="pc34"><rect x="795.5" y="463.9" width="165.5" height="117.6"/></clipPath><g clip-path="url(#pc34)"><polyline points="795.5,570.8 802.4,570.8 809.29,570.8 816.19,570.8 823.08,570.8 829.98,570.8 836.88,570.8 843.77,570.8 850.67,576.15 857.56,576.15 864.46,576.15 871.35,576.15 878.25,576.15 885.15,576.15 892.04,576.15 898.94,570.8 905.83,570.8 912.73,570.8 919.62,570.8 926.52,570.8 933.42,570.8 940.31,576.15 947.21,576.15 954.1,570.8 961,570.8" fill="none" stroke="#00ffff" stroke-width="1.25" stroke-linejoin="round"/><path d="M793.2 570.8h4.6M795.5 568.5v4.6M793.75 569.05l3.5 3.5M793.75 572.55l3.5-3.5M800.1 570.8h4.6M802.4 568.5v4.6M800.65 569.05l3.5 3.5M800.65 572.55l3.5-3.5M806.99 570.8h4.6M809.29 568.5v4.6M807.54 569.05l3.5 3.5M807.54 572.55l3.5-3.5M813.89 570.8h4.6M816.19 568.5v4.6M814.44 569.05l3.5 3.5M814.44 572.55l3.5-3.5M820.78 570.8h4.6M823.08 568.5v4.6M821.33 569.05l3.5 3.5M821.33 572.55l3.5-3.5M827.68 570.8h4.6M829.98 568.5v4.6M828.23 569.05l3.5 3.5M828.23 572.55l3.5-3.5M834.58 570.8h4.6M836.88 568.5v4.6M835.12 569.05l3.5 3.5M835.12 572.55l3.5-3.5M841.47 570.8h4.6M843.77 568.5v4.6M842.02 569.05l3.5 3.5M842.02 572.55l3.5-3.5M848.37 576.15h4.6M850.67 573.85v4.6M848.92 574.4l3.5 3.5M848.92 577.9l3.5-3.5M855.26 576.15h4.6M857.56 573.85v4.6M855.81 574.4l3.5 3.5M855.81 577.9l3.5-3.5M862.16 576.15h4.6M864.46 573.85v4.6M862.71 574.4l3.5 3.5M862.71 577.9l3.5-3.5M869.05 576.15h4.6M871.35 573.85v4.6M869.6 574.4l3.5 3.5M869.6 577.9l3.5-3.5M875.95 576.15h4.6M878.25 573.85v4.6M876.5 574.4l3.5 3.5M876.5 577.9l3.5-3.5M882.85 576.15h4.6M885.15 573.85v4.6M883.4 574.4l3.5 3.5M883.4 577.9l3.5-3.5M889.74 576.15h4.6M892.04 573.85v4.6M890.29 574.4l3.5 3.5M890.29 577.9l3.5-3.5M896.64 570.8h4.6M898.94 568.5v4.6M897.19 569.05l3.5 3.5M897.19 572.55l3.5-3.5M903.53 570.8h4.6M905.83 568.5v4.6M904.08 569.05l3.5 3.5M904.08 572.55l3.5-3.5M910.43 570.8h4.6M912.73 568.5v4.6M910.98 569.05l3.5 3.5M910.98 572.55l3.5-3.5M917.33 570.8h4.6M919.62 568.5v4.6M917.88 569.05l3.5 3.5M917.88 572.55l3.5-3.5M924.22 570.8h4.6M926.52 568.5v4.6M924.77 569.05l3.5 3.5M924.77 572.55l3.5-3.5M931.12 570.8h4.6M933.42 568.5v4.6M931.67 569.05l3.5 3.5M931.67 572.55l3.5-3.5M938.01 576.15h4.6M940.31 573.85v4.6M938.56 574.4l3.5 3.5M938.56 577.9l3.5-3.5M944.91 576.15h4.6M947.21 573.85v4.6M945.46 574.4l3.5 3.5M945.46 577.9l3.5-3.5M951.8 570.8h4.6M954.1 568.5v4.6M952.35 569.05l3.5 3.5M952.35 572.55l3.5-3.5M958.7 570.8h4.6M961 568.5v4.6M959.25 569.05l3.5 3.5M959.25 572.55l3.5-3.5" stroke="#00ffff" stroke-width="1.15" stroke-linecap="round" fill="none"/><polyline points="795.5,570.8 802.4,576.15 809.29,576.15 816.19,576.15 823.08,576.15 829.98,576.15 836.88,576.15 843.77,581.5 850.67,576.15 857.56,576.15 864.46,576.15 871.35,581.5 878.25,581.5 885.15,581.5 892.04,576.15 898.94,576.15 905.83,576.15 912.73,576.15 919.62,576.15 926.52,576.15 933.42,576.15 940.31,570.8 947.21,570.8 954.1,570.8 961,570.8" fill="none" stroke="#00ff00" stroke-width="1.25" stroke-linejoin="round"/><path d="M793.2 570.8h4.6M795.5 568.5v4.6M793.75 569.05l3.5 3.5M793.75 572.55l3.5-3.5M800.1 576.15h4.6M802.4 573.85v4.6M800.65 574.4l3.5 3.5M800.65 577.9l3.5-3.5M806.99 576.15h4.6M809.29 573.85v4.6M807.54 574.4l3.5 3.5M807.54 577.9l3.5-3.5M813.89 576.15h4.6M816.19 573.85v4.6M814.44 574.4l3.5 3.5M814.44 577.9l3.5-3.5M820.78 576.15h4.6M823.08 573.85v4.6M821.33 574.4l3.5 3.5M821.33 577.9l3.5-3.5M827.68 576.15h4.6M829.98 573.85v4.6M828.23 574.4l3.5 3.5M828.23 577.9l3.5-3.5M834.58 576.15h4.6M836.88 573.85v4.6M835.12 574.4l3.5 3.5M835.12 577.9l3.5-3.5M841.47 581.5h4.6M843.77 579.2v4.6M842.02 579.75l3.5 3.5M842.02 583.25l3.5-3.5M848.37 576.15h4.6M850.67 573.85v4.6M848.92 574.4l3.5 3.5M848.92 577.9l3.5-3.5M855.26 576.15h4.6M857.56 573.85v4.6M855.81 574.4l3.5 3.5M855.81 577.9l3.5-3.5M862.16 576.15h4.6M864.46 573.85v4.6M862.71 574.4l3.5 3.5M862.71 577.9l3.5-3.5M869.05 581.5h4.6M871.35 579.2v4.6M869.6 579.75l3.5 3.5M869.6 583.25l3.5-3.5M875.95 581.5h4.6M878.25 579.2v4.6M876.5 579.75l3.5 3.5M876.5 583.25l3.5-3.5M882.85 581.5h4.6M885.15 579.2v4.6M883.4 579.75l3.5 3.5M883.4 583.25l3.5-3.5M889.74 576.15h4.6M892.04 573.85v4.6M890.29 574.4l3.5 3.5M890.29 577.9l3.5-3.5M896.64 576.15h4.6M898.94 573.85v4.6M897.19 574.4l3.5 3.5M897.19 577.9l3.5-3.5M903.53 576.15h4.6M905.83 573.85v4.6M904.08 574.4l3.5 3.5M904.08 577.9l3.5-3.5M910.43 576.15h4.6M912.73 573.85v4.6M910.98 574.4l3.5 3.5M910.98 577.9l3.5-3.5M917.33 576.15h4.6M919.62 573.85v4.6M917.88 574.4l3.5 3.5M917.88 577.9l3.5-3.5M924.22 576.15h4.6M926.52 573.85v4.6M924.77 574.4l3.5 3.5M924.77 577.9l3.5-3.5M931.12 576.15h4.6M933.42 573.85v4.6M931.67 574.4l3.5 3.5M931.67 577.9l3.5-3.5M938.01 570.8h4.6M940.31 568.5v4.6M938.56 569.05l3.5 3.5M938.56 572.55l3.5-3.5M944.91 570.8h4.6M947.21 568.5v4.6M945.46 569.05l3.5 3.5M945.46 572.55l3.5-3.5M951.8 570.8h4.6M954.1 568.5v4.6M952.35 569.05l3.5 3.5M952.35 572.55l3.5-3.5M958.7 570.8h4.6M961 568.5v4.6M959.25 569.05l3.5 3.5M959.25 572.55l3.5-3.5" stroke="#00ff00" stroke-width="1.15" stroke-linecap="round" fill="none"/><polyline points="795.5,570.8 802.4,570.8 809.29,570.8 816.19,570.8 823.08,576.15 829.98,576.15 836.88,576.15 843.77,576.15 850.67,576.15 857.56,576.15 864.46,576.15 871.35,576.15 878.25,576.15 885.15,576.15 892.04,576.15 898.94,570.8 905.83,570.8 912.73,565.46 919.62,565.46 926.52,565.46 933.42,570.8 940.31,570.8 947.21,570.8 954.1,570.8 961,570.8" fill="none" stroke="#0000ff" stroke-width="1.25" stroke-linejoin="round"/><path d="M793.2 570.8h4.6M795.5 568.5v4.6M793.75 569.05l3.5 3.5M793.75 572.55l3.5-3.5M800.1 570.8h4.6M802.4 568.5v4.6M800.65 569.05l3.5 3.5M800.65 572.55l3.5-3.5M806.99 570.8h4.6M809.29 568.5v4.6M807.54 569.05l3.5 3.5M807.54 572.55l3.5-3.5M813.89 570.8h4.6M816.19 568.5v4.6M814.44 569.05l3.5 3.5M814.44 572.55l3.5-3.5M820.78 576.15h4.6M823.08 573.85v4.6M821.33 574.4l3.5 3.5M821.33 577.9l3.5-3.5M827.68 576.15h4.6M829.98 573.85v4.6M828.23 574.4l3.5 3.5M828.23 577.9l3.5-3.5M834.58 576.15h4.6M836.88 573.85v4.6M835.12 574.4l3.5 3.5M835.12 577.9l3.5-3.5M841.47 576.15h4.6M843.77 573.85v4.6M842.02 574.4l3.5 3.5M842.02 577.9l3.5-3.5M848.37 576.15h4.6M850.67 573.85v4.6M848.92 574.4l3.5 3.5M848.92 577.9l3.5-3.5M855.26 576.15h4.6M857.56 573.85v4.6M855.81 574.4l3.5 3.5M855.81 577.9l3.5-3.5M862.16 576.15h4.6M864.46 573.85v4.6M862.71 574.4l3.5 3.5M862.71 577.9l3.5-3.5M869.05 576.15h4.6M871.35 573.85v4.6M869.6 574.4l3.5 3.5M869.6 577.9l3.5-3.5M875.95 576.15h4.6M878.25 573.85v4.6M876.5 574.4l3.5 3.5M876.5 577.9l3.5-3.5M882.85 576.15h4.6M885.15 573.85v4.6M883.4 574.4l3.5 3.5M883.4 577.9l3.5-3.5M889.74 576.15h4.6M892.04 573.85v4.6M890.29 574.4l3.5 3.5M890.29 577.9l3.5-3.5M896.64 570.8h4.6M898.94 568.5v4.6M897.19 569.05l3.5 3.5M897.19 572.55l3.5-3.5M903.53 570.8h4.6M905.83 568.5v4.6M904.08 569.05l3.5 3.5M904.08 572.55l3.5-3.5M910.43 565.46h4.6M912.73 563.16v4.6M910.98 563.71l3.5 3.5M910.98 567.21l3.5-3.5M917.33 565.46h4.6M919.62 563.16v4.6M917.88 563.71l3.5 3.5M917.88 567.21l3.5-3.5M924.22 565.46h4.6M926.52 563.16v4.6M924.77 563.71l3.5 3.5M924.77 567.21l3.5-3.5M931.12 570.8h4.6M933.42 568.5v4.6M931.67 569.05l3.5 3.5M931.67 572.55l3.5-3.5M938.01 570.8h4.6M940.31 568.5v4.6M938.56 569.05l3.5 3.5M938.56 572.55l3.5-3.5M944.91 570.8h4.6M947.21 568.5v4.6M945.46 569.05l3.5 3.5M945.46 572.55l3.5-3.5M951.8 570.8h4.6M954.1 568.5v4.6M952.35 569.05l3.5 3.5M952.35 572.55l3.5-3.5M958.7 570.8h4.6M961 568.5v4.6M959.25 569.05l3.5 3.5M959.25 572.55l3.5-3.5" stroke="#0000ff" stroke-width="1.15" stroke-linecap="round" fill="none"/><polyline points="795.5,570.8 802.4,570.8 809.29,570.8 816.19,570.8 823.08,570.8 829.98,576.15 836.88,570.8 843.77,570.8 850.67,576.15 857.56,581.5 864.46,581.5 871.35,576.15 878.25,576.15 885.15,576.15 892.04,565.46 898.94,560.11 905.83,570.8 912.73,565.46 919.62,570.8 926.52,570.8 933.42,560.11 940.31,570.8 947.21,565.46 954.1,570.8 961,570.8" fill="none" stroke="#ff0000" stroke-width="1.25" stroke-linejoin="round"/><path d="M793.2 570.8h4.6M795.5 568.5v4.6M793.75 569.05l3.5 3.5M793.75 572.55l3.5-3.5M800.1 570.8h4.6M802.4 568.5v4.6M800.65 569.05l3.5 3.5M800.65 572.55l3.5-3.5M806.99 570.8h4.6M809.29 568.5v4.6M807.54 569.05l3.5 3.5M807.54 572.55l3.5-3.5M813.89 570.8h4.6M816.19 568.5v4.6M814.44 569.05l3.5 3.5M814.44 572.55l3.5-3.5M820.78 570.8h4.6M823.08 568.5v4.6M821.33 569.05l3.5 3.5M821.33 572.55l3.5-3.5M827.68 576.15h4.6M829.98 573.85v4.6M828.23 574.4l3.5 3.5M828.23 577.9l3.5-3.5M834.58 570.8h4.6M836.88 568.5v4.6M835.12 569.05l3.5 3.5M835.12 572.55l3.5-3.5M841.47 570.8h4.6M843.77 568.5v4.6M842.02 569.05l3.5 3.5M842.02 572.55l3.5-3.5M848.37 576.15h4.6M850.67 573.85v4.6M848.92 574.4l3.5 3.5M848.92 577.9l3.5-3.5M855.26 581.5h4.6M857.56 579.2v4.6M855.81 579.75l3.5 3.5M855.81 583.25l3.5-3.5M862.16 581.5h4.6M864.46 579.2v4.6M862.71 579.75l3.5 3.5M862.71 583.25l3.5-3.5M869.05 576.15h4.6M871.35 573.85v4.6M869.6 574.4l3.5 3.5M869.6 577.9l3.5-3.5M875.95 576.15h4.6M878.25 573.85v4.6M876.5 574.4l3.5 3.5M876.5 577.9l3.5-3.5M882.85 576.15h4.6M885.15 573.85v4.6M883.4 574.4l3.5 3.5M883.4 577.9l3.5-3.5M889.74 565.46h4.6M892.04 563.16v4.6M890.29 563.71l3.5 3.5M890.29 567.21l3.5-3.5M896.64 560.11h4.6M898.94 557.81v4.6M897.19 558.36l3.5 3.5M897.19 561.86l3.5-3.5M903.53 570.8h4.6M905.83 568.5v4.6M904.08 569.05l3.5 3.5M904.08 572.55l3.5-3.5M910.43 565.46h4.6M912.73 563.16v4.6M910.98 563.71l3.5 3.5M910.98 567.21l3.5-3.5M917.33 570.8h4.6M919.62 568.5v4.6M917.88 569.05l3.5 3.5M917.88 572.55l3.5-3.5M924.22 570.8h4.6M926.52 568.5v4.6M924.77 569.05l3.5 3.5M924.77 572.55l3.5-3.5M931.12 560.11h4.6M933.42 557.81v4.6M931.67 558.36l3.5 3.5M931.67 561.86l3.5-3.5M938.01 570.8h4.6M940.31 568.5v4.6M938.56 569.05l3.5 3.5M938.56 572.55l3.5-3.5M944.91 565.46h4.6M947.21 563.16v4.6M945.46 563.71l3.5 3.5M945.46 567.21l3.5-3.5M951.8 570.8h4.6M954.1 568.5v4.6M952.35 569.05l3.5 3.5M952.35 572.55l3.5-3.5M958.7 570.8h4.6M961 568.5v4.6M959.25 569.05l3.5 3.5M959.25 572.55l3.5-3.5" stroke="#ff0000" stroke-width="1.15" stroke-linecap="round" fill="none"/></g><path d="M795.5 581.5v-4M795.5 463.9v4M809.29 581.5v-4M809.29 463.9v4M823.08 581.5v-4M823.08 463.9v4M836.88 581.5v-4M836.88 463.9v4M850.67 581.5v-4M850.67 463.9v4M864.46 581.5v-4M864.46 463.9v4M878.25 581.5v-4M878.25 463.9v4M892.04 581.5v-4M892.04 463.9v4M905.83 581.5v-4M905.83 463.9v4M919.62 581.5v-4M919.62 463.9v4M933.42 581.5v-4M933.42 463.9v4M947.21 581.5v-4M947.21 463.9v4M961 581.5v-4M961 463.9v4M795.5 581.5h5.5M961 581.5h-5.5M795.5 567.5h4M961 567.5h-4M795.5 553.5h5.5M961 553.5h-5.5M795.5 539.5h4M961 539.5h-4M795.5 525.5h5.5M961 525.5h-5.5M795.5 511.5h4M961 511.5h-4M795.5 497.5h5.5M961 497.5h-5.5M795.5 483.5h4M961 483.5h-4M795.5 469.5h5.5M961 469.5h-5.5" stroke="#000" stroke-width="1" fill="none"/><rect x="795" y="463" width="1" height="120.1" fill="#000"/><rect x="960" y="463" width="2" height="120.1" fill="#000"/><rect x="795" y="463" width="167" height="2" fill="#000"/><rect x="795" y="581" width="167" height="1.6" fill="#000"/><line x1="795.5" y1="553.5" x2="961" y2="553.5" stroke="#000" stroke-width="1" stroke-dasharray="1 2.1"/><line x1="795.5" y1="525.5" x2="961" y2="525.5" stroke="#000" stroke-width="1" stroke-dasharray="1 2.1"/><line x1="795.5" y1="497.5" x2="961" y2="497.5" stroke="#000" stroke-width="1" stroke-dasharray="1 2.1"/><line x1="795.5" y1="469.5" x2="961" y2="469.5" stroke="#000" stroke-width="1" stroke-dasharray="1 2.1"/><line x1="823.08" y1="581.5" x2="823.08" y2="463.9" stroke="#000" stroke-width="1" stroke-dasharray="1 2.1"/><line x1="850.67" y1="581.5" x2="850.67" y2="463.9" stroke="#000" stroke-width="1" stroke-dasharray="1 2.1"/><line x1="878.25" y1="581.5" x2="878.25" y2="463.9" stroke="#000" stroke-width="1" stroke-dasharray="1 2.1"/><line x1="905.83" y1="581.5" x2="905.83" y2="463.9" stroke="#000" stroke-width="1" stroke-dasharray="1 2.1"/><line x1="933.42" y1="581.5" x2="933.42" y2="463.9" stroke="#000" stroke-width="1" stroke-dasharray="1 2.1"/><text x="791.2" y="583.9" font-size="8.6" text-anchor="end" fill="#000">0</text><text x="791.2" y="555.9" font-size="8.6" text-anchor="end" fill="#000">2</text><text x="791.2" y="527.9" font-size="8.6" text-anchor="end" fill="#000">4</text><text x="791.2" y="499.9" font-size="8.6" text-anchor="end" fill="#000">6</text><text x="791.2" y="471.9" font-size="8.6" text-anchor="end" fill="#000">8</text><text x="795.8" y="593" font-size="8.6" text-anchor="middle" fill="#000">0</text><text x="823.38" y="593" font-size="8.6" text-anchor="middle" fill="#000">4</text><text x="850.97" y="593" font-size="8.6" text-anchor="middle" fill="#000">8</text><text x="878.55" y="593" font-size="8.6" text-anchor="middle" fill="#000">12</text><text x="906.13" y="593" font-size="8.6" text-anchor="middle" fill="#000">16</text><text x="933.72" y="593" font-size="8.6" text-anchor="middle" fill="#000">20</text><text x="961.3" y="593" font-size="8.6" text-anchor="middle" fill="#000">24</text><text x="878.45" y="606.6" font-size="9.2" text-anchor="middle" textLength="34.63" lengthAdjust="spacingAndGlyphs" fill="#000" clip-path="url(#lc3)">Eastern</text></g>
<g><clipPath id="pc40"><rect x="23.5" y="611.9" width="165.5" height="117.6"/></clipPath><g clip-path="url(#pc40)"><polyline points="23.5,718.8 30.4,718.8 37.29,718.8 44.19,718.8 51.08,718.8 57.98,718.8 64.88,718.8 71.77,718.8 78.67,718.8 85.56,718.8 92.46,718.8 99.35,718.8 106.25,697.41 113.15,702.76 120.04,713.46 126.94,713.46 133.83,713.46 140.73,713.46 147.62,724.15 154.52,718.8 161.42,718.8 168.31,718.8 175.21,718.8 182.1,718.8 189,718.8" fill="none" stroke="#00ffff" stroke-width="1.25" stroke-linejoin="round"/><path d="M21.2 718.8h4.6M23.5 716.5v4.6M21.75 717.05l3.5 3.5M21.75 720.55l3.5-3.5M28.1 718.8h4.6M30.4 716.5v4.6M28.65 717.05l3.5 3.5M28.65 720.55l3.5-3.5M34.99 718.8h4.6M37.29 716.5v4.6M35.54 717.05l3.5 3.5M35.54 720.55l3.5-3.5M41.89 718.8h4.6M44.19 716.5v4.6M42.44 717.05l3.5 3.5M42.44 720.55l3.5-3.5M48.78 718.8h4.6M51.08 716.5v4.6M49.33 717.05l3.5 3.5M49.33 720.55l3.5-3.5M55.68 718.8h4.6M57.98 716.5v4.6M56.23 717.05l3.5 3.5M56.23 720.55l3.5-3.5M62.58 718.8h4.6M64.88 716.5v4.6M63.12 717.05l3.5 3.5M63.12 720.55l3.5-3.5M69.47 718.8h4.6M71.77 716.5v4.6M70.02 717.05l3.5 3.5M70.02 720.55l3.5-3.5M76.37 718.8h4.6M78.67 716.5v4.6M76.92 717.05l3.5 3.5M76.92 720.55l3.5-3.5M83.26 718.8h4.6M85.56 716.5v4.6M83.81 717.05l3.5 3.5M83.81 720.55l3.5-3.5M90.16 718.8h4.6M92.46 716.5v4.6M90.71 717.05l3.5 3.5M90.71 720.55l3.5-3.5M97.05 718.8h4.6M99.35 716.5v4.6M97.6 717.05l3.5 3.5M97.6 720.55l3.5-3.5M103.95 697.41h4.6M106.25 695.11v4.6M104.5 695.66l3.5 3.5M104.5 699.16l3.5-3.5M110.85 702.76h4.6M113.15 700.46v4.6M111.4 701.01l3.5 3.5M111.4 704.51l3.5-3.5M117.74 713.46h4.6M120.04 711.16v4.6M118.29 711.71l3.5 3.5M118.29 715.21l3.5-3.5M124.64 713.46h4.6M126.94 711.16v4.6M125.19 711.71l3.5 3.5M125.19 715.21l3.5-3.5M131.53 713.46h4.6M133.83 711.16v4.6M132.08 711.71l3.5 3.5M132.08 715.21l3.5-3.5M138.43 713.46h4.6M140.73 711.16v4.6M138.98 711.71l3.5 3.5M138.98 715.21l3.5-3.5M145.32 724.15h4.6M147.62 721.85v4.6M145.88 722.4l3.5 3.5M145.88 725.9l3.5-3.5M152.22 718.8h4.6M154.52 716.5v4.6M152.77 717.05l3.5 3.5M152.77 720.55l3.5-3.5M159.12 718.8h4.6M161.42 716.5v4.6M159.67 717.05l3.5 3.5M159.67 720.55l3.5-3.5M166.01 718.8h4.6M168.31 716.5v4.6M166.56 717.05l3.5 3.5M166.56 720.55l3.5-3.5M172.91 718.8h4.6M175.21 716.5v4.6M173.46 717.05l3.5 3.5M173.46 720.55l3.5-3.5M179.8 718.8h4.6M182.1 716.5v4.6M180.35 717.05l3.5 3.5M180.35 720.55l3.5-3.5M186.7 718.8h4.6M189 716.5v4.6M187.25 717.05l3.5 3.5M187.25 720.55l3.5-3.5" stroke="#00ffff" stroke-width="1.15" stroke-linecap="round" fill="none"/><polyline points="23.5,718.8 30.4,718.8 37.29,718.8 44.19,718.8 51.08,718.8 57.98,718.8 64.88,718.8 71.77,718.8 78.67,718.8 85.56,718.8 92.46,718.8 99.35,718.8 106.25,718.8 113.15,718.8 120.04,713.46 126.94,713.46 133.83,713.46 140.73,708.11 147.62,713.46 154.52,718.8 161.42,718.8 168.31,718.8 175.21,718.8 182.1,713.46 189,718.8" fill="none" stroke="#00ff00" stroke-width="1.25" stroke-linejoin="round"/><path d="M21.2 718.8h4.6M23.5 716.5v4.6M21.75 717.05l3.5 3.5M21.75 720.55l3.5-3.5M28.1 718.8h4.6M30.4 716.5v4.6M28.65 717.05l3.5 3.5M28.65 720.55l3.5-3.5M34.99 718.8h4.6M37.29 716.5v4.6M35.54 717.05l3.5 3.5M35.54 720.55l3.5-3.5M41.89 718.8h4.6M44.19 716.5v4.6M42.44 717.05l3.5 3.5M42.44 720.55l3.5-3.5M48.78 718.8h4.6M51.08 716.5v4.6M49.33 717.05l3.5 3.5M49.33 720.55l3.5-3.5M55.68 718.8h4.6M57.98 716.5v4.6M56.23 717.05l3.5 3.5M56.23 720.55l3.5-3.5M62.58 718.8h4.6M64.88 716.5v4.6M63.12 717.05l3.5 3.5M63.12 720.55l3.5-3.5M69.47 718.8h4.6M71.77 716.5v4.6M70.02 717.05l3.5 3.5M70.02 720.55l3.5-3.5M76.37 718.8h4.6M78.67 716.5v4.6M76.92 717.05l3.5 3.5M76.92 720.55l3.5-3.5M83.26 718.8h4.6M85.56 716.5v4.6M83.81 717.05l3.5 3.5M83.81 720.55l3.5-3.5M90.16 718.8h4.6M92.46 716.5v4.6M90.71 717.05l3.5 3.5M90.71 720.55l3.5-3.5M97.05 718.8h4.6M99.35 716.5v4.6M97.6 717.05l3.5 3.5M97.6 720.55l3.5-3.5M103.95 718.8h4.6M106.25 716.5v4.6M104.5 717.05l3.5 3.5M104.5 720.55l3.5-3.5M110.85 718.8h4.6M113.15 716.5v4.6M111.4 717.05l3.5 3.5M111.4 720.55l3.5-3.5M117.74 713.46h4.6M120.04 711.16v4.6M118.29 711.71l3.5 3.5M118.29 715.21l3.5-3.5M124.64 713.46h4.6M126.94 711.16v4.6M125.19 711.71l3.5 3.5M125.19 715.21l3.5-3.5M131.53 713.46h4.6M133.83 711.16v4.6M132.08 711.71l3.5 3.5M132.08 715.21l3.5-3.5M138.43 708.11h4.6M140.73 705.81v4.6M138.98 706.36l3.5 3.5M138.98 709.86l3.5-3.5M145.32 713.46h4.6M147.62 711.16v4.6M145.88 711.71l3.5 3.5M145.88 715.21l3.5-3.5M152.22 718.8h4.6M154.52 716.5v4.6M152.77 717.05l3.5 3.5M152.77 720.55l3.5-3.5M159.12 718.8h4.6M161.42 716.5v4.6M159.67 717.05l3.5 3.5M159.67 720.55l3.5-3.5M166.01 718.8h4.6M168.31 716.5v4.6M166.56 717.05l3.5 3.5M166.56 720.55l3.5-3.5M172.91 718.8h4.6M175.21 716.5v4.6M173.46 717.05l3.5 3.5M173.46 720.55l3.5-3.5M179.8 713.46h4.6M182.1 711.16v4.6M180.35 711.71l3.5 3.5M180.35 715.21l3.5-3.5M186.7 718.8h4.6M189 716.5v4.6M187.25 717.05l3.5 3.5M187.25 720.55l3.5-3.5" stroke="#00ff00" stroke-width="1.15" stroke-linecap="round" fill="none"/><polyline points="23.5,718.8 30.4,718.8 37.29,718.8 44.19,718.8 51.08,718.8 57.98,718.8 64.88,718.8 71.77,718.8 78.67,718.8 85.56,702.76 92.46,702.76 99.35,713.46 106.25,713.46 113.15,718.8 120.04,718.8 126.94,718.8 133.83,718.8 140.73,718.8 147.62,713.46 154.52,713.46 161.42,713.46 168.31,718.8 175.21,718.8 182.1,718.8 189,718.8" fill="none" stroke="#0000ff" stroke-width="1.25" stroke-linejoin="round"/><path d="M21.2 718.8h4.6M23.5 716.5v4.6M21.75 717.05l3.5 3.5M21.75 720.55l3.5-3.5M28.1 718.8h4.6M30.4 716.5v4.6M28.65 717.05l3.5 3.5M28.65 720.55l3.5-3.5M34.99 718.8h4.6M37.29 716.5v4.6M35.54 717.05l3.5 3.5M35.54 720.55l3.5-3.5M41.89 718.8h4.6M44.19 716.5v4.6M42.44 717.05l3.5 3.5M42.44 720.55l3.5-3.5M48.78 718.8h4.6M51.08 716.5v4.6M49.33 717.05l3.5 3.5M49.33 720.55l3.5-3.5M55.68 718.8h4.6M57.98 716.5v4.6M56.23 717.05l3.5 3.5M56.23 720.55l3.5-3.5M62.58 718.8h4.6M64.88 716.5v4.6M63.12 717.05l3.5 3.5M63.12 720.55l3.5-3.5M69.47 718.8h4.6M71.77 716.5v4.6M70.02 717.05l3.5 3.5M70.02 720.55l3.5-3.5M76.37 718.8h4.6M78.67 716.5v4.6M76.92 717.05l3.5 3.5M76.92 720.55l3.5-3.5M83.26 702.76h4.6M85.56 700.46v4.6M83.81 701.01l3.5 3.5M83.81 704.51l3.5-3.5M90.16 702.76h4.6M92.46 700.46v4.6M90.71 701.01l3.5 3.5M90.71 704.51l3.5-3.5M97.05 713.46h4.6M99.35 711.16v4.6M97.6 711.71l3.5 3.5M97.6 715.21l3.5-3.5M103.95 713.46h4.6M106.25 711.16v4.6M104.5 711.71l3.5 3.5M104.5 715.21l3.5-3.5M110.85 718.8h4.6M113.15 716.5v4.6M111.4 717.05l3.5 3.5M111.4 720.55l3.5-3.5M117.74 718.8h4.6M120.04 716.5v4.6M118.29 717.05l3.5 3.5M118.29 720.55l3.5-3.5M124.64 718.8h4.6M126.94 716.5v4.6M125.19 717.05l3.5 3.5M125.19 720.55l3.5-3.5M131.53 718.8h4.6M133.83 716.5v4.6M132.08 717.05l3.5 3.5M132.08 720.55l3.5-3.5M138.43 718.8h4.6M140.73 716.5v4.6M138.98 717.05l3.5 3.5M138.98 720.55l3.5-3.5M145.32 713.46h4.6M147.62 711.16v4.6M145.88 711.71l3.5 3.5M145.88 715.21l3.5-3.5M152.22 713.46h4.6M154.52 711.16v4.6M152.77 711.71l3.5 3.5M152.77 715.21l3.5-3.5M159.12 713.46h4.6M161.42 711.16v4.6M159.67 711.71l3.5 3.5M159.67 715.21l3.5-3.5M166.01 718.8h4.6M168.31 716.5v4.6M166.56 717.05l3.5 3.5M166.56 720.55l3.5-3.5M172.91 718.8h4.6M175.21 716.5v4.6M173.46 717.05l3.5 3.5M173.46 720.55l3.5-3.5M179.8 718.8h4.6M182.1 716.5v4.6M180.35 717.05l3.5 3.5M180.35 720.55l3.5-3.5M186.7 718.8h4.6M189 716.5v4.6M187.25 717.05l3.5 3.5M187.25 720.55l3.5-3.5" stroke="#0000ff" stroke-width="1.15" stroke-linecap="round" fill="none"/><polyline points="23.5,718.8 30.4,718.8 37.29,718.8 44.19,718.8 51.08,718.8 57.98,718.8 64.88,718.8 71.77,724.15 78.67,718.8 85.56,718.8 92.46,713.46 99.35,708.11 106.25,702.76 113.15,713.46 120.04,713.46 126.94,708.11 133.83,708.11 140.73,713.46 147.62,718.8 154.52,718.8 161.42,718.8 168.31,718.8 175.21,718.8 182.1,718.8 189,718.8" fill="none" stroke="#ff0000" stroke-width="1.25" stroke-linejoin="round"/><path d="M21.2 718.8h4.6M23.5 716.5v4.6M21.75 717.05l3.5 3.5M21.75 720.55l3.5-3.5M28.1 718.8h4.6M30.4 716.5v4.6M28.65 717.05l3.5 3.5M28.65 720.55l3.5-3.5M34.99 718.8h4.6M37.29 716.5v4.6M35.54 717.05l3.5 3.5M35.54 720.55l3.5-3.5M41.89 718.8h4.6M44.19 716.5v4.6M42.44 717.05l3.5 3.5M42.44 720.55l3.5-3.5M48.78 718.8h4.6M51.08 716.5v4.6M49.33 717.05l3.5 3.5M49.33 720.55l3.5-3.5M55.68 718.8h4.6M57.98 716.5v4.6M56.23 717.05l3.5 3.5M56.23 720.55l3.5-3.5M62.58 718.8h4.6M64.88 716.5v4.6M63.12 717.05l3.5 3.5M63.12 720.55l3.5-3.5M69.47 724.15h4.6M71.77 721.85v4.6M70.02 722.4l3.5 3.5M70.02 725.9l3.5-3.5M76.37 718.8h4.6M78.67 716.5v4.6M76.92 717.05l3.5 3.5M76.92 720.55l3.5-3.5M83.26 718.8h4.6M85.56 716.5v4.6M83.81 717.05l3.5 3.5M83.81 720.55l3.5-3.5M90.16 713.46h4.6M92.46 711.16v4.6M90.71 711.71l3.5 3.5M90.71 715.21l3.5-3.5M97.05 708.11h4.6M99.35 705.81v4.6M97.6 706.36l3.5 3.5M97.6 709.86l3.5-3.5M103.95 702.76h4.6M106.25 700.46v4.6M104.5 701.01l3.5 3.5M104.5 704.51l3.5-3.5M110.85 713.46h4.6M113.15 711.16v4.6M111.4 711.71l3.5 3.5M111.4 715.21l3.5-3.5M117.74 713.46h4.6M120.04 711.16v4.6M118.29 711.71l3.5 3.5M118.29 715.21l3.5-3.5M124.64 708.11h4.6M126.94 705.81v4.6M125.19 706.36l3.5 3.5M125.19 709.86l3.5-3.5M131.53 708.11h4.6M133.83 705.81v4.6M132.08 706.36l3.5 3.5M132.08 709.86l3.5-3.5M138.43 713.46h4.6M140.73 711.16v4.6M138.98 711.71l3.5 3.5M138.98 715.21l3.5-3.5M145.32 718.8h4.6M147.62 716.5v4.6M145.88 717.05l3.5 3.5M145.88 720.55l3.5-3.5M152.22 718.8h4.6M154.52 716.5v4.6M152.77 717.05l3.5 3.5M152.77 720.55l3.5-3.5M159.12 718.8h4.6M161.42 716.5v4.6M159.67 717.05l3.5 3.5M159.67 720.55l3.5-3.5M166.01 718.8h4.6M168.31 716.5v4.6M166.56 717.05l3.5 3.5M166.56 720.55l3.5-3.5M172.91 718.8h4.6M175.21 716.5v4.6M173.46 717.05l3.5 3.5M173.46 720.55l3.5-3.5M179.8 718.8h4.6M182.1 716.5v4.6M180.35 717.05l3.5 3.5M180.35 720.55l3.5-3.5M186.7 718.8h4.6M189 716.5v4.6M187.25 717.05l3.5 3.5M187.25 720.55l3.5-3.5" stroke="#ff0000" stroke-width="1.15" stroke-linecap="round" fill="none"/></g><path d="M23.5 729.5v-4M23.5 611.9v4M37.29 729.5v-4M37.29 611.9v4M51.08 729.5v-4M51.08 611.9v4M64.88 729.5v-4M64.88 611.9v4M78.67 729.5v-4M78.67 611.9v4M92.46 729.5v-4M92.46 611.9v4M106.25 729.5v-4M106.25 611.9v4M120.04 729.5v-4M120.04 611.9v4M133.83 729.5v-4M133.83 611.9v4M147.62 729.5v-4M147.62 611.9v4M161.42 729.5v-4M161.42 611.9v4M175.21 729.5v-4M175.21 611.9v4M189 729.5v-4M189 611.9v4M23.5 729.5h5.5M189 729.5h-5.5M23.5 715.5h4M189 715.5h-4M23.5 701.5h5.5M189 701.5h-5.5M23.5 687.5h4M189 687.5h-4M23.5 673.5h5.5M189 673.5h-5.5M23.5 659.5h4M189 659.5h-4M23.5 645.5h5.5M189 645.5h-5.5M23.5 631.5h4M189 631.5h-4M23.5 617.5h5.5M189 617.5h-5.5" stroke="#000" stroke-width="1" fill="none"/><rect x="23" y="611" width="1" height="120.1" fill="#000"/><rect x="188" y="611" width="2" height="120.1" fill="#000"/><rect x="23" y="611" width="167" height="2" fill="#000"/><rect x="23" y="729" width="167" height="1.6" fill="#000"/><line x1="23.5" y1="701.5" x2="189" y2="701.5" stroke="#000" stroke-width="1" stroke-dasharray="1 2.1"/><line x1="23.5" y1="673.5" x2="189" y2="673.5" stroke="#000" stroke-width="1" stroke-dasharray="1 2.1"/><line x1="23.5" y1="645.5" x2="189" y2="645.5" stroke="#000" stroke-width="1" stroke-dasharray="1 2.1"/><line x1="23.5" y1="617.5" x2="189" y2="617.5" stroke="#000" stroke-width="1" stroke-dasharray="1 2.1"/><line x1="51.08" y1="729.5" x2="51.08" y2="611.9" stroke="#000" stroke-width="1" stroke-dasharray="1 2.1"/><line x1="78.67" y1="729.5" x2="78.67" y2="611.9" stroke="#000" stroke-width="1" stroke-dasharray="1 2.1"/><line x1="106.25" y1="729.5" x2="106.25" y2="611.9" stroke="#000" stroke-width="1" stroke-dasharray="1 2.1"/><line x1="133.83" y1="729.5" x2="133.83" y2="611.9" stroke="#000" stroke-width="1" stroke-dasharray="1 2.1"/><line x1="161.42" y1="729.5" x2="161.42" y2="611.9" stroke="#000" stroke-width="1" stroke-dasharray="1 2.1"/><text x="19.2" y="731.9" font-size="8.6" text-anchor="end" fill="#000">0</text><text x="19.2" y="703.9" font-size="8.6" text-anchor="end" fill="#000">2</text><text x="19.2" y="675.9" font-size="8.6" text-anchor="end" fill="#000">4</text><text x="19.2" y="647.9" font-size="8.6" text-anchor="end" fill="#000">6</text><text x="19.2" y="619.9" font-size="8.6" text-anchor="end" fill="#000">8</text><text x="23.8" y="741" font-size="8.6" text-anchor="middle" fill="#000">0</text><text x="51.38" y="741" font-size="8.6" text-anchor="middle" fill="#000">4</text><text x="78.97" y="741" font-size="8.6" text-anchor="middle" fill="#000">8</text><text x="106.55" y="741" font-size="8.6" text-anchor="middle" fill="#000">12</text><text x="134.13" y="741" font-size="8.6" text-anchor="middle" fill="#000">16</text><text x="161.72" y="741" font-size="8.6" text-anchor="middle" fill="#000">20</text><text x="189.3" y="741" font-size="8.6" text-anchor="middle" fill="#000">24</text><text x="106.45" y="754.6" font-size="9.2" text-anchor="middle" textLength="54.61" lengthAdjust="spacingAndGlyphs" fill="#000" clip-path="url(#lc4)">Tung Chung</text></g>
<g><clipPath id="pc41"><rect x="216.5" y="611.9" width="165.5" height="117.6"/></clipPath><g clip-path="url(#pc41)"><polyline points="216.5,700.1 223.4,700.1 230.29,700.1 237.19,700.38 244.08,700.8 250.98,700.8 257.88,700.8 264.77,700.1 271.67,699.4 278.56,697.3 285.46,696.6 292.35,694.36 299.25,694.36 306.15,697.3 313.04,700.1 319.94,700.1 326.83,698.7 333.73,698 340.62,698 347.52,697.16 354.42,697.16 361.31,700.8 368.21,700.8 375.1,700.8 382,700.8" fill="none" stroke="#00ffff" stroke-width="1.25" stroke-linejoin="round"/><path d="M214.2 700.1h4.6M216.5 697.8v4.6M214.75 698.35l3.5 3.5M214.75 701.85l3.5-3.5M221.1 700.1h4.6M223.4 697.8v4.6M221.65 698.35l3.5 3.5M221.65 701.85l3.5-3.5M227.99 700.1h4.6M230.29 697.8v4.6M228.54 698.35l3.5 3.5M228.54 701.85l3.5-3.5M234.89 700.38h4.6M237.19 698.08v4.6M235.44 698.63l3.5 3.5M235.44 702.13l3.5-3.5M241.78 700.8h4.6M244.08 698.5v4.6M242.33 699.05l3.5 3.5M242.33 702.55l3.5-3.5M248.68 700.8h4.6M250.98 698.5v4.6M249.23 699.05l3.5 3.5M249.23 702.55l3.5-3.5M255.57 700.8h4.6M257.88 698.5v4.6M256.12 699.05l3.5 3.5M256.12 702.55l3.5-3.5M262.47 700.1h4.6M264.77 697.8v4.6M263.02 698.35l3.5 3.5M263.02 701.85l3.5-3.5M269.37 699.4h4.6M271.67 697.1v4.6M269.92 697.65l3.5 3.5M269.92 701.15l3.5-3.5M276.26 697.3h4.6M278.56 695v4.6M276.81 695.55l3.5 3.5M276.81 699.05l3.5-3.5M283.16 696.6h4.6M285.46 694.3v4.6M283.71 694.85l3.5 3.5M283.71 698.35l3.5-3.5M290.05 694.36h4.6M292.35 692.06v4.6M290.6 692.61l3.5 3.5M290.6 696.11l3.5-3.5M296.95 694.36h4.6M299.25 692.06v4.6M297.5 692.61l3.5 3.5M297.5 696.11l3.5-3.5M303.85 697.3h4.6M306.15 695v4.6M304.4 695.55l3.5 3.5M304.4 699.05l3.5-3.5M310.74 700.1h4.6M313.04 697.8v4.6M311.29 698.35l3.5 3.5M311.29 701.85l3.5-3.5M317.64 700.1h4.6M319.94 697.8v4.6M318.19 698.35l3.5 3.5M318.19 701.85l3.5-3.5M324.53 698.7h4.6M326.83 696.4v4.6M325.08 696.95l3.5 3.5M325.08 700.45l3.5-3.5M331.43 698h4.6M333.73 695.7v4.6M331.98 696.25l3.5 3.5M331.98 699.75l3.5-3.5M338.32 698h4.6M340.62 695.7v4.6M338.88 696.25l3.5 3.5M338.88 699.75l3.5-3.5M345.22 697.16h4.6M347.52 694.86v4.6M345.77 695.41l3.5 3.5M345.77 698.91l3.5-3.5M352.12 697.16h4.6M354.42 694.86v4.6M352.67 695.41l3.5 3.5M352.67 698.91l3.5-3.5M359.01 700.8h4.6M361.31 698.5v4.6M359.56 699.05l3.5 3.5M359.56 702.55l3.5-3.5M365.91 700.8h4.6M368.21 698.5v4.6M366.46 699.05l3.5 3.5M366.46 702.55l3.5-3.5M372.8 700.8h4.6M375.1 698.5v4.6M373.35 699.05l3.5 3.5M373.35 702.55l3.5-3.5M379.7 700.8h4.6M382 698.5v4.6M380.25 699.05l3.5 3.5M380.25 702.55l3.5-3.5" stroke="#00ffff" stroke-width="1.15" stroke-linecap="round" fill="none"/><polyline points="216.5,701.5 223.4,701.92 230.29,701.92 237.19,702.06 244.08,702.2 250.98,702.2 257.88,702.2 264.77,702.2 271.67,702.06 278.56,700.1 285.46,701.5 292.35,701.78 299.25,701.5 306.15,700.1 313.04,699.4 319.94,698.7 326.83,698.7 333.73,698.42 340.62,698.14 347.52,697.86 354.42,697.58 361.31,697.3 368.21,697.3 375.1,697.02 382,696.88" fill="none" stroke="#00ff00" stroke-width="1.25" stroke-linejoin="round"/><path d="M214.2 701.5h4.6M216.5 699.2v4.6M214.75 699.75l3.5 3.5M214.75 703.25l3.5-3.5M221.1 701.92h4.6M223.4 699.62v4.6M221.65 700.17l3.5 3.5M221.65 703.67l3.5-3.5M227.99 701.92h4.6M230.29 699.62v4.6M228.54 700.17l3.5 3.5M228.54 703.67l3.5-3.5M234.89 702.06h4.6M237.19 699.76v4.6M235.44 700.31l3.5 3.5M235.44 703.81l3.5-3.5M241.78 702.2h4.6M244.08 699.9v4.6M242.33 700.45l3.5 3.5M242.33 703.95l3.5-3.5M248.68 702.2h4.6M250.98 699.9v4.6M249.23 700.45l3.5 3.5M249.23 703.95l3.5-3.5M255.57 702.2h4.6M257.88 699.9v4.6M256.12 700.45l3.5 3.5M256.12 703.95l3.5-3.5M262.47 702.2h4.6M264.77 699.9v4.6M263.02 700.45l3.5 3.5M263.02 703.95l3.5-3.5M269.37 702.06h4.6M271.67 699.76v4.6M269.92 700.31l3.5 3.5M269.92 703.81l3.5-3.5M276.26 700.1h4.6M278.56 697.8v4.6M276.81 698.35l3.5 3.5M276.81 701.85l3.5-3.5M283.16 701.5h4.6M285.46 699.2v4.6M283.71 699.75l3.5 3.5M283.71 703.25l3.5-3.5M290.05 701.78h4.6M292.35 699.48v4.6M290.6 700.03l3.5 3.5M290.6 703.53l3.5-3.5M296.95 701.5h4.6M299.25 699.2v4.6M297.5 699.75l3.5 3.5M297.5 703.25l3.5-3.5M303.85 700.1h4.6M306.15 697.8v4.6M304.4 698.35l3.5 3.5M304.4 701.85l3.5-3.5M310.74 699.4h4.6M313.04 697.1v4.6M311.29 697.65l3.5 3.5M311.29 701.15l3.5-3.5M317.64 698.7h4.6M319.94 696.4v4.6M318.19 696.95l3.5 3.5M318.19 700.45l3.5-3.5M324.53 698.7h4.6M326.83 696.4v4.6M325.08 696.95l3.5 3.5M325.08 700.45l3.5-3.5M331.43 698.42h4.6M333.73 696.12v4.6M331.98 696.67l3.5 3.5M331.98 700.17l3.5-3.5M338.32 698.14h4.6M340.62 695.84v4.6M338.88 696.39l3.5 3.5M338.88 699.89l3.5-3.5M345.22 697.86h4.6M347.52 695.56v4.6M345.77 696.11l3.5 3.5M345.77 699.61l3.5-3.5M352.12 697.58h4.6M354.42 695.28v4.6M352.67 695.83l3.5 3.5M352.67 699.33l3.5-3.5M359.01 697.3h4.6M361.31 695v4.6M359.56 695.55l3.5 3.5M359.56 699.05l3.5-3.5M365.91 697.3h4.6M368.21 695v4.6M366.46 695.55l3.5 3.5M366.46 699.05l3.5-3.5M372.8 697.02h4.6M375.1 694.72v4.6M373.35 695.27l3.5 3.5M373.35 698.77l3.5-3.5M379.7 696.88h4.6M382 694.58v4.6M380.25 695.13l3.5 3.5M380.25 698.63l3.5-3.5" stroke="#00ff00" stroke-width="1.15" stroke-linecap="round" fill="none"/><polyline points="216.5,698 223.4,698 230.29,698.98 237.19,699.4 244.08,698.98 250.98,700.1 257.88,700.1 264.77,698.56 271.67,698.98 278.56,694.36 285.46,692.4 292.35,697.3 299.25,697.3 306.15,697.86 313.04,698.7 319.94,698.7 326.83,697.86 333.73,698.7 340.62,699.68 347.52,699.68 354.42,699.68 361.31,698.7 368.21,698.7 375.1,698.7 382,698.7" fill="none" stroke="#0000ff" stroke-width="1.25" stroke-linejoin="round"/><path d="M214.2 698h4.6M216.5 695.7v4.6M214.75 696.25l3.5 3.5M214.75 699.75l3.5-3.5M221.1 698h4.6M223.4 695.7v4.6M221.65 696.25l3.5 3.5M221.65 699.75l3.5-3.5M227.99 698.98h4.6M230.29 696.68v4.6M228.54 697.23l3.5 3.5M228.54 700.73l3.5-3.5M234.89 699.4h4.6M237.19 697.1v4.6M235.44 697.65l3.5 3.5M235.44 701.15l3.5-3.5M241.78 698.98h4.6M244.08 696.68v4.6M242.33 697.23l3.5 3.5M242.33 700.73l3.5-3.5M248.68 700.1h4.6M250.98 697.8v4.6M249.23 698.35l3.5 3.5M249.23 701.85l3.5-3.5M255.57 700.1h4.6M257.88 697.8v4.6M256.12 698.35l3.5 3.5M256.12 701.85l3.5-3.5M262.47 698.56h4.6M264.77 696.26v4.6M263.02 696.81l3.5 3.5M263.02 700.31l3.5-3.5M269.37 698.98h4.6M271.67 696.68v4.6M269.92 697.23l3.5 3.5M269.92 700.73l3.5-3.5M276.26 694.36h4.6M278.56 692.06v4.6M276.81 692.61l3.5 3.5M276.81 696.11l3.5-3.5M283.16 692.4h4.6M285.46 690.1v4.6M283.71 690.65l3.5 3.5M283.71 694.15l3.5-3.5M290.05 697.3h4.6M292.35 695v4.6M290.6 695.55l3.5 3.5M290.6 699.05l3.5-3.5M296.95 697.3h4.6M299.25 695v4.6M297.5 695.55l3.5 3.5M297.5 699.05l3.5-3.5M303.85 697.86h4.6M306.15 695.56v4.6M304.4 696.11l3.5 3.5M304.4 699.61l3.5-3.5M310.74 698.7h4.6M313.04 696.4v4.6M311.29 696.95l3.5 3.5M311.29 700.45l3.5-3.5M317.64 698.7h4.6M319.94 696.4v4.6M318.19 696.95l3.5 3.5M318.19 700.45l3.5-3.5M324.53 697.86h4.6M326.83 695.56v4.6M325.08 696.11l3.5 3.5M325.08 699.61l3.5-3.5M331.43 698.7h4.6M333.73 696.4v4.6M331.98 696.95l3.5 3.5M331.98 700.45l3.5-3.5M338.32 699.68h4.6M340.62 697.38v4.6M338.88 697.93l3.5 3.5M338.88 701.43l3.5-3.5M345.22 699.68h4.6M347.52 697.38v4.6M345.77 697.93l3.5 3.5M345.77 701.43l3.5-3.5M352.12 699.68h4.6M354.42 697.38v4.6M352.67 697.93l3.5 3.5M352.67 701.43l3.5-3.5M359.01 698.7h4.6M361.31 696.4v4.6M359.56 696.95l3.5 3.5M359.56 700.45l3.5-3.5M365.91 698.7h4.6M368.21 696.4v4.6M366.46 696.95l3.5 3.5M366.46 700.45l3.5-3.5M372.8 698.7h4.6M375.1 696.4v4.6M373.35 696.95l3.5 3.5M373.35 700.45l3.5-3.5M379.7 698.7h4.6M382 696.4v4.6M380.25 696.95l3.5 3.5M380.25 700.45l3.5-3.5" stroke="#0000ff" stroke-width="1.15" stroke-linecap="round" fill="none"/><polyline points="216.5,698.98 223.4,699.4 230.29,698.56 237.19,699.4 244.08,700.38 250.98,700.8 257.88,701.36 264.77,701.36 271.67,701.78 278.56,701.36 285.46,700.38 292.35,700.8 299.25,700.8 306.15,698.98 313.04,696.6 319.94,696.6 326.83,701.5 333.73,701.78 340.62,703.6 347.52,704.58 354.42,705.98 361.31,705.98 368.21,705.98 375.1,705.98 382,705.98" fill="none" stroke="#ff0000" stroke-width="1.25" stroke-linejoin="round"/><path d="M214.2 698.98h4.6M216.5 696.68v4.6M214.75 697.23l3.5 3.5M214.75 700.73l3.5-3.5M221.1 699.4h4.6M223.4 697.1v4.6M221.65 697.65l3.5 3.5M221.65 701.15l3.5-3.5M227.99 698.56h4.6M230.29 696.26v4.6M228.54 696.81l3.5 3.5M228.54 700.31l3.5-3.5M234.89 699.4h4.6M237.19 697.1v4.6M235.44 697.65l3.5 3.5M235.44 701.15l3.5-3.5M241.78 700.38h4.6M244.08 698.08v4.6M242.33 698.63l3.5 3.5M242.33 702.13l3.5-3.5M248.68 700.8h4.6M250.98 698.5v4.6M249.23 699.05l3.5 3.5M249.23 702.55l3.5-3.5M255.57 701.36h4.6M257.88 699.06v4.6M256.12 699.61l3.5 3.5M256.12 703.11l3.5-3.5M262.47 701.36h4.6M264.77 699.06v4.6M263.02 699.61l3.5 3.5M263.02 703.11l3.5-3.5M269.37 701.78h4.6M271.67 699.48v4.6M269.92 700.03l3.5 3.5M269.92 703.53l3.5-3.5M276.26 701.36h4.6M278.56 699.06v4.6M276.81 699.61l3.5 3.5M276.81 703.11l3.5-3.5M283.16 700.38h4.6M285.46 698.08v4.6M283.71 698.63l3.5 3.5M283.71 702.13l3.5-3.5M290.05 700.8h4.6M292.35 698.5v4.6M290.6 699.05l3.5 3.5M290.6 702.55l3.5-3.5M296.95 700.8h4.6M299.25 698.5v4.6M297.5 699.05l3.5 3.5M297.5 702.55l3.5-3.5M303.85 698.98h4.6M306.15 696.68v4.6M304.4 697.23l3.5 3.5M304.4 700.73l3.5-3.5M310.74 696.6h4.6M313.04 694.3v4.6M311.29 694.85l3.5 3.5M311.29 698.35l3.5-3.5M317.64 696.6h4.6M319.94 694.3v4.6M318.19 694.85l3.5 3.5M318.19 698.35l3.5-3.5M324.53 701.5h4.6M326.83 699.2v4.6M325.08 699.75l3.5 3.5M325.08 703.25l3.5-3.5M331.43 701.78h4.6M333.73 699.48v4.6M331.98 700.03l3.5 3.5M331.98 703.53l3.5-3.5M338.32 703.6h4.6M340.62 701.3v4.6M338.88 701.85l3.5 3.5M338.88 705.35l3.5-3.5M345.22 704.58h4.6M347.52 702.28v4.6M345.77 702.83l3.5 3.5M345.77 706.33l3.5-3.5M352.12 705.98h4.6M354.42 703.68v4.6M352.67 704.23l3.5 3.5M352.67 707.73l3.5-3.5M359.01 705.98h4.6M361.31 703.68v4.6M359.56 704.23l3.5 3.5M359.56 707.73l3.5-3.5M365.91 705.98h4.6M368.21 703.68v4.6M366.46 704.23l3.5 3.5M366.46 707.73l3.5-3.5M372.8 705.98h4.6M375.1 703.68v4.6M373.35 704.23l3.5 3.5M373.35 707.73l3.5-3.5M379.7 705.98h4.6M382 703.68v4.6M380.25 704.23l3.5 3.5M380.25 707.73l3.5-3.5" stroke="#ff0000" stroke-width="1.15" stroke-linecap="round" fill="none"/></g><path d="M216.5 729.5v-4M216.5 611.9v4M230.29 729.5v-4M230.29 611.9v4M244.08 729.5v-4M244.08 611.9v4M257.88 729.5v-4M257.88 611.9v4M271.67 729.5v-4M271.67 611.9v4M285.46 729.5v-4M285.46 611.9v4M299.25 729.5v-4M299.25 611.9v4M313.04 729.5v-4M313.04 611.9v4M326.83 729.5v-4M326.83 611.9v4M340.62 729.5v-4M340.62 611.9v4M354.42 729.5v-4M354.42 611.9v4M368.21 729.5v-4M368.21 611.9v4M382 729.5v-4M382 611.9v4M216.5 729.5h5.5M382 729.5h-5.5M216.5 715.5h4M382 715.5h-4M216.5 701.5h5.5M382 701.5h-5.5M216.5 687.5h4M382 687.5h-4M216.5 673.5h5.5M382 673.5h-5.5M216.5 659.5h4M382 659.5h-4M216.5 645.5h5.5M382 645.5h-5.5M216.5 631.5h4M382 631.5h-4M216.5 617.5h5.5M382 617.5h-5.5" stroke="#000" stroke-width="1" fill="none"/><rect x="216" y="611" width="1" height="120.1" fill="#000"/><rect x="381" y="611" width="2" height="120.1" fill="#000"/><rect x="216" y="611" width="167" height="2" fill="#000"/><rect x="216" y="729" width="167" height="1.6" fill="#000"/><line x1="216.5" y1="701.5" x2="382" y2="701.5" stroke="#000" stroke-width="1" stroke-dasharray="1 2.1"/><line x1="216.5" y1="673.5" x2="382" y2="673.5" stroke="#000" stroke-width="1" stroke-dasharray="1 2.1"/><line x1="216.5" y1="645.5" x2="382" y2="645.5" stroke="#000" stroke-width="1" stroke-dasharray="1 2.1"/><line x1="216.5" y1="617.5" x2="382" y2="617.5" stroke="#000" stroke-width="1" stroke-dasharray="1 2.1"/><line x1="244.08" y1="729.5" x2="244.08" y2="611.9" stroke="#000" stroke-width="1" stroke-dasharray="1 2.1"/><line x1="271.67" y1="729.5" x2="271.67" y2="611.9" stroke="#000" stroke-width="1" stroke-dasharray="1 2.1"/><line x1="299.25" y1="729.5" x2="299.25" y2="611.9" stroke="#000" stroke-width="1" stroke-dasharray="1 2.1"/><line x1="326.83" y1="729.5" x2="326.83" y2="611.9" stroke="#000" stroke-width="1" stroke-dasharray="1 2.1"/><line x1="354.42" y1="729.5" x2="354.42" y2="611.9" stroke="#000" stroke-width="1" stroke-dasharray="1 2.1"/><text x="212.2" y="731.9" font-size="8.6" text-anchor="end" fill="#000">0</text><text x="212.2" y="703.9" font-size="8.6" text-anchor="end" fill="#000">2</text><text x="212.2" y="675.9" font-size="8.6" text-anchor="end" fill="#000">4</text><text x="212.2" y="647.9" font-size="8.6" text-anchor="end" fill="#000">6</text><text x="212.2" y="619.9" font-size="8.6" text-anchor="end" fill="#000">8</text><text x="216.8" y="741" font-size="8.6" text-anchor="middle" fill="#000">0</text><text x="244.38" y="741" font-size="8.6" text-anchor="middle" fill="#000">4</text><text x="271.97" y="741" font-size="8.6" text-anchor="middle" fill="#000">8</text><text x="299.55" y="741" font-size="8.6" text-anchor="middle" fill="#000">12</text><text x="327.13" y="741" font-size="8.6" text-anchor="middle" fill="#000">16</text><text x="354.72" y="741" font-size="8.6" text-anchor="middle" fill="#000">20</text><text x="382.3" y="741" font-size="8.6" text-anchor="middle" fill="#000">24</text><text x="299.45" y="754.6" font-size="9.2" text-anchor="middle" textLength="103.29" lengthAdjust="spacingAndGlyphs" fill="#000" clip-path="url(#lc4)">Airport, Pump House 5</text></g>
<g><clipPath id="pc42"><rect x="409.5" y="611.9" width="165.5" height="117.6"/></clipPath><g clip-path="url(#pc42)"><polyline points="409.5,724.15 416.4,724.15 423.29,718.8 430.19,724.15 437.08,718.8 443.98,718.8 450.88,724.15 457.77,724.15 464.67,718.8 471.56,718.8 478.46,718.8 485.35,724.15 492.25,718.8 499.15,724.15 506.04,718.8 512.94,718.8 519.83,718.8 526.73,713.46 533.62,713.46 540.52,718.8 547.42,718.8 554.31,718.8 561.21,713.46 568.1,718.8 575,718.8" fill="none" stroke="#00ffff" stroke-width="1.25" stroke-linejoin="round"/><path d="M407.2 724.15h4.6M409.5 721.85v4.6M407.75 722.4l3.5 3.5M407.75 725.9l3.5-3.5M414.1 724.15h4.6M416.4 721.85v4.6M414.65 722.4l3.5 3.5M414.65 725.9l3.5-3.5M420.99 718.8h4.6M423.29 716.5v4.6M421.54 717.05l3.5 3.5M421.54 720.55l3.5-3.5M427.89 724.15h4.6M430.19 721.85v4.6M428.44 722.4l3.5 3.5M428.44 725.9l3.5-3.5M434.78 718.8h4.6M437.08 716.5v4.6M435.33 717.05l3.5 3.5M435.33 720.55l3.5-3.5M441.68 718.8h4.6M443.98 716.5v4.6M442.23 717.05l3.5 3.5M442.23 720.55l3.5-3.5M448.57 724.15h4.6M450.88 721.85v4.6M449.12 722.4l3.5 3.5M449.12 725.9l3.5-3.5M455.47 724.15h4.6M457.77 721.85v4.6M456.02 722.4l3.5 3.5M456.02 725.9l3.5-3.5M462.37 718.8h4.6M464.67 716.5v4.6M462.92 717.05l3.5 3.5M462.92 720.55l3.5-3.5M469.26 718.8h4.6M471.56 716.5v4.6M469.81 717.05l3.5 3.5M469.81 720.55l3.5-3.5M476.16 718.8h4.6M478.46 716.5v4.6M476.71 717.05l3.5 3.5M476.71 720.55l3.5-3.5M483.05 724.15h4.6M485.35 721.85v4.6M483.6 722.4l3.5 3.5M483.6 725.9l3.5-3.5M489.95 718.8h4.6M492.25 716.5v4.6M490.5 717.05l3.5 3.5M490.5 720.55l3.5-3.5M496.85 724.15h4.6M499.15 721.85v4.6M497.4 722.4l3.5 3.5M497.4 725.9l3.5-3.5M503.74 718.8h4.6M506.04 716.5v4.6M504.29 717.05l3.5 3.5M504.29 720.55l3.5-3.5M510.64 718.8h4.6M512.94 716.5v4.6M511.19 717.05l3.5 3.5M511.19 720.55l3.5-3.5M517.53 718.8h4.6M519.83 716.5v4.6M518.08 717.05l3.5 3.5M518.08 720.55l3.5-3.5M524.43 713.46h4.6M526.73 711.16v4.6M524.98 711.71l3.5 3.5M524.98 715.21l3.5-3.5M531.33 713.46h4.6M533.62 711.16v4.6M531.88 711.71l3.5 3.5M531.88 715.21l3.5-3.5M538.22 718.8h4.6M540.52 716.5v4.6M538.77 717.05l3.5 3.5M538.77 720.55l3.5-3.5M545.12 718.8h4.6M547.42 716.5v4.6M545.67 717.05l3.5 3.5M545.67 720.55l3.5-3.5M552.01 718.8h4.6M554.31 716.5v4.6M552.56 717.05l3.5 3.5M552.56 720.55l3.5-3.5M558.91 713.46h4.6M561.21 711.16v4.6M559.46 711.71l3.5 3.5M559.46 715.21l3.5-3.5M565.8 718.8h4.6M568.1 716.5v4.6M566.35 717.05l3.5 3.5M566.35 720.55l3.5-3.5M572.7 718.8h4.6M575 716.5v4.6M573.25 717.05l3.5 3.5M573.25 720.55l3.5-3.5" stroke="#00ffff" stroke-width="1.15" stroke-linecap="round" fill="none"/><polyline points="409.5,718.8 416.4,718.8 423.29,718.8 430.19,718.8 437.08,718.8 443.98,718.8 450.88,718.8 457.77,718.8 464.67,718.8 471.56,718.8 478.46,713.46 485.35,718.8 492.25,718.8 499.15,708.11 506.04,702.76 512.94,702.76 519.83,697.41 526.73,713.46 533.62,718.8 540.52,718.8 547.42,718.8 554.31,718.8 561.21,724.15 568.1,718.8 575,724.15" fill="none" stroke="#00ff00" stroke-width="1.25" stroke-linejoin="round"/><path d="M407.2 718.8h4.6M409.5 716.5v4.6M407.75 717.05l3.5 3.5M407.75 720.55l3.5-3.5M414.1 718.8h4.6M416.4 716.5v4.6M414.65 717.05l3.5 3.5M414.65 720.55l3.5-3.5M420.99 718.8h4.6M423.29 716.5v4.6M421.54 717.05l3.5 3.5M421.54 720.55l3.5-3.5M427.89 718.8h4.6M430.19 716.5v4.6M428.44 717.05l3.5 3.5M428.44 720.55l3.5-3.5M434.78 718.8h4.6M437.08 716.5v4.6M435.33 717.05l3.5 3.5M435.33 720.55l3.5-3.5M441.68 718.8h4.6M443.98 716.5v4.6M442.23 717.05l3.5 3.5M442.23 720.55l3.5-3.5M448.57 718.8h4.6M450.88 716.5v4.6M449.12 717.05l3.5 3.5M449.12 720.55l3.5-3.5M455.47 718.8h4.6M457.77 716.5v4.6M456.02 717.05l3.5 3.5M456.02 720.55l3.5-3.5M462.37 718.8h4.6M464.67 716.5v4.6M462.92 717.05l3.5 3.5M462.92 720.55l3.5-3.5M469.26 718.8h4.6M471.56 716.5v4.6M469.81 717.05l3.5 3.5M469.81 720.55l3.5-3.5M476.16 713.46h4.6M478.46 711.16v4.6M476.71 711.71l3.5 3.5M476.71 715.21l3.5-3.5M483.05 718.8h4.6M485.35 716.5v4.6M483.6 717.05l3.5 3.5M483.6 720.55l3.5-3.5M489.95 718.8h4.6M492.25 716.5v4.6M490.5 717.05l3.5 3.5M490.5 720.55l3.5-3.5M496.85 708.11h4.6M499.15 705.81v4.6M497.4 706.36l3.5 3.5M497.4 709.86l3.5-3.5M503.74 702.76h4.6M506.04 700.46v4.6M504.29 701.01l3.5 3.5M504.29 704.51l3.5-3.5M510.64 702.76h4.6M512.94 700.46v4.6M511.19 701.01l3.5 3.5M511.19 704.51l3.5-3.5M517.53 697.41h4.6M519.83 695.11v4.6M518.08 695.66l3.5 3.5M518.08 699.16l3.5-3.5M524.43 713.46h4.6M526.73 711.16v4.6M524.98 711.71l3.5 3.5M524.98 715.21l3.5-3.5M531.33 718.8h4.6M533.62 716.5v4.6M531.88 717.05l3.5 3.5M531.88 720.55l3.5-3.5M538.22 718.8h4.6M540.52 716.5v4.6M538.77 717.05l3.5 3.5M538.77 720.55l3.5-3.5M545.12 718.8h4.6M547.42 716.5v4.6M545.67 717.05l3.5 3.5M545.67 720.55l3.5-3.5M552.01 718.8h4.6M554.31 716.5v4.6M552.56 717.05l3.5 3.5M552.56 720.55l3.5-3.5M558.91 724.15h4.6M561.21 721.85v4.6M559.46 722.4l3.5 3.5M559.46 725.9l3.5-3.5M565.8 718.8h4.6M568.1 716.5v4.6M566.35 717.05l3.5 3.5M566.35 720.55l3.5-3.5M572.7 724.15h4.6M575 721.85v4.6M573.25 722.4l3.5 3.5M573.25 725.9l3.5-3.5" stroke="#00ff00" stroke-width="1.15" stroke-linecap="round" fill="none"/><polyline points="409.5,724.15 416.4,718.8 423.29,718.8 430.19,718.8 437.08,718.8 443.98,718.8 450.88,718.8 457.77,718.8 464.67,718.8 471.56,718.8 478.46,708.11 485.35,708.11 492.25,702.76 499.15,713.46 506.04,697.41 512.94,697.41 519.83,713.46 526.73,708.11 533.62,702.76 540.52,708.11 547.42,718.8 554.31,718.8 561.21,718.8 568.1,718.8 575,718.8" fill="none" stroke="#0000ff" stroke-width="1.25" stroke-linejoin="round"/><path d="M407.2 724.15h4.6M409.5 721.85v4.6M407.75 722.4l3.5 3.5M407.75 725.9l3.5-3.5M414.1 718.8h4.6M416.4 716.5v4.6M414.65 717.05l3.5 3.5M414.65 720.55l3.5-3.5M420.99 718.8h4.6M423.29 716.5v4.6M421.54 717.05l3.5 3.5M421.54 720.55l3.5-3.5M427.89 718.8h4.6M430.19 716.5v4.6M428.44 717.05l3.5 3.5M428.44 720.55l3.5-3.5M434.78 718.8h4.6M437.08 716.5v4.6M435.33 717.05l3.5 3.5M435.33 720.55l3.5-3.5M441.68 718.8h4.6M443.98 716.5v4.6M442.23 717.05l3.5 3.5M442.23 720.55l3.5-3.5M448.57 718.8h4.6M450.88 716.5v4.6M449.12 717.05l3.5 3.5M449.12 720.55l3.5-3.5M455.47 718.8h4.6M457.77 716.5v4.6M456.02 717.05l3.5 3.5M456.02 720.55l3.5-3.5M462.37 718.8h4.6M464.67 716.5v4.6M462.92 717.05l3.5 3.5M462.92 720.55l3.5-3.5M469.26 718.8h4.6M471.56 716.5v4.6M469.81 717.05l3.5 3.5M469.81 720.55l3.5-3.5M476.16 708.11h4.6M478.46 705.81v4.6M476.71 706.36l3.5 3.5M476.71 709.86l3.5-3.5M483.05 708.11h4.6M485.35 705.81v4.6M483.6 706.36l3.5 3.5M483.6 709.86l3.5-3.5M489.95 702.76h4.6M492.25 700.46v4.6M490.5 701.01l3.5 3.5M490.5 704.51l3.5-3.5M496.85 713.46h4.6M499.15 711.16v4.6M497.4 711.71l3.5 3.5M497.4 715.21l3.5-3.5M503.74 697.41h4.6M506.04 695.11v4.6M504.29 695.66l3.5 3.5M504.29 699.16l3.5-3.5M510.64 697.41h4.6M512.94 695.11v4.6M511.19 695.66l3.5 3.5M511.19 699.16l3.5-3.5M517.53 713.46h4.6M519.83 711.16v4.6M518.08 711.71l3.5 3.5M518.08 715.21l3.5-3.5M524.43 708.11h4.6M526.73 705.81v4.6M524.98 706.36l3.5 3.5M524.98 709.86l3.5-3.5M531.33 702.76h4.6M533.62 700.46v4.6M531.88 701.01l3.5 3.5M531.88 704.51l3.5-3.5M538.22 708.11h4.6M540.52 705.81v4.6M538.77 706.36l3.5 3.5M538.77 709.86l3.5-3.5M545.12 718.8h4.6M547.42 716.5v4.6M545.67 717.05l3.5 3.5M545.67 720.55l3.5-3.5M552.01 718.8h4.6M554.31 716.5v4.6M552.56 717.05l3.5 3.5M552.56 720.55l3.5-3.5M558.91 718.8h4.6M561.21 716.5v4.6M559.46 717.05l3.5 3.5M559.46 720.55l3.5-3.5M565.8 718.8h4.6M568.1 716.5v4.6M566.35 717.05l3.5 3.5M566.35 720.55l3.5-3.5M572.7 718.8h4.6M575 716.5v4.6M573.25 717.05l3.5 3.5M573.25 720.55l3.5-3.5" stroke="#0000ff" stroke-width="1.15" stroke-linecap="round" fill="none"/><polyline points="409.5,718.8 416.4,718.8 423.29,718.8 430.19,718.8 437.08,718.8 443.98,718.8 450.88,718.8 457.77,718.8 464.67,713.46 471.56,718.8 478.46,708.11 485.35,665.32 492.25,654.63 499.15,708.11 506.04,708.11 512.94,708.11 519.83,708.11 526.73,708.11 533.62,708.11 540.52,713.46 547.42,713.46 554.31,713.46 561.21,708.11 568.1,702.76 575,708.11" fill="none" stroke="#ff0000" stroke-width="1.25" stroke-linejoin="round"/><path d="M407.2 718.8h4.6M409.5 716.5v4.6M407.75 717.05l3.5 3.5M407.75 720.55l3.5-3.5M414.1 718.8h4.6M416.4 716.5v4.6M414.65 717.05l3.5 3.5M414.65 720.55l3.5-3.5M420.99 718.8h4.6M423.29 716.5v4.6M421.54 717.05l3.5 3.5M421.54 720.55l3.5-3.5M427.89 718.8h4.6M430.19 716.5v4.6M428.44 717.05l3.5 3.5M428.44 720.55l3.5-3.5M434.78 718.8h4.6M437.08 716.5v4.6M435.33 717.05l3.5 3.5M435.33 720.55l3.5-3.5M441.68 718.8h4.6M443.98 716.5v4.6M442.23 717.05l3.5 3.5M442.23 720.55l3.5-3.5M448.57 718.8h4.6M450.88 716.5v4.6M449.12 717.05l3.5 3.5M449.12 720.55l3.5-3.5M455.47 718.8h4.6M457.77 716.5v4.6M456.02 717.05l3.5 3.5M456.02 720.55l3.5-3.5M462.37 713.46h4.6M464.67 711.16v4.6M462.92 711.71l3.5 3.5M462.92 715.21l3.5-3.5M469.26 718.8h4.6M471.56 716.5v4.6M469.81 717.05l3.5 3.5M469.81 720.55l3.5-3.5M476.16 708.11h4.6M478.46 705.81v4.6M476.71 706.36l3.5 3.5M476.71 709.86l3.5-3.5M483.05 665.32h4.6M485.35 663.02v4.6M483.6 663.57l3.5 3.5M483.6 667.07l3.5-3.5M489.95 654.63h4.6M492.25 652.33v4.6M490.5 652.88l3.5 3.5M490.5 656.38l3.5-3.5M496.85 708.11h4.6M499.15 705.81v4.6M497.4 706.36l3.5 3.5M497.4 709.86l3.5-3.5M503.74 708.11h4.6M506.04 705.81v4.6M504.29 706.36l3.5 3.5M504.29 709.86l3.5-3.5M510.64 708.11h4.6M512.94 705.81v4.6M511.19 706.36l3.5 3.5M511.19 709.86l3.5-3.5M517.53 708.11h4.6M519.83 705.81v4.6M518.08 706.36l3.5 3.5M518.08 709.86l3.5-3.5M524.43 708.11h4.6M526.73 705.81v4.6M524.98 706.36l3.5 3.5M524.98 709.86l3.5-3.5M531.33 708.11h4.6M533.62 705.81v4.6M531.88 706.36l3.5 3.5M531.88 709.86l3.5-3.5M538.22 713.46h4.6M540.52 711.16v4.6M538.77 711.71l3.5 3.5M538.77 715.21l3.5-3.5M545.12 713.46h4.6M547.42 711.16v4.6M545.67 711.71l3.5 3.5M545.67 715.21l3.5-3.5M552.01 713.46h4.6M554.31 711.16v4.6M552.56 711.71l3.5 3.5M552.56 715.21l3.5-3.5M558.91 708.11h4.6M561.21 705.81v4.6M559.46 706.36l3.5 3.5M559.46 709.86l3.5-3.5M565.8 702.76h4.6M568.1 700.46v4.6M566.35 701.01l3.5 3.5M566.35 704.51l3.5-3.5M572.7 708.11h4.6M575 705.81v4.6M573.25 706.36l3.5 3.5M573.25 709.86l3.5-3.5" stroke="#ff0000" stroke-width="1.15" stroke-linecap="round" fill="none"/></g><path d="M409.5 729.5v-4M409.5 611.9v4M423.29 729.5v-4M423.29 611.9v4M437.08 729.5v-4M437.08 611.9v4M450.88 729.5v-4M450.88 611.9v4M464.67 729.5v-4M464.67 611.9v4M478.46 729.5v-4M478.46 611.9v4M492.25 729.5v-4M492.25 611.9v4M506.04 729.5v-4M506.04 611.9v4M519.83 729.5v-4M519.83 611.9v4M533.62 729.5v-4M533.62 611.9v4M547.42 729.5v-4M547.42 611.9v4M561.21 729.5v-4M561.21 611.9v4M575 729.5v-4M575 611.9v4M409.5 729.5h5.5M575 729.5h-5.5M409.5 715.5h4M575 715.5h-4M409.5 701.5h5.5M575 701.5h-5.5M409.5 687.5h4M575 687.5h-4M409.5 673.5h5.5M575 673.5h-5.5M409.5 659.5h4M575 659.5h-4M409.5 645.5h5.5M575 645.5h-5.5M409.5 631.5h4M575 631.5h-4M409.5 617.5h5.5M575 617.5h-5.5" stroke="#000" stroke-width="1" fill="none"/><rect x="409" y="611" width="1" height="120.1" fill="#000"/><rect x="574" y="611" width="2" height="120.1" fill="#000"/><rect x="409" y="611" width="167" height="2" fill="#000"/><rect x="409" y="729" width="167" height="1.6" fill="#000"/><line x1="409.5" y1="701.5" x2="575" y2="701.5" stroke="#000" stroke-width="1" stroke-dasharray="1 2.1"/><line x1="409.5" y1="673.5" x2="575" y2="673.5" stroke="#000" stroke-width="1" stroke-dasharray="1 2.1"/><line x1="409.5" y1="645.5" x2="575" y2="645.5" stroke="#000" stroke-width="1" stroke-dasharray="1 2.1"/><line x1="409.5" y1="617.5" x2="575" y2="617.5" stroke="#000" stroke-width="1" stroke-dasharray="1 2.1"/><line x1="437.08" y1="729.5" x2="437.08" y2="611.9" stroke="#000" stroke-width="1" stroke-dasharray="1 2.1"/><line x1="464.67" y1="729.5" x2="464.67" y2="611.9" stroke="#000" stroke-width="1" stroke-dasharray="1 2.1"/><line x1="492.25" y1="729.5" x2="492.25" y2="611.9" stroke="#000" stroke-width="1" stroke-dasharray="1 2.1"/><line x1="519.83" y1="729.5" x2="519.83" y2="611.9" stroke="#000" stroke-width="1" stroke-dasharray="1 2.1"/><line x1="547.42" y1="729.5" x2="547.42" y2="611.9" stroke="#000" stroke-width="1" stroke-dasharray="1 2.1"/><text x="405.2" y="731.9" font-size="8.6" text-anchor="end" fill="#000">0</text><text x="405.2" y="703.9" font-size="8.6" text-anchor="end" fill="#000">2</text><text x="405.2" y="675.9" font-size="8.6" text-anchor="end" fill="#000">4</text><text x="405.2" y="647.9" font-size="8.6" text-anchor="end" fill="#000">6</text><text x="405.2" y="619.9" font-size="8.6" text-anchor="end" fill="#000">8</text><text x="409.8" y="741" font-size="8.6" text-anchor="middle" fill="#000">0</text><text x="437.38" y="741" font-size="8.6" text-anchor="middle" fill="#000">4</text><text x="464.97" y="741" font-size="8.6" text-anchor="middle" fill="#000">8</text><text x="492.55" y="741" font-size="8.6" text-anchor="middle" fill="#000">12</text><text x="520.13" y="741" font-size="8.6" text-anchor="middle" fill="#000">16</text><text x="547.72" y="741" font-size="8.6" text-anchor="middle" fill="#000">20</text><text x="575.3" y="741" font-size="8.6" text-anchor="middle" fill="#000">24</text><text x="492.45" y="754.6" font-size="9.2" text-anchor="middle" textLength="41.61" lengthAdjust="spacingAndGlyphs" fill="#000" clip-path="url(#lc4)">Southern</text></g>
<g><clipPath id="pc44"><rect x="795.5" y="611.9" width="165.5" height="117.6"/></clipPath><g clip-path="url(#pc44)"><polyline points="795.5,713.46 797.22,713.46 798.95,713.46 800.67,718.8 802.4,718.8 804.12,718.8 805.84,718.8 807.57,713.46 809.29,708.11 811.02,697.41 812.74,708.11 814.46,702.76 816.19,697.41 817.91,708.11 819.64,708.11 821.36,708.11 823.08,713.46 824.81,702.76 826.53,708.11 828.26,708.11 829.98,708.11 831.7,713.46 833.43,713.46 835.15,713.46 836.88,713.46 838.6,713.46 840.32,713.46 842.05,718.8 843.77,718.8 845.49,721.48 847.22,721.48 848.94,724.15 850.67,713.46 852.39,708.11 854.11,708.11 855.84,708.11 857.56,713.46 859.29,702.76 861.01,697.41 862.73,689.39 864.46,681.37 866.18,649.28 867.91,681.37 869.63,713.46 871.35,713.46 873.08,718.8 874.8,713.46 876.53,713.46 878.25,713.46 879.97,718.8 881.7,718.8 883.42,716.13 885.15,713.46 886.87,724.15 888.59,724.15 890.32,718.8 892.04,713.46 893.77,702.76 895.49,702.76 897.21,708.11 898.94,702.76 900.66,633.24 902.39,686.72 904.11,692.06 905.83,697.41 907.56,681.37 909.28,686.72 911.01,692.06 912.73,697.41 914.45,708.11 916.18,708.11 917.9,708.11 919.62,708.11 921.35,697.41 923.07,692.06 924.8,697.41 926.52,697.41 928.24,692.06 929.97,702.76 931.69,702.76 933.42,708.11 935.14,713.46 936.86,697.41 938.59,692.06 940.31,686.72 942.04,697.41 943.76,697.41 945.48,702.76 947.21,702.76 948.93,692.06 950.66,697.41 952.38,686.72 954.1,702.76 955.83,702.76 957.55,702.76 959.28,702.76 961,708.11" fill="none" stroke="#ff0000" stroke-width="1.2" stroke-linejoin="round"/><polyline points="795.5,702.76 797.22,702.76 798.95,702.76 800.67,702.76 802.4,702.76 804.12,702.76 805.84,702.76 807.57,702.76 809.29,702.76 811.02,665.32 812.74,686.72 814.46,686.72 816.19,697.41 817.91,692.06 819.64,697.41 821.36,702.76 823.08,692.06 824.81,692.06 826.53,686.72 828.26,692.06 829.98,692.06 831.7,692.06 833.43,702.76 835.15,702.76 836.88,697.41 838.6,708.11 840.32,697.41 842.05,697.41 843.77,702.76 845.49,702.76 847.22,702.76 848.94,697.41 850.67,692.06 852.39,686.72 854.11,681.37 855.84,676.02 857.56,692.06 859.29,686.72 861.01,676.02 862.73,665.32 864.46,665.32 866.18,633.24 867.91,665.32 869.63,676.02 871.35,692.06 873.08,697.41 874.8,697.41 876.53,700.09 878.25,697.41 879.97,697.41 881.7,702.76 883.42,697.41 885.15,697.41 886.87,702.76 888.59,708.11 890.32,702.76 892.04,702.76 893.77,686.72 895.49,692.06 897.21,681.37 898.94,676.02 900.66,670.67 902.39,686.72 904.11,686.72 905.83,686.72 907.56,676.02 909.28,665.32 911.01,665.32 912.73,670.67 914.45,681.37 916.18,686.72 917.9,692.06 919.62,692.06 921.35,692.06 923.07,686.72 924.8,686.72 926.52,686.72 928.24,670.67 929.97,665.32 931.69,676.02 933.42,686.72 935.14,681.37 936.86,681.37 938.59,659.98 940.31,670.67 942.04,670.67 943.76,692.06 945.48,681.37 947.21,665.32 948.93,681.37 950.66,665.32 952.38,670.67 954.1,681.37 955.83,686.72 957.55,697.41 959.28,702.76 961,702.76" fill="none" stroke="#ff0000" stroke-width="1.2" stroke-linejoin="round"/><polyline points="795.5,692.06 797.22,702.76 798.95,702.76 800.67,708.11 802.4,708.11 804.12,705.43 805.84,702.76 807.57,697.41 809.29,697.41 811.02,697.41 812.74,692.06 814.46,692.06 816.19,692.06 817.91,681.37 819.64,692.06 821.36,697.41 823.08,697.41 824.81,692.06 826.53,686.72 828.26,681.37 829.98,697.41 831.7,686.72 833.43,692.06 835.15,694.74 836.88,697.41 838.6,692.06 840.32,697.41 842.05,702.76 843.77,702.76 845.49,702.76 847.22,702.76 848.94,697.41 850.67,686.72 852.39,686.72 854.11,686.72 855.84,681.37 857.56,686.72 859.29,692.06 861.01,681.37 862.73,670.67 864.46,665.32 866.18,649.28 867.91,692.06 869.63,702.76 871.35,702.76 873.08,708.11 874.8,702.76 876.53,692.06 879.97,697.41 881.7,697.41 883.42,702.76 885.15,702.76 886.87,708.11 888.59,708.11 890.32,697.41 892.04,681.37 893.77,686.72 895.49,681.37 897.21,686.72 898.94,659.98 900.66,676.02 902.39,686.72 904.11,681.37 905.83,676.02 907.56,670.67 909.28,665.32 911.01,665.32 912.73,686.72 914.45,692.06 916.18,686.72 917.9,686.72 919.62,681.37 921.35,681.37 923.07,692.06 924.8,697.41 928.24,681.37 929.97,665.32 931.69,676.02 933.42,686.72 935.14,676.02 936.86,665.32 938.59,665.32 940.31,665.32 942.04,654.63 943.76,659.98 945.48,633.24 947.21,676.02 948.93,686.72 950.66,681.37 952.38,659.98 954.1,659.98 955.83,665.32 957.55,686.72 959.28,681.37 961,686.72" fill="none" stroke="#ff0000" stroke-width="1.2" stroke-linejoin="round"/><polyline points="795.5,702.76 797.22,702.76 798.95,708.11 800.67,708.11 802.4,708.11 804.12,708.11 805.84,708.11 807.57,713.46 809.29,708.11 811.02,708.11 812.74,713.46 814.46,708.11 816.19,708.11 817.91,708.11 819.64,702.76 821.36,702.76 823.08,702.76 824.81,702.76 826.53,702.76 828.26,697.41 829.98,708.11 831.7,708.11 833.43,708.11 835.15,713.46 836.88,713.46 838.6,713.46 840.32,708.11 842.05,713.46 843.77,713.46 845.49,713.46 847.22,713.46 848.94,713.46 850.67,713.46 852.39,713.46 854.11,713.46 855.84,713.46 857.56,713.46 859.29,713.46 861.01,713.46 862.73,713.46 864.46,713.46 866.18,708.11 867.91,708.11 869.63,713.46 871.35,708.11 873.08,697.41 874.8,702.76 876.53,708.11 878.25,713.46 879.97,713.46 881.7,713.46 883.42,713.46 885.15,713.46 886.87,713.46 888.59,713.46 890.32,708.11 892.04,708.11 893.77,713.46 895.49,713.46 897.21,708.11 898.94,708.11 900.66,713.46 902.39,713.46 904.11,708.11 905.83,708.11 907.56,713.46 909.28,713.46 911.01,713.46 912.73,708.11 914.45,708.11 916.18,708.11 917.9,702.76 919.62,702.76 923.07,697.41 924.8,702.76 926.52,708.11 928.24,708.11 929.97,708.11 931.69,708.11 933.42,713.46 935.14,713.46 936.86,713.46 938.59,713.46 940.31,708.11 942.04,708.11 943.76,702.76 945.48,697.41 947.21,708.11 948.93,708.11 950.66,708.11 952.38,713.46 954.1,713.46 955.83,713.46 957.55,708.11 959.28,708.11 961,708.11" fill="none" stroke="#0000ff" stroke-width="1.2" stroke-linejoin="round"/><polyline points="795.5,713.46 797.22,713.46 798.95,713.46 800.67,713.46 802.4,713.46 804.12,713.46 805.84,713.46 807.57,708.11 809.29,708.11 811.02,708.11 812.74,713.46 814.46,708.11 816.19,708.11 817.91,713.46 819.64,713.46 821.36,713.46 823.08,713.46 824.81,713.46 826.53,713.46 828.26,713.46 829.98,713.46 831.7,713.46 833.43,713.46 835.15,713.46 836.88,713.46 838.6,713.46 840.32,713.46 842.05,708.11 843.77,708.11 845.49,708.11 847.22,708.11 848.94,708.11 850.67,702.76 852.39,702.76 854.11,702.76 855.84,702.76 857.56,702.76 859.29,702.76 861.01,702.76 862.73,702.76 864.46,702.76 866.18,697.41 867.91,697.41 869.63,697.41 871.35,702.76 873.08,702.76 874.8,702.76 876.53,702.76 878.25,708.11 879.97,708.11 881.7,708.11 883.42,708.11 885.15,708.11 886.87,708.11 888.59,708.11 890.32,702.76 892.04,697.41 893.77,702.76 895.49,708.11 897.21,708.11 898.94,708.11 900.66,708.11 902.39,708.11 904.11,713.46 905.83,708.11 907.56,702.76 909.28,702.76 911.01,702.76 912.73,702.76 914.45,702.76 916.18,702.76 917.9,708.11 919.62,708.11 921.35,708.11 923.07,702.76 924.8,708.11 926.52,702.76 928.24,708.11 929.97,708.11 931.69,702.76 933.42,702.76 935.14,702.76 936.86,708.11 938.59,702.76 940.31,702.76 942.04,702.76 943.76,702.76 945.48,702.76 947.21,697.41 948.93,702.76 950.66,702.76 952.38,708.11 954.1,708.11 955.83,708.11 957.55,708.11 959.28,708.11 961,702.76" fill="none" stroke="#0000ff" stroke-width="1.2" stroke-linejoin="round"/><polyline points="795.5,713.46 797.22,713.46 798.95,713.46 800.67,718.8 802.4,718.8 804.12,718.8 805.84,718.8 807.57,718.8 809.29,718.8 811.02,718.8 812.74,718.8 814.46,718.8 816.19,718.8 817.91,718.8 819.64,718.8 821.36,718.8 823.08,718.8 824.81,718.8 826.53,718.8 828.26,718.8 829.98,718.8 831.7,718.8 833.43,718.8 835.15,718.8 836.88,718.8 838.6,718.8 840.32,718.8 842.05,718.8 843.77,718.8 845.49,718.8 847.22,718.8 848.94,718.8 850.67,718.8 852.39,718.8 854.11,718.8 855.84,718.8 857.56,718.8 859.29,718.8 861.01,718.8 862.73,718.8 864.46,713.46 866.18,718.8 867.91,718.8 869.63,718.8 871.35,718.8 873.08,718.8 874.8,718.8 876.53,718.8 878.25,718.8 879.97,718.8 881.7,718.8 883.42,718.8 885.15,718.8 886.87,718.8 888.59,718.8 890.32,718.8 892.04,713.46 893.77,718.8 895.49,718.8 897.21,718.8 898.94,718.8 900.66,718.8 902.39,718.8 904.11,718.8 905.83,718.8 907.56,718.8 909.28,713.46 911.01,718.8 912.73,713.46 914.45,718.8 916.18,718.8 917.9,718.8 919.62,718.8 921.35,718.8 923.07,718.8 924.8,718.8 926.52,718.8 928.24,718.8 929.97,713.46 931.69,713.46 933.42,718.8 935.14,713.46 936.86,713.46 938.59,713.46 940.31,708.11 942.04,670.67 943.76,702.76 945.48,713.46 947.21,708.11 948.93,708.11 950.66,708.11 952.38,713.46 954.1,718.8 955.83,718.8 957.55,713.46 959.28,713.46 961,713.46" fill="none" stroke="#0000ff" stroke-width="1.2" stroke-linejoin="round"/><polyline points="795.5,713.46 797.22,713.46 798.95,708.11 800.67,713.46 802.4,713.46 804.12,713.46 805.84,718.8 807.57,718.8 809.29,713.46 811.02,713.46 812.74,713.46 814.46,713.46 816.19,713.46 817.91,713.46 819.64,708.11 821.36,702.76 823.08,708.11 824.81,708.11 826.53,708.11 828.26,708.11 829.98,708.11 831.7,708.11 833.43,708.11 835.15,708.11 836.88,713.46 838.6,713.46 840.32,718.8 842.05,708.11 843.77,718.8 845.49,718.8 847.22,713.46 848.94,713.46 850.67,718.8 852.39,718.8 854.11,718.8 855.84,718.8 857.56,713.46 859.29,713.46 861.01,713.46 862.73,713.46 864.46,713.46 866.18,713.46 867.91,708.11 869.63,708.11 871.35,713.46 873.08,713.46 874.8,713.46 876.53,713.46 878.25,708.11 883.42,702.76 885.15,708.11 886.87,708.11 892.04,713.46 900.66,708.11 902.39,713.46 905.83,697.41 907.56,718.8 911.01,708.11 912.73,713.46 914.45,718.8 916.18,718.8 917.9,718.8 919.62,718.8 921.35,718.8 923.07,713.46 924.8,718.8 926.52,713.46 928.24,713.46 929.97,708.11 931.69,708.11 933.42,708.11 935.14,702.76 936.86,708.11 938.59,708.11 940.31,708.11 942.04,708.11 943.76,708.11 945.48,708.11 947.21,708.11 948.93,713.46 950.66,713.46 952.38,713.46 954.1,708.11 955.83,708.11 957.55,713.46 959.28,718.8 961,718.8" fill="none" stroke="#0000ff" stroke-width="1.2" stroke-linejoin="round"/><polyline points="795.5,708.11 797.22,708.11 798.95,708.11 800.67,708.11 802.4,708.11 804.12,708.11 805.84,708.11 807.57,708.11 809.29,708.11 811.02,708.11 812.74,708.11 814.46,708.11 816.19,708.11 817.91,708.11 819.64,708.11 821.36,708.11 823.08,708.11 824.81,708.11 826.53,708.11 828.26,708.11 829.98,702.76 831.7,702.76 833.43,713.46 835.15,713.46 843.77,713.46 845.49,718.8 847.22,718.8 848.94,724.15 850.67,718.8 852.39,718.8 854.11,718.8 855.84,713.46 857.56,713.46 859.29,718.8 861.01,718.8 862.73,718.8 864.46,713.46 866.18,702.76 867.91,697.41 869.63,692.06 871.35,686.72 873.08,697.41 874.8,697.41 876.53,697.41 878.25,702.76 879.97,708.11 881.7,713.46 883.42,718.8 885.15,718.8 886.87,713.46 888.59,713.46 890.32,713.46 892.04,708.11 893.77,713.46 895.49,713.46 897.21,697.41 898.94,708.11 900.66,718.8 902.39,713.46 904.11,708.11 905.83,713.46 907.56,713.46 909.28,713.46 911.01,718.8 912.73,713.46 914.45,713.46 916.18,713.46 917.9,708.11 919.62,708.11 921.35,702.76 923.07,708.11 924.8,708.11 926.52,708.11 928.24,708.11 929.97,708.11 931.69,708.11 933.42,708.11 935.14,713.46 936.86,713.46 938.59,708.11 940.31,702.76 942.04,702.76 943.76,702.76 945.48,702.76 947.21,702.76 948.93,702.76 950.66,708.11 952.38,713.46 954.1,713.46 955.83,713.46 957.55,708.11 959.28,708.11 961,708.11" fill="none" stroke="#0000ff" stroke-width="1.2" stroke-linejoin="round"/><polyline points="795.5,702.76 797.22,702.76 798.95,702.76 800.67,702.76 802.4,702.76 804.12,702.76 805.84,702.76 807.57,702.76 809.29,692.06 811.02,702.76 812.74,702.76 814.46,702.76 816.19,702.76 817.91,702.76 819.64,702.76 821.36,702.76 823.08,686.72 824.81,676.02 826.53,676.02 828.26,681.37 829.98,692.06 831.7,702.76 833.43,702.76 835.15,702.76 836.88,702.76 840.32,686.72 842.05,697.41 843.77,702.76 845.49,702.76 847.22,702.76 848.94,708.11 850.67,702.76 852.39,702.76 854.11,702.76 855.84,702.76 857.56,702.76 859.29,702.76 861.01,702.76 862.73,686.72 864.46,665.32 866.18,665.32 867.91,654.63 869.63,617.19 871.35,686.72 873.08,702.76 874.8,702.76 876.53,702.76 878.25,702.76 879.97,702.76 881.7,702.76 883.42,702.76 885.15,702.76 886.87,702.76 888.59,702.76 890.32,702.76 892.04,702.76 893.77,702.76 895.49,702.76 897.21,681.37 898.94,681.37 900.66,692.06 902.39,697.41 904.11,697.41 905.83,686.72 907.56,697.41 909.28,697.41 911.01,697.41 912.73,692.06 914.45,686.72 916.18,686.72 917.9,697.41 919.62,697.41 924.8,686.72 926.52,692.06 928.24,692.06 929.97,692.06 931.69,686.72 933.42,692.06 935.14,692.06 936.86,692.06 938.59,697.41 940.31,697.41 942.04,697.41 943.76,697.41 945.48,697.41 947.21,697.41 948.93,692.06 950.66,697.41 952.38,697.41 954.1,692.06 955.83,697.41 957.55,697.41 959.28,692.06 961,692.06" fill="none" stroke="#0000ff" stroke-width="1.2" stroke-linejoin="round"/><polyline points="795.5,702.76 797.22,702.76 798.95,708.11 800.67,702.76 802.4,702.76 804.12,702.76 805.84,702.76 807.57,702.76 809.29,702.76 811.02,686.72 812.74,702.76 814.46,702.76 816.19,702.76 817.91,702.76 819.64,702.76 821.36,708.11 823.08,702.76 824.81,702.76 826.53,702.76 828.26,702.76 829.98,702.76 831.7,702.76 833.43,702.76 835.15,702.76 836.88,702.76 838.6,697.41 840.32,702.76 842.05,708.11 843.77,702.76 845.49,702.76 847.22,708.11 848.94,708.11 850.67,708.11 852.39,708.11 854.11,708.11 855.84,708.11 857.56,702.76 859.29,702.76 861.01,702.76 862.73,692.06 864.46,692.06 866.18,654.63 867.91,686.72 869.63,702.76 871.35,702.76 873.08,702.76 874.8,702.76 876.53,702.76 878.25,702.76 879.97,702.76 881.7,702.76 883.42,702.76 885.15,702.76 886.87,708.11 888.59,708.11 890.32,702.76 892.04,702.76 893.77,702.76 895.49,697.41 897.21,692.06 898.94,692.06 900.66,617.19 902.39,692.06 904.11,681.37 905.83,681.37 907.56,670.67 909.28,686.72 911.01,692.06 912.73,697.41 914.45,702.76 916.18,702.76 917.9,702.76 919.62,692.06 923.07,670.67 924.8,676.02 928.24,665.32 929.97,686.72 931.69,686.72 933.42,702.76 935.14,708.11 936.86,702.76 938.59,697.41 940.31,692.06 942.04,697.41 943.76,697.41 945.48,702.76 947.21,702.76 948.93,686.72 950.66,692.06 952.38,692.06 954.1,697.41 955.83,697.41 957.55,697.41 959.28,681.37 961,692.06" fill="none" stroke="#0000ff" stroke-width="1.2" stroke-linejoin="round"/><polyline points="795.5,686.72 797.22,686.72 798.95,692.06 800.67,692.06 802.4,686.72 804.12,686.72 805.84,692.06 807.57,686.72 809.29,681.37 811.02,681.37 812.74,681.37 814.46,686.72 816.19,686.72 817.91,692.06 819.64,702.76 821.36,697.41 823.08,686.72 824.81,681.37 826.53,686.72 828.26,681.37 829.98,676.02 831.7,681.37 833.43,686.72 835.15,692.06 836.88,686.72 838.6,670.67 840.32,681.37 842.05,659.98 843.77,665.32 845.49,654.63 847.22,659.98 848.94,659.98 850.67,670.67 852.39,681.37 854.11,686.72 855.84,676.02 857.56,676.02 859.29,670.67 861.01,676.02 862.73,676.02 864.46,670.67 866.18,670.67 867.91,692.06 869.63,681.37 871.35,686.72 873.08,681.37 874.8,681.37 876.53,686.72 878.25,686.72 879.97,697.41 881.7,697.41 883.42,670.67 885.15,681.37 886.87,686.72 888.59,686.72 890.32,686.72 892.04,665.32 893.77,659.98 895.49,665.32 897.21,670.67 898.94,681.37 900.66,665.32 902.39,654.63 904.11,665.32 905.83,676.02 907.56,681.37 909.28,670.67 911.01,676.02 912.73,649.28 914.45,670.67 916.18,681.37 917.9,676.02 919.62,692.06 921.35,702.76 923.07,686.72 924.8,670.67 926.52,686.72 928.24,692.06 929.97,681.37 931.69,681.37 933.42,686.72 935.14,686.72 936.86,686.72 938.59,686.72 940.31,676.02 942.04,676.02 943.76,686.72 945.48,686.72 947.21,681.37 948.93,681.37 950.66,681.37 952.38,681.37 954.1,681.37 955.83,692.06 957.55,697.41 959.28,676.02 961,665.32" fill="none" stroke="#0000ff" stroke-width="1.2" stroke-linejoin="round"/><polyline points="795.5,692.06 797.22,692.06 798.95,692.06 800.67,692.06 802.4,689.39 804.12,689.39 805.84,697.41 807.57,697.41 809.29,700.09 811.02,700.09 812.74,692.06 814.46,694.74 816.19,686.72 817.91,692.06 819.64,700.09 821.36,700.09 823.08,697.41 824.81,697.41 826.53,697.41 828.26,697.41 829.98,692.06 831.7,694.74 833.43,694.74 835.15,692.06 836.88,692.06 838.6,692.06 840.32,692.06 842.05,697.41 843.77,692.06 845.49,697.41 847.22,700.09 848.94,700.09 850.67,700.09 852.39,700.09 854.11,700.09 855.84,700.09 857.56,700.09 859.29,700.09 861.01,700.09 862.73,697.41 864.46,692.06 866.18,686.72 867.91,692.06 869.63,692.06 871.35,686.72 873.08,689.39 874.8,689.39 876.53,686.72 878.25,686.72 879.97,689.39 881.7,681.37 883.42,684.04 885.15,676.02 886.87,676.02 888.59,686.72 890.32,681.37 892.04,686.72 893.77,692.06 895.49,692.06 897.21,689.39 898.94,697.41 900.66,697.41 902.39,697.41 904.11,694.74 905.83,697.41 907.56,697.41 909.28,694.74 911.01,694.74 912.73,697.41 914.45,692.06 916.18,697.41 917.9,692.06 919.62,686.72 921.35,686.72 923.07,686.72 924.8,686.72 926.52,681.37 928.24,681.37 929.97,692.06 931.69,697.41 933.42,697.41 935.14,697.41 936.86,689.39 938.59,686.72 940.31,684.04 942.04,686.72 943.76,692.06 945.48,694.74 947.21,697.41 948.93,697.41 950.66,697.41 952.38,697.41 954.1,697.41 955.83,697.41 957.55,692.06 959.28,692.06 961,694.74" fill="none" stroke="#0000ff" stroke-width="1.2" stroke-linejoin="round"/><polyline points="795.5,697.41 797.22,708.11 798.95,708.11 800.67,713.46 802.4,713.46 804.12,713.46 805.84,713.46 807.57,702.76 809.29,676.02 811.02,697.41 812.74,692.06 814.46,702.76 816.19,702.76 817.91,697.41 819.64,659.98 821.36,665.32 823.08,654.63 824.81,627.89 826.53,649.28 828.26,697.41 829.98,702.76 831.7,702.76 833.43,708.11 835.15,708.11 836.88,708.11 838.6,708.11 840.32,708.11 842.05,708.11 843.77,713.46 845.49,713.46 847.22,713.46 848.94,713.46 850.67,702.76 852.39,702.76 854.11,702.76 855.84,708.11 857.56,708.11 859.29,708.11 861.01,686.72 862.73,686.72 864.46,643.93 866.18,611.84 867.91,654.63 869.63,692.06 871.35,702.76 873.08,708.11 874.8,708.11 876.53,708.11 878.25,708.11 879.97,708.11 881.7,708.11 883.42,708.11 885.15,705.43 886.87,702.76 888.59,708.11 890.32,708.11 892.04,702.76 893.77,702.76 895.49,708.11 897.21,670.67 898.94,659.98 900.66,686.72 902.39,676.02 904.11,676.02 905.83,665.32 907.56,692.06 909.28,692.06 911.01,676.02 912.73,638.58 914.45,649.28 916.18,659.98 917.9,676.02 919.62,692.06 921.35,681.37 923.07,633.24 924.8,659.98 926.52,686.72 928.24,681.37 929.97,676.02 931.69,665.32 933.42,676.02 935.14,692.06 936.86,681.37 942.04,665.32 943.76,697.41 945.48,697.41 947.21,692.06 948.93,686.72 950.66,686.72 952.38,686.72 954.1,676.02 955.83,681.37 957.55,670.67 959.28,670.67 961,681.37" fill="none" stroke="#0000ff" stroke-width="1.2" stroke-linejoin="round"/><polyline points="795.5,729.5 797.22,729.5 798.95,729.5 800.67,726.83 802.4,724.15 804.12,713.46 805.84,729.5 807.57,724.15 809.29,729.5 811.02,729.5 812.74,729.5 814.46,729.5 816.19,729.5 817.91,724.15 819.64,718.8 821.36,713.46 823.08,718.8 824.81,724.15 826.53,724.15 828.26,724.15 829.98,724.15 831.7,729.5 833.43,729.5 835.15,729.5 836.88,729.5 838.6,729.5 840.32,729.5 842.05,729.5 843.77,729.5 845.49,729.5 847.22,729.5 848.94,729.5 850.67,724.15 852.39,713.46 854.11,724.15 855.84,724.15 857.56,724.15 859.29,716.13 861.01,708.11 862.73,708.11 864.46,713.46 866.18,718.8 867.91,718.8 869.63,724.15 871.35,724.15 873.08,724.15 874.8,724.15 876.53,724.15 878.25,724.15 879.97,724.15 881.7,724.15 883.42,724.15 886.87,708.11 888.59,718.8 890.32,718.8 892.04,718.8 893.77,724.15 895.49,718.8 897.21,718.8 898.94,718.8 900.66,718.8 902.39,724.15 904.11,724.15 905.83,718.8 907.56,713.46 909.28,708.11 911.01,702.76 912.73,702.76 914.45,713.46 916.18,718.8 917.9,718.8 919.62,718.8 921.35,718.8 923.07,713.46 924.8,718.8 926.52,718.8 928.24,718.8 929.97,718.8 931.69,718.8 933.42,718.8 935.14,718.8 936.86,713.46 938.59,713.46 940.31,713.46 942.04,713.46 943.76,718.8 945.48,697.41 947.21,702.76 948.93,713.46 950.66,702.76 952.38,697.41 954.1,692.06 955.83,692.06 957.55,713.46 959.28,718.8 961,718.8" fill="none" stroke="#0000ff" stroke-width="1.2" stroke-linejoin="round"/><polyline points="795.5,718.8 797.22,721.48 798.95,724.15 800.67,729.5 802.4,718.8 804.12,721.48 805.84,724.15 807.57,724.15 809.29,724.15 811.02,724.15 812.74,729.5 814.46,724.15 816.19,724.15 817.91,718.8 819.64,718.8 821.36,713.46 823.08,718.8 824.81,718.8 826.53,718.8 828.26,718.8 829.98,718.8 831.7,718.8 833.43,718.8 835.15,718.8 836.88,718.8 838.6,718.8 840.32,718.8 842.05,718.8 843.77,718.8 845.49,718.8 847.22,718.8 848.94,718.8 850.67,713.46 852.39,716.13 854.11,718.8 855.84,718.8 857.56,718.8 859.29,718.8 861.01,718.8 862.73,718.8 864.46,718.8 866.18,718.8 867.91,718.8 869.63,718.8 871.35,718.8 873.08,718.8 874.8,718.8 876.53,718.8 878.25,718.8 879.97,718.8 881.7,718.8 883.42,718.8 885.15,708.11 886.87,718.8 888.59,718.8 890.32,718.8 892.04,718.8 893.77,718.8 895.49,718.8 897.21,718.8 898.94,718.8 900.66,718.8 902.39,718.8 904.11,718.8 905.83,713.46 907.56,708.11 909.28,718.8 911.01,718.8 912.73,713.46 914.45,718.8 916.18,716.13 917.9,713.46 919.62,713.46 921.35,713.46 923.07,713.46 924.8,713.46 926.52,713.46 928.24,713.46 929.97,713.46 931.69,713.46 933.42,718.8 935.14,718.8 936.86,713.46 938.59,718.8 940.31,718.8 942.04,713.46 943.76,713.46 945.48,702.76 947.21,708.11 948.93,702.76 950.66,697.41 952.38,681.37 954.1,692.06 955.83,708.11 957.55,713.46 959.28,713.46 961,713.46" fill="none" stroke="#0000ff" stroke-width="1.2" stroke-linejoin="round"/><polyline points="795.5,693.1 797.22,693.1 798.95,693.1 800.67,693.1 802.4,693.1 804.12,693.1 805.84,693.1 807.57,693.1 809.29,693.1 811.02,693.1 812.74,687.5 814.46,683.86 816.19,687.08 817.91,690.44 819.64,691 821.36,690.44 823.08,691.42 824.81,691.7 826.53,691.7 828.26,691.7 829.98,691.7 831.7,691.7 833.43,691.7 835.15,691.7 836.88,691.14 838.6,691.14 840.32,693.8 842.05,693.8 843.77,693.8 845.49,693.8 847.22,693.8 848.94,693.8 850.67,693.8 852.39,693.8 854.11,696.88 855.84,694.5 857.56,696.18 859.29,694.5 861.01,696.18 862.73,695.9 864.46,691.84 866.18,693.1 867.91,693.1 869.63,693.1 871.35,693.1 873.08,693.1 874.8,693.1 876.53,693.1 878.25,693.8 879.97,693.8 881.7,693.8 883.42,693.8 885.15,693.8 886.87,693.8 888.59,693.8 890.32,693.8 892.04,693.8 893.77,692.96 895.49,689.74 897.21,689.74 898.94,690.72 900.66,694.36 902.39,692.26 904.11,694.08 905.83,694.36 907.56,696.18 909.28,695.2 911.01,695.2 912.73,695.2 914.45,695.2 916.18,695.2 917.9,695.2 919.62,695.06 921.35,695.06 923.07,695.06 924.8,695.06 926.52,695.06 928.24,695.06 929.97,695.06 931.69,695.06 933.42,695.06 935.14,695.06 936.86,695.06 938.59,694.08 940.31,691.84 942.04,682.04 943.76,687.08 945.48,682.74 947.21,688.62 948.93,691.84 950.66,695.06 952.38,695.06 954.1,695.06 955.83,695.06 957.55,695.06 959.28,695.06 961,695.06" fill="none" stroke="#0000ff" stroke-width="1.2" stroke-linejoin="round"/><polyline points="795.5,697.41 797.22,697.41 798.95,692.06 800.67,697.41 802.4,697.41 804.12,697.41 805.84,692.06 807.57,702.76 809.29,702.76 811.02,697.41 812.74,692.06 814.46,692.06 816.19,697.41 817.91,702.76 819.64,708.11 821.36,713.46 823.08,708.11 824.81,713.46 826.53,708.11 828.26,702.76 829.98,702.76 831.7,702.76 833.43,702.76 835.15,702.76 836.88,702.76 838.6,697.41 840.32,697.41 842.05,702.76 843.77,700.09 845.49,697.41 847.22,697.41 848.94,697.41 850.67,686.72 852.39,692.06 854.11,697.41 855.84,692.06 862.73,670.67 864.46,681.37 866.18,676.02 867.91,681.37 869.63,697.41 871.35,697.41 873.08,697.41 874.8,697.41 876.53,692.06 878.25,697.41 879.97,692.06 881.7,697.41 883.42,692.06 885.15,692.06 886.87,692.06 888.59,697.41 890.32,697.41 892.04,697.41 893.77,697.41 895.49,686.72 897.21,697.41 898.94,686.72 900.66,659.98 902.39,686.72 904.11,686.72 905.83,686.72 907.56,681.37 909.28,686.72 911.01,692.06 912.73,697.41 914.45,692.06 916.18,692.06 917.9,686.72 919.62,700.09 921.35,681.37 923.07,676.02 924.8,681.37 928.24,670.67 929.97,670.67 931.69,665.32 933.42,686.72 935.14,686.72 936.86,686.72 938.59,665.32 940.31,659.98 942.04,692.06 943.76,708.11 945.48,708.11 947.21,692.06 948.93,686.72 950.66,686.72 952.38,686.72 954.1,697.41 955.83,697.41 957.55,686.72 959.28,686.72 961,692.06" fill="none" stroke="#0000ff" stroke-width="1.2" stroke-linejoin="round"/><polyline points="795.5,718.8 797.22,718.8 798.95,718.8 800.67,718.8 802.4,718.8 804.12,718.8 805.84,718.8 807.57,718.8 809.29,724.15 811.02,724.15 812.74,724.15 814.46,724.15 816.19,724.15 817.91,724.15 819.64,724.15 821.36,718.8 823.08,718.8 824.81,718.8 826.53,718.8 828.26,718.8 829.98,718.8 831.7,724.15 833.43,724.15 835.15,718.8 836.88,718.8 838.6,724.15 840.32,724.15 842.05,724.15 843.77,724.15 845.49,724.15 847.22,724.15 848.94,729.5 850.67,724.15 852.39,724.15 854.11,724.15 855.84,729.5 857.56,729.5 859.29,729.5 861.01,724.15 862.73,724.15 864.46,724.15 866.18,724.15 867.91,724.15 869.63,724.15 871.35,724.15 873.08,718.8 874.8,718.8 876.53,718.8 878.25,718.8 879.97,718.8 881.7,718.8 883.42,718.8 885.15,724.15 886.87,724.15 888.59,724.15 890.32,724.15 892.04,724.15 893.77,724.15 895.49,724.15 897.21,724.15 898.94,724.15 900.66,724.15 902.39,724.15 904.11,718.8 905.83,718.8 907.56,713.46 909.28,713.46 911.01,713.46 912.73,718.8 914.45,718.8 916.18,718.8 917.9,718.8 919.62,718.8 921.35,718.8 923.07,718.8 924.8,718.8 926.52,718.8 928.24,724.15 929.97,718.8 931.69,718.8 933.42,724.15 935.14,729.5 936.86,729.5 938.59,724.15 940.31,724.15 942.04,724.15 943.76,713.46 945.48,708.11 947.21,718.8 948.93,713.46 950.66,718.8 952.38,718.8 954.1,708.11 955.83,718.8 957.55,713.46 959.28,718.8 961,718.8" fill="none" stroke="#0000ff" stroke-width="1.2" stroke-linejoin="round"/><polyline points="795.5,718.8 797.22,718.8 798.95,718.8 800.67,718.8 802.4,718.8 804.12,718.8 805.84,718.8 807.57,718.8 809.29,718.8 811.02,718.8 812.74,718.8 814.46,718.8 816.19,697.41 817.91,702.76 819.64,713.46 821.36,713.46 823.08,713.46 824.81,713.46 826.53,724.15 828.26,718.8 829.98,718.8 831.7,718.8 833.43,718.8 835.15,718.8 836.88,718.8 838.6,718.8 840.32,718.8 842.05,718.8 843.77,718.8 845.49,718.8 847.22,718.8 848.94,718.8 850.67,718.8 852.39,718.8 854.11,718.8 855.84,718.8 857.56,718.8 859.29,718.8 861.01,713.46 862.73,713.46 864.46,713.46 866.18,708.11 867.91,713.46 869.63,718.8 871.35,718.8 873.08,718.8 874.8,718.8 876.53,713.46 878.25,718.8 879.97,718.8 881.7,718.8 883.42,718.8 885.15,718.8 886.87,718.8 888.59,718.8 890.32,718.8 892.04,718.8 893.77,702.76 895.49,702.76 897.21,713.46 898.94,713.46 900.66,718.8 902.39,718.8 904.11,718.8 905.83,718.8 907.56,718.8 909.28,713.46 911.01,713.46 912.73,713.46 914.45,718.8 916.18,718.8 917.9,718.8 919.62,718.8 921.35,718.8 923.07,718.8 924.8,718.8 926.52,718.8 928.24,718.8 929.97,718.8 931.69,724.15 933.42,718.8 935.14,718.8 936.86,713.46 938.59,708.11 940.31,702.76 942.04,713.46 943.76,713.46 945.48,708.11 947.21,708.11 948.93,713.46 950.66,718.8 952.38,718.8 954.1,718.8 955.83,718.8 957.55,718.8 959.28,718.8 961,718.8" fill="none" stroke="#0000ff" stroke-width="1.2" stroke-linejoin="round"/><polyline points="795.5,700.1 797.22,700.1 798.95,700.1 800.67,700.38 802.4,700.8 804.12,700.8 805.84,700.8 807.57,700.1 809.29,699.4 811.02,697.3 812.74,696.6 814.46,694.36 816.19,694.36 817.91,697.3 819.64,700.1 821.36,700.1 823.08,698.7 824.81,698 826.53,698 828.26,697.16 829.98,697.16 831.7,700.8 833.43,700.8 835.15,700.8 836.88,701.5 838.6,701.92 840.32,701.92 842.05,702.06 843.77,702.2 845.49,702.2 847.22,702.2 848.94,702.2 850.67,702.06 852.39,700.1 854.11,701.5 855.84,701.78 857.56,701.5 859.29,700.1 861.01,699.4 862.73,698.7 864.46,698.7 866.18,698.42 867.91,698.14 869.63,697.86 871.35,697.58 873.08,697.3 874.8,697.3 876.53,697.02 878.25,698 879.97,698 881.7,698.98 883.42,699.4 885.15,698.98 886.87,700.1 888.59,700.1 890.32,698.56 892.04,698.98 893.77,694.36 895.49,692.4 897.21,697.3 898.94,697.3 900.66,697.86 902.39,698.7 904.11,698.7 905.83,697.86 907.56,698.7 909.28,699.68 911.01,699.68 912.73,699.68 914.45,698.7 916.18,698.7 917.9,698.7 919.62,698.98 921.35,699.4 923.07,698.56 924.8,699.4 926.52,700.38 928.24,700.8 929.97,701.36 931.69,701.36 933.42,701.78 935.14,701.36 936.86,700.38 938.59,700.8 940.31,700.8 942.04,698.98 943.76,696.6 945.48,696.6 947.21,701.5 948.93,701.78 950.66,703.6 952.38,704.58 954.1,705.98 955.83,705.98 957.55,705.98 959.28,705.98 961,705.98" fill="none" stroke="#0000ff" stroke-width="1.2" stroke-linejoin="round"/><polyline points="795.5,724.15 797.22,724.15 798.95,718.8 800.67,724.15 802.4,718.8 804.12,718.8 805.84,724.15 807.57,724.15 809.29,718.8 811.02,718.8 812.74,718.8 814.46,724.15 816.19,718.8 817.91,724.15 819.64,718.8 821.36,718.8 823.08,718.8 824.81,713.46 826.53,713.46 828.26,718.8 829.98,718.8 831.7,718.8 833.43,713.46 835.15,718.8 836.88,718.8 838.6,718.8 840.32,718.8 842.05,718.8 843.77,718.8 845.49,718.8 847.22,718.8 848.94,718.8 850.67,718.8 852.39,718.8 854.11,713.46 855.84,718.8 857.56,718.8 859.29,708.11 861.01,702.76 862.73,702.76 864.46,697.41 866.18,713.46 867.91,718.8 869.63,718.8 871.35,718.8 873.08,718.8 874.8,724.15 876.53,718.8 878.25,724.15 879.97,718.8 881.7,718.8 883.42,718.8 885.15,718.8 886.87,718.8 888.59,718.8 890.32,718.8 892.04,718.8 893.77,718.8 895.49,708.11 897.21,708.11 898.94,702.76 900.66,713.46 902.39,697.41 904.11,697.41 905.83,713.46 907.56,708.11 909.28,702.76 911.01,708.11 912.73,718.8 914.45,718.8 916.18,718.8 917.9,718.8 919.62,718.8 921.35,718.8 923.07,718.8 924.8,718.8 926.52,718.8 928.24,718.8 929.97,718.8 931.69,718.8 933.42,713.46 935.14,718.8 936.86,708.11 938.59,665.32 940.31,654.63 942.04,708.11 943.76,708.11 945.48,708.11 947.21,708.11 948.93,708.11 950.66,708.11 952.38,713.46 954.1,713.46 955.83,713.46 957.55,708.11 959.28,702.76 961,708.11" fill="none" stroke="#0000ff" stroke-width="1.2" stroke-linejoin="round"/></g><path d="M795.5 729.5v-4M795.5 611.9v4M816.19 729.5v-4M816.19 611.9v4M836.88 729.5v-4M836.88 611.9v4M857.56 729.5v-4M857.56 611.9v4M878.25 729.5v-4M878.25 611.9v4M898.94 729.5v-4M898.94 611.9v4M919.62 729.5v-4M919.62 611.9v4M940.31 729.5v-4M940.31 611.9v4M961 729.5v-4M961 611.9v4M795.5 729.5h5.5M961 729.5h-5.5M795.5 715.5h4M961 715.5h-4M795.5 701.5h5.5M961 701.5h-5.5M795.5 687.5h4M961 687.5h-4M795.5 673.5h5.5M961 673.5h-5.5M795.5 659.5h4M961 659.5h-4M795.5 645.5h5.5M961 645.5h-5.5M795.5 631.5h4M961 631.5h-4M795.5 617.5h5.5M961 617.5h-5.5" stroke="#000" stroke-width="1" fill="none"/><rect x="795" y="611" width="1" height="120.1" fill="#000"/><rect x="960" y="611" width="2" height="120.1" fill="#000"/><rect x="795" y="611" width="167" height="2" fill="#000"/><rect x="795" y="729" width="167" height="1.6" fill="#000"/><line x1="795.5" y1="701.5" x2="961" y2="701.5" stroke="#000" stroke-width="1" stroke-dasharray="1 2.1"/><line x1="795.5" y1="673.5" x2="961" y2="673.5" stroke="#000" stroke-width="1" stroke-dasharray="1 2.1"/><line x1="795.5" y1="645.5" x2="961" y2="645.5" stroke="#000" stroke-width="1" stroke-dasharray="1 2.1"/><line x1="795.5" y1="617.5" x2="961" y2="617.5" stroke="#000" stroke-width="1" stroke-dasharray="1 2.1"/><line x1="836.88" y1="729.5" x2="836.88" y2="611.9" stroke="#000" stroke-width="1" stroke-dasharray="1 2.1"/><line x1="878.25" y1="729.5" x2="878.25" y2="611.9" stroke="#000" stroke-width="1" stroke-dasharray="1 2.1"/><line x1="919.62" y1="729.5" x2="919.62" y2="611.9" stroke="#000" stroke-width="1" stroke-dasharray="1 2.1"/><text x="791.2" y="731.9" font-size="8.6" text-anchor="end" fill="#000">0</text><text x="791.2" y="703.9" font-size="8.6" text-anchor="end" fill="#000">2</text><text x="791.2" y="675.9" font-size="8.6" text-anchor="end" fill="#000">4</text><text x="791.2" y="647.9" font-size="8.6" text-anchor="end" fill="#000">6</text><text x="791.2" y="619.9" font-size="8.6" text-anchor="end" fill="#000">8</text><text x="795.8" y="741" font-size="8.6" text-anchor="middle" fill="#000">&#8722;72</text><text x="837.17" y="741" font-size="8.6" text-anchor="middle" fill="#000">&#8722;48</text><text x="878.55" y="741" font-size="8.6" text-anchor="middle" fill="#000">&#8722;24</text><text x="919.92" y="741" font-size="8.6" text-anchor="middle" fill="#000">0</text><text x="961.3" y="741" font-size="8.6" text-anchor="middle" fill="#000">24</text><text x="878.45" y="754.6" font-size="9.2" text-anchor="middle" textLength="17.48" lengthAdjust="spacingAndGlyphs" fill="#000" clip-path="url(#lc4)">ALL</text></g>
</svg></body></html>
